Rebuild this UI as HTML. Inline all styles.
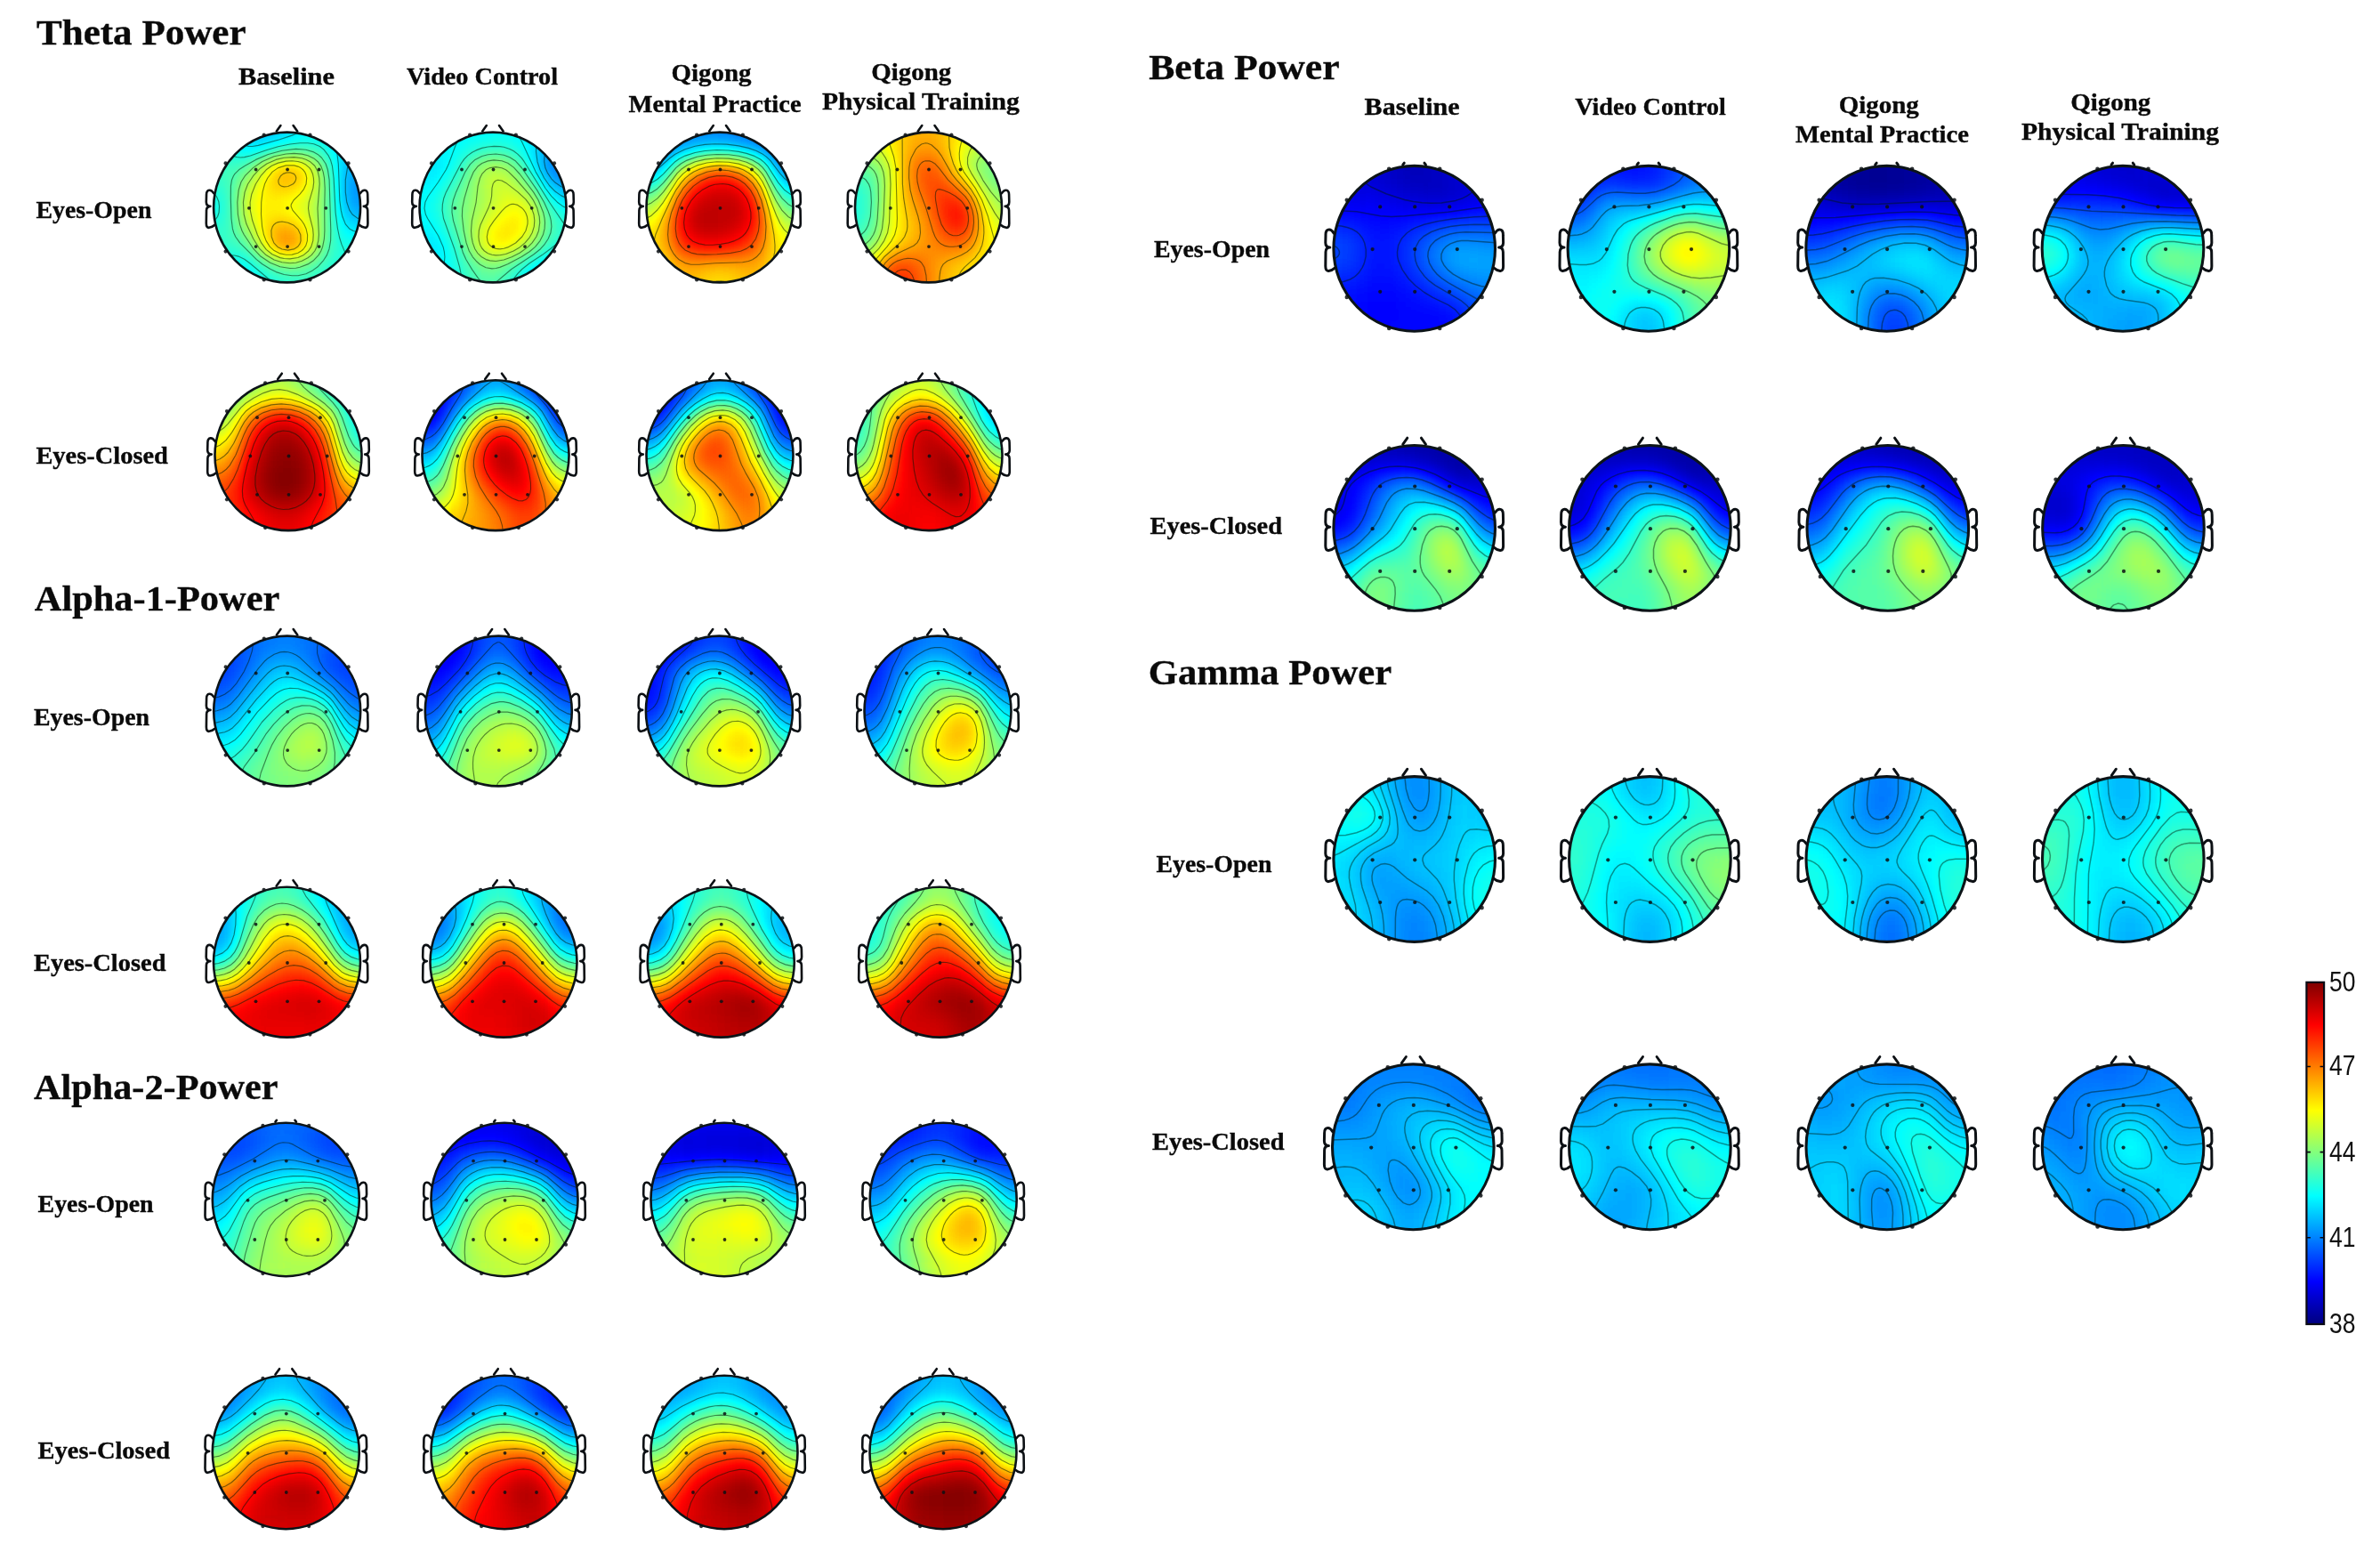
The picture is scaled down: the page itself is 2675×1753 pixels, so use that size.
<!DOCTYPE html>
<html lang="en"><head><meta charset="utf-8"><title>EEG power topographic maps</title>
<style>html,body{margin:0;padding:0;background:#fff}svg{display:block;filter:blur(.45px)}.s{font-family:"Liberation Serif",serif;font-weight:bold;fill:#0a0a0a;stroke:#0a0a0a;stroke-width:.35px}.a{font-family:"Liberation Sans",sans-serif;fill:#111;font-size:30.6px}.ct{fill:none;stroke:#001808;stroke-opacity:.52;stroke-width:1.15;stroke-linejoin:round}.r{stroke-width:1.5;stroke-opacity:.45}</style></head><body>
<svg width="2675" height="1753" viewBox="0 0 2675 1753">
<defs>
<clipPath id="cL"><ellipse rx="82.5" ry="84.4"/></clipPath>
<filter id="fL" x="-0.2" y="-0.2" width="1.4" height="1.4" color-interpolation-filters="sRGB"><feGaussianBlur stdDeviation="9.8"/><feComponentTransfer><feFuncR type="table" tableValues="0 0 0 0 .5 1 1 1 .5"/><feFuncG type="table" tableValues="0 0 .5 1 1 1 .5 0 0"/><feFuncB type="table" tableValues=".5 1 1 1 .5 0 0 0 0"/></feComponentTransfer></filter>
<g id="hL"><ellipse rx="82.5" ry="84.4" fill="none" stroke="#0c1418" stroke-width="2.6"/><path d="M-82.2 -15.6Q-84.8 -19.6 -87.4 -19.3Q-90.8 -18.9 -90.6 -13.5L-90.8 -6Q-90.8 -1.5 -86.2 -1.1Q-90.8 -0.8 -90.6 4L-90.8 18Q-90.8 23.2 -87.6 22.8Q-84 22.4 -81.2 19.8M82.2 -15.6Q84.8 -19.6 87.4 -19.3Q90.8 -18.9 90.6 -13.5L90.8 -6Q90.8 -1.5 86.2 -1.1Q90.8 -0.8 90.6 4L90.8 18Q90.8 23.2 87.6 22.8Q84 22.4 81.2 19.8" fill="none" stroke="#0c1014" stroke-width="2.6" stroke-linecap="round" stroke-linejoin="round"/><g fill="#0c1014" fill-opacity=".85"><circle cx="-35" cy="-42.5" r="1.9"/><circle cx="0.5" cy="-42.5" r="1.9"/><circle cx="36" cy="-42.5" r="1.9"/><circle cx="-42.7" cy="0.8" r="1.9"/><circle cx="0.5" cy="0.8" r="1.9"/><circle cx="43.7" cy="0.8" r="1.9"/><circle cx="-35" cy="44.1" r="1.9"/><circle cx="0.5" cy="44.1" r="1.9"/><circle cx="36" cy="44.1" r="1.9"/><circle cx="-25.9" cy="-81.4" r="2.1"/><circle cx="25.9" cy="-81.4" r="2.1"/><circle cx="-69" cy="-49.6" r="2.1"/><circle cx="69" cy="-49.6" r="2.1"/><circle cx="-69" cy="49.6" r="2.1"/><circle cx="69" cy="49.6" r="2.1"/><circle cx="-25.9" cy="81.4" r="2.1"/><circle cx="25.9" cy="81.4" r="2.1"/></g></g>
<path id="nL" d="M-11.8 -85.6L-7.2 -92M7 -92L11.6 -85.6" fill="none" stroke="#0c1014" stroke-width="2.6" stroke-linecap="round"/>
<path id="mL" d="M-11.8 -85.6L-10.4 -87.4M10.2 -87.4L11.6 -85.6" fill="none" stroke="#0c1014" stroke-width="2.6" stroke-linecap="round"/>
<clipPath id="cL2"><ellipse rx="82.5" ry="86.2"/></clipPath>
<filter id="fL2" x="-0.2" y="-0.2" width="1.4" height="1.4" color-interpolation-filters="sRGB"><feGaussianBlur stdDeviation="9.8"/><feComponentTransfer><feFuncR type="table" tableValues="0 0 0 0 .5 1 1 1 .5"/><feFuncG type="table" tableValues="0 0 .5 1 1 1 .5 0 0"/><feFuncB type="table" tableValues=".5 1 1 1 .5 0 0 0 0"/></feComponentTransfer></filter>
<g id="hL2"><ellipse rx="82.5" ry="86.2" fill="none" stroke="#0c1418" stroke-width="2.6"/><path d="M-82.2 -15.6Q-84.8 -19.6 -87.4 -19.3Q-90.8 -18.9 -90.6 -13.5L-90.8 -6Q-90.8 -1.5 -86.2 -1.1Q-90.8 -0.8 -90.6 4L-90.8 18Q-90.8 23.2 -87.6 22.8Q-84 22.4 -81.2 19.8M82.2 -15.6Q84.8 -19.6 87.4 -19.3Q90.8 -18.9 90.6 -13.5L90.8 -6Q90.8 -1.5 86.2 -1.1Q90.8 -0.8 90.6 4L90.8 18Q90.8 23.2 87.6 22.8Q84 22.4 81.2 19.8" fill="none" stroke="#0c1014" stroke-width="2.6" stroke-linecap="round" stroke-linejoin="round"/><g fill="#0c1014" fill-opacity=".85"><circle cx="-35" cy="-43.4" r="1.9"/><circle cx="0.5" cy="-43.4" r="1.9"/><circle cx="36" cy="-43.4" r="1.9"/><circle cx="-42.7" cy="0.8" r="1.9"/><circle cx="0.5" cy="0.8" r="1.9"/><circle cx="43.7" cy="0.8" r="1.9"/><circle cx="-35" cy="45" r="1.9"/><circle cx="0.5" cy="45" r="1.9"/><circle cx="36" cy="45" r="1.9"/><circle cx="-25.9" cy="-83.1" r="2.1"/><circle cx="25.9" cy="-83.1" r="2.1"/><circle cx="-69" cy="-50.7" r="2.1"/><circle cx="69" cy="-50.7" r="2.1"/><circle cx="-69" cy="50.7" r="2.1"/><circle cx="69" cy="50.7" r="2.1"/><circle cx="-25.9" cy="83.1" r="2.1"/><circle cx="25.9" cy="83.1" r="2.1"/></g></g>
<path id="nL2" d="M-11.8 -87.4L-7.2 -93.8M7 -93.8L11.6 -87.4" fill="none" stroke="#0c1014" stroke-width="2.6" stroke-linecap="round"/>
<path id="mL2" d="M-11.8 -87.4L-10.4 -89.2M10.2 -89.2L11.6 -87.4" fill="none" stroke="#0c1014" stroke-width="2.6" stroke-linecap="round"/>
<clipPath id="cR"><ellipse rx="90.8" ry="92.9"/></clipPath>
<filter id="fR" x="-0.2" y="-0.2" width="1.4" height="1.4" color-interpolation-filters="sRGB"><feGaussianBlur stdDeviation="10.8"/><feComponentTransfer><feFuncR type="table" tableValues="0 0 0 0 .5 1 1 1 .5"/><feFuncG type="table" tableValues="0 0 .5 1 1 1 .5 0 0"/><feFuncB type="table" tableValues=".5 1 1 1 .5 0 0 0 0"/></feComponentTransfer></filter>
<g id="hR"><ellipse rx="90.8" ry="92.9" fill="none" stroke="#0c1418" stroke-width="3.1"/><path d="M-90.5 -17.2Q-93.3 -21.6 -96.2 -21.2Q-99.9 -20.8 -99.7 -14.9L-99.9 -6.6Q-99.9 -1.7 -94.9 -1.2Q-99.9 -0.9 -99.7 4.4L-99.9 19.8Q-99.9 25.5 -96.4 25.1Q-92.5 24.7 -89.4 21.8M90.5 -17.2Q93.3 -21.6 96.2 -21.2Q99.9 -20.8 99.7 -14.9L99.9 -6.6Q99.9 -1.7 94.9 -1.2Q99.9 -0.9 99.7 4.4L99.9 19.8Q99.9 25.5 96.4 25.1Q92.5 24.7 89.4 21.8" fill="none" stroke="#0c1014" stroke-width="3" stroke-linecap="round" stroke-linejoin="round"/><g fill="#0c1014" fill-opacity=".85"><circle cx="-38.5" cy="-46.9" r="2.1"/><circle cx="0.5" cy="-46.9" r="2.1"/><circle cx="39.5" cy="-46.9" r="2.1"/><circle cx="-47.1" cy="0.8" r="2.1"/><circle cx="0.5" cy="0.8" r="2.1"/><circle cx="48.1" cy="0.8" r="2.1"/><circle cx="-38.5" cy="48.5" r="2.1"/><circle cx="0.5" cy="48.5" r="2.1"/><circle cx="39.5" cy="48.5" r="2.1"/><circle cx="-28.5" cy="-89.6" r="2.3"/><circle cx="28.5" cy="-89.6" r="2.3"/><circle cx="-75.9" cy="-54.6" r="2.3"/><circle cx="75.9" cy="-54.6" r="2.3"/><circle cx="-75.9" cy="54.6" r="2.3"/><circle cx="75.9" cy="54.6" r="2.3"/><circle cx="-28.5" cy="89.6" r="2.3"/><circle cx="28.5" cy="89.6" r="2.3"/></g></g>
<path id="nR" d="M-13 -94.1L-7.9 -101.3M7.7 -101.3L12.8 -94.1" fill="none" stroke="#0c1014" stroke-width="2.9" stroke-linecap="round"/>
<path id="mR" d="M-13 -94.1L-11.4 -96.2M11.2 -96.2L12.8 -94.1" fill="none" stroke="#0c1014" stroke-width="2.9" stroke-linecap="round"/>
<linearGradient id="jet" x1="0" y1="1" x2="0" y2="0"><stop offset="0" stop-color="#00007f"/><stop offset=".125" stop-color="#0000ff"/><stop offset=".375" stop-color="#00ffff"/><stop offset=".625" stop-color="#ffff00"/><stop offset=".875" stop-color="#ff0000"/><stop offset="1" stop-color="#7f0000"/></linearGradient>
</defs>
<rect width="2675" height="1753" fill="#fff"/>
<g transform="translate(322.6,233)">
<g clip-path="url(#cL)">
<g filter="url(#fL)">
<path d="M-123.4 -125.5H-71V-72.6H-123.4z" fill="#666666"/>
<path d="M-71.6 -125.5H-53.2V-72.6H-71.6z" fill="#626262"/>
<path d="M-53.8 -125.5H-35.3V-72.6H-53.8z" fill="#545454"/>
<path d="M-35.9 -125.5H-17.5V-72.6H-35.9z" fill="#505050"/>
<path d="M-18.1 -125.5H0.3V-72.6H-18.1z" fill="#525252"/>
<path d="M-0.3 -125.5H18.1V-72.6H-0.3z" fill="#585858"/>
<path d="M17.5 -125.5H35.9V-72.6H17.5z" fill="#5e5e5e"/>
<path d="M35.3 -125.5H53.8V-72.6H35.3z" fill="#606060"/>
<path d="M53.2 -125.5H71.6V-72.6H53.2z" fill="#585858"/>
<path d="M71 -125.5H123.4V-72.6H71z" fill="#555555"/>
<path d="M-123.4 -73.2H-71V-54.4H-123.4z" fill="#6a6a6a"/>
<path d="M-71.6 -73.2H-53.2V-54.4H-71.6z" fill="#656565"/>
<path d="M-53.8 -73.2H-35.3V-54.4H-53.8z" fill="#5a5a5a"/>
<path d="M-35.9 -73.2H-17.5V-54.4H-35.9z" fill="#5f5f5f"/>
<path d="M-18.1 -73.2H0.3V-54.4H-18.1z" fill="#6b6b6b"/>
<path d="M-0.3 -73.2H18.1V-54.4H-0.3z" fill="#727272"/>
<path d="M17.5 -73.2H35.9V-54.4H17.5z" fill="#6f6f6f"/>
<path d="M35.3 -73.2H53.8V-54.4H35.3z" fill="#656565"/>
<path d="M53.2 -73.2H71.6V-54.4H53.2z" fill="#575757"/>
<path d="M71 -73.2H123.4V-54.4H71z" fill="#545454"/>
<path d="M-123.4 -55H-71V-36.2H-123.4z" fill="#727272"/>
<path d="M-71.6 -55H-53.2V-36.2H-71.6z" fill="#6e6e6e"/>
<path d="M-53.8 -55H-35.3V-36.2H-53.8z" fill="#747474"/>
<path d="M-35.9 -55H-17.5V-36.2H-35.9z" fill="#919191"/>
<path d="M-18.1 -55H0.3V-36.2H-18.1z" fill="#adadad"/>
<path d="M-0.3 -55H18.1V-36.2H-0.3z" fill="#b2b2b2"/>
<path d="M17.5 -55H35.9V-36.2H17.5z" fill="#9b9b9b"/>
<path d="M35.3 -55H53.8V-36.2H35.3z" fill="#767676"/>
<path d="M53.2 -55H71.6V-36.2H53.2z" fill="#515151"/>
<path d="M71 -55H123.4V-36.2H71z" fill="#4b4b4b"/>
<path d="M-123.4 -36.8H-71V-17.9H-123.4z" fill="#6c6c6c"/>
<path d="M-71.6 -36.8H-53.2V-17.9H-71.6z" fill="#707070"/>
<path d="M-53.8 -36.8H-35.3V-17.9H-53.8z" fill="#8a8a8a"/>
<path d="M-35.9 -36.8H-17.5V-17.9H-35.9z" fill="#a2a2a2"/>
<path d="M-18.1 -36.8H0.3V-17.9H-18.1z" fill="#b2b2b2"/>
<path d="M-0.3 -36.8H18.1V-17.9H-0.3z" fill="#b2b2b2"/>
<path d="M17.5 -36.8H35.9V-17.9H17.5z" fill="#9f9f9f"/>
<path d="M35.3 -36.8H53.8V-17.9H35.3z" fill="#7d7d7d"/>
<path d="M53.2 -36.8H71.6V-17.9H53.2z" fill="#4f4f4f"/>
<path d="M71 -36.8H123.4V-17.9H71z" fill="#444444"/>
<path d="M-123.4 -18.5H-71V0.3H-123.4z" fill="#636363"/>
<path d="M-71.6 -18.5H-53.2V0.3H-71.6z" fill="#6f6f6f"/>
<path d="M-53.8 -18.5H-35.3V0.3H-53.8z" fill="#979797"/>
<path d="M-35.9 -18.5H-17.5V0.3H-35.9z" fill="#a3a3a3"/>
<path d="M-18.1 -18.5H0.3V0.3H-18.1z" fill="#a2a2a2"/>
<path d="M-0.3 -18.5H18.1V0.3H-0.3z" fill="#9c9c9c"/>
<path d="M17.5 -18.5H35.9V0.3H17.5z" fill="#949494"/>
<path d="M35.3 -18.5H53.8V0.3H35.3z" fill="#7e7e7e"/>
<path d="M53.2 -18.5H71.6V0.3H53.2z" fill="#505050"/>
<path d="M71 -18.5H123.4V0.3H71z" fill="#434343"/>
<path d="M-123.4 -0.3H-71V18.5H-123.4z" fill="#636363"/>
<path d="M-71.6 -0.3H-53.2V18.5H-71.6z" fill="#6f6f6f"/>
<path d="M-53.8 -0.3H-35.3V18.5H-53.8z" fill="#959595"/>
<path d="M-35.9 -0.3H-17.5V18.5H-35.9z" fill="#a4a4a4"/>
<path d="M-18.1 -0.3H0.3V18.5H-18.1z" fill="#a4a4a4"/>
<path d="M-0.3 -0.3H18.1V18.5H-0.3z" fill="#9e9e9e"/>
<path d="M17.5 -0.3H35.9V18.5H17.5z" fill="#939393"/>
<path d="M35.3 -0.3H53.8V18.5H35.3z" fill="#7d7d7d"/>
<path d="M53.2 -0.3H71.6V18.5H53.2z" fill="#565656"/>
<path d="M71 -0.3H123.4V18.5H71z" fill="#4c4c4c"/>
<path d="M-123.4 17.9H-71V36.8H-123.4z" fill="#6c6c6c"/>
<path d="M-71.6 17.9H-53.2V36.8H-71.6z" fill="#6e6e6e"/>
<path d="M-53.8 17.9H-35.3V36.8H-53.8z" fill="#858585"/>
<path d="M-35.9 17.9H-17.5V36.8H-35.9z" fill="#a4a4a4"/>
<path d="M-18.1 17.9H0.3V36.8H-18.1z" fill="#bababa"/>
<path d="M-0.3 17.9H18.1V36.8H-0.3z" fill="#b8b8b8"/>
<path d="M17.5 17.9H35.9V36.8H17.5z" fill="#9d9d9d"/>
<path d="M35.3 17.9H53.8V36.8H35.3z" fill="#797979"/>
<path d="M53.2 17.9H71.6V36.8H53.2z" fill="#5f5f5f"/>
<path d="M71 17.9H123.4V36.8H71z" fill="#5c5c5c"/>
<path d="M-123.4 36.2H-71V55H-123.4z" fill="#707070"/>
<path d="M-71.6 36.2H-53.2V55H-71.6z" fill="#6b6b6b"/>
<path d="M-53.8 36.2H-35.3V55H-53.8z" fill="#717171"/>
<path d="M-35.9 36.2H-17.5V55H-35.9z" fill="#979797"/>
<path d="M-18.1 36.2H0.3V55H-18.1z" fill="#bbbbbb"/>
<path d="M-0.3 36.2H18.1V55H-0.3z" fill="#bdbdbd"/>
<path d="M17.5 36.2H35.9V55H17.5z" fill="#9b9b9b"/>
<path d="M35.3 36.2H53.8V55H35.3z" fill="#747474"/>
<path d="M53.2 36.2H71.6V55H53.2z" fill="#666666"/>
<path d="M71 36.2H123.4V55H71z" fill="#696969"/>
<path d="M-123.4 54.4H-71V73.2H-123.4z" fill="#656565"/>
<path d="M-71.6 54.4H-53.2V73.2H-71.6z" fill="#616161"/>
<path d="M-53.8 54.4H-35.3V73.2H-53.8z" fill="#5f5f5f"/>
<path d="M-35.9 54.4H-17.5V73.2H-35.9z" fill="#6f6f6f"/>
<path d="M-18.1 54.4H0.3V73.2H-18.1z" fill="#7f7f7f"/>
<path d="M-0.3 54.4H18.1V73.2H-0.3z" fill="#838383"/>
<path d="M17.5 54.4H35.9V73.2H17.5z" fill="#787878"/>
<path d="M35.3 54.4H53.8V73.2H35.3z" fill="#6b6b6b"/>
<path d="M53.2 54.4H71.6V73.2H53.2z" fill="#676767"/>
<path d="M71 54.4H123.4V73.2H71z" fill="#696969"/>
<path d="M-123.4 72.6H-71V125.5H-123.4z" fill="#606060"/>
<path d="M-71.6 72.6H-53.2V125.5H-71.6z" fill="#5e5e5e"/>
<path d="M-53.8 72.6H-35.3V125.5H-53.8z" fill="#5d5d5d"/>
<path d="M-35.9 72.6H-17.5V125.5H-35.9z" fill="#626262"/>
<path d="M-18.1 72.6H0.3V125.5H-18.1z" fill="#686868"/>
<path d="M-0.3 72.6H18.1V125.5H-0.3z" fill="#6b6b6b"/>
<path d="M17.5 72.6H35.9V125.5H17.5z" fill="#6b6b6b"/>
<path d="M35.3 72.6H53.8V125.5H35.3z" fill="#696969"/>
<path d="M53.2 72.6H71.6V125.5H53.2z" fill="#666666"/>
<path d="M71 72.6H123.4V125.5H71z" fill="#666666"/>
</g>
<path class="ct" d="M71 -51.3l-3.1 6.9-2.2 13.6 0 13.7 1.5 11.4 3 8.8 3.3 4.9 5.6 4.1 6.7 1.8M-50.1 -72.3l3.7 2.8 3 0.9 4.4 0.1 6.7-1.1 24-6.7 14-4.6 5.5-2.3 5.5-3.5M55.5 -67.2l2.2 18.2 1.5 41 1.5 11.4 1.6 6.9 3.4 8.6 4.3 5 4.6 2.6 6.7 1.5M-63.5 -58.9l6.7 2.4 4.5 0.5 4.4-0.4 6.7-1.6 17.8-6.3 13.4-4 13.3-2.7 11.2-1.3 8.9 0 6.7 1 6.7 2.8 4.4 3.4 5.4 7 2.2 4.5 2 6.9 1.7 13.7 2 38.7 2.3 17.8 2.2 10.5 2.3 7.4 4.4 10.5 2.2 3.8M-83.5 16l2.2-1.4 3.3-4.3 1.5-4.6 0.4-6.8-0.7-5.5-2.3-5.4-2.4-2.8-4-2.3M-12.3 88.2l-5-5-23.9-20-6.7-4.9-6.7-3.2-4.4-1.1-4.5-0.2-4.4 0.8M12.3 76.7l-6.7 0.1-8.9-1.3-9-2.9-6.6-3.3-8.9-5.6-6.7-5.3-18.5-18.5-4.9-6.9-2-4.5-1.3-4.6-1.4-11.4-0.7-22.8 0.1-13.6 1.1-6.9 1.9-4.5 1.5-2.3 4.6-4.6 6.9-4.5 12.2-6.9 13.8-5.9 15.6-4.3 15.6-1.8 11.2 0.9 8.9 2.6 4.4 2.5 4.4 3.8 4.6 6.8 2.3 6.8 1.7 11.4 1.7 57-0.2 11.4-1.6 9.1-2.6 6.9-3.6 5.7-6.7 7.5-6.7 4.8-6.6 3.1-8.9 2M14.5 67.3l-4.5 0.9-6.7 0.3-11.1-1.7-11.1-4.6-11.2-7.5-7.5-8-10.7-15.9-2.3-4.6-2.4-6.8-2.2-11.4-0.6-13.7 1.4-13.7 2.8-9.1 4.3-6.8 9.1-9.1 10.4-7.1 13.3-5.7 13.4-2.8 8.9-0.6 8.9 0.7 6.7 1.6 6.7 3.2 4.6 3.8 3.3 4.6 2.6 6.8 1.3 6.9 0.7 11.4-0.5 25 0.2 22.8-0.5 9.1-1.8 9.1-1.8 4.6-2.7 4.6-5.4 5.8-6.7 4.5-8.9 3.4M3.3 62.7l-8.9-0.9-8.9-2.8-9.1-5.4-7.1-6.9-7.2-11.4-7.8-16.7-2.7-10.6-0.8-13.7 1.7-11.4 3.5-9.1 6-9.1 7.9-8.5 7.4-5.2 10.2-4.6 9.2-2.1 11.1-0.7 8.9 1.2 4.5 1.4 4.4 2.2 5.5 4.9 3.6 6.8 1.5 6.9 0.4 6.8-2.2 27.3 1.4 29.7-0.6 6.8-1.8 6.8-2.2 4.6-3.7 4.6-4.1 3.2-6.7 3.5-6.7 1.9-6.7 0.5M12.3 56.5l-9 1.4-6.6-0.4-4.5-0.9-8.9-3.8-6.7-5.4-5.5-7.5-4.4-9.1-5.6-16-2.4-11.4-0.2-9.1 1.7-9.1 4.6-11.4 5.7-9.1 6.1-6.9 6.2-4.5 7.2-3.2 8.9-2 6.7-0.3 6.7 0.7 4.4 1.3 4.5 2.3 4.1 3.5 1.6 2.2 2 4.6 0.9 4.6 0.3 4.8-0.8 6.6-4.7 15.9-0.7 6.8 1 6.9 4.1 15.9 0.6 6.9-0.4 6.8-2.1 6.8-3 4.6-5.2 4.4-6.6 3.1M12.3 51.3l-6.7 1.8-6.7 0.1-6.7-1.3-6.7-3.3-4.7-4.2-4.3-6.8-2.6-6.8-1.9-9.2-1.1-13.6 0.2-13.7 1.4-11.4 2.4-9.1 3.3-6.8 5.3-6.9 6.5-4.5 8.9-2.7 8.9 0 4.5 1.2 3 1.5 2.8 2.2 1.8 2.3 1.3 2.8 0.9 4.1-0.6 6.8-2.6 5.8-4.4 5.6-7.1 6.8-2.7 4.6-0.2 2.3 1.9 4.5 9.9 11.4 3.1 4.6 2 4.5 1.6 6.9-0.2 6.8-1.6 5.3-2.3 3.4-2.2 2.2-4.4 2.8M1.1 -23.5l-4.4 0.4-2.3-0.5-2.2-1.2-1.2-1.4-0.7-2.3 0.1-2.3 2.4-4.5 2.8-2.3 3.3-1.3 4.4-0.3 4.5 1.6 1.8 2.3 0.6 2.3-0.3 2.2-1.1 2.3-2 2.3-5.7 2.7M7.8 46.9l-6.7 1.2-6.7-1.1-5-2.6-4.2-4.5-2.6-6.9-0.3-6.8 1.4-4.6 1.8-2.4 2.2-1.7 2.3-0.9 4.4-0.6 6.7 1.2 6.7 3.1 4.5 4.3 2.9 6.2 0.3 6.8-1 3.2-2.2 3.2-4.5 2.9"/>
</g>
<use href="#hL"/>
<use href="#nL"/>
</g>
<g transform="translate(554,233)">
<g clip-path="url(#cL)">
<g filter="url(#fL)">
<path d="M-123.4 -125.5H-71V-72.6H-123.4z" fill="#606060"/>
<path d="M-71.6 -125.5H-53.2V-72.6H-71.6z" fill="#606060"/>
<path d="M-53.8 -125.5H-35.3V-72.6H-53.8z" fill="#606060"/>
<path d="M-35.9 -125.5H-17.5V-72.6H-35.9z" fill="#5f5f5f"/>
<path d="M-18.1 -125.5H0.3V-72.6H-18.1z" fill="#5f5f5f"/>
<path d="M-0.3 -125.5H18.1V-72.6H-0.3z" fill="#606060"/>
<path d="M17.5 -125.5H35.9V-72.6H17.5z" fill="#606060"/>
<path d="M35.3 -125.5H53.8V-72.6H35.3z" fill="#5c5c5c"/>
<path d="M53.2 -125.5H71.6V-72.6H53.2z" fill="#4f4f4f"/>
<path d="M71 -125.5H123.4V-72.6H71z" fill="#4a4a4a"/>
<path d="M-123.4 -73.2H-71V-54.4H-123.4z" fill="#5e5e5e"/>
<path d="M-71.6 -73.2H-53.2V-54.4H-71.6z" fill="#5d5d5d"/>
<path d="M-53.8 -73.2H-35.3V-54.4H-53.8z" fill="#5f5f5f"/>
<path d="M-35.9 -73.2H-17.5V-54.4H-35.9z" fill="#656565"/>
<path d="M-18.1 -73.2H0.3V-54.4H-18.1z" fill="#6b6b6b"/>
<path d="M-0.3 -73.2H18.1V-54.4H-0.3z" fill="#6c6c6c"/>
<path d="M17.5 -73.2H35.9V-54.4H17.5z" fill="#666666"/>
<path d="M35.3 -73.2H53.8V-54.4H35.3z" fill="#5a5a5a"/>
<path d="M53.2 -73.2H71.6V-54.4H53.2z" fill="#494949"/>
<path d="M71 -73.2H123.4V-54.4H71z" fill="#454545"/>
<path d="M-123.4 -55H-71V-36.2H-123.4z" fill="#5b5b5b"/>
<path d="M-71.6 -55H-53.2V-36.2H-71.6z" fill="#595959"/>
<path d="M-53.8 -55H-35.3V-36.2H-53.8z" fill="#616161"/>
<path d="M-35.9 -55H-17.5V-36.2H-35.9z" fill="#777777"/>
<path d="M-18.1 -55H0.3V-36.2H-18.1z" fill="#8b8b8b"/>
<path d="M-0.3 -55H18.1V-36.2H-0.3z" fill="#8e8e8e"/>
<path d="M17.5 -55H35.9V-36.2H17.5z" fill="#7c7c7c"/>
<path d="M35.3 -55H53.8V-36.2H35.3z" fill="#5f5f5f"/>
<path d="M53.2 -55H71.6V-36.2H53.2z" fill="#404040"/>
<path d="M71 -55H123.4V-36.2H71z" fill="#3b3b3b"/>
<path d="M-123.4 -36.8H-71V-17.9H-123.4z" fill="#5c5c5c"/>
<path d="M-71.6 -36.8H-53.2V-17.9H-71.6z" fill="#5e5e5e"/>
<path d="M-53.8 -36.8H-35.3V-17.9H-53.8z" fill="#6b6b6b"/>
<path d="M-35.9 -36.8H-17.5V-17.9H-35.9z" fill="#7f7f7f"/>
<path d="M-18.1 -36.8H0.3V-17.9H-18.1z" fill="#909090"/>
<path d="M-0.3 -36.8H18.1V-17.9H-0.3z" fill="#969696"/>
<path d="M17.5 -36.8H35.9V-17.9H17.5z" fill="#8d8d8d"/>
<path d="M35.3 -36.8H53.8V-17.9H35.3z" fill="#757575"/>
<path d="M53.2 -36.8H71.6V-17.9H53.2z" fill="#4f4f4f"/>
<path d="M71 -36.8H123.4V-17.9H71z" fill="#454545"/>
<path d="M-123.4 -18.5H-71V0.3H-123.4z" fill="#5f5f5f"/>
<path d="M-71.6 -18.5H-53.2V0.3H-71.6z" fill="#646464"/>
<path d="M-53.8 -18.5H-35.3V0.3H-53.8z" fill="#767676"/>
<path d="M-35.9 -18.5H-17.5V0.3H-35.9z" fill="#828282"/>
<path d="M-18.1 -18.5H0.3V0.3H-18.1z" fill="#8b8b8b"/>
<path d="M-0.3 -18.5H18.1V0.3H-0.3z" fill="#959595"/>
<path d="M17.5 -18.5H35.9V0.3H17.5z" fill="#9a9a9a"/>
<path d="M35.3 -18.5H53.8V0.3H35.3z" fill="#8e8e8e"/>
<path d="M53.2 -18.5H71.6V0.3H53.2z" fill="#656565"/>
<path d="M71 -18.5H123.4V0.3H71z" fill="#575757"/>
<path d="M-123.4 -0.3H-71V18.5H-123.4z" fill="#5f5f5f"/>
<path d="M-71.6 -0.3H-53.2V18.5H-71.6z" fill="#646464"/>
<path d="M-53.8 -0.3H-35.3V18.5H-53.8z" fill="#777777"/>
<path d="M-35.9 -0.3H-17.5V18.5H-35.9z" fill="#848484"/>
<path d="M-18.1 -0.3H0.3V18.5H-18.1z" fill="#8f8f8f"/>
<path d="M-0.3 -0.3H18.1V18.5H-0.3z" fill="#9c9c9c"/>
<path d="M17.5 -0.3H35.9V18.5H17.5z" fill="#a4a4a4"/>
<path d="M35.3 -0.3H53.8V18.5H35.3z" fill="#9b9b9b"/>
<path d="M53.2 -0.3H71.6V18.5H53.2z" fill="#737373"/>
<path d="M71 -0.3H123.4V18.5H71z" fill="#666666"/>
<path d="M-123.4 17.9H-71V36.8H-123.4z" fill="#5c5c5c"/>
<path d="M-71.6 17.9H-53.2V36.8H-71.6z" fill="#5e5e5e"/>
<path d="M-53.8 17.9H-35.3V36.8H-53.8z" fill="#6f6f6f"/>
<path d="M-35.9 17.9H-17.5V36.8H-35.9z" fill="#858585"/>
<path d="M-18.1 17.9H0.3V36.8H-18.1z" fill="#9b9b9b"/>
<path d="M-0.3 17.9H18.1V36.8H-0.3z" fill="#a8a8a8"/>
<path d="M17.5 17.9H35.9V36.8H17.5z" fill="#a7a7a7"/>
<path d="M35.3 17.9H53.8V36.8H35.3z" fill="#979797"/>
<path d="M53.2 17.9H71.6V36.8H53.2z" fill="#747474"/>
<path d="M71 17.9H123.4V36.8H71z" fill="#6b6b6b"/>
<path d="M-123.4 36.2H-71V55H-123.4z" fill="#5b5b5b"/>
<path d="M-71.6 36.2H-53.2V55H-71.6z" fill="#595959"/>
<path d="M-53.8 36.2H-35.3V55H-53.8z" fill="#656565"/>
<path d="M-35.9 36.2H-17.5V55H-35.9z" fill="#818181"/>
<path d="M-18.1 36.2H0.3V55H-18.1z" fill="#9c9c9c"/>
<path d="M-0.3 36.2H18.1V55H-0.3z" fill="#a5a5a5"/>
<path d="M17.5 36.2H35.9V55H17.5z" fill="#999999"/>
<path d="M35.3 36.2H53.8V55H35.3z" fill="#828282"/>
<path d="M53.2 36.2H71.6V55H53.2z" fill="#6a6a6a"/>
<path d="M71 36.2H123.4V55H71z" fill="#666666"/>
<path d="M-123.4 54.4H-71V73.2H-123.4z" fill="#5e5e5e"/>
<path d="M-71.6 54.4H-53.2V73.2H-71.6z" fill="#5d5d5d"/>
<path d="M-53.8 54.4H-35.3V73.2H-53.8z" fill="#636363"/>
<path d="M-35.9 54.4H-17.5V73.2H-35.9z" fill="#737373"/>
<path d="M-18.1 54.4H0.3V73.2H-18.1z" fill="#808080"/>
<path d="M-0.3 54.4H18.1V73.2H-0.3z" fill="#7f7f7f"/>
<path d="M17.5 54.4H35.9V73.2H17.5z" fill="#717171"/>
<path d="M35.3 54.4H53.8V73.2H35.3z" fill="#606060"/>
<path d="M53.2 54.4H71.6V73.2H53.2z" fill="#585858"/>
<path d="M71 54.4H123.4V73.2H71z" fill="#595959"/>
<path d="M-123.4 72.6H-71V125.5H-123.4z" fill="#606060"/>
<path d="M-71.6 72.6H-53.2V125.5H-71.6z" fill="#5f5f5f"/>
<path d="M-53.8 72.6H-35.3V125.5H-53.8z" fill="#646464"/>
<path d="M-35.9 72.6H-17.5V125.5H-35.9z" fill="#6e6e6e"/>
<path d="M-18.1 72.6H0.3V125.5H-18.1z" fill="#757575"/>
<path d="M-0.3 72.6H18.1V125.5H-0.3z" fill="#727272"/>
<path d="M17.5 72.6H35.9V125.5H17.5z" fill="#656565"/>
<path d="M35.3 72.6H53.8V125.5H35.3z" fill="#585858"/>
<path d="M53.2 72.6H71.6V125.5H53.2z" fill="#545454"/>
<path d="M71 72.6H123.4V125.5H71z" fill="#555555"/>
</g>
<path class="ct" d="M59.7 -64.9l-1.7 6.8-0.3 6.8 1.2 6.9 2.4 5.5 4.4 6.7 4.5 4.5 6.6 4.5 6.7 2.4M48.8 -71.8l-0.3 9.1 1.5 11.4 3 9.1 4.6 9.2 5.9 8.5 6.7 6.8 6.6 4.6 4.5 2 4.5 1.2M-55 67.2l0.9-11.4-0.5-5.6-1.3-5.8-5.4-12.4-12.1-19.5-2.2-4.5-1.4-6.9 0.9-6.8 3.3-6.8 11.5-16 8.6-13.7 3.1-6.8 7.6-20.5 3-5.8 2.2-2.8 4.5-3.2 4.5-1.8 24.5-5.6M25.3 -85.5l7 11.2 15.8 34.4 10.9 18.4 6.7 8.8 6.7 6.9 6.7 4.9 6.7 2.7M65.7 57.5l-10.3 5.2-9.7 6.6-4.8 4.8-4.6 6.8M-34.7 80.9l-2.7-13.7-6-21-12.1-33.7-1.4-9.1 0.3-6.8 1.4-6.9 2.6-6.8 16.7-31.9 3.6-5.1 3.9-4 5-3.6 4.5-2.4 6.6-2.5 6.7-1.4 6.7-0.6 6.7 0.2 4.5 0.7 6.6 2.2 4.5 2.3 4.4 3.3 4.5 4.6 2.9 4 28.3 45.6 17 25.1 3 6.2M81.3 32.3l-5.3 5.3-11.5 9.1-9.2 6.9-14.1 9.2-8.5 6.7-4.5 4.6-3.6 4.5-3.4 6.9M-9.8 87.7l-6.9-8.3-6.7-9.5-6.7-11.2-3.4-7.4-11-36.5-1.5-9.1 0.1-6.8 1.3-6.9 3.2-9.1 10.3-22.8 5.5-8.5 5.6-5.2 7.7-3.9 6.7-1.8 8.9-0.7 9 1.2 6.6 2.5 6.7 4.4 6.7 7.4 17.3 25.1 7.9 13.7 4.2 9.1 2.5 6.9 1.1 4.5 0.6 6.8-0.9 6.9-2.8 6.8-4.6 6.9-4.1 4.5-7.8 6.3-24.9 16.5-21.9 18.5M7.8 67.4l-4.5 1.1-4.4 0.4-6.7-1.1-6.7-3.6-4.4-4-3.8-4.4-4-6.8-3.2-9.1-2.9-13.7-1.8-15.9 0.3-9.2 2.3-11.4 5.4-18.2 4.9-11.4 5-6.4 4.4-3.2 6.7-2.6 6.7-1 8.9 0.8 6.7 2.6 6.7 4.8 6.7 7.4 15.5 20.4 5.5 9.1 5.5 13.7 1.5 6.8 0.4 4.6-0.4 6.8-1.7 6.9-3.4 6.8-5.4 6.8-6.4 5.4-8.9 5.8-15.6 8.2-8.9 3.6M3.3 60.5l-6.6-0.6-4.5-1.3-4.8-2.8-4.7-4.5-2.9-4.6-2.5-6.8-1.3-6.9-0.5-6.8 0.9-11.4 4.7-20.5 2-18.2 2.4-9.1 2.3-4.6 4.4-4.6 4.6-2.2 6.5-1 6.7 1.1 4.5 2.1 3.1 2.3 8 7.9 15.6 17.9 4.5 6.5 4.1 8.7 2.4 9.2 0.5 6.8-1.2 9.1-2.7 6.8-4.7 6.9-4.5 4.5-9.5 6.8-8.9 4.5-8.9 3.3-9 1.5M7.8 53.8l-4.5 0.1-4.4-0.7-4.5-1.5-4-2.7-2.7-3-2-3.8-1.3-4.6-0.5-4.6 0.4-6.8 1.8-6.8 8.7-18.3 2.5-6.8 1.3-6.8 0.4-9.1 1.1-4.6 1.4-2.3 1.8-1.5 2.3-0.7 4.4 0.7 4.5 2.4 13.3 10.2 9 8.3 4.3 5.7 2.5 4.5 2.4 6.9 0.8 6.8-0.5 6.8-2.1 6.9-3 5.3-5.1 6.1-6 5-6.9 4.1-8.7 3.5-6.7 1.3M7.8 46.9l-4.5-0.5-4.4-1.9-2.7-2.3-1.5-2.3-0.8-2.3-0.6-4.6 1.3-6.8 2.1-4.6 4.4-6.4 8.9-11 4.5-4.5 4.4-2.7 2.3-0.6 2.2-0.1 4.4 1.1 4.5 3 2.2 2.3 2.3 3.3 1.6 4.3 0.7 4.5-0.1 3.9-2 7.5-4.2 6.8-7.2 7-8.9 4.9-4.4 1.4-4.5 0.6"/>
</g>
<use href="#hL"/>
<use href="#nL"/>
</g>
<g transform="translate(809,233)">
<g clip-path="url(#cL)">
<g filter="url(#fL)">
<path d="M-123.4 -125.5H-71V-72.6H-123.4z" fill="#3c3c3c"/>
<path d="M-71.6 -125.5H-53.2V-72.6H-71.6z" fill="#3c3c3c"/>
<path d="M-53.8 -125.5H-35.3V-72.6H-53.8z" fill="#3f3f3f"/>
<path d="M-35.9 -125.5H-17.5V-72.6H-35.9z" fill="#404040"/>
<path d="M-18.1 -125.5H0.3V-72.6H-18.1z" fill="#404040"/>
<path d="M-0.3 -125.5H18.1V-72.6H-0.3z" fill="#3f3f3f"/>
<path d="M17.5 -125.5H35.9V-72.6H17.5z" fill="#3c3c3c"/>
<path d="M35.3 -125.5H53.8V-72.6H35.3z" fill="#3a3a3a"/>
<path d="M53.2 -125.5H71.6V-72.6H53.2z" fill="#3b3b3b"/>
<path d="M71 -125.5H123.4V-72.6H71z" fill="#3b3b3b"/>
<path d="M-123.4 -73.2H-71V-54.4H-123.4z" fill="#3b3b3b"/>
<path d="M-71.6 -73.2H-53.2V-54.4H-71.6z" fill="#3e3e3e"/>
<path d="M-53.8 -73.2H-35.3V-54.4H-53.8z" fill="#4b4b4b"/>
<path d="M-35.9 -73.2H-17.5V-54.4H-35.9z" fill="#555555"/>
<path d="M-18.1 -73.2H0.3V-54.4H-18.1z" fill="#5c5c5c"/>
<path d="M-0.3 -73.2H18.1V-54.4H-0.3z" fill="#5b5b5b"/>
<path d="M17.5 -73.2H35.9V-54.4H17.5z" fill="#535353"/>
<path d="M35.3 -73.2H53.8V-54.4H35.3z" fill="#484848"/>
<path d="M53.2 -73.2H71.6V-54.4H53.2z" fill="#3c3c3c"/>
<path d="M71 -73.2H123.4V-54.4H71z" fill="#393939"/>
<path d="M-123.4 -55H-71V-36.2H-123.4z" fill="#464646"/>
<path d="M-71.6 -55H-53.2V-36.2H-71.6z" fill="#515151"/>
<path d="M-53.8 -55H-35.3V-36.2H-53.8z" fill="#828282"/>
<path d="M-35.9 -55H-17.5V-36.2H-35.9z" fill="#a5a5a5"/>
<path d="M-18.1 -55H0.3V-36.2H-18.1z" fill="#b9b9b9"/>
<path d="M-0.3 -55H18.1V-36.2H-0.3z" fill="#bababa"/>
<path d="M17.5 -55H35.9V-36.2H17.5z" fill="#a9a9a9"/>
<path d="M35.3 -55H53.8V-36.2H35.3z" fill="#838383"/>
<path d="M53.2 -55H71.6V-36.2H53.2z" fill="#4a4a4a"/>
<path d="M71 -55H123.4V-36.2H71z" fill="#3c3c3c"/>
<path d="M-123.4 -36.8H-71V-17.9H-123.4z" fill="#5f5f5f"/>
<path d="M-71.6 -36.8H-53.2V-17.9H-71.6z" fill="#707070"/>
<path d="M-53.8 -36.8H-35.3V-17.9H-53.8z" fill="#afafaf"/>
<path d="M-35.9 -36.8H-17.5V-17.9H-35.9z" fill="#d3d3d3"/>
<path d="M-18.1 -36.8H0.3V-17.9H-18.1z" fill="#e2e2e2"/>
<path d="M-0.3 -36.8H18.1V-17.9H-0.3z" fill="#e4e4e4"/>
<path d="M17.5 -36.8H35.9V-17.9H17.5z" fill="#d7d7d7"/>
<path d="M35.3 -36.8H53.8V-17.9H35.3z" fill="#b0b0b0"/>
<path d="M53.2 -36.8H71.6V-17.9H53.2z" fill="#636363"/>
<path d="M71 -36.8H123.4V-17.9H71z" fill="#4e4e4e"/>
<path d="M-123.4 -18.5H-71V0.3H-123.4z" fill="#7d7d7d"/>
<path d="M-71.6 -18.5H-53.2V0.3H-71.6z" fill="#909090"/>
<path d="M-53.8 -18.5H-35.3V0.3H-53.8z" fill="#cfcfcf"/>
<path d="M-35.9 -18.5H-17.5V0.3H-35.9z" fill="#e9e9e9"/>
<path d="M-18.1 -18.5H0.3V0.3H-18.1z" fill="#ededed"/>
<path d="M-0.3 -18.5H18.1V0.3H-0.3z" fill="#eeeeee"/>
<path d="M17.5 -18.5H35.9V0.3H17.5z" fill="#eaeaea"/>
<path d="M35.3 -18.5H53.8V0.3H35.3z" fill="#cccccc"/>
<path d="M53.2 -18.5H71.6V0.3H53.2z" fill="#7f7f7f"/>
<path d="M71 -18.5H123.4V0.3H71z" fill="#686868"/>
<path d="M-123.4 -0.3H-71V18.5H-123.4z" fill="#959595"/>
<path d="M-71.6 -0.3H-53.2V18.5H-71.6z" fill="#a7a7a7"/>
<path d="M-53.8 -0.3H-35.3V18.5H-53.8z" fill="#dedede"/>
<path d="M-35.9 -0.3H-17.5V18.5H-35.9z" fill="#f0f0f0"/>
<path d="M-18.1 -0.3H0.3V18.5H-18.1z" fill="#f0f0f0"/>
<path d="M-0.3 -0.3H18.1V18.5H-0.3z" fill="#efefef"/>
<path d="M17.5 -0.3H35.9V18.5H17.5z" fill="#ededed"/>
<path d="M35.3 -0.3H53.8V18.5H35.3z" fill="#d6d6d6"/>
<path d="M53.2 -0.3H71.6V18.5H53.2z" fill="#959595"/>
<path d="M71 -0.3H123.4V18.5H71z" fill="#818181"/>
<path d="M-123.4 17.9H-71V36.8H-123.4z" fill="#a3a3a3"/>
<path d="M-71.6 17.9H-53.2V36.8H-71.6z" fill="#b1b1b1"/>
<path d="M-53.8 17.9H-35.3V36.8H-53.8z" fill="#dddddd"/>
<path d="M-35.9 17.9H-17.5V36.8H-35.9z" fill="#ededed"/>
<path d="M-18.1 17.9H0.3V36.8H-18.1z" fill="#efefef"/>
<path d="M-0.3 17.9H18.1V36.8H-0.3z" fill="#ececec"/>
<path d="M17.5 17.9H35.9V36.8H17.5z" fill="#e5e5e5"/>
<path d="M35.3 17.9H53.8V36.8H35.3z" fill="#d0d0d0"/>
<path d="M53.2 17.9H71.6V36.8H53.2z" fill="#a2a2a2"/>
<path d="M71 17.9H123.4V36.8H71z" fill="#949494"/>
<path d="M-123.4 36.2H-71V55H-123.4z" fill="#a7a7a7"/>
<path d="M-71.6 36.2H-53.2V55H-71.6z" fill="#b0b0b0"/>
<path d="M-53.8 36.2H-35.3V55H-53.8z" fill="#cecece"/>
<path d="M-35.9 36.2H-17.5V55H-35.9z" fill="#dcdcdc"/>
<path d="M-18.1 36.2H0.3V55H-18.1z" fill="#dedede"/>
<path d="M-0.3 36.2H18.1V55H-0.3z" fill="#dbdbdb"/>
<path d="M17.5 36.2H35.9V55H17.5z" fill="#d3d3d3"/>
<path d="M35.3 36.2H53.8V55H35.3z" fill="#c3c3c3"/>
<path d="M53.2 36.2H71.6V55H53.2z" fill="#a7a7a7"/>
<path d="M71 36.2H123.4V55H71z" fill="#9f9f9f"/>
<path d="M-123.4 54.4H-71V73.2H-123.4z" fill="#a2a2a2"/>
<path d="M-71.6 54.4H-53.2V73.2H-71.6z" fill="#a7a7a7"/>
<path d="M-53.8 54.4H-35.3V73.2H-53.8z" fill="#b7b7b7"/>
<path d="M-35.9 54.4H-17.5V73.2H-35.9z" fill="#b8b8b8"/>
<path d="M-18.1 54.4H0.3V73.2H-18.1z" fill="#b4b4b4"/>
<path d="M-0.3 54.4H18.1V73.2H-0.3z" fill="#b3b3b3"/>
<path d="M17.5 54.4H35.9V73.2H17.5z" fill="#b6b6b6"/>
<path d="M35.3 54.4H53.8V73.2H35.3z" fill="#b4b4b4"/>
<path d="M53.2 54.4H71.6V73.2H53.2z" fill="#a6a6a6"/>
<path d="M71 54.4H123.4V73.2H71z" fill="#a1a1a1"/>
<path d="M-123.4 72.6H-71V125.5H-123.4z" fill="#9f9f9f"/>
<path d="M-71.6 72.6H-53.2V125.5H-71.6z" fill="#a5a5a5"/>
<path d="M-53.8 72.6H-35.3V125.5H-53.8z" fill="#b1b1b1"/>
<path d="M-35.9 72.6H-17.5V125.5H-35.9z" fill="#aeaeae"/>
<path d="M-18.1 72.6H0.3V125.5H-18.1z" fill="#a7a7a7"/>
<path d="M-0.3 72.6H18.1V125.5H-0.3z" fill="#a7a7a7"/>
<path d="M17.5 72.6H35.9V125.5H17.5z" fill="#aeaeae"/>
<path d="M35.3 72.6H53.8V125.5H35.3z" fill="#b1b1b1"/>
<path d="M53.2 72.6H71.6V125.5H53.2z" fill="#a5a5a5"/>
<path d="M71 72.6H123.4V125.5H71z" fill="#9f9f9f"/>
</g>
<path class="ct" d="M-76.8 -39.3l8.9-5.4 11.1-10 6.7-5.1 11.1-5.5 11.2-3.4 11.1-1.9 11.1-0.7 13.4 0.4 13.4 1.8 11.1 2.5 8.9 3.1 6.7 3.4 4.4 3.2 4.5 4.3 11.1 14.8 4.5 5 4.4 3.7 6.7 3.3M-83.5 -25.3l6.7-2.2 6.6-4 6.7-5.9 8.5-9.3 4.8-4.6 4.5-3.2 6.7-3.4 11.2-3.6 11.1-2 13.4-1 13.3 0.5 11.2 1.4 8.9 2 8.9 3 6.7 3.6 4.4 3.6 3.4 3.7 12.2 18.8 6.7 8.1 6.7 4.9 6.7 2.6M-85.8 -13.8l9-2.8 6.6-4.2 6.7-6.5 14.2-17.1 5.9-4.8 6.6-3.7 11.2-3.8 11.1-2 11.2-0.8 13.3 0.3 11.2 1.5 8.9 2.2 6.7 2.5 6.8 4 4.3 3.9 4.1 5.2 11.5 20.4 6.7 9.6 6.6 6.3 4.5 2.5 4.5 1.4M-85.8 -1.8l4.5-1.2 4.5-2.1 6.6-4.8 6.7-7.2 15.6-21.2 4.5-4.4 6.6-4.6 9-3.9 11.1-2.7 13.4-1.4 13.3 0.4 11.2 1.6 8.9 2.5 6.7 3.2 6.6 5 4.4 5 3 4.6 12.7 26 6.7 10.7 6.6 6.7 4.5 2.6 4.5 1.5M-85.8 13.4l4.5-1.6 4.5-2.6 6.6-6.2 6.7-8.7 15.9-25.1 6.2-6.8 5.9-4.6 9.9-4.9 11.1-2.9 11.2-1.2 13.3 0.4 11.2 1.9 8.9 3.1 6.7 3.9 6.6 6.4 4.5 6.5 3.7 7.4 11.9 30.3 4.4 9.6 4.5 6.8 6.7 6.3M-70.2 53.1l-3-6.4-0.9-4.5 0.2-4.6 1.7-6.8 7.5-18.3 10.6-22.8 4.9-9.1 5.8-8.3 4.4-4.9 4.5-3.8 5.4-3.5 5.7-2.7 6.7-2.1 8.9-1.7 6.7-0.5 8.9 0.2 6.7 1 6.7 1.6 5.1 1.9 6 3.4 4.5 3.6 4.4 4.9 4.1 6.4 2.6 5.2 4.1 10.7 3.3 11.4 3.2 13.7 2.4 13.7 1.1 11.4-0.1 6.8-3.1 15.9M11.3 87.7l-3.5-3.1-3.4-1.4-3.3-0.5-4.4 0.4-2.3 0.7-3 1.7-2.3 2.2M-5.6 62.7l-17.8 1.6-8.9-0.1-6.7-1.6-6.7-3.8-3.1-3-3.6-4.5-2.5-4.6-1.7-4.5-1.1-4.6-0.7-6.8 0.8-11.4 3.2-13.7 6.4-16 6.8-11 6.7-7.5 8.9-6.5 11.1-4.5 11.2-1.9 6.6-0.2 6.7 0.6 11.2 2.9 8.9 4.9 6.7 6.4 5 7.7 4.9 11.4 3.9 16 1.4 13.6-0.8 13.7-2.3 9.1-3.2 6.4-4.5 5-4.4 3-4.5 1.7-6.7 1.2-31.2 1M12.3 51.4l-15.6 1.3-13.4 0.4-8.9-0.5-6.7-1.5-6.7-3.2-3.8-3.5-3.2-4.5-2.6-6.9-1.2-9.1 0.8-11.4 2.9-11.4 4-9.1 5.3-8.2 7.2-7.7 8.4-6 8.9-3.7 9-1.8 8.9-0.1 8.9 1.6 7.6 3.1 6.4 4.6 6 6.8 4.5 8.1 2.8 7.9 2 9.1 0.7 11.4-1.1 9.7-2.9 8.5-4.9 6.9-5.5 4.2-6.7 2.8-11.1 2.2M-7.8 42.2l-8.9-0.1-6.7-1.2-6.7-2.7-4.4-3.7-2.7-3.7-2.5-6.9-0.7-6.8 1.1-9.1 2.5-7.4 4.5-7.9 6.5-7.5 5.9-4.6 7.6-4.2 6.7-2.1 8.9-0.8 6.7 0.9 4.9 1.7 6.3 3.6 4.4 4.1 4.5 6.2 2.8 6.6 2 9.1 0.1 6.8-1.2 6.9-1.7 4.5-2.7 4.6-3.8 4-4.4 3-4.5 2.1-7.1 2.3-8.5 1.5-8.9 0.8"/>
</g>
<use href="#hL"/>
<use href="#nL"/>
</g>
<g transform="translate(1043.5,233)">
<g clip-path="url(#cL)">
<g filter="url(#fL)">
<path d="M-123.4 -125.5H-71V-72.6H-123.4z" fill="#959595"/>
<path d="M-71.6 -125.5H-53.2V-72.6H-71.6z" fill="#979797"/>
<path d="M-53.8 -125.5H-35.3V-72.6H-53.8z" fill="#a3a3a3"/>
<path d="M-35.9 -125.5H-17.5V-72.6H-35.9z" fill="#aeaeae"/>
<path d="M-18.1 -125.5H0.3V-72.6H-18.1z" fill="#b4b4b4"/>
<path d="M-0.3 -125.5H18.1V-72.6H-0.3z" fill="#b3b3b3"/>
<path d="M17.5 -125.5H35.9V-72.6H17.5z" fill="#aaaaaa"/>
<path d="M35.3 -125.5H53.8V-72.6H35.3z" fill="#9e9e9e"/>
<path d="M53.2 -125.5H71.6V-72.6H53.2z" fill="#929292"/>
<path d="M71 -125.5H123.4V-72.6H71z" fill="#919191"/>
<path d="M-123.4 -73.2H-71V-54.4H-123.4z" fill="#8f8f8f"/>
<path d="M-71.6 -73.2H-53.2V-54.4H-71.6z" fill="#919191"/>
<path d="M-53.8 -73.2H-35.3V-54.4H-53.8z" fill="#9e9e9e"/>
<path d="M-35.9 -73.2H-17.5V-54.4H-35.9z" fill="#afafaf"/>
<path d="M-18.1 -73.2H0.3V-54.4H-18.1z" fill="#bababa"/>
<path d="M-0.3 -73.2H18.1V-54.4H-0.3z" fill="#b8b8b8"/>
<path d="M17.5 -73.2H35.9V-54.4H17.5z" fill="#a8a8a8"/>
<path d="M35.3 -73.2H53.8V-54.4H35.3z" fill="#959595"/>
<path d="M53.2 -73.2H71.6V-54.4H53.2z" fill="#8b8b8b"/>
<path d="M71 -73.2H123.4V-54.4H71z" fill="#8b8b8b"/>
<path d="M-123.4 -55H-71V-36.2H-123.4z" fill="#7a7a7a"/>
<path d="M-71.6 -55H-53.2V-36.2H-71.6z" fill="#7b7b7b"/>
<path d="M-53.8 -55H-35.3V-36.2H-53.8z" fill="#919191"/>
<path d="M-35.9 -55H-17.5V-36.2H-35.9z" fill="#b2b2b2"/>
<path d="M-18.1 -55H0.3V-36.2H-18.1z" fill="#cacaca"/>
<path d="M-0.3 -55H18.1V-36.2H-0.3z" fill="#c9c9c9"/>
<path d="M17.5 -55H35.9V-36.2H17.5z" fill="#aeaeae"/>
<path d="M35.3 -55H53.8V-36.2H35.3z" fill="#8d8d8d"/>
<path d="M53.2 -55H71.6V-36.2H53.2z" fill="#7c7c7c"/>
<path d="M71 -55H123.4V-36.2H71z" fill="#7d7d7d"/>
<path d="M-123.4 -36.8H-71V-17.9H-123.4z" fill="#6d6d6d"/>
<path d="M-71.6 -36.8H-53.2V-17.9H-71.6z" fill="#727272"/>
<path d="M-53.8 -36.8H-35.3V-17.9H-53.8z" fill="#919191"/>
<path d="M-35.9 -36.8H-17.5V-17.9H-35.9z" fill="#b1b1b1"/>
<path d="M-18.1 -36.8H0.3V-17.9H-18.1z" fill="#c9c9c9"/>
<path d="M-0.3 -36.8H18.1V-17.9H-0.3z" fill="#d0d0d0"/>
<path d="M17.5 -36.8H35.9V-17.9H17.5z" fill="#c3c3c3"/>
<path d="M35.3 -36.8H53.8V-17.9H35.3z" fill="#a8a8a8"/>
<path d="M53.2 -36.8H71.6V-17.9H53.2z" fill="#848484"/>
<path d="M71 -36.8H123.4V-17.9H71z" fill="#7c7c7c"/>
<path d="M-123.4 -18.5H-71V0.3H-123.4z" fill="#676767"/>
<path d="M-71.6 -18.5H-53.2V0.3H-71.6z" fill="#707070"/>
<path d="M-53.8 -18.5H-35.3V0.3H-53.8z" fill="#959595"/>
<path d="M-35.9 -18.5H-17.5V0.3H-35.9z" fill="#aeaeae"/>
<path d="M-18.1 -18.5H0.3V0.3H-18.1z" fill="#c0c0c0"/>
<path d="M-0.3 -18.5H18.1V0.3H-0.3z" fill="#d0d0d0"/>
<path d="M17.5 -18.5H35.9V0.3H17.5z" fill="#d8d8d8"/>
<path d="M35.3 -18.5H53.8V0.3H35.3z" fill="#cacaca"/>
<path d="M53.2 -18.5H71.6V0.3H53.2z" fill="#969696"/>
<path d="M71 -18.5H123.4V0.3H71z" fill="#858585"/>
<path d="M-123.4 -0.3H-71V18.5H-123.4z" fill="#676767"/>
<path d="M-71.6 -0.3H-53.2V18.5H-71.6z" fill="#727272"/>
<path d="M-53.8 -0.3H-35.3V18.5H-53.8z" fill="#979797"/>
<path d="M-35.9 -0.3H-17.5V18.5H-35.9z" fill="#aaaaaa"/>
<path d="M-18.1 -0.3H0.3V18.5H-18.1z" fill="#b7b7b7"/>
<path d="M-0.3 -0.3H18.1V18.5H-0.3z" fill="#cbcbcb"/>
<path d="M17.5 -0.3H35.9V18.5H17.5z" fill="#dfdfdf"/>
<path d="M35.3 -0.3H53.8V18.5H35.3z" fill="#dadada"/>
<path d="M53.2 -0.3H71.6V18.5H53.2z" fill="#a3a3a3"/>
<path d="M71 -0.3H123.4V18.5H71z" fill="#8f8f8f"/>
<path d="M-123.4 17.9H-71V36.8H-123.4z" fill="#6d6d6d"/>
<path d="M-71.6 17.9H-53.2V36.8H-71.6z" fill="#767676"/>
<path d="M-53.8 17.9H-35.3V36.8H-53.8z" fill="#979797"/>
<path d="M-35.9 17.9H-17.5V36.8H-35.9z" fill="#a9a9a9"/>
<path d="M-18.1 17.9H0.3V36.8H-18.1z" fill="#b4b4b4"/>
<path d="M-0.3 17.9H18.1V36.8H-0.3z" fill="#c5c5c5"/>
<path d="M17.5 17.9H35.9V36.8H17.5z" fill="#d5d5d5"/>
<path d="M35.3 17.9H53.8V36.8H35.3z" fill="#d2d2d2"/>
<path d="M53.2 17.9H71.6V36.8H53.2z" fill="#a8a8a8"/>
<path d="M71 17.9H123.4V36.8H71z" fill="#999999"/>
<path d="M-123.4 36.2H-71V55H-123.4z" fill="#7b7b7b"/>
<path d="M-71.6 36.2H-53.2V55H-71.6z" fill="#848484"/>
<path d="M-53.8 36.2H-35.3V55H-53.8z" fill="#a3a3a3"/>
<path d="M-35.9 36.2H-17.5V55H-35.9z" fill="#b2b2b2"/>
<path d="M-18.1 36.2H0.3V55H-18.1z" fill="#b9b9b9"/>
<path d="M-0.3 36.2H18.1V55H-0.3z" fill="#bebebe"/>
<path d="M17.5 36.2H35.9V55H17.5z" fill="#c2c2c2"/>
<path d="M35.3 36.2H53.8V55H35.3z" fill="#bdbdbd"/>
<path d="M53.2 36.2H71.6V55H53.2z" fill="#a6a6a6"/>
<path d="M71 36.2H123.4V55H71z" fill="#9f9f9f"/>
<path d="M-123.4 54.4H-71V73.2H-123.4z" fill="#949494"/>
<path d="M-71.6 54.4H-53.2V73.2H-71.6z" fill="#a1a1a1"/>
<path d="M-53.8 54.4H-35.3V73.2H-53.8z" fill="#c7c7c7"/>
<path d="M-35.9 54.4H-17.5V73.2H-35.9z" fill="#cecece"/>
<path d="M-18.1 54.4H0.3V73.2H-18.1z" fill="#c5c5c5"/>
<path d="M-0.3 54.4H18.1V73.2H-0.3z" fill="#b8b8b8"/>
<path d="M17.5 54.4H35.9V73.2H17.5z" fill="#b0b0b0"/>
<path d="M35.3 54.4H53.8V73.2H35.3z" fill="#a9a9a9"/>
<path d="M53.2 54.4H71.6V73.2H53.2z" fill="#a2a2a2"/>
<path d="M71 54.4H123.4V73.2H71z" fill="#a0a0a0"/>
<path d="M-123.4 72.6H-71V125.5H-123.4z" fill="#9b9b9b"/>
<path d="M-71.6 72.6H-53.2V125.5H-71.6z" fill="#aaaaaa"/>
<path d="M-53.8 72.6H-35.3V125.5H-53.8z" fill="#d3d3d3"/>
<path d="M-35.9 72.6H-17.5V125.5H-35.9z" fill="#d7d7d7"/>
<path d="M-18.1 72.6H0.3V125.5H-18.1z" fill="#c8c8c8"/>
<path d="M-0.3 72.6H18.1V125.5H-0.3z" fill="#b8b8b8"/>
<path d="M17.5 72.6H35.9V125.5H17.5z" fill="#adadad"/>
<path d="M35.3 72.6H53.8V125.5H35.3z" fill="#a6a6a6"/>
<path d="M53.2 72.6H71.6V125.5H53.2z" fill="#a0a0a0"/>
<path d="M71 72.6H123.4V125.5H71z" fill="#9f9f9f"/>
</g>
<path class="ct" d="M-79.9 33l4.1-2.2 3.4-3 2.2-2.9 2.3-4.3 2.7-10.3 1.1-16-0.6-11.4-1-5.4-1.4-3.7-3.1-4.5-2.2-1.8-6.7-2.6M-74.6 43.4l4.4-2.7 4.5-4.1 3.8-5.8 1.9-4.6 1.8-6.8 0.9-6.9 1.2-20.5-0.3-18.2-1.2-6.8-1.4-4.3-2.3-3.9-3.2-3.2-3.4-2.1-4.5-1.3M76.8 -42.2l-1.5 2.3 0.1 2.3 0.8 2.3 2.9 4.1 2.9 2.7M63.5 -61.1l-4.5 3.3-3.2 4.2-1.5 4.6 0 2.3 0.9 4.5 6.1 11.8 8.9 13 8.9 10.5 6.7 4.6M-71.2 51.3l5.5-3.7 3.4-3.2 3.7-4.5 2.7-4.6 1.9-4.5 2-6.9 1.7-15.9 1.2-31.9-0.5-9.1-1.1-6.9-2.6-6.8-3.2-4.6-4.8-4.1-4.4-2.4M-65.7 56.3l9.7-9.6 6.2-9.1 3.9-9.1 1.9-11.4 1.5-43.3-0.9-16-1.7-6.8-2.8-6.1-4.4-6.6-4.6-5.5M51.2 -71.8l-5 9.1-2.1 6.9-0.1 6.8 1.1 4.6 3.6 6.8 14.2 22.8 11.7 21.2 4.5 6.5 4.4 4.2M-61.3 60.8l14.7-16.4 5.1-6.8 3.6-6.8 2.3-9.2 0.5-9.1-1.5-56.9-2.4-12.9-6.3-19M38.4 -78.6l-2.9 11.4-0.8 6.8 0.3 6.8 1.5 6.9 3.2 6.8 13 18.3 7.5 13.6 6.8 18.3 8.6 31.9M-57 64.9l7.2-9.1 15.4-13.6 4.3-4.6 3.3-4.6 2.6-6.8 0.6-4.6-0.2-6.8-4-25.1-1.3-15.9-0.3-57M22.9 -85.5l0.6 18.3 1.8 9.1 2.8 9.1 3.1 6.8 2.8 4.6 13.9 17.4 6 9.9 3.7 9.2 2.1 6.8 2.5 15.9 0.2 6.9-0.6 6.8-1.4 6.9-2.8 6.8-5.3 7.6-11.6 10.6-3.9 4.5-2.6 4.6-1.4 4.6M-52.9 69.5l4.2-6.8 5.3-5.3 8.9-5.6 17.8-8.6 4-3.3 2.6-4.6 1.1-6.8-0.6-9.1-2-9.1-5.9-18.3-2.9-11.4-1.5-13.6 0.2-11.4 1.1-6.9 1.4-4.5 4.7-9 2.2-2.7 4.5-3.5 4.5-1.2 2.2 0.2 4.4 1.7 6.7 6 4.5 6.1 11.7 20.6 5.4 6.8 11.8 12.8 4.1 5.5 3.6 6.8 2.5 6.8 1.7 6.9 0.8 6.8 0 9.1-0.9 6.9-2.1 6.8-2.3 4.6-2.9 3.9-4.5 3.9-6.6 3.7-15.6 6.5-4.5 3.7-2 3.3-1.4 4.6-0.9 6.8-0.4 9.1M36.8 42.3l-4.5 1.4-4.5 0.6-4.4-0.1-4.5-0.8-4.4-2.1-2.2-1.7-2.3-2.4-2.5-4.2-2.7-6.8-7.4-25.1-7.6-20.5-2.2-9.1-0.5-6.8 0.7-6.9 2.2-5.2 2.2-2.6 2.2-1.5 2.3-0.7 4.4 0.1 2.6 0.8 4.1 2.6 4.5 5 9.7 12.9 19.2 18.4 3.2 4.4 2.5 4.6 2.5 6.8 1.3 6.9 0.3 6.8-0.9 7.6-1.8 6.1-2.6 4.6-4.5 4.4-4.4 2.5M-48.1 74.1l2.3-4.6 2.4-3.2 4.4-3.8 4.5-2.4 6.7-2.1 4.4-0.6 4.5 0.1 4.4 0.8 4.5 2 2.2 1.9 3.1 5 2.1 9.1 0.8 11.4M34.5 31.3l-2.2 0.5-4.5-0.1-4.4-1.6-4.5-3.9-4.2-6.8-3.7-11.4-2.9-16-0.3-4.5 0.4-4.6 1.8-2.9 2.3-0.4 4.4 1.1 6.7 2.8 6.7 3.7 6.7 5.5 3.1 3.9 2.6 4.5 1.6 4.6 0.8 4.6 0.1 4.5-0.7 4.6-0.9 3-2.2 4.1-2.2 2.4-4.5 2.4M-40.9 78.6l3.2-4.5 3.2-2.6 4.4-1.5 4.5 0.1 4.4 2.4 3 3.8 1.8 4.6 1.2 6.8"/>
</g>
<use href="#hL"/>
<use href="#nL"/>
</g>
<g transform="translate(324,511.7)">
<g clip-path="url(#cL)">
<g filter="url(#fL)">
<path d="M-123.4 -125.5H-71V-72.6H-123.4z" fill="#757575"/>
<path d="M-71.6 -125.5H-53.2V-72.6H-71.6z" fill="#767676"/>
<path d="M-53.8 -125.5H-35.3V-72.6H-53.8z" fill="#808080"/>
<path d="M-35.9 -125.5H-17.5V-72.6H-35.9z" fill="#898989"/>
<path d="M-18.1 -125.5H0.3V-72.6H-18.1z" fill="#8c8c8c"/>
<path d="M-0.3 -125.5H18.1V-72.6H-0.3z" fill="#858585"/>
<path d="M17.5 -125.5H35.9V-72.6H17.5z" fill="#767676"/>
<path d="M35.3 -125.5H53.8V-72.6H35.3z" fill="#676767"/>
<path d="M53.2 -125.5H71.6V-72.6H53.2z" fill="#5f5f5f"/>
<path d="M71 -125.5H123.4V-72.6H71z" fill="#606060"/>
<path d="M-123.4 -73.2H-71V-54.4H-123.4z" fill="#767676"/>
<path d="M-71.6 -73.2H-53.2V-54.4H-71.6z" fill="#7a7a7a"/>
<path d="M-53.8 -73.2H-35.3V-54.4H-53.8z" fill="#8b8b8b"/>
<path d="M-35.9 -73.2H-17.5V-54.4H-35.9z" fill="#989898"/>
<path d="M-18.1 -73.2H0.3V-54.4H-18.1z" fill="#9e9e9e"/>
<path d="M-0.3 -73.2H18.1V-54.4H-0.3z" fill="#979797"/>
<path d="M17.5 -73.2H35.9V-54.4H17.5z" fill="#868686"/>
<path d="M35.3 -73.2H53.8V-54.4H35.3z" fill="#717171"/>
<path d="M53.2 -73.2H71.6V-54.4H53.2z" fill="#616161"/>
<path d="M71 -73.2H123.4V-54.4H71z" fill="#5f5f5f"/>
<path d="M-123.4 -55H-71V-36.2H-123.4z" fill="#818181"/>
<path d="M-71.6 -55H-53.2V-36.2H-71.6z" fill="#8b8b8b"/>
<path d="M-53.8 -55H-35.3V-36.2H-53.8z" fill="#b4b4b4"/>
<path d="M-35.9 -55H-17.5V-36.2H-35.9z" fill="#cfcfcf"/>
<path d="M-18.1 -55H0.3V-36.2H-18.1z" fill="#dbdbdb"/>
<path d="M-0.3 -55H18.1V-36.2H-0.3z" fill="#d5d5d5"/>
<path d="M17.5 -55H35.9V-36.2H17.5z" fill="#bebebe"/>
<path d="M35.3 -55H53.8V-36.2H35.3z" fill="#9a9a9a"/>
<path d="M53.2 -55H71.6V-36.2H53.2z" fill="#6a6a6a"/>
<path d="M71 -55H123.4V-36.2H71z" fill="#5f5f5f"/>
<path d="M-123.4 -36.8H-71V-17.9H-123.4z" fill="#909090"/>
<path d="M-71.6 -36.8H-53.2V-17.9H-71.6z" fill="#9d9d9d"/>
<path d="M-53.8 -36.8H-35.3V-17.9H-53.8z" fill="#cecece"/>
<path d="M-35.9 -36.8H-17.5V-17.9H-35.9z" fill="#eaeaea"/>
<path d="M-18.1 -36.8H0.3V-17.9H-18.1z" fill="#f4f4f4"/>
<path d="M-0.3 -36.8H18.1V-17.9H-0.3z" fill="#f1f1f1"/>
<path d="M17.5 -36.8H35.9V-17.9H17.5z" fill="#dedede"/>
<path d="M35.3 -36.8H53.8V-17.9H35.3z" fill="#b7b7b7"/>
<path d="M53.2 -36.8H71.6V-17.9H53.2z" fill="#737373"/>
<path d="M71 -36.8H123.4V-17.9H71z" fill="#616161"/>
<path d="M-123.4 -18.5H-71V0.3H-123.4z" fill="#a1a1a1"/>
<path d="M-71.6 -18.5H-53.2V0.3H-71.6z" fill="#aeaeae"/>
<path d="M-53.8 -18.5H-35.3V0.3H-53.8z" fill="#dcdcdc"/>
<path d="M-35.9 -18.5H-17.5V0.3H-35.9z" fill="#f3f3f3"/>
<path d="M-18.1 -18.5H0.3V0.3H-18.1z" fill="#fafafa"/>
<path d="M-0.3 -18.5H18.1V0.3H-0.3z" fill="#f9f9f9"/>
<path d="M17.5 -18.5H35.9V0.3H17.5z" fill="#eeeeee"/>
<path d="M35.3 -18.5H53.8V0.3H35.3z" fill="#cacaca"/>
<path d="M53.2 -18.5H71.6V0.3H53.2z" fill="#818181"/>
<path d="M71 -18.5H123.4V0.3H71z" fill="#6c6c6c"/>
<path d="M-123.4 -0.3H-71V18.5H-123.4z" fill="#b3b3b3"/>
<path d="M-71.6 -0.3H-53.2V18.5H-71.6z" fill="#bfbfbf"/>
<path d="M-53.8 -0.3H-35.3V18.5H-53.8z" fill="#e5e5e5"/>
<path d="M-35.9 -0.3H-17.5V18.5H-35.9z" fill="#f7f7f7"/>
<path d="M-18.1 -0.3H0.3V18.5H-18.1z" fill="#fcfcfc"/>
<path d="M-0.3 -0.3H18.1V18.5H-0.3z" fill="#fcfcfc"/>
<path d="M17.5 -0.3H35.9V18.5H17.5z" fill="#f4f4f4"/>
<path d="M35.3 -0.3H53.8V18.5H35.3z" fill="#d7d7d7"/>
<path d="M53.2 -0.3H71.6V18.5H53.2z" fill="#959595"/>
<path d="M71 -0.3H123.4V18.5H71z" fill="#818181"/>
<path d="M-123.4 17.9H-71V36.8H-123.4z" fill="#c5c5c5"/>
<path d="M-71.6 17.9H-53.2V36.8H-71.6z" fill="#cdcdcd"/>
<path d="M-53.8 17.9H-35.3V36.8H-53.8z" fill="#eaeaea"/>
<path d="M-35.9 17.9H-17.5V36.8H-35.9z" fill="#f9f9f9"/>
<path d="M-18.1 17.9H0.3V36.8H-18.1z" fill="#ffffff"/>
<path d="M-0.3 17.9H18.1V36.8H-0.3z" fill="#fefefe"/>
<path d="M17.5 17.9H35.9V36.8H17.5z" fill="#f5f5f5"/>
<path d="M35.3 17.9H53.8V36.8H35.3z" fill="#dddddd"/>
<path d="M53.2 17.9H71.6V36.8H53.2z" fill="#adadad"/>
<path d="M71 17.9H123.4V36.8H71z" fill="#9f9f9f"/>
<path d="M-123.4 36.2H-71V55H-123.4z" fill="#d1d1d1"/>
<path d="M-71.6 36.2H-53.2V55H-71.6z" fill="#d5d5d5"/>
<path d="M-53.8 36.2H-35.3V55H-53.8z" fill="#e8e8e8"/>
<path d="M-35.9 36.2H-17.5V55H-35.9z" fill="#f5f5f5"/>
<path d="M-18.1 36.2H0.3V55H-18.1z" fill="#fcfcfc"/>
<path d="M-0.3 36.2H18.1V55H-0.3z" fill="#fafafa"/>
<path d="M17.5 36.2H35.9V55H17.5z" fill="#f0f0f0"/>
<path d="M35.3 36.2H53.8V55H35.3z" fill="#dddddd"/>
<path d="M53.2 36.2H71.6V55H53.2z" fill="#c2c2c2"/>
<path d="M71 36.2H123.4V55H71z" fill="#bbbbbb"/>
<path d="M-123.4 54.4H-71V73.2H-123.4z" fill="#d2d2d2"/>
<path d="M-71.6 54.4H-53.2V73.2H-71.6z" fill="#d4d4d4"/>
<path d="M-53.8 54.4H-35.3V73.2H-53.8z" fill="#dddddd"/>
<path d="M-35.9 54.4H-17.5V73.2H-35.9z" fill="#e6e6e6"/>
<path d="M-18.1 54.4H0.3V73.2H-18.1z" fill="#ebebeb"/>
<path d="M-0.3 54.4H18.1V73.2H-0.3z" fill="#eaeaea"/>
<path d="M17.5 54.4H35.9V73.2H17.5z" fill="#e2e2e2"/>
<path d="M35.3 54.4H53.8V73.2H35.3z" fill="#d7d7d7"/>
<path d="M53.2 54.4H71.6V73.2H53.2z" fill="#cccccc"/>
<path d="M71 54.4H123.4V73.2H71z" fill="#cacaca"/>
<path d="M-123.4 72.6H-71V125.5H-123.4z" fill="#d0d0d0"/>
<path d="M-71.6 72.6H-53.2V125.5H-71.6z" fill="#d2d2d2"/>
<path d="M-53.8 72.6H-35.3V125.5H-53.8z" fill="#dadada"/>
<path d="M-35.9 72.6H-17.5V125.5H-35.9z" fill="#e1e1e1"/>
<path d="M-18.1 72.6H0.3V125.5H-18.1z" fill="#e5e5e5"/>
<path d="M-0.3 72.6H18.1V125.5H-0.3z" fill="#e4e4e4"/>
<path d="M17.5 72.6H35.9V125.5H17.5z" fill="#dedede"/>
<path d="M35.3 72.6H53.8V125.5H35.3z" fill="#d5d5d5"/>
<path d="M53.2 72.6H71.6V125.5H53.2z" fill="#cccccc"/>
<path d="M71 72.6H123.4V125.5H71z" fill="#cacaca"/>
</g>
<path class="ct" d="M30.1 -83.4l2.4 4.8 3.3 4.5 14.3 14.7 6.2 8.1 4.3 9.1 7.3 20.7 4.6 9 2.1 2.9 4.2 3.9 7 3.2M-72.4 -48.5l11.1-9.6 17.9-18.4M9.4 -87.7l2.4 4.5 5.7 6.9 8 6.8 15.7 11.6 6.9 6.6 3.3 4.6 3.4 6.8 8.7 26.5 4.4 9.9 4.5 5.9 3.9 3.3 5 2.6 4.5 1.2M-83.5 -24.7l6.7-3 4.4-3.2 4.5-4.5 14.6-18.2 5.4-4.8 8.9-6 11.2-5.7 8.9-3 8.9-1 8.9 1.4 11.1 4.1 15.6 7.8 8.9 5.3 8 6.5 5.2 6.8 3.4 6.9 10 31.9 4.6 9.8 4.5 5.8 4.4 3.5 4.5 2.2 5.8 1.5M-85.8 -8.3l4.5-1.1 4.5-2.1 6.6-5.3 6.7-8.8 11.4-18.8 4.2-5 6.7-5.3 11.1-5.5 11.2-3.1 11.1-0.9 11.1 1.5 11.2 3.2 11.1 4.9 6.7 4 7 6.2 5.1 6.8 3.5 7.2 3 8.8 7.2 25 3.2 8 2.2 4.1 2.7 3.9 4 3.9 4.4 2.8 6.8 2.4M-85.8 6.9l4.5-1.1 4.5-1.8 4.4-2.9 4.5-4.3 6.6-10.2 8.2-17.4 3.8-6.8 5.3-6.8 5-4.3 8.9-4.9 11.2-3.2 11.1-1 11.1 1.1 11.2 2.9 10.5 4.8 7.3 5.1 5.8 6.3 4.2 6.8 3.4 7.8 9.5 33.3 4.4 11.3 3.9 6.7 4.3 4.7 4.6 3.1 4.4 1.8M-83.5 22.6l4.4-1.3 4.5-2 4.4-3.2 4.5-4.9 6.7-11.6 8.9-22.2 3.9-8.2 4.6-6.8 4.8-4.9 4.5-3.2 4.5-2.4 8.9-2.8 11.1-1.3 11.1 0.9 9 2.3 9.7 4.6 8.1 6.2 6 7.4 3.7 6.9 3.6 9.4 8.9 33.3 4.5 13.2 2.7 5.6 4 5.9 2.2 2.3 4.5 3.4M-74.6 43.4l6.7-6.7 6.6-10.8 4.5-10.2 12.4-35.1 3.3-6.8 4.7-6.8 4.1-4.3 3.3-2.6 4-2.3 5.7-2.2 4.8-1.2 6.7-0.7 11.1 1 10.1 3.1 5.5 3.1 4.5 3.2 6.7 7.1 5.4 9.4 3.6 9.1 4.4 16 9.4 43.3 2.6 18.2M-35 80.9l-4-9.1-9.3-16-1.8-4.5-1.1-4.6-0.4-6.8 0.6-6.9 1.6-9.1 3.3-13.6 7.3-22.8 4.3-8.9 4.4-6.5 5.6-5.1 5.6-3.2 6.6-2.1 9-0.6 6.6 1 7.2 2.6 6.2 3.8 5.8 5.3 4.9 6.8 3.5 6.9 3.6 9.8 2.8 10.7 2.2 11.4 1.3 11.4 0.3 9.1-0.7 6.8-2.8 9.1-9.6 18.3-2.6 6.8-1.2 4.6M1.1 60.4l-6.7 0.4-6.7-1-6.6-2.5-6.7-3.9-5-4.4-3.2-4.6-2-4.5-1.3-6.9 0.1-9.1 2.5-13.4 4.2-13.9 4-9.1 4.6-6.9 5-4.5 4.4-2.4 6.7-1.4 6.7 0.7 6.7 2.8 4.5 3.3 5.4 6.1 4.2 6.8 3.7 8.9 2.6 9.4 1.6 11.3 0.1 6.9-0.9 6.8-2.2 6.9-2.6 4.5-4.1 4.6-5.6 4.1-6.7 3.3-6.7 1.7"/>
</g>
<use href="#hL"/>
<use href="#nL"/>
</g>
<g transform="translate(557,511.7)">
<g clip-path="url(#cL)">
<g filter="url(#fL)">
<path d="M-123.4 -125.5H-71V-72.6H-123.4z" fill="#202020"/>
<path d="M-71.6 -125.5H-53.2V-72.6H-71.6z" fill="#202020"/>
<path d="M-53.8 -125.5H-35.3V-72.6H-53.8z" fill="#2a2a2a"/>
<path d="M-35.9 -125.5H-17.5V-72.6H-35.9z" fill="#3b3b3b"/>
<path d="M-18.1 -125.5H0.3V-72.6H-18.1z" fill="#484848"/>
<path d="M-0.3 -125.5H18.1V-72.6H-0.3z" fill="#484848"/>
<path d="M17.5 -125.5H35.9V-72.6H17.5z" fill="#3b3b3b"/>
<path d="M35.3 -125.5H53.8V-72.6H35.3z" fill="#2a2a2a"/>
<path d="M53.2 -125.5H71.6V-72.6H53.2z" fill="#202020"/>
<path d="M71 -125.5H123.4V-72.6H71z" fill="#202020"/>
<path d="M-123.4 -73.2H-71V-54.4H-123.4z" fill="#1c1c1c"/>
<path d="M-71.6 -73.2H-53.2V-54.4H-71.6z" fill="#1d1d1d"/>
<path d="M-53.8 -73.2H-35.3V-54.4H-53.8z" fill="#2d2d2d"/>
<path d="M-35.9 -73.2H-17.5V-54.4H-35.9z" fill="#454545"/>
<path d="M-18.1 -73.2H0.3V-54.4H-18.1z" fill="#595959"/>
<path d="M-0.3 -73.2H18.1V-54.4H-0.3z" fill="#5c5c5c"/>
<path d="M17.5 -73.2H35.9V-54.4H17.5z" fill="#4d4d4d"/>
<path d="M35.3 -73.2H53.8V-54.4H35.3z" fill="#363636"/>
<path d="M53.2 -73.2H71.6V-54.4H53.2z" fill="#212121"/>
<path d="M71 -73.2H123.4V-54.4H71z" fill="#1e1e1e"/>
<path d="M-123.4 -55H-71V-36.2H-123.4z" fill="#181818"/>
<path d="M-71.6 -55H-53.2V-36.2H-71.6z" fill="#1d1d1d"/>
<path d="M-53.8 -55H-35.3V-36.2H-53.8z" fill="#454545"/>
<path d="M-35.9 -55H-17.5V-36.2H-35.9z" fill="#767676"/>
<path d="M-18.1 -55H0.3V-36.2H-18.1z" fill="#9e9e9e"/>
<path d="M-0.3 -55H18.1V-36.2H-0.3z" fill="#aaaaaa"/>
<path d="M17.5 -55H35.9V-36.2H17.5z" fill="#969696"/>
<path d="M35.3 -55H53.8V-36.2H35.3z" fill="#6a6a6a"/>
<path d="M53.2 -55H71.6V-36.2H53.2z" fill="#2e2e2e"/>
<path d="M71 -55H123.4V-36.2H71z" fill="#212121"/>
<path d="M-123.4 -36.8H-71V-17.9H-123.4z" fill="#262626"/>
<path d="M-71.6 -36.8H-53.2V-17.9H-71.6z" fill="#303030"/>
<path d="M-53.8 -36.8H-35.3V-17.9H-53.8z" fill="#676767"/>
<path d="M-35.9 -36.8H-17.5V-17.9H-35.9z" fill="#a0a0a0"/>
<path d="M-18.1 -36.8H0.3V-17.9H-18.1z" fill="#cccccc"/>
<path d="M-0.3 -36.8H18.1V-17.9H-0.3z" fill="#dadada"/>
<path d="M17.5 -36.8H35.9V-17.9H17.5z" fill="#c7c7c7"/>
<path d="M35.3 -36.8H53.8V-17.9H35.3z" fill="#949494"/>
<path d="M53.2 -36.8H71.6V-17.9H53.2z" fill="#454545"/>
<path d="M71 -36.8H123.4V-17.9H71z" fill="#323232"/>
<path d="M-123.4 -18.5H-71V0.3H-123.4z" fill="#3e3e3e"/>
<path d="M-71.6 -18.5H-53.2V0.3H-71.6z" fill="#4b4b4b"/>
<path d="M-53.8 -18.5H-35.3V0.3H-53.8z" fill="#888888"/>
<path d="M-35.9 -18.5H-17.5V0.3H-35.9z" fill="#bdbdbd"/>
<path d="M-18.1 -18.5H0.3V0.3H-18.1z" fill="#e3e3e3"/>
<path d="M-0.3 -18.5H18.1V0.3H-0.3z" fill="#f1f1f1"/>
<path d="M17.5 -18.5H35.9V0.3H17.5z" fill="#e3e3e3"/>
<path d="M35.3 -18.5H53.8V0.3H35.3z" fill="#b4b4b4"/>
<path d="M53.2 -18.5H71.6V0.3H53.2z" fill="#646464"/>
<path d="M71 -18.5H123.4V0.3H71z" fill="#4f4f4f"/>
<path d="M-123.4 -0.3H-71V18.5H-123.4z" fill="#565656"/>
<path d="M-71.6 -0.3H-53.2V18.5H-71.6z" fill="#636363"/>
<path d="M-53.8 -0.3H-35.3V18.5H-53.8z" fill="#9a9a9a"/>
<path d="M-35.9 -0.3H-17.5V18.5H-35.9z" fill="#c6c6c6"/>
<path d="M-18.1 -0.3H0.3V18.5H-18.1z" fill="#e5e5e5"/>
<path d="M-0.3 -0.3H18.1V18.5H-0.3z" fill="#f4f4f4"/>
<path d="M17.5 -0.3H35.9V18.5H17.5z" fill="#ededed"/>
<path d="M35.3 -0.3H53.8V18.5H35.3z" fill="#cbcbcb"/>
<path d="M53.2 -0.3H71.6V18.5H53.2z" fill="#858585"/>
<path d="M71 -0.3H123.4V18.5H71z" fill="#727272"/>
<path d="M-123.4 17.9H-71V36.8H-123.4z" fill="#6d6d6d"/>
<path d="M-71.6 17.9H-53.2V36.8H-71.6z" fill="#767676"/>
<path d="M-53.8 17.9H-35.3V36.8H-53.8z" fill="#9d9d9d"/>
<path d="M-35.9 17.9H-17.5V36.8H-35.9z" fill="#bebebe"/>
<path d="M-18.1 17.9H0.3V36.8H-18.1z" fill="#d8d8d8"/>
<path d="M-0.3 17.9H18.1V36.8H-0.3z" fill="#e8e8e8"/>
<path d="M17.5 17.9H35.9V36.8H17.5z" fill="#ebebeb"/>
<path d="M35.3 17.9H53.8V36.8H35.3z" fill="#d7d7d7"/>
<path d="M53.2 17.9H71.6V36.8H53.2z" fill="#a4a4a4"/>
<path d="M71 17.9H123.4V36.8H71z" fill="#959595"/>
<path d="M-123.4 36.2H-71V55H-123.4z" fill="#838383"/>
<path d="M-71.6 36.2H-53.2V55H-71.6z" fill="#888888"/>
<path d="M-53.8 36.2H-35.3V55H-53.8z" fill="#9f9f9f"/>
<path d="M-35.9 36.2H-17.5V55H-35.9z" fill="#b3b3b3"/>
<path d="M-18.1 36.2H0.3V55H-18.1z" fill="#c6c6c6"/>
<path d="M-0.3 36.2H18.1V55H-0.3z" fill="#d7d7d7"/>
<path d="M17.5 36.2H35.9V55H17.5z" fill="#e0e0e0"/>
<path d="M35.3 36.2H53.8V55H35.3z" fill="#d9d9d9"/>
<path d="M53.2 36.2H71.6V55H53.2z" fill="#b9b9b9"/>
<path d="M71 36.2H123.4V55H71z" fill="#afafaf"/>
<path d="M-123.4 54.4H-71V73.2H-123.4z" fill="#9a9a9a"/>
<path d="M-71.6 54.4H-53.2V73.2H-71.6z" fill="#9e9e9e"/>
<path d="M-53.8 54.4H-35.3V73.2H-53.8z" fill="#ababab"/>
<path d="M-35.9 54.4H-17.5V73.2H-35.9z" fill="#b4b4b4"/>
<path d="M-18.1 54.4H0.3V73.2H-18.1z" fill="#bcbcbc"/>
<path d="M-0.3 54.4H18.1V73.2H-0.3z" fill="#c7c7c7"/>
<path d="M17.5 54.4H35.9V73.2H17.5z" fill="#d1d1d1"/>
<path d="M35.3 54.4H53.8V73.2H35.3z" fill="#d2d2d2"/>
<path d="M53.2 54.4H71.6V73.2H53.2z" fill="#bebebe"/>
<path d="M71 54.4H123.4V73.2H71z" fill="#b6b6b6"/>
<path d="M-123.4 72.6H-71V125.5H-123.4z" fill="#9f9f9f"/>
<path d="M-71.6 72.6H-53.2V125.5H-71.6z" fill="#a3a3a3"/>
<path d="M-53.8 72.6H-35.3V125.5H-53.8z" fill="#b0b0b0"/>
<path d="M-35.9 72.6H-17.5V125.5H-35.9z" fill="#b6b6b6"/>
<path d="M-18.1 72.6H0.3V125.5H-18.1z" fill="#bbbbbb"/>
<path d="M-0.3 72.6H18.1V125.5H-0.3z" fill="#c4c4c4"/>
<path d="M17.5 72.6H35.9V125.5H17.5z" fill="#cecece"/>
<path d="M35.3 72.6H53.8V125.5H35.3z" fill="#cfcfcf"/>
<path d="M53.2 72.6H71.6V125.5H53.2z" fill="#bcbcbc"/>
<path d="M71 72.6H123.4V125.5H71z" fill="#b5b5b5"/>
</g>
<path class="ct" d="M-85.8 -16.4l6.7-1.5 6.7-3 4.5-3.4 4.4-5 4.5-6.4 10.2-17.9 8.6-13.6 3.4-6.9 2.3-6.8M36.5 -80.9l4.6 6.8 15.7 18 13.4 19.2 6.6 5.9 5.2 2.5M-85.8 -0.8l9-2.3 4.4-2.4 4.5-3.5 6.6-8.1 15.6-25.8 8.9-12 6.7-6.8 17.8-16 6.7-4.7 4.5-1.6 4.4 0.2 4.5 1.8 24.5 15.8 11.1 7.9 4.5 4 4.5 5.3 11.1 18.6 6.7 8.8 6.6 5 4.5 2 4.5 1.1M-85.8 15l6.7-1.5 4.5-1.8 4.4-3 4.5-4.4 4.4-6.4 13-24.1 5.5-9.1 6.5-9.1 6.2-7 6.7-5.4 8.9-5.2 6.7-2.6 6.7-1.4 8.9-0.1 8.9 2 13.4 5.3 8.9 5.3 5.2 4.5 5.6 6.8 11.5 21.3 6.6 9.5 4.5 4.1 4.4 2.7 4.5 1.8 4.5 0.9M-81.3 31l6.7-1.9 4.4-2.4 4.5-3.9 2.2-2.9 4.5-8.1 9.3-22.1 4.5-9.1 8.1-13.6 7-9.3 6.7-6.3 6.7-4.5 6.7-3 8.9-2.2 8.9-0.3 11.1 2 8.9 3.3 9 5.4 6 5.7 4.9 6.9 11.3 22.6 6.7 10.6 4.5 4.4 4.4 3.1 4.5 2 6.7 1.6M-73.9 46.7l3.7-1.2 4.5-2.3 4.4-3.9 2.8-4 3.9-9.1 5.8-20.5 4.8-13.7 6.7-13.6 7.2-11.3 6.7-7.6 6.7-5.5 6.7-3.6 8.9-2.5 8.9-0.5 9 1.3 8.8 3.1 4.5 2.5 4.4 3.2 6.7 7.1 4.5 6.8 11.8 25.2 6 10.2 4.4 5.1 4.5 3.5 4.4 2.2 6.7 2M-61.3 61.3l4.5-3.7 4.5-4.8 2.5-3.8 2.1-4.6 2-8 2.5-21.6 1.8-9.1 4.3-13.7 5.5-11.4 6-9.3 8.2-8.9 7.4-5.1 8.9-3.2 8.9-0.8 8.9 1.4 8.9 3.7 6.7 4.9 5.4 5.9 5.7 9 13.4 30.2 6.6 11 4.5 4.9 4.5 3.3 4.4 2.3 4.5 1.5M-39.6 78.6l6.5-15.9 2-9.1-0.1-9.2-2.4-15.9-0.9-11.4 0.6-9.1 2.6-11.4 4.7-11.4 7.7-11.8 4.4-4.8 4.5-3.5 4.4-2.5 4.5-1.6 8.9-1.2 4.5 0.5 4.4 1.1 4.5 1.9 4.4 2.6 6.2 5.6 5 6.6 5.1 9.4 12.7 31.3 4.4 9.3 6.7 10 4.5 4.5 4.4 3.5M8.5 87.7l-1.1-9.1-2.8-9.1-3.8-6.8-10.8-14.8-7.8-12.6-4.7-11.4-2.2-11.4 0.2-6.8 1.1-6.8 2.2-6.9 2.3-5 3.9-6.4 3.8-4.5 5.6-4.6 4.5-2.3 6.7-1.5 4.4 0 4.5 1 4.4 1.9 4.5 2.8 4.4 4.2 6.7 9.5 4.5 9.2 4.4 11.6 10.7 34.3 2.1 11.4 0 13.6M34.5 49.5l-4.4 1.7-4.5-0.3-6.7-2.6-6.6-4.1-6.7-5.1-6.7-6.5-5.1-6.4-3.8-6.5-2.3-5.9-1-5.8 0-4.6 1.2-6.8 1.7-4.6 2.6-4.6 4.5-4.8 4.4-2.9 6.7-1.6 4.5 0.6 4.4 1.9 6.7 5.5 4.4 5.9 2.3 4.3 3 7.1 2.9 9.1 2.1 9.1 1.3 9.2 0.1 6.8-0.6 4.6-1.8 4.5-2.6 2.8"/>
</g>
<use href="#hL"/>
<use href="#nL"/>
</g>
<g transform="translate(809,511.7)">
<g clip-path="url(#cL)">
<g filter="url(#fL)">
<path d="M-123.4 -125.5H-71V-72.6H-123.4z" fill="#202020"/>
<path d="M-71.6 -125.5H-53.2V-72.6H-71.6z" fill="#202020"/>
<path d="M-53.8 -125.5H-35.3V-72.6H-53.8z" fill="#2a2a2a"/>
<path d="M-35.9 -125.5H-17.5V-72.6H-35.9z" fill="#3b3b3b"/>
<path d="M-18.1 -125.5H0.3V-72.6H-18.1z" fill="#484848"/>
<path d="M-0.3 -125.5H18.1V-72.6H-0.3z" fill="#484848"/>
<path d="M17.5 -125.5H35.9V-72.6H17.5z" fill="#3b3b3b"/>
<path d="M35.3 -125.5H53.8V-72.6H35.3z" fill="#2a2a2a"/>
<path d="M53.2 -125.5H71.6V-72.6H53.2z" fill="#202020"/>
<path d="M71 -125.5H123.4V-72.6H71z" fill="#202020"/>
<path d="M-123.4 -73.2H-71V-54.4H-123.4z" fill="#1d1d1d"/>
<path d="M-71.6 -73.2H-53.2V-54.4H-71.6z" fill="#1e1e1e"/>
<path d="M-53.8 -73.2H-35.3V-54.4H-53.8z" fill="#2d2d2d"/>
<path d="M-35.9 -73.2H-17.5V-54.4H-35.9z" fill="#464646"/>
<path d="M-18.1 -73.2H0.3V-54.4H-18.1z" fill="#5a5a5a"/>
<path d="M-0.3 -73.2H18.1V-54.4H-0.3z" fill="#5d5d5d"/>
<path d="M17.5 -73.2H35.9V-54.4H17.5z" fill="#4c4c4c"/>
<path d="M35.3 -73.2H53.8V-54.4H35.3z" fill="#333333"/>
<path d="M53.2 -73.2H71.6V-54.4H53.2z" fill="#1f1f1f"/>
<path d="M71 -73.2H123.4V-54.4H71z" fill="#1d1d1d"/>
<path d="M-123.4 -55H-71V-36.2H-123.4z" fill="#1f1f1f"/>
<path d="M-71.6 -55H-53.2V-36.2H-71.6z" fill="#242424"/>
<path d="M-53.8 -55H-35.3V-36.2H-53.8z" fill="#4c4c4c"/>
<path d="M-35.9 -55H-17.5V-36.2H-35.9z" fill="#7b7b7b"/>
<path d="M-18.1 -55H0.3V-36.2H-18.1z" fill="#9f9f9f"/>
<path d="M-0.3 -55H18.1V-36.2H-0.3z" fill="#a3a3a3"/>
<path d="M17.5 -55H35.9V-36.2H17.5z" fill="#858585"/>
<path d="M35.3 -55H53.8V-36.2H35.3z" fill="#565656"/>
<path d="M53.2 -55H71.6V-36.2H53.2z" fill="#232323"/>
<path d="M71 -55H123.4V-36.2H71z" fill="#191919"/>
<path d="M-123.4 -36.8H-71V-17.9H-123.4z" fill="#333333"/>
<path d="M-71.6 -36.8H-53.2V-17.9H-71.6z" fill="#3f3f3f"/>
<path d="M-53.8 -36.8H-35.3V-17.9H-53.8z" fill="#797979"/>
<path d="M-35.9 -36.8H-17.5V-17.9H-35.9z" fill="#a9a9a9"/>
<path d="M-18.1 -36.8H0.3V-17.9H-18.1z" fill="#c5c5c5"/>
<path d="M-0.3 -36.8H18.1V-17.9H-0.3z" fill="#c3c3c3"/>
<path d="M17.5 -36.8H35.9V-17.9H17.5z" fill="#a3a3a3"/>
<path d="M35.3 -36.8H53.8V-17.9H35.3z" fill="#6f6f6f"/>
<path d="M53.2 -36.8H71.6V-17.9H53.2z" fill="#323232"/>
<path d="M71 -36.8H123.4V-17.9H71z" fill="#262626"/>
<path d="M-123.4 -18.5H-71V0.3H-123.4z" fill="#515151"/>
<path d="M-71.6 -18.5H-53.2V0.3H-71.6z" fill="#606060"/>
<path d="M-53.8 -18.5H-35.3V0.3H-53.8z" fill="#9e9e9e"/>
<path d="M-35.9 -18.5H-17.5V0.3H-35.9z" fill="#c4c4c4"/>
<path d="M-18.1 -18.5H0.3V0.3H-18.1z" fill="#d2d2d2"/>
<path d="M-0.3 -18.5H18.1V0.3H-0.3z" fill="#cbcbcb"/>
<path d="M17.5 -18.5H35.9V0.3H17.5z" fill="#b0b0b0"/>
<path d="M35.3 -18.5H53.8V0.3H35.3z" fill="#848484"/>
<path d="M53.2 -18.5H71.6V0.3H53.2z" fill="#4a4a4a"/>
<path d="M71 -18.5H123.4V0.3H71z" fill="#3d3d3d"/>
<path d="M-123.4 -0.3H-71V18.5H-123.4z" fill="#6e6e6e"/>
<path d="M-71.6 -0.3H-53.2V18.5H-71.6z" fill="#7a7a7a"/>
<path d="M-53.8 -0.3H-35.3V18.5H-53.8z" fill="#aaaaaa"/>
<path d="M-35.9 -0.3H-17.5V18.5H-35.9z" fill="#c4c4c4"/>
<path d="M-18.1 -0.3H0.3V18.5H-18.1z" fill="#cdcdcd"/>
<path d="M-0.3 -0.3H18.1V18.5H-0.3z" fill="#cacaca"/>
<path d="M17.5 -0.3H35.9V18.5H17.5z" fill="#bbbbbb"/>
<path d="M35.3 -0.3H53.8V18.5H35.3z" fill="#9b9b9b"/>
<path d="M53.2 -0.3H71.6V18.5H53.2z" fill="#676767"/>
<path d="M71 -0.3H123.4V18.5H71z" fill="#595959"/>
<path d="M-123.4 17.9H-71V36.8H-123.4z" fill="#848484"/>
<path d="M-71.6 17.9H-53.2V36.8H-71.6z" fill="#888888"/>
<path d="M-53.8 17.9H-35.3V36.8H-53.8z" fill="#9c9c9c"/>
<path d="M-35.9 17.9H-17.5V36.8H-35.9z" fill="#aeaeae"/>
<path d="M-18.1 17.9H0.3V36.8H-18.1z" fill="#bebebe"/>
<path d="M-0.3 17.9H18.1V36.8H-0.3z" fill="#c7c7c7"/>
<path d="M17.5 17.9H35.9V36.8H17.5z" fill="#c6c6c6"/>
<path d="M35.3 17.9H53.8V36.8H35.3z" fill="#b2b2b2"/>
<path d="M53.2 17.9H71.6V36.8H53.2z" fill="#838383"/>
<path d="M71 17.9H123.4V36.8H71z" fill="#767676"/>
<path d="M-123.4 36.2H-71V55H-123.4z" fill="#919191"/>
<path d="M-71.6 36.2H-53.2V55H-71.6z" fill="#8e8e8e"/>
<path d="M-53.8 36.2H-35.3V55H-53.8z" fill="#8c8c8c"/>
<path d="M-35.9 36.2H-17.5V55H-35.9z" fill="#999999"/>
<path d="M-18.1 36.2H0.3V55H-18.1z" fill="#adadad"/>
<path d="M-0.3 36.2H18.1V55H-0.3z" fill="#c0c0c0"/>
<path d="M17.5 36.2H35.9V55H17.5z" fill="#cacaca"/>
<path d="M35.3 36.2H53.8V55H35.3z" fill="#c1c1c1"/>
<path d="M53.2 36.2H71.6V55H53.2z" fill="#9b9b9b"/>
<path d="M71 36.2H123.4V55H71z" fill="#8f8f8f"/>
<path d="M-123.4 54.4H-71V73.2H-123.4z" fill="#929292"/>
<path d="M-71.6 54.4H-53.2V73.2H-71.6z" fill="#919191"/>
<path d="M-53.8 54.4H-35.3V73.2H-53.8z" fill="#929292"/>
<path d="M-35.9 54.4H-17.5V73.2H-35.9z" fill="#999999"/>
<path d="M-18.1 54.4H0.3V73.2H-18.1z" fill="#a4a4a4"/>
<path d="M-0.3 54.4H18.1V73.2H-0.3z" fill="#b4b4b4"/>
<path d="M17.5 54.4H35.9V73.2H17.5z" fill="#c1c1c1"/>
<path d="M35.3 54.4H53.8V73.2H35.3z" fill="#c1c1c1"/>
<path d="M53.2 54.4H71.6V73.2H53.2z" fill="#a7a7a7"/>
<path d="M71 54.4H123.4V73.2H71z" fill="#9e9e9e"/>
<path d="M-123.4 72.6H-71V125.5H-123.4z" fill="#919191"/>
<path d="M-71.6 72.6H-53.2V125.5H-71.6z" fill="#929292"/>
<path d="M-53.8 72.6H-35.3V125.5H-53.8z" fill="#989898"/>
<path d="M-35.9 72.6H-17.5V125.5H-35.9z" fill="#9d9d9d"/>
<path d="M-18.1 72.6H0.3V125.5H-18.1z" fill="#a5a5a5"/>
<path d="M-0.3 72.6H18.1V125.5H-0.3z" fill="#b1b1b1"/>
<path d="M17.5 72.6H35.9V125.5H17.5z" fill="#bdbdbd"/>
<path d="M35.3 72.6H53.8V125.5H35.3z" fill="#bebebe"/>
<path d="M53.2 72.6H71.6V125.5H53.2z" fill="#a8a8a8"/>
<path d="M71 72.6H123.4V125.5H71z" fill="#9f9f9f"/>
</g>
<path class="ct" d="M-81.3 -28.5l6.7-2.2 4.4-2.4 4.5-3.4 4.4-4.5 20.1-26.2 3.8-6.9 2.5-6.8M36.2 -80.9l3.6 6.8 12.5 18.4 10.8 22.7 4.4 6.8 2.7 2.9 4.4 3.4 4.5 2.1 6.7 1.7M-85.8 -16.4l6.7-1.4 4.5-1.7 4.4-2.5 4.5-3.5 6.7-7.2 15.6-19.4 24-24.2 5.4-6.9 2.7-4.5M11.7 -87.7l3.1 4.5 4.1 4.6 20.1 18.4 6.7 7.5 4.9 8.3 10.3 22.8 4.8 7.1 4.5 4.4 4.4 2.8 4.5 1.9 6.7 1.4M-86.6 -5.7l5.3-0.9 4.5-1.5 4.4-2.2 4.5-3.2 6.6-6.8 11.3-15 8.8-10.5 6.7-6.7 6.7-5.4 8.9-5.9 8.9-4.4 6.7-1.8 6.6-0.3 6.7 1.1 8.9 3.6 11.2 6.6 6.6 5.4 4.5 5.1 4.1 6.3 11.5 26.1 6.7 11 4.4 4.7 4.5 3.1 6.7 2.9 6.7 1.4M-85.8 5.1l9-2.2 4.4-2.2 4.5-3.3 6.6-7.7 11.2-16.4 6.6-8.6 9-9.9 6.7-5.8 6.6-4.4 8.9-4.2 9-2.2 8.9-0.2 6.7 1.3 8.9 3.3 6.6 3.8 5.6 4.6 3.9 4.6 4.3 6.8 12.9 29.6 6.8 11.5 4.4 5.1 4.5 3.6 6.6 3.4 6.7 1.8M-83.5 17.4l6.7-1.5 4.4-2.1 6.7-5.7 4.4-6.2 9.3-16.7 6.3-9.8 8.6-10.7 9.3-9.1 6.6-4.9 8.9-4.4 9-2.2 8.9-0.2 6.7 1.2 6.6 2.5 6 3.4 5.3 4.6 3.7 4.5 4 6.9 12.7 29.6 8.4 15.1 4.5 5.6 6.7 5.8 4.4 2.5 6.7 2.4M-79.1 34.6l8.9-1.7 4.5-2.7 2.2-2.6 3-6 7-20.5 4.9-11.4 7-11.3 9.3-11.6 8.9-8.2 8.9-5.7 8.9-3 8.9-0.7 6.7 0.9 6.7 2.5 6.7 4.4 4.4 4.6 6.2 9.9 12.5 29.6 10.3 19 4.5 6.3 4.4 5 4.5 3.8 6.6 3.8M-34.5 81.1l6-13.9 0.9-4.5 0-6.9-1.1-4.5-2-4.6-3.2-4.5-8-9.2-4.3-6.8-1.5-4.6-0.8-4.5-0.1-4.6 0.8-6.8 2.5-9.1 3-6.9 4-6.8 6-8 6.7-7.2 6.3-5.3 7-4.3 4.5-1.8 8.9-1.4 4.5 0.3 4.4 1 7.4 3.9 6 5.9 4.9 7.8 11.3 27.3 9.4 18.3 12.3 20.8 4.4 5.9 4.9 5.2M-0.5 87.7l-0.5-9.1-1.4-9.1-1.9-6.8-3.9-9.1-3.8-6.9-5-6.8-13.1-12.9-4.7-5.4-3.6-6.8-1.3-6.8 0.2-4.6 1.6-6.8 2.8-6.9 2.8-4.6 5.1-6.7 6-6.4 6.4-5 4.8-2.8 6.7-2 4.4-0.3 4.5 0.5 6.7 2.9 4.4 3.9 2.2 2.8 4.7 8.6 11.1 27.4 11.1 20.5 6.7 13.7 3.6 9.1 3.7 11.4M26.6 83.2l-2.3-6.9-5.6-11.4-16.9-25-8.2-9.1-17-14.7-2.9-3.6-2.1-4.5-0.8-4.6 0.3-4.5 1.2-4.6 2.1-4.6 4.4-6.3 4.5-4.7 4.4-3.5 4.5-2.5 6.7-1.4 4.4 0.7 2.3 0.8 4.4 3.3 4.5 6.8 9.8 27.4 4.6 9.1 10.1 17.5 4 9.8 1.3 6.9 0.5 6.8-0.3 6.8-1.4 9.1"/>
</g>
<use href="#hL"/>
<use href="#nL"/>
</g>
<g transform="translate(1044,511.7)">
<g clip-path="url(#cL)">
<g filter="url(#fL)">
<path d="M-123.4 -125.5H-71V-72.6H-123.4z" fill="#757575"/>
<path d="M-71.6 -125.5H-53.2V-72.6H-71.6z" fill="#777777"/>
<path d="M-53.8 -125.5H-35.3V-72.6H-53.8z" fill="#838383"/>
<path d="M-35.9 -125.5H-17.5V-72.6H-35.9z" fill="#8e8e8e"/>
<path d="M-18.1 -125.5H0.3V-72.6H-18.1z" fill="#929292"/>
<path d="M-0.3 -125.5H18.1V-72.6H-0.3z" fill="#8c8c8c"/>
<path d="M17.5 -125.5H35.9V-72.6H17.5z" fill="#7b7b7b"/>
<path d="M35.3 -125.5H53.8V-72.6H35.3z" fill="#6a6a6a"/>
<path d="M53.2 -125.5H71.6V-72.6H53.2z" fill="#606060"/>
<path d="M71 -125.5H123.4V-72.6H71z" fill="#606060"/>
<path d="M-123.4 -73.2H-71V-54.4H-123.4z" fill="#737373"/>
<path d="M-71.6 -73.2H-53.2V-54.4H-71.6z" fill="#767676"/>
<path d="M-53.8 -73.2H-35.3V-54.4H-53.8z" fill="#898989"/>
<path d="M-35.9 -73.2H-17.5V-54.4H-35.9z" fill="#9a9a9a"/>
<path d="M-18.1 -73.2H0.3V-54.4H-18.1z" fill="#a3a3a3"/>
<path d="M-0.3 -73.2H18.1V-54.4H-0.3z" fill="#9a9a9a"/>
<path d="M17.5 -73.2H35.9V-54.4H17.5z" fill="#838383"/>
<path d="M35.3 -73.2H53.8V-54.4H35.3z" fill="#6a6a6a"/>
<path d="M53.2 -73.2H71.6V-54.4H53.2z" fill="#5b5b5b"/>
<path d="M71 -73.2H123.4V-54.4H71z" fill="#5a5a5a"/>
<path d="M-123.4 -55H-71V-36.2H-123.4z" fill="#6d6d6d"/>
<path d="M-71.6 -55H-53.2V-36.2H-71.6z" fill="#757575"/>
<path d="M-53.8 -55H-35.3V-36.2H-53.8z" fill="#a1a1a1"/>
<path d="M-35.9 -55H-17.5V-36.2H-35.9z" fill="#c6c6c6"/>
<path d="M-18.1 -55H0.3V-36.2H-18.1z" fill="#d9d9d9"/>
<path d="M-0.3 -55H18.1V-36.2H-0.3z" fill="#cfcfcf"/>
<path d="M17.5 -55H35.9V-36.2H17.5z" fill="#ababab"/>
<path d="M35.3 -55H53.8V-36.2H35.3z" fill="#7d7d7d"/>
<path d="M53.2 -55H71.6V-36.2H53.2z" fill="#565656"/>
<path d="M71 -55H123.4V-36.2H71z" fill="#505050"/>
<path d="M-123.4 -36.8H-71V-17.9H-123.4z" fill="#6a6a6a"/>
<path d="M-71.6 -36.8H-53.2V-17.9H-71.6z" fill="#787878"/>
<path d="M-53.8 -36.8H-35.3V-17.9H-53.8z" fill="#b3b3b3"/>
<path d="M-35.9 -36.8H-17.5V-17.9H-35.9z" fill="#dbdbdb"/>
<path d="M-18.1 -36.8H0.3V-17.9H-18.1z" fill="#eeeeee"/>
<path d="M-0.3 -36.8H18.1V-17.9H-0.3z" fill="#eaeaea"/>
<path d="M17.5 -36.8H35.9V-17.9H17.5z" fill="#d0d0d0"/>
<path d="M35.3 -36.8H53.8V-17.9H35.3z" fill="#a4a4a4"/>
<path d="M53.2 -36.8H71.6V-17.9H53.2z" fill="#686868"/>
<path d="M71 -36.8H123.4V-17.9H71z" fill="#5a5a5a"/>
<path d="M-123.4 -18.5H-71V0.3H-123.4z" fill="#6f6f6f"/>
<path d="M-71.6 -18.5H-53.2V0.3H-71.6z" fill="#818181"/>
<path d="M-53.8 -18.5H-35.3V0.3H-53.8z" fill="#c0c0c0"/>
<path d="M-35.9 -18.5H-17.5V0.3H-35.9z" fill="#e2e2e2"/>
<path d="M-18.1 -18.5H0.3V0.3H-18.1z" fill="#efefef"/>
<path d="M-0.3 -18.5H18.1V0.3H-0.3z" fill="#f3f3f3"/>
<path d="M17.5 -18.5H35.9V0.3H17.5z" fill="#ececec"/>
<path d="M35.3 -18.5H53.8V0.3H35.3z" fill="#cccccc"/>
<path d="M53.2 -18.5H71.6V0.3H53.2z" fill="#868686"/>
<path d="M71 -18.5H123.4V0.3H71z" fill="#717171"/>
<path d="M-123.4 -0.3H-71V18.5H-123.4z" fill="#7e7e7e"/>
<path d="M-71.6 -0.3H-53.2V18.5H-71.6z" fill="#8f8f8f"/>
<path d="M-53.8 -0.3H-35.3V18.5H-53.8z" fill="#cacaca"/>
<path d="M-35.9 -0.3H-17.5V18.5H-35.9z" fill="#e2e2e2"/>
<path d="M-18.1 -0.3H0.3V18.5H-18.1z" fill="#ebebeb"/>
<path d="M-0.3 -0.3H18.1V18.5H-0.3z" fill="#f4f4f4"/>
<path d="M17.5 -0.3H35.9V18.5H17.5z" fill="#fafafa"/>
<path d="M35.3 -0.3H53.8V18.5H35.3z" fill="#e7e7e7"/>
<path d="M53.2 -0.3H71.6V18.5H53.2z" fill="#a4a4a4"/>
<path d="M71 -0.3H123.4V18.5H71z" fill="#8e8e8e"/>
<path d="M-123.4 17.9H-71V36.8H-123.4z" fill="#969696"/>
<path d="M-71.6 17.9H-53.2V36.8H-71.6z" fill="#a4a4a4"/>
<path d="M-53.8 17.9H-35.3V36.8H-53.8z" fill="#d1d1d1"/>
<path d="M-35.9 17.9H-17.5V36.8H-35.9z" fill="#e2e2e2"/>
<path d="M-18.1 17.9H0.3V36.8H-18.1z" fill="#e8e8e8"/>
<path d="M-0.3 17.9H18.1V36.8H-0.3z" fill="#f1f1f1"/>
<path d="M17.5 17.9H35.9V36.8H17.5z" fill="#fbfbfb"/>
<path d="M35.3 17.9H53.8V36.8H35.3z" fill="#f0f0f0"/>
<path d="M53.2 17.9H71.6V36.8H53.2z" fill="#bdbdbd"/>
<path d="M71 17.9H123.4V36.8H71z" fill="#ababab"/>
<path d="M-123.4 36.2H-71V55H-123.4z" fill="#b2b2b2"/>
<path d="M-71.6 36.2H-53.2V55H-71.6z" fill="#bcbcbc"/>
<path d="M-53.8 36.2H-35.3V55H-53.8z" fill="#d9d9d9"/>
<path d="M-35.9 36.2H-17.5V55H-35.9z" fill="#e3e3e3"/>
<path d="M-18.1 36.2H0.3V55H-18.1z" fill="#e5e5e5"/>
<path d="M-0.3 36.2H18.1V55H-0.3z" fill="#ebebeb"/>
<path d="M17.5 36.2H35.9V55H17.5z" fill="#f2f2f2"/>
<path d="M35.3 36.2H53.8V55H35.3z" fill="#eeeeee"/>
<path d="M53.2 36.2H71.6V55H53.2z" fill="#cfcfcf"/>
<path d="M71 36.2H123.4V55H71z" fill="#c4c4c4"/>
<path d="M-123.4 54.4H-71V73.2H-123.4z" fill="#cfcfcf"/>
<path d="M-71.6 54.4H-53.2V73.2H-71.6z" fill="#d4d4d4"/>
<path d="M-53.8 54.4H-35.3V73.2H-53.8z" fill="#e3e3e3"/>
<path d="M-35.9 54.4H-17.5V73.2H-35.9z" fill="#e4e4e4"/>
<path d="M-18.1 54.4H0.3V73.2H-18.1z" fill="#e1e1e1"/>
<path d="M-0.3 54.4H18.1V73.2H-0.3z" fill="#e2e2e2"/>
<path d="M17.5 54.4H35.9V73.2H17.5z" fill="#e7e7e7"/>
<path d="M35.3 54.4H53.8V73.2H35.3z" fill="#e6e6e6"/>
<path d="M53.2 54.4H71.6V73.2H53.2z" fill="#d8d8d8"/>
<path d="M71 54.4H123.4V73.2H71z" fill="#d3d3d3"/>
<path d="M-123.4 72.6H-71V125.5H-123.4z" fill="#d5d5d5"/>
<path d="M-71.6 72.6H-53.2V125.5H-71.6z" fill="#d9d9d9"/>
<path d="M-53.8 72.6H-35.3V125.5H-53.8z" fill="#e5e5e5"/>
<path d="M-35.9 72.6H-17.5V125.5H-35.9z" fill="#e4e4e4"/>
<path d="M-18.1 72.6H0.3V125.5H-18.1z" fill="#e0e0e0"/>
<path d="M-0.3 72.6H18.1V125.5H-0.3z" fill="#e0e0e0"/>
<path d="M17.5 72.6H35.9V125.5H17.5z" fill="#e4e4e4"/>
<path d="M35.3 72.6H53.8V125.5H35.3z" fill="#e5e5e5"/>
<path d="M53.2 72.6H71.6V125.5H53.2z" fill="#d9d9d9"/>
<path d="M71 72.6H123.4V125.5H71z" fill="#d4d4d4"/>
</g>
<path class="ct" d="M47.3 -74.1l1.7 9.2 4.9 13.6 5.1 11.3 4.5 7.2 4.4 5.7 6.7 5.8 4.5 2.5 6.7 2.1M-85.8 1.3l4.5-1.9 4.5-3.6 4.1-6.1 2.5-5.8 2.3-7.8 1.6-9.1 3.1-27.4M29.9 -83.2l2.5 9.1 3 6.9 21.4 35.9 6.7 10.2 4.4 5.3 6.7 5.7 4.5 2.6 6.7 2.1M-85.8 16.3l6.7-2.1 4.5-2.9 4.4-4.7 3.3-5.5 2.9-6.8 1.9-6.8 6.2-29.7 2.6-9.1 4.2-9.1 10.6-18.2M11.7 -87.7l2.6 6.8 4.1 6.8 20.6 25.2 8.9 13 13.4 21.5 4.4 6.1 4.5 4.8 4.4 3.6 4.5 2.5 6.7 2.1M-81.3 27.1l6.7-2.7 3.8-2.8 4.3-4.5 3-4.9 2.2-5 2.7-8.3 8.9-38.8 2.6-6.8 3.7-6.4 6.6-7.5 9-6.9 8.9-4.7 4.4-1.4 4.5-0.6 6.7 0.8 8.9 3.7 8.9 5.6 11.1 9 6.7 6.9 11.1 14.5 6.7 10.1 11.2 18.8 6.6 8.9 4.5 4.3 4.4 3.1 4.5 2 4.5 1.1M-79.1 37.2l6.7-2.5 4.5-3 4.4-4.7 4.4-7.6 4.6-13.7 8.2-36.5 3.3-9.1 3.7-6.8 4.8-5.6 6.7-5 8.9-3.9 8.9-1.7 8.9 0.7 8.9 2.8 8.9 4.9 7 5.5 8.6 9.2 11.1 14.4 6.9 10.6 11 19.9 6.6 9.5 6.7 5.9 4.5 2.4 4.4 1.4M-72.4 45.7l4.5-2.2 4.6-3.6 4.3-5.1 3.4-6.3 2.6-6.9 2.7-9.1 8.8-38.7 2.5-7.2 3.2-6.5 5.4-6.8 4.8-3.8 6.7-3.2 8.9-1.9 8.9 0.4 8.9 2.6 6.7 3.6 8.9 7.5 11.1 12.5 11.2 15.1 4.7 8.2 10.9 22.2 4.4 7 6.7 7 6.7 3.8M-67.9 55.5l6.6-4.3 4.5-4.5 3.1-4.5 3.4-6.9 5.1-15.9 8.4-38.9 3-9 3.4-6.8 4.8-6 4.4-3.6 6.7-3 6.7-1.2 8.9 1 4.5 1.4 4.5 2.3 8.8 6.8 11.2 11.8 8.9 11 6.7 10.1 5.1 10.4 8.2 20.4 4.5 8.7 4.4 5.9 6.7 5.4M-57.4 64.9l10.7-13.6 3.8-6.9 2.8-6.8 4.1-16 5.7-34.1 2.5-8.9 2.2-5.4 3.9-6.2 4.9-4.6 4.5-2.4 6.7-1.1 4.5 0.4 4.4 1.3 4.5 2.2 4.5 3.1 6.6 6.1 8.9 9.3 11.2 13.7 4.4 7.4 4.5 10 10.4 34.3 5.7 13.7M36.8 67.7l-2.3 1-4.4 0.2-4.5-1.6-6.7-3.9-15.2-9.8-5.9-4.6-4.3-4.6-4.3-6.8-3.3-9.1-2.4-11.4-1.5-13.7-0.1-9.1 1.3-9.1 2.3-6.3 2.2-3.3 4.5-3.3 4.5-0.9 4.4 0.8 4.5 2 4.4 3 13.4 11.8 6.7 6.9 5.7 7.5 3.9 6.9 3.4 9.1 2.1 9.1 1 9.1 0 9.1-1 6.9-1.8 5.4-2.2 4.1-4.4 4.6"/>
</g>
<use href="#hL"/>
<use href="#nL"/>
</g>
<g transform="translate(322.7,799)">
<g clip-path="url(#cL)">
<g filter="url(#fL)">
<path d="M-123.4 -125.5H-71V-72.6H-123.4z" fill="#313131"/>
<path d="M-71.6 -125.5H-53.2V-72.6H-71.6z" fill="#323232"/>
<path d="M-53.8 -125.5H-35.3V-72.6H-53.8z" fill="#383838"/>
<path d="M-35.9 -125.5H-17.5V-72.6H-35.9z" fill="#3d3d3d"/>
<path d="M-18.1 -125.5H0.3V-72.6H-18.1z" fill="#3f3f3f"/>
<path d="M-0.3 -125.5H18.1V-72.6H-0.3z" fill="#3f3f3f"/>
<path d="M17.5 -125.5H35.9V-72.6H17.5z" fill="#3d3d3d"/>
<path d="M35.3 -125.5H53.8V-72.6H35.3z" fill="#383838"/>
<path d="M53.2 -125.5H71.6V-72.6H53.2z" fill="#323232"/>
<path d="M71 -125.5H123.4V-72.6H71z" fill="#313131"/>
<path d="M-123.4 -73.2H-71V-54.4H-123.4z" fill="#303030"/>
<path d="M-71.6 -73.2H-53.2V-54.4H-71.6z" fill="#313131"/>
<path d="M-53.8 -73.2H-35.3V-54.4H-53.8z" fill="#373737"/>
<path d="M-35.9 -73.2H-17.5V-54.4H-35.9z" fill="#3f3f3f"/>
<path d="M-18.1 -73.2H0.3V-54.4H-18.1z" fill="#434343"/>
<path d="M-0.3 -73.2H18.1V-54.4H-0.3z" fill="#424242"/>
<path d="M17.5 -73.2H35.9V-54.4H17.5z" fill="#3c3c3c"/>
<path d="M35.3 -73.2H53.8V-54.4H35.3z" fill="#353535"/>
<path d="M53.2 -73.2H71.6V-54.4H53.2z" fill="#313131"/>
<path d="M71 -73.2H123.4V-54.4H71z" fill="#303030"/>
<path d="M-123.4 -55H-71V-36.2H-123.4z" fill="#2f2f2f"/>
<path d="M-71.6 -55H-53.2V-36.2H-71.6z" fill="#303030"/>
<path d="M-53.8 -55H-35.3V-36.2H-53.8z" fill="#3a3a3a"/>
<path d="M-35.9 -55H-17.5V-36.2H-35.9z" fill="#494949"/>
<path d="M-18.1 -55H0.3V-36.2H-18.1z" fill="#525252"/>
<path d="M-0.3 -55H18.1V-36.2H-0.3z" fill="#505050"/>
<path d="M17.5 -55H35.9V-36.2H17.5z" fill="#434343"/>
<path d="M35.3 -55H53.8V-36.2H35.3z" fill="#343434"/>
<path d="M53.2 -55H71.6V-36.2H53.2z" fill="#2f2f2f"/>
<path d="M71 -55H123.4V-36.2H71z" fill="#303030"/>
<path d="M-123.4 -36.8H-71V-17.9H-123.4z" fill="#333333"/>
<path d="M-71.6 -36.8H-53.2V-17.9H-71.6z" fill="#363636"/>
<path d="M-53.8 -36.8H-35.3V-17.9H-53.8z" fill="#454545"/>
<path d="M-35.9 -36.8H-17.5V-17.9H-35.9z" fill="#535353"/>
<path d="M-18.1 -36.8H0.3V-17.9H-18.1z" fill="#5d5d5d"/>
<path d="M-0.3 -36.8H18.1V-17.9H-0.3z" fill="#5f5f5f"/>
<path d="M17.5 -36.8H35.9V-17.9H17.5z" fill="#585858"/>
<path d="M35.3 -36.8H53.8V-17.9H35.3z" fill="#494949"/>
<path d="M53.2 -36.8H71.6V-17.9H53.2z" fill="#363636"/>
<path d="M71 -36.8H123.4V-17.9H71z" fill="#323232"/>
<path d="M-123.4 -18.5H-71V0.3H-123.4z" fill="#3c3c3c"/>
<path d="M-71.6 -18.5H-53.2V0.3H-71.6z" fill="#404040"/>
<path d="M-53.8 -18.5H-35.3V0.3H-53.8z" fill="#525252"/>
<path d="M-35.9 -18.5H-17.5V0.3H-35.9z" fill="#5e5e5e"/>
<path d="M-18.1 -18.5H0.3V0.3H-18.1z" fill="#676767"/>
<path d="M-0.3 -18.5H18.1V0.3H-0.3z" fill="#6e6e6e"/>
<path d="M17.5 -18.5H35.9V0.3H17.5z" fill="#717171"/>
<path d="M35.3 -18.5H53.8V0.3H35.3z" fill="#666666"/>
<path d="M53.2 -18.5H71.6V0.3H53.2z" fill="#444444"/>
<path d="M71 -18.5H123.4V0.3H71z" fill="#3a3a3a"/>
<path d="M-123.4 -0.3H-71V18.5H-123.4z" fill="#494949"/>
<path d="M-71.6 -0.3H-53.2V18.5H-71.6z" fill="#4d4d4d"/>
<path d="M-53.8 -0.3H-35.3V18.5H-53.8z" fill="#5d5d5d"/>
<path d="M-35.9 -0.3H-17.5V18.5H-35.9z" fill="#686868"/>
<path d="M-18.1 -0.3H0.3V18.5H-18.1z" fill="#727272"/>
<path d="M-0.3 -0.3H18.1V18.5H-0.3z" fill="#7d7d7d"/>
<path d="M17.5 -0.3H35.9V18.5H17.5z" fill="#858585"/>
<path d="M35.3 -0.3H53.8V18.5H35.3z" fill="#7d7d7d"/>
<path d="M53.2 -0.3H71.6V18.5H53.2z" fill="#555555"/>
<path d="M71 -0.3H123.4V18.5H71z" fill="#484848"/>
<path d="M-123.4 17.9H-71V36.8H-123.4z" fill="#575757"/>
<path d="M-71.6 17.9H-53.2V36.8H-71.6z" fill="#595959"/>
<path d="M-53.8 17.9H-35.3V36.8H-53.8z" fill="#646464"/>
<path d="M-35.9 17.9H-17.5V36.8H-35.9z" fill="#707070"/>
<path d="M-18.1 17.9H0.3V36.8H-18.1z" fill="#7d7d7d"/>
<path d="M-0.3 17.9H18.1V36.8H-0.3z" fill="#898989"/>
<path d="M17.5 17.9H35.9V36.8H17.5z" fill="#909090"/>
<path d="M35.3 17.9H53.8V36.8H35.3z" fill="#888888"/>
<path d="M53.2 17.9H71.6V36.8H53.2z" fill="#656565"/>
<path d="M71 17.9H123.4V36.8H71z" fill="#595959"/>
<path d="M-123.4 36.2H-71V55H-123.4z" fill="#636363"/>
<path d="M-71.6 36.2H-53.2V55H-71.6z" fill="#646464"/>
<path d="M-53.8 36.2H-35.3V55H-53.8z" fill="#6c6c6c"/>
<path d="M-35.9 36.2H-17.5V55H-35.9z" fill="#777777"/>
<path d="M-18.1 36.2H0.3V55H-18.1z" fill="#838383"/>
<path d="M-0.3 36.2H18.1V55H-0.3z" fill="#8d8d8d"/>
<path d="M17.5 36.2H35.9V55H17.5z" fill="#909090"/>
<path d="M35.3 36.2H53.8V55H35.3z" fill="#888888"/>
<path d="M53.2 36.2H71.6V55H53.2z" fill="#707070"/>
<path d="M71 36.2H123.4V55H71z" fill="#696969"/>
<path d="M-123.4 54.4H-71V73.2H-123.4z" fill="#6a6a6a"/>
<path d="M-71.6 54.4H-53.2V73.2H-71.6z" fill="#6c6c6c"/>
<path d="M-53.8 54.4H-35.3V73.2H-53.8z" fill="#757575"/>
<path d="M-35.9 54.4H-17.5V73.2H-35.9z" fill="#7c7c7c"/>
<path d="M-18.1 54.4H0.3V73.2H-18.1z" fill="#818181"/>
<path d="M-0.3 54.4H18.1V73.2H-0.3z" fill="#848484"/>
<path d="M17.5 54.4H35.9V73.2H17.5z" fill="#848484"/>
<path d="M35.3 54.4H53.8V73.2H35.3z" fill="#808080"/>
<path d="M53.2 54.4H71.6V73.2H53.2z" fill="#747474"/>
<path d="M71 54.4H123.4V73.2H71z" fill="#717171"/>
<path d="M-123.4 72.6H-71V125.5H-123.4z" fill="#6a6a6a"/>
<path d="M-71.6 72.6H-53.2V125.5H-71.6z" fill="#6d6d6d"/>
<path d="M-53.8 72.6H-35.3V125.5H-53.8z" fill="#777777"/>
<path d="M-35.9 72.6H-17.5V125.5H-35.9z" fill="#7d7d7d"/>
<path d="M-18.1 72.6H0.3V125.5H-18.1z" fill="#7f7f7f"/>
<path d="M-0.3 72.6H18.1V125.5H-0.3z" fill="#808080"/>
<path d="M17.5 72.6H35.9V125.5H17.5z" fill="#808080"/>
<path d="M35.3 72.6H53.8V125.5H35.3z" fill="#7d7d7d"/>
<path d="M53.2 72.6H71.6V125.5H53.2z" fill="#737373"/>
<path d="M71 72.6H123.4V125.5H71z" fill="#717171"/>
</g>
<path class="ct" d="M-85.8 -14.2l9-1.7 6.6-2.9 6.7-4.8 6.7-7.6 8.4-13.2 5.2-11.4 3.8-11.4 1.7-11.4M35.5 -80.9l-1.7 9.1 0.1 6.9 2.7 9.1 3.9 6.8 3.9 4.6 25.8 23.9 8.9 6.3 6.7 2.5M-85.8 0.8l6.7-1 6.7-2 4.5-2.3 4.4-3.2 8.9-9.7 22.3-30.5 6.7-7.8 4.4-3.9 6.7-4.2 6.7-2.3 4.5-0.5 4.4 0.4 4.5 1.2 4.4 2.1 4.5 3 18.7 17.7 19.1 15.6 15.6 17.5 4.5 4.2 6.7 4.5 6.7 2.4M-85.8 13.7l6.7-0.8 6.7-1.7 4.5-1.9 4.4-2.9 6.7-6.5 26.7-33.5 7.9-8.6 5.5-4.5 4.4-2.4 4.5-1.4 4.5-0.5 6.6 0.7 6.7 2.4 31.2 20.4 6.7 5.2 4.4 4.4 13.4 17.3 6.7 7 6.7 4.3 6.7 2.2M-81.3 25.9l11.1-2.2 4.5-1.9 4.4-2.9 6.7-6.7 20.1-25.4 15.6-16.6 4.4-3.7 4.5-2.7 4.4-1.5 4.5-0.6 6.7 0.7 8.9 3.1 15.6 7.6 11.1 6.6 6.7 5.5 4 4.5 11.6 17.1 6.7 8 6.6 5 6.7 2.5M-76.8 39.4l6.6-1.2 4.5-1.5 6.7-3.9 6.7-6.6 18.9-25.1 14.5-15.1 6.6-5.7 4.5-2.8 4.5-2 6.6-1.3 9 0.6 11.1 3.1 8.9 3.5 8.9 5.2 4.5 3.8 4.4 5.1 13.4 21.9 4.4 5.7 6.7 5.8 6.7 3.2M-67.2 55.8l8.2-5 8.9-8.1 5.9-7.4 15.9-22.8 12.9-13.6 7.6-6.4 6.7-4.3 4.4-1.9 6.7-1.4 8.9 0 8.9 1.9 6.7 2.7 7.3 4.8 3.9 3.8 4.4 6 11.2 21.3 4.4 7.2 4.5 5.1 6.1 4.5M-52.3 70.5l4-7.8 11.5-15.6 12.8-20.9 8.9-11.4 9.1-9.1 7.1-5.7 6.7-3.7 8.9-2.4 8.9 0.1 6.7 1.9 6.7 3.8 4.4 4.2 3.1 4.1 3.9 6.8 10.9 26.6 6.6 14.1M-32 80.9l2.5-11.4 8.6-22.8 4.1-9.1 5.3-9.1 8.2-10.4 8.9-8.3 6.7-4.3 4.4-1.8 4.5-1 4.4-0.1 4.5 0.9 6.7 3.3 5.6 5.7 5 9.1 3.8 11.4 2.5 13.7-0.2 11.4-2.7 13.7M18.9 67.3l-4.4-0.3-4.5-1-4.4-2.1-4.5-3.4-2.2-2.7-2.2-4.2-0.9-4.6 0.2-4.6 1.1-4.5 3.1-6.9 4.5-6.8 4.2-4.6 5.6-4.5 4.4-2.4 4.5-1.2 4.4 0 4.5 1.6 2.8 2 3.9 4.4 2.2 4.2 2.8 9.6 0.5 6.9-0.4 4.5-2.9 7.6-2.2 3.1-4.5 4.2-6.7 3.9-4.4 1.4-4.5 0.4"/>
</g>
<use href="#hL"/>
<use href="#nL"/>
</g>
<g transform="translate(560.3,799)">
<g clip-path="url(#cL)">
<g filter="url(#fL)">
<path d="M-123.4 -125.5H-71V-72.6H-123.4z" fill="#1c1c1c"/>
<path d="M-71.6 -125.5H-53.2V-72.6H-71.6z" fill="#1b1b1b"/>
<path d="M-53.8 -125.5H-35.3V-72.6H-53.8z" fill="#1f1f1f"/>
<path d="M-35.9 -125.5H-17.5V-72.6H-35.9z" fill="#2b2b2b"/>
<path d="M-18.1 -125.5H0.3V-72.6H-18.1z" fill="#353535"/>
<path d="M-0.3 -125.5H18.1V-72.6H-0.3z" fill="#353535"/>
<path d="M17.5 -125.5H35.9V-72.6H17.5z" fill="#2b2b2b"/>
<path d="M35.3 -125.5H53.8V-72.6H35.3z" fill="#1f1f1f"/>
<path d="M53.2 -125.5H71.6V-72.6H53.2z" fill="#1b1b1b"/>
<path d="M71 -125.5H123.4V-72.6H71z" fill="#1c1c1c"/>
<path d="M-123.4 -73.2H-71V-54.4H-123.4z" fill="#1c1c1c"/>
<path d="M-71.6 -73.2H-53.2V-54.4H-71.6z" fill="#1b1b1b"/>
<path d="M-53.8 -73.2H-35.3V-54.4H-53.8z" fill="#1e1e1e"/>
<path d="M-35.9 -73.2H-17.5V-54.4H-35.9z" fill="#2c2c2c"/>
<path d="M-18.1 -73.2H0.3V-54.4H-18.1z" fill="#393939"/>
<path d="M-0.3 -73.2H18.1V-54.4H-0.3z" fill="#393939"/>
<path d="M17.5 -73.2H35.9V-54.4H17.5z" fill="#2c2c2c"/>
<path d="M35.3 -73.2H53.8V-54.4H35.3z" fill="#1e1e1e"/>
<path d="M53.2 -73.2H71.6V-54.4H53.2z" fill="#1b1b1b"/>
<path d="M71 -73.2H123.4V-54.4H71z" fill="#1d1d1d"/>
<path d="M-123.4 -55H-71V-36.2H-123.4z" fill="#1f1f1f"/>
<path d="M-71.6 -55H-53.2V-36.2H-71.6z" fill="#1e1e1e"/>
<path d="M-53.8 -55H-35.3V-36.2H-53.8z" fill="#262626"/>
<path d="M-35.9 -55H-17.5V-36.2H-35.9z" fill="#3a3a3a"/>
<path d="M-18.1 -55H0.3V-36.2H-18.1z" fill="#4b4b4b"/>
<path d="M-0.3 -55H18.1V-36.2H-0.3z" fill="#4b4b4b"/>
<path d="M17.5 -55H35.9V-36.2H17.5z" fill="#393939"/>
<path d="M35.3 -55H53.8V-36.2H35.3z" fill="#252525"/>
<path d="M53.2 -55H71.6V-36.2H53.2z" fill="#202020"/>
<path d="M71 -55H123.4V-36.2H71z" fill="#222222"/>
<path d="M-123.4 -36.8H-71V-17.9H-123.4z" fill="#242424"/>
<path d="M-71.6 -36.8H-53.2V-17.9H-71.6z" fill="#262626"/>
<path d="M-53.8 -36.8H-35.3V-17.9H-53.8z" fill="#393939"/>
<path d="M-35.9 -36.8H-17.5V-17.9H-35.9z" fill="#4f4f4f"/>
<path d="M-18.1 -36.8H0.3V-17.9H-18.1z" fill="#606060"/>
<path d="M-0.3 -36.8H18.1V-17.9H-0.3z" fill="#606060"/>
<path d="M17.5 -36.8H35.9V-17.9H17.5z" fill="#515151"/>
<path d="M35.3 -36.8H53.8V-17.9H35.3z" fill="#3b3b3b"/>
<path d="M53.2 -36.8H71.6V-17.9H53.2z" fill="#2b2b2b"/>
<path d="M71 -36.8H123.4V-17.9H71z" fill="#292929"/>
<path d="M-123.4 -18.5H-71V0.3H-123.4z" fill="#2c2c2c"/>
<path d="M-71.6 -18.5H-53.2V0.3H-71.6z" fill="#323232"/>
<path d="M-53.8 -18.5H-35.3V0.3H-53.8z" fill="#505050"/>
<path d="M-35.9 -18.5H-17.5V0.3H-35.9z" fill="#666666"/>
<path d="M-18.1 -18.5H0.3V0.3H-18.1z" fill="#747474"/>
<path d="M-0.3 -18.5H18.1V0.3H-0.3z" fill="#767676"/>
<path d="M17.5 -18.5H35.9V0.3H17.5z" fill="#6c6c6c"/>
<path d="M35.3 -18.5H53.8V0.3H35.3z" fill="#585858"/>
<path d="M53.2 -18.5H71.6V0.3H53.2z" fill="#3b3b3b"/>
<path d="M71 -18.5H123.4V0.3H71z" fill="#343434"/>
<path d="M-123.4 -0.3H-71V18.5H-123.4z" fill="#373737"/>
<path d="M-71.6 -0.3H-53.2V18.5H-71.6z" fill="#404040"/>
<path d="M-53.8 -0.3H-35.3V18.5H-53.8z" fill="#656565"/>
<path d="M-35.9 -0.3H-17.5V18.5H-35.9z" fill="#7a7a7a"/>
<path d="M-18.1 -0.3H0.3V18.5H-18.1z" fill="#858585"/>
<path d="M-0.3 -0.3H18.1V18.5H-0.3z" fill="#898989"/>
<path d="M17.5 -0.3H35.9V18.5H17.5z" fill="#868686"/>
<path d="M35.3 -0.3H53.8V18.5H35.3z" fill="#757575"/>
<path d="M53.2 -0.3H71.6V18.5H53.2z" fill="#505050"/>
<path d="M71 -0.3H123.4V18.5H71z" fill="#454545"/>
<path d="M-123.4 17.9H-71V36.8H-123.4z" fill="#454545"/>
<path d="M-71.6 17.9H-53.2V36.8H-71.6z" fill="#4f4f4f"/>
<path d="M-53.8 17.9H-35.3V36.8H-53.8z" fill="#757575"/>
<path d="M-35.9 17.9H-17.5V36.8H-35.9z" fill="#878787"/>
<path d="M-18.1 17.9H0.3V36.8H-18.1z" fill="#909090"/>
<path d="M-0.3 17.9H18.1V36.8H-0.3z" fill="#969696"/>
<path d="M17.5 17.9H35.9V36.8H17.5z" fill="#989898"/>
<path d="M35.3 17.9H53.8V36.8H35.3z" fill="#8b8b8b"/>
<path d="M53.2 17.9H71.6V36.8H53.2z" fill="#656565"/>
<path d="M71 17.9H123.4V36.8H71z" fill="#595959"/>
<path d="M-123.4 36.2H-71V55H-123.4z" fill="#555555"/>
<path d="M-71.6 36.2H-53.2V55H-71.6z" fill="#5f5f5f"/>
<path d="M-53.8 36.2H-35.3V55H-53.8z" fill="#7f7f7f"/>
<path d="M-35.9 36.2H-17.5V55H-35.9z" fill="#8e8e8e"/>
<path d="M-18.1 36.2H0.3V55H-18.1z" fill="#949494"/>
<path d="M-0.3 36.2H18.1V55H-0.3z" fill="#989898"/>
<path d="M17.5 36.2H35.9V55H17.5z" fill="#9b9b9b"/>
<path d="M35.3 36.2H53.8V55H35.3z" fill="#929292"/>
<path d="M53.2 36.2H71.6V55H53.2z" fill="#737373"/>
<path d="M71 36.2H123.4V55H71z" fill="#696969"/>
<path d="M-123.4 54.4H-71V73.2H-123.4z" fill="#676767"/>
<path d="M-71.6 54.4H-53.2V73.2H-71.6z" fill="#6d6d6d"/>
<path d="M-53.8 54.4H-35.3V73.2H-53.8z" fill="#848484"/>
<path d="M-35.9 54.4H-17.5V73.2H-35.9z" fill="#8d8d8d"/>
<path d="M-18.1 54.4H0.3V73.2H-18.1z" fill="#8e8e8e"/>
<path d="M-0.3 54.4H18.1V73.2H-0.3z" fill="#8c8c8c"/>
<path d="M17.5 54.4H35.9V73.2H17.5z" fill="#898989"/>
<path d="M35.3 54.4H53.8V73.2H35.3z" fill="#818181"/>
<path d="M53.2 54.4H71.6V73.2H53.2z" fill="#707070"/>
<path d="M71 54.4H123.4V73.2H71z" fill="#6c6c6c"/>
<path d="M-123.4 72.6H-71V125.5H-123.4z" fill="#6a6a6a"/>
<path d="M-71.6 72.6H-53.2V125.5H-71.6z" fill="#707070"/>
<path d="M-53.8 72.6H-35.3V125.5H-53.8z" fill="#848484"/>
<path d="M-35.9 72.6H-17.5V125.5H-35.9z" fill="#8c8c8c"/>
<path d="M-18.1 72.6H0.3V125.5H-18.1z" fill="#8c8c8c"/>
<path d="M-0.3 72.6H18.1V125.5H-0.3z" fill="#888888"/>
<path d="M17.5 72.6H35.9V125.5H17.5z" fill="#828282"/>
<path d="M35.3 72.6H53.8V125.5H35.3z" fill="#7a7a7a"/>
<path d="M53.2 72.6H71.6V125.5H53.2z" fill="#6d6d6d"/>
<path d="M71 72.6H123.4V125.5H71z" fill="#6a6a6a"/>
</g>
<path class="ct" d="M-85.8 -15.1l9-2.6 8.9-5.1 8.9-8.1 15.1-15.8 6.7-9.1 5.1-9.1 2.8-9.2 1.1-9.1M28.1 -83.2l1.2 11.4 2.1 6.9 4.9 9.1 7.1 8.7 8.9 7.3 11.2 6.9 8.9 3.5 8.9 1.6M-85.8 6l4.5-1.2 4.5-1.9 4.4-3 4.5-3.9 18.3-22.2 39.6-44 4.4-4.6 4.5-2.5 2.2 0.1 4.5 2.8 29.1 32.2 26.6 22.5 6.6 4.8 4.5 2.5 6.7 2.6 6.7 1.3M-83.5 22l4.4-1.5 4.5-2.5 6.7-5.8 4.4-5.6 15.6-22.8 11.1-12.3 11.2-11.2 6.7-6.1 6.6-4.8 4.5-2.2 4.5-1.1 4.4-0.1 4.5 0.8 6.7 3.1 6.6 5 29 24.3 15.6 14.9 4.4 3.6 8.9 4.9 9 2.4M-79.9 35.3l7.5-4 6.7-6.7 4.4-6.5 13.4-22.8 6.1-7.8 7.3-7.8 8.9-8.5 8.9-7.3 6.7-3.9 6.7-2 4.4-0.2 4.5 0.8 4.4 1.6 6.7 3.7 15.6 11.4 13.4 10.7 17.8 18.8 4.4 4 4.5 3.1 4.4 2.3 9 2.5M-72.4 45.5l4.5-3.7 4.4-5.3 4.5-7.4 12.1-23.4 4.7-6.8 5.4-6.6 9-8.9 11.1-8.8 6.7-3.9 6.7-2 6.6-0.1 6.7 1.8 8.9 4.5 11.2 7.2 8.9 6.5 6.7 5.8 6.2 6.7 11.6 14.2 4.4 4.4 6.7 4.8 6.7 3M-66.6 55.8l3.1-3.6 4.5-7.1 14.4-30.3 4.3-6.8 5.4-6.9 9.3-9.2 8.9-6.8 8.9-4.6 6.7-1.5 6.7 0.3 8.9 2.6 11.1 5.7 11.2 7.4 6.6 5.7 4.8 5 19.7 26.5 4.5 4.5 4.4 3.3M-58.3 64.9l14.6-36.4 4.7-8.8 5-7.2 8.3-9.1 9-7 8.9-4.8 8.9-2 4.5 0 6.7 1.3 11.1 4.3 11.1 6.6 5 3.9 4.6 4.6 5.4 6.8 4.2 6.8 8.7 18.3 2 9.1 0 4.5-0.9 5.1M-47.9 74.1l2.1-13.7 4.7-16 6-13.6 7.3-10.9 8.9-8.8 8.9-5.9 8.9-3.4 4.4-0.7 6.7 0 6.7 1.3 6.7 2.2 6.7 3.4 6.3 4.5 4.8 4.6 4.5 5.8 3.1 5.6 2.8 6.8 1.9 9.1-0.1 4.6-1 4.6-3 6.8-8.8 13.7-3.6 6.8M-26.2 83.2l-2.5-18.3-0.1-6.8 0.5-6.8 2.7-9.6 2.2-4.5 4.3-6.4 4.1-4.6 5.3-4.6 6.4-3.8 6.6-2.7 4.5-0.9 6.7-0.2 6.7 1.2 4.4 1.6 4.5 2.3 4.4 3.5 3.3 3.6 3 4.6 1.9 4.5 1.1 4.6 0 4.5-1.2 4.6-3 4.6-5.1 4.4-6.7 4-15.2 7.5-6.9 4.6-6.4 6.8-3 6.8"/>
</g>
<use href="#hL"/>
<use href="#nL"/>
</g>
<g transform="translate(808.4,799)">
<g clip-path="url(#cL)">
<g filter="url(#fL)">
<path d="M-123.4 -125.5H-71V-72.6H-123.4z" fill="#1c1c1c"/>
<path d="M-71.6 -125.5H-53.2V-72.6H-71.6z" fill="#1c1c1c"/>
<path d="M-53.8 -125.5H-35.3V-72.6H-53.8z" fill="#202020"/>
<path d="M-35.9 -125.5H-17.5V-72.6H-35.9z" fill="#2a2a2a"/>
<path d="M-18.1 -125.5H0.3V-72.6H-18.1z" fill="#303030"/>
<path d="M-0.3 -125.5H18.1V-72.6H-0.3z" fill="#2f2f2f"/>
<path d="M17.5 -125.5H35.9V-72.6H17.5z" fill="#262626"/>
<path d="M35.3 -125.5H53.8V-72.6H35.3z" fill="#1c1c1c"/>
<path d="M53.2 -125.5H71.6V-72.6H53.2z" fill="#1a1a1a"/>
<path d="M71 -125.5H123.4V-72.6H71z" fill="#1c1c1c"/>
<path d="M-123.4 -73.2H-71V-54.4H-123.4z" fill="#1e1e1e"/>
<path d="M-71.6 -73.2H-53.2V-54.4H-71.6z" fill="#1f1f1f"/>
<path d="M-53.8 -73.2H-35.3V-54.4H-53.8z" fill="#272727"/>
<path d="M-35.9 -73.2H-17.5V-54.4H-35.9z" fill="#323232"/>
<path d="M-18.1 -73.2H0.3V-54.4H-18.1z" fill="#393939"/>
<path d="M-0.3 -73.2H18.1V-54.4H-0.3z" fill="#363636"/>
<path d="M17.5 -73.2H35.9V-54.4H17.5z" fill="#282828"/>
<path d="M35.3 -73.2H53.8V-54.4H35.3z" fill="#1c1c1c"/>
<path d="M53.2 -73.2H71.6V-54.4H53.2z" fill="#1a1a1a"/>
<path d="M71 -73.2H123.4V-54.4H71z" fill="#1c1c1c"/>
<path d="M-123.4 -55H-71V-36.2H-123.4z" fill="#232323"/>
<path d="M-71.6 -55H-53.2V-36.2H-71.6z" fill="#262626"/>
<path d="M-53.8 -55H-35.3V-36.2H-53.8z" fill="#3d3d3d"/>
<path d="M-35.9 -55H-17.5V-36.2H-35.9z" fill="#515151"/>
<path d="M-18.1 -55H0.3V-36.2H-18.1z" fill="#5b5b5b"/>
<path d="M-0.3 -55H18.1V-36.2H-0.3z" fill="#545454"/>
<path d="M17.5 -55H35.9V-36.2H17.5z" fill="#3f3f3f"/>
<path d="M35.3 -55H53.8V-36.2H35.3z" fill="#282828"/>
<path d="M53.2 -55H71.6V-36.2H53.2z" fill="#1e1e1e"/>
<path d="M71 -55H123.4V-36.2H71z" fill="#1e1e1e"/>
<path d="M-123.4 -36.8H-71V-17.9H-123.4z" fill="#212121"/>
<path d="M-71.6 -36.8H-53.2V-17.9H-71.6z" fill="#282828"/>
<path d="M-53.8 -36.8H-35.3V-17.9H-53.8z" fill="#484848"/>
<path d="M-35.9 -36.8H-17.5V-17.9H-35.9z" fill="#616161"/>
<path d="M-18.1 -36.8H0.3V-17.9H-18.1z" fill="#707070"/>
<path d="M-0.3 -36.8H18.1V-17.9H-0.3z" fill="#6f6f6f"/>
<path d="M17.5 -36.8H35.9V-17.9H17.5z" fill="#5f5f5f"/>
<path d="M35.3 -36.8H53.8V-17.9H35.3z" fill="#464646"/>
<path d="M53.2 -36.8H71.6V-17.9H53.2z" fill="#2a2a2a"/>
<path d="M71 -36.8H123.4V-17.9H71z" fill="#252525"/>
<path d="M-123.4 -18.5H-71V0.3H-123.4z" fill="#232323"/>
<path d="M-71.6 -18.5H-53.2V0.3H-71.6z" fill="#2b2b2b"/>
<path d="M-53.8 -18.5H-35.3V0.3H-53.8z" fill="#515151"/>
<path d="M-35.9 -18.5H-17.5V0.3H-35.9z" fill="#6c6c6c"/>
<path d="M-18.1 -18.5H0.3V0.3H-18.1z" fill="#7e7e7e"/>
<path d="M-0.3 -18.5H18.1V0.3H-0.3z" fill="#858585"/>
<path d="M17.5 -18.5H35.9V0.3H17.5z" fill="#808080"/>
<path d="M35.3 -18.5H53.8V0.3H35.3z" fill="#6a6a6a"/>
<path d="M53.2 -18.5H71.6V0.3H53.2z" fill="#3e3e3e"/>
<path d="M71 -18.5H123.4V0.3H71z" fill="#323232"/>
<path d="M-123.4 -0.3H-71V18.5H-123.4z" fill="#2d2d2d"/>
<path d="M-71.6 -0.3H-53.2V18.5H-71.6z" fill="#383838"/>
<path d="M-53.8 -0.3H-35.3V18.5H-53.8z" fill="#606060"/>
<path d="M-35.9 -0.3H-17.5V18.5H-35.9z" fill="#7a7a7a"/>
<path d="M-18.1 -0.3H0.3V18.5H-18.1z" fill="#8b8b8b"/>
<path d="M-0.3 -0.3H18.1V18.5H-0.3z" fill="#979797"/>
<path d="M17.5 -0.3H35.9V18.5H17.5z" fill="#9a9a9a"/>
<path d="M35.3 -0.3H53.8V18.5H35.3z" fill="#898989"/>
<path d="M53.2 -0.3H71.6V18.5H53.2z" fill="#575757"/>
<path d="M71 -0.3H123.4V18.5H71z" fill="#474747"/>
<path d="M-123.4 17.9H-71V36.8H-123.4z" fill="#424242"/>
<path d="M-71.6 17.9H-53.2V36.8H-71.6z" fill="#4d4d4d"/>
<path d="M-53.8 17.9H-35.3V36.8H-53.8z" fill="#757575"/>
<path d="M-35.9 17.9H-17.5V36.8H-35.9z" fill="#8b8b8b"/>
<path d="M-18.1 17.9H0.3V36.8H-18.1z" fill="#989898"/>
<path d="M-0.3 17.9H18.1V36.8H-0.3z" fill="#a3a3a3"/>
<path d="M17.5 17.9H35.9V36.8H17.5z" fill="#a9a9a9"/>
<path d="M35.3 17.9H53.8V36.8H35.3z" fill="#9d9d9d"/>
<path d="M53.2 17.9H71.6V36.8H53.2z" fill="#707070"/>
<path d="M71 17.9H123.4V36.8H71z" fill="#626262"/>
<path d="M-123.4 36.2H-71V55H-123.4z" fill="#5b5b5b"/>
<path d="M-71.6 36.2H-53.2V55H-71.6z" fill="#646464"/>
<path d="M-53.8 36.2H-35.3V55H-53.8z" fill="#858585"/>
<path d="M-35.9 36.2H-17.5V55H-35.9z" fill="#959595"/>
<path d="M-18.1 36.2H0.3V55H-18.1z" fill="#9d9d9d"/>
<path d="M-0.3 36.2H18.1V55H-0.3z" fill="#a4a4a4"/>
<path d="M17.5 36.2H35.9V55H17.5z" fill="#aaaaaa"/>
<path d="M35.3 36.2H53.8V55H35.3z" fill="#a2a2a2"/>
<path d="M53.2 36.2H71.6V55H53.2z" fill="#828282"/>
<path d="M71 36.2H123.4V55H71z" fill="#777777"/>
<path d="M-123.4 54.4H-71V73.2H-123.4z" fill="#717171"/>
<path d="M-71.6 54.4H-53.2V73.2H-71.6z" fill="#767676"/>
<path d="M-53.8 54.4H-35.3V73.2H-53.8z" fill="#888888"/>
<path d="M-35.9 54.4H-17.5V73.2H-35.9z" fill="#909090"/>
<path d="M-18.1 54.4H0.3V73.2H-18.1z" fill="#939393"/>
<path d="M-0.3 54.4H18.1V73.2H-0.3z" fill="#979797"/>
<path d="M17.5 54.4H35.9V73.2H17.5z" fill="#9a9a9a"/>
<path d="M35.3 54.4H53.8V73.2H35.3z" fill="#969696"/>
<path d="M53.2 54.4H71.6V73.2H53.2z" fill="#838383"/>
<path d="M71 54.4H123.4V73.2H71z" fill="#7d7d7d"/>
<path d="M-123.4 72.6H-71V125.5H-123.4z" fill="#757575"/>
<path d="M-71.6 72.6H-53.2V125.5H-71.6z" fill="#797979"/>
<path d="M-53.8 72.6H-35.3V125.5H-53.8z" fill="#868686"/>
<path d="M-35.9 72.6H-17.5V125.5H-35.9z" fill="#8c8c8c"/>
<path d="M-18.1 72.6H0.3V125.5H-18.1z" fill="#8f8f8f"/>
<path d="M-0.3 72.6H18.1V125.5H-0.3z" fill="#929292"/>
<path d="M17.5 72.6H35.9V125.5H17.5z" fill="#959595"/>
<path d="M35.3 72.6H53.8V125.5H35.3z" fill="#919191"/>
<path d="M53.2 72.6H71.6V125.5H53.2z" fill="#818181"/>
<path d="M71 72.6H123.4V125.5H71z" fill="#7b7b7b"/>
</g>
<path class="ct" d="M-85.8 2.4l6.7-2.5 4.5-3.3 2.2-2.5 2.2-3.4 2.3-5.1 5.3-23.2 2.4-6.8 2.4-4.6 3.4-4.6 4.3-4.5 17.4-16 5.3-6.8 2.3-4.6M17.4 -85.5l3 9.2 3.8 6.8 5.4 6.8 8.9 9.1 29.4 25.2 7.6 4.5 8 2.7M-83.5 17.5l6.7-2 4.4-2.5 4.5-3.9 4.4-5.9 5-11.2 7.9-29.6 3.5-6.8 3.5-4.6 6.8-6 6.7-4.3 11.2-5.3 8.9-2.5 6.7-0.2 6.6 1.3 6.7 2.9 6.7 4.1 8.9 6.6 22.3 18.6 15.6 15.8 6.7 5.9 6.6 4.2 9 2.8M-81.3 28.7l6.7-2.2 4.4-2.6 5.3-4.5 5.2-6.9 3.7-6.8 3.8-9.1 8.8-27.5 3.2-6.7 3.2-4.6 4.7-4.7 6.7-4.3 6.7-2.8 6.6-1.7 6.7-0.5 8.9 1.4 6.7 2.4 6.7 3.6 15.6 11.4 13.4 10.8 7.2 7.2 10.6 12.7 6.7 6.3 6.6 4.2 9 2.7M-76.8 38.2l6.6-3.1 4.5-3.3 4.4-4.7 4.5-6.3 4.7-8.3 4.3-9.1 11.9-29.6 5.5-9.1 4.4-4.6 4.8-3.3 4.5-2.1 6.7-1.7 6.7-0.1 8.9 1.9 8.9 4.2 11.1 7.1 13.4 9.8 7.9 7 5.4 6.2 11.2 14.5 4.4 4.6 6.7 4.9 4.5 2 4.4 1.3M-72.4 47.5l4.5-2.6 4.4-3.7 6.7-8.2 11.9-20.5 14.8-29.7 5.5-9 3.4-4 4.5-3.5 4.4-2.3 4.5-1.1 4.5-0.2 4.4 0.5 8.9 2.7 11.2 5.8 13.3 8.5 6.7 5.3 6.5 6.5 13.6 18.9 6.6 7.5 6.7 4.9 7.3 2.9M-65.7 56.9l4.4-4.4 4.5-6.1 13.4-22.8 20-32.5 4.5-6.4 6.6-6.7 4.5-2.4 4.5-1.2 4.4-0.2 4.5 0.5 8.9 2.7 13.3 6.4 9 5.9 6.6 6 4.5 5.2 13.4 20.5 4.4 5.7 6.7 6.2 6.7 3.7M-55.1 67.2l4.9-13.6 5-11.4 6.2-11.2 6.7-10 13.4-17.9 7.6-8.8 3.5-3 4.5-2.8 6.6-1.9 9 0.2 8.9 2.5 8.9 4.1 8.9 6.5 4.4 4.5 4.5 6 13.4 24 9.4 14.6M-31.4 83.2l-4-13.7-1.5-9.1 0.5-9.1 2.9-9.1 3.8-6.9 4.7-6.8 15-17.6 8.9-7.9 4.4-2.5 5.1-1.6 6.1-0.6 4.4 0.5 8.9 2.7 4.5 2.5 4.5 3.4 6.6 7.5 4.2 6.7 3.3 6.9 3.5 9.1 1.9 6.8 0.9 6.9-0.1 4.5-1.7 11.4M27.8 69.6l-4.4 0.3-4.5-0.9-6.6-2.5-9-4.4-6.7-4-5.8-4.5-3.1-4.1-0.9-2.8 0-4.5 1.5-4.6 2.4-4.6 4.7-6.8 5.7-6.4 4.5-3.7 4.4-2.7 4.5-1.6 6.7-0.5 4.4 0.9 4.5 2 4 2.9 4.3 4.5 2.8 4.2 2.4 5 2.2 6.8 0.9 6.8-0.3 4.6-1.2 4.6-1.8 3.6-2.2 3.3-4.4 4.6-4.5 2.9-4.5 1.6"/>
</g>
<use href="#hL"/>
<use href="#nL"/>
</g>
<g transform="translate(1054,799)">
<g clip-path="url(#cL)">
<g filter="url(#fL)">
<path d="M-123.4 -125.5H-71V-72.6H-123.4z" fill="#262626"/>
<path d="M-71.6 -125.5H-53.2V-72.6H-71.6z" fill="#282828"/>
<path d="M-53.8 -125.5H-35.3V-72.6H-53.8z" fill="#323232"/>
<path d="M-35.9 -125.5H-17.5V-72.6H-35.9z" fill="#3a3a3a"/>
<path d="M-18.1 -125.5H0.3V-72.6H-18.1z" fill="#3f3f3f"/>
<path d="M-0.3 -125.5H18.1V-72.6H-0.3z" fill="#404040"/>
<path d="M17.5 -125.5H35.9V-72.6H17.5z" fill="#3d3d3d"/>
<path d="M35.3 -125.5H53.8V-72.6H35.3z" fill="#383838"/>
<path d="M53.2 -125.5H71.6V-72.6H53.2z" fill="#323232"/>
<path d="M71 -125.5H123.4V-72.6H71z" fill="#313131"/>
<path d="M-123.4 -73.2H-71V-54.4H-123.4z" fill="#262626"/>
<path d="M-71.6 -73.2H-53.2V-54.4H-71.6z" fill="#282828"/>
<path d="M-53.8 -73.2H-35.3V-54.4H-53.8z" fill="#343434"/>
<path d="M-35.9 -73.2H-17.5V-54.4H-35.9z" fill="#3f3f3f"/>
<path d="M-18.1 -73.2H0.3V-54.4H-18.1z" fill="#464646"/>
<path d="M-0.3 -73.2H18.1V-54.4H-0.3z" fill="#454545"/>
<path d="M17.5 -73.2H35.9V-54.4H17.5z" fill="#3d3d3d"/>
<path d="M35.3 -73.2H53.8V-54.4H35.3z" fill="#343434"/>
<path d="M53.2 -73.2H71.6V-54.4H53.2z" fill="#303030"/>
<path d="M71 -73.2H123.4V-54.4H71z" fill="#303030"/>
<path d="M-123.4 -55H-71V-36.2H-123.4z" fill="#252525"/>
<path d="M-71.6 -55H-53.2V-36.2H-71.6z" fill="#292929"/>
<path d="M-53.8 -55H-35.3V-36.2H-53.8z" fill="#3e3e3e"/>
<path d="M-35.9 -55H-17.5V-36.2H-35.9z" fill="#535353"/>
<path d="M-18.1 -55H0.3V-36.2H-18.1z" fill="#616161"/>
<path d="M-0.3 -55H18.1V-36.2H-0.3z" fill="#5f5f5f"/>
<path d="M17.5 -55H35.9V-36.2H17.5z" fill="#505050"/>
<path d="M35.3 -55H53.8V-36.2H35.3z" fill="#3d3d3d"/>
<path d="M53.2 -55H71.6V-36.2H53.2z" fill="#323232"/>
<path d="M71 -55H123.4V-36.2H71z" fill="#313131"/>
<path d="M-123.4 -36.8H-71V-17.9H-123.4z" fill="#272727"/>
<path d="M-71.6 -36.8H-53.2V-17.9H-71.6z" fill="#2d2d2d"/>
<path d="M-53.8 -36.8H-35.3V-17.9H-53.8z" fill="#494949"/>
<path d="M-35.9 -36.8H-17.5V-17.9H-35.9z" fill="#616161"/>
<path d="M-18.1 -36.8H0.3V-17.9H-18.1z" fill="#737373"/>
<path d="M-0.3 -36.8H18.1V-17.9H-0.3z" fill="#797979"/>
<path d="M17.5 -36.8H35.9V-17.9H17.5z" fill="#737373"/>
<path d="M35.3 -36.8H53.8V-17.9H35.3z" fill="#616161"/>
<path d="M53.2 -36.8H71.6V-17.9H53.2z" fill="#434343"/>
<path d="M71 -36.8H123.4V-17.9H71z" fill="#3c3c3c"/>
<path d="M-123.4 -18.5H-71V0.3H-123.4z" fill="#2d2d2d"/>
<path d="M-71.6 -18.5H-53.2V0.3H-71.6z" fill="#343434"/>
<path d="M-53.8 -18.5H-35.3V0.3H-53.8z" fill="#545454"/>
<path d="M-35.9 -18.5H-17.5V0.3H-35.9z" fill="#6d6d6d"/>
<path d="M-18.1 -18.5H0.3V0.3H-18.1z" fill="#808080"/>
<path d="M-0.3 -18.5H18.1V0.3H-0.3z" fill="#909090"/>
<path d="M17.5 -18.5H35.9V0.3H17.5z" fill="#989898"/>
<path d="M35.3 -18.5H53.8V0.3H35.3z" fill="#8b8b8b"/>
<path d="M53.2 -18.5H71.6V0.3H53.2z" fill="#5b5b5b"/>
<path d="M71 -18.5H123.4V0.3H71z" fill="#4c4c4c"/>
<path d="M-123.4 -0.3H-71V18.5H-123.4z" fill="#363636"/>
<path d="M-71.6 -0.3H-53.2V18.5H-71.6z" fill="#3e3e3e"/>
<path d="M-53.8 -0.3H-35.3V18.5H-53.8z" fill="#5f5f5f"/>
<path d="M-35.9 -0.3H-17.5V18.5H-35.9z" fill="#797979"/>
<path d="M-18.1 -0.3H0.3V18.5H-18.1z" fill="#8e8e8e"/>
<path d="M-0.3 -0.3H18.1V18.5H-0.3z" fill="#a2a2a2"/>
<path d="M17.5 -0.3H35.9V18.5H17.5z" fill="#afafaf"/>
<path d="M35.3 -0.3H53.8V18.5H35.3z" fill="#a4a4a4"/>
<path d="M53.2 -0.3H71.6V18.5H53.2z" fill="#707070"/>
<path d="M71 -0.3H123.4V18.5H71z" fill="#5e5e5e"/>
<path d="M-123.4 17.9H-71V36.8H-123.4z" fill="#454545"/>
<path d="M-71.6 17.9H-53.2V36.8H-71.6z" fill="#4c4c4c"/>
<path d="M-53.8 17.9H-35.3V36.8H-53.8z" fill="#6b6b6b"/>
<path d="M-35.9 17.9H-17.5V36.8H-35.9z" fill="#858585"/>
<path d="M-18.1 17.9H0.3V36.8H-18.1z" fill="#9a9a9a"/>
<path d="M-0.3 17.9H18.1V36.8H-0.3z" fill="#acacac"/>
<path d="M17.5 17.9H35.9V36.8H17.5z" fill="#b4b4b4"/>
<path d="M35.3 17.9H53.8V36.8H35.3z" fill="#a8a8a8"/>
<path d="M53.2 17.9H71.6V36.8H53.2z" fill="#7d7d7d"/>
<path d="M71 17.9H123.4V36.8H71z" fill="#707070"/>
<path d="M-123.4 36.2H-71V55H-123.4z" fill="#555555"/>
<path d="M-71.6 36.2H-53.2V55H-71.6z" fill="#5b5b5b"/>
<path d="M-53.8 36.2H-35.3V55H-53.8z" fill="#757575"/>
<path d="M-35.9 36.2H-17.5V55H-35.9z" fill="#8c8c8c"/>
<path d="M-18.1 36.2H0.3V55H-18.1z" fill="#9f9f9f"/>
<path d="M-0.3 36.2H18.1V55H-0.3z" fill="#aaaaaa"/>
<path d="M17.5 36.2H35.9V55H17.5z" fill="#ababab"/>
<path d="M35.3 36.2H53.8V55H35.3z" fill="#9f9f9f"/>
<path d="M53.2 36.2H71.6V55H53.2z" fill="#848484"/>
<path d="M71 36.2H123.4V55H71z" fill="#7c7c7c"/>
<path d="M-123.4 54.4H-71V73.2H-123.4z" fill="#676767"/>
<path d="M-71.6 54.4H-53.2V73.2H-71.6z" fill="#6b6b6b"/>
<path d="M-53.8 54.4H-35.3V73.2H-53.8z" fill="#7e7e7e"/>
<path d="M-35.9 54.4H-17.5V73.2H-35.9z" fill="#8b8b8b"/>
<path d="M-18.1 54.4H0.3V73.2H-18.1z" fill="#939393"/>
<path d="M-0.3 54.4H18.1V73.2H-0.3z" fill="#989898"/>
<path d="M17.5 54.4H35.9V73.2H17.5z" fill="#999999"/>
<path d="M35.3 54.4H53.8V73.2H35.3z" fill="#939393"/>
<path d="M53.2 54.4H71.6V73.2H53.2z" fill="#858585"/>
<path d="M71 54.4H123.4V73.2H71z" fill="#808080"/>
<path d="M-123.4 72.6H-71V125.5H-123.4z" fill="#6a6a6a"/>
<path d="M-71.6 72.6H-53.2V125.5H-71.6z" fill="#6f6f6f"/>
<path d="M-53.8 72.6H-35.3V125.5H-53.8z" fill="#7f7f7f"/>
<path d="M-35.9 72.6H-17.5V125.5H-35.9z" fill="#898989"/>
<path d="M-18.1 72.6H0.3V125.5H-18.1z" fill="#8e8e8e"/>
<path d="M-0.3 72.6H18.1V125.5H-0.3z" fill="#939393"/>
<path d="M17.5 72.6H35.9V125.5H17.5z" fill="#959595"/>
<path d="M35.3 72.6H53.8V125.5H35.3z" fill="#929292"/>
<path d="M53.2 72.6H71.6V125.5H53.2z" fill="#848484"/>
<path d="M71 72.6H123.4V125.5H71z" fill="#808080"/>
</g>
<path class="ct" d="M-85.8 6.3l6.7-2 4.5-2.6 4.4-4.1 4.5-6.4 4.8-10.6 10.3-29.6 10-20.5 4.1-11.4M47 -74.1l-0.4 4.6 0.8 4.6 2.1 4.5 5.1 6.8 4.9 4.6 6.2 4.3 5.3 2.5 5.8 1.9M-83.5 24.3l6.7-1.9 4.4-2.3 4.5-3.7 4.4-5.6 6.7-13.7 12.9-34.7 3.5-6.8 4.5-6.9 5.8-6.3 6.7-5.2 8.9-5.2 6.7-2.6 4.5-0.8 6.6-0.1 4.5 1 6.7 3 8.9 5.9 18.7 14.9 25.8 19.1 8.9 5 6.7 2.2M-76.8 38.2l4.4-1.8 5.2-3.4 3.7-3.7 4.5-6.7 4.8-10.1 15.2-38.6 3.4-6.9 4.1-6.9 3.7-4.7 4.8-4.4 6.3-3.8 6.7-2.4 6.7-0.9 8.9 0.6 6.7 1.7 6.6 3 29 17.3 6.7 5.3 13.3 12.5 6.7 5.2 4.5 2.6 6.7 2.3M-71.4 51.3l3.5-1.9 4.4-3.5 6.7-8.9 5.3-10.8 17-40.8 4.4-9 4.3-7.2 4.6-5.7 3.8-3.4 5.1-3.2 4.5-1.7 8.9-1 8.9 1.4 13.4 5 15.6 7.7 6.7 4.2 6.6 5.5 15.6 17.9 6.7 6.4 6.7 4.1 5.2 1.6M-61.9 62.7l5.1-7.1 5.1-8.9 17.2-40.3 11.1-22 4.5-6.9 5.2-6 5.9-4.2 4.5-1.8 8.9-1 8.9 1.3 13.3 4.2 13.4 6.5 6.7 4.9 5.7 6.1 14.3 21.1 4.5 5.4 6.7 5.5 5.2 2.1M-49.5 71.8l2.5-9.1 12.3-34.2 4.6-11 6.7-13.3 7.2-12.2 6.2-8.1 6.7-5.7 6.6-2.9 9-1 11.1 1.5 11.1 3.8 9.4 5.6 4.8 4.5 4.9 6.9 3.8 6.8 8.3 17.6 4.5 7.7 4.4 5.5 4.5 3.5M-31.2 83.2l-0.7-18.3 1-13.6 2.3-11.4 4.7-13.7 8.1-15.9 9-13.7 4-4.6 3.9-3.4 4.5-2.8 4.4-1.6 4.5-0.9 6.7-0.1 6.6 1 4.5 1.4 4.5 2 4.4 2.9 4.1 3.8 2.6 3.2 5.6 10.5 5.1 15.9 4.1 20.5 0.7 6.9 0 9.1M12.8 87.7l-4.8-6.8-13.6-12.7-6.7-7.7-2.6-4.7-1.6-4.5-0.7-4.6 0.1-4.5 1.9-9.2 2.9-7.9 5.4-10.3 5.8-8.8 4.4-5.3 4.8-4.1 4.2-2.5 6.6-2.1 6.7-0.2 4.5 0.8 4.4 1.8 4.5 2.8 4 3.9 3.1 4.6 3 6.8 1.8 6.9 1.4 9.1 0.2 6.8-0.4 6.9-1.2 6.8-3 8.4-11.5 23.5M27.8 54.1l-4.4 1-4.5 0.2-6.6-0.9-4.5-1.6-4.5-2.8-2.2-2.2-2-3.4-1.1-4.5 0.3-6.9 1.9-6.8 3.2-6.8 4.4-6.9 4.5-4.9 4.4-3.3 4.5-1.9 4.4-0.6 6.7 1.5 3.7 2.4 3 3.1 2.2 3.7 1.7 4.6 1.4 9.1-0.9 9.2-1.3 4.5-2.3 4.5-5.3 6-6.7 3.7"/>
</g>
<use href="#hL"/>
<use href="#nL"/>
</g>
<g transform="translate(322.5,1081.2)">
<g clip-path="url(#cL)">
<g filter="url(#fL)">
<path d="M-123.4 -125.5H-71V-72.6H-123.4z" fill="#555555"/>
<path d="M-71.6 -125.5H-53.2V-72.6H-71.6z" fill="#585858"/>
<path d="M-53.8 -125.5H-35.3V-72.6H-53.8z" fill="#646464"/>
<path d="M-35.9 -125.5H-17.5V-72.6H-35.9z" fill="#6d6d6d"/>
<path d="M-18.1 -125.5H0.3V-72.6H-18.1z" fill="#717171"/>
<path d="M-0.3 -125.5H18.1V-72.6H-0.3z" fill="#6e6e6e"/>
<path d="M17.5 -125.5H35.9V-72.6H17.5z" fill="#646464"/>
<path d="M35.3 -125.5H53.8V-72.6H35.3z" fill="#575757"/>
<path d="M53.2 -125.5H71.6V-72.6H53.2z" fill="#4c4c4c"/>
<path d="M71 -125.5H123.4V-72.6H71z" fill="#4a4a4a"/>
<path d="M-123.4 -73.2H-71V-54.4H-123.4z" fill="#535353"/>
<path d="M-71.6 -73.2H-53.2V-54.4H-71.6z" fill="#565656"/>
<path d="M-53.8 -73.2H-35.3V-54.4H-53.8z" fill="#656565"/>
<path d="M-35.9 -73.2H-17.5V-54.4H-35.9z" fill="#737373"/>
<path d="M-18.1 -73.2H0.3V-54.4H-18.1z" fill="#7a7a7a"/>
<path d="M-0.3 -73.2H18.1V-54.4H-0.3z" fill="#777777"/>
<path d="M17.5 -73.2H35.9V-54.4H17.5z" fill="#696969"/>
<path d="M35.3 -73.2H53.8V-54.4H35.3z" fill="#595959"/>
<path d="M53.2 -73.2H71.6V-54.4H53.2z" fill="#4b4b4b"/>
<path d="M71 -73.2H123.4V-54.4H71z" fill="#494949"/>
<path d="M-123.4 -55H-71V-36.2H-123.4z" fill="#4a4a4a"/>
<path d="M-71.6 -55H-53.2V-36.2H-71.6z" fill="#4f4f4f"/>
<path d="M-53.8 -55H-35.3V-36.2H-53.8z" fill="#6d6d6d"/>
<path d="M-35.9 -55H-17.5V-36.2H-35.9z" fill="#898989"/>
<path d="M-18.1 -55H0.3V-36.2H-18.1z" fill="#9a9a9a"/>
<path d="M-0.3 -55H18.1V-36.2H-0.3z" fill="#989898"/>
<path d="M17.5 -55H35.9V-36.2H17.5z" fill="#848484"/>
<path d="M35.3 -55H53.8V-36.2H35.3z" fill="#676767"/>
<path d="M53.2 -55H71.6V-36.2H53.2z" fill="#4a4a4a"/>
<path d="M71 -55H123.4V-36.2H71z" fill="#464646"/>
<path d="M-123.4 -36.8H-71V-17.9H-123.4z" fill="#464646"/>
<path d="M-71.6 -36.8H-53.2V-17.9H-71.6z" fill="#4f4f4f"/>
<path d="M-53.8 -36.8H-35.3V-17.9H-53.8z" fill="#797979"/>
<path d="M-35.9 -36.8H-17.5V-17.9H-35.9z" fill="#9a9a9a"/>
<path d="M-18.1 -36.8H0.3V-17.9H-18.1z" fill="#adadad"/>
<path d="M-0.3 -36.8H18.1V-17.9H-0.3z" fill="#aeaeae"/>
<path d="M17.5 -36.8H35.9V-17.9H17.5z" fill="#9d9d9d"/>
<path d="M35.3 -36.8H53.8V-17.9H35.3z" fill="#7d7d7d"/>
<path d="M53.2 -36.8H71.6V-17.9H53.2z" fill="#525252"/>
<path d="M71 -36.8H123.4V-17.9H71z" fill="#484848"/>
<path d="M-123.4 -18.5H-71V0.3H-123.4z" fill="#515151"/>
<path d="M-71.6 -18.5H-53.2V0.3H-71.6z" fill="#5d5d5d"/>
<path d="M-53.8 -18.5H-35.3V0.3H-53.8z" fill="#8c8c8c"/>
<path d="M-35.9 -18.5H-17.5V0.3H-35.9z" fill="#ababab"/>
<path d="M-18.1 -18.5H0.3V0.3H-18.1z" fill="#bbbbbb"/>
<path d="M-0.3 -18.5H18.1V0.3H-0.3z" fill="#bfbfbf"/>
<path d="M17.5 -18.5H35.9V0.3H17.5z" fill="#b5b5b5"/>
<path d="M35.3 -18.5H53.8V0.3H35.3z" fill="#9a9a9a"/>
<path d="M53.2 -18.5H71.6V0.3H53.2z" fill="#676767"/>
<path d="M71 -18.5H123.4V0.3H71z" fill="#5a5a5a"/>
<path d="M-123.4 -0.3H-71V18.5H-123.4z" fill="#757575"/>
<path d="M-71.6 -0.3H-53.2V18.5H-71.6z" fill="#808080"/>
<path d="M-53.8 -0.3H-35.3V18.5H-53.8z" fill="#a7a7a7"/>
<path d="M-35.9 -0.3H-17.5V18.5H-35.9z" fill="#bfbfbf"/>
<path d="M-18.1 -0.3H0.3V18.5H-18.1z" fill="#cbcbcb"/>
<path d="M-0.3 -0.3H18.1V18.5H-0.3z" fill="#d0d0d0"/>
<path d="M17.5 -0.3H35.9V18.5H17.5z" fill="#cccccc"/>
<path d="M35.3 -0.3H53.8V18.5H35.3z" fill="#b9b9b9"/>
<path d="M53.2 -0.3H71.6V18.5H53.2z" fill="#8d8d8d"/>
<path d="M71 -0.3H123.4V18.5H71z" fill="#818181"/>
<path d="M-123.4 17.9H-71V36.8H-123.4z" fill="#a9a9a9"/>
<path d="M-71.6 17.9H-53.2V36.8H-71.6z" fill="#b0b0b0"/>
<path d="M-53.8 17.9H-35.3V36.8H-53.8z" fill="#c7c7c7"/>
<path d="M-35.9 17.9H-17.5V36.8H-35.9z" fill="#d5d5d5"/>
<path d="M-18.1 17.9H0.3V36.8H-18.1z" fill="#dcdcdc"/>
<path d="M-0.3 17.9H18.1V36.8H-0.3z" fill="#e0e0e0"/>
<path d="M17.5 17.9H35.9V36.8H17.5z" fill="#e0e0e0"/>
<path d="M35.3 17.9H53.8V36.8H35.3z" fill="#d6d6d6"/>
<path d="M53.2 17.9H71.6V36.8H53.2z" fill="#bcbcbc"/>
<path d="M71 17.9H123.4V36.8H71z" fill="#b5b5b5"/>
<path d="M-123.4 36.2H-71V55H-123.4z" fill="#d5d5d5"/>
<path d="M-71.6 36.2H-53.2V55H-71.6z" fill="#d7d7d7"/>
<path d="M-53.8 36.2H-35.3V55H-53.8z" fill="#e0e0e0"/>
<path d="M-35.9 36.2H-17.5V55H-35.9z" fill="#e5e5e5"/>
<path d="M-18.1 36.2H0.3V55H-18.1z" fill="#e8e8e8"/>
<path d="M-0.3 36.2H18.1V55H-0.3z" fill="#eaeaea"/>
<path d="M17.5 36.2H35.9V55H17.5z" fill="#eaeaea"/>
<path d="M35.3 36.2H53.8V55H35.3z" fill="#e7e7e7"/>
<path d="M53.2 36.2H71.6V55H53.2z" fill="#e0e0e0"/>
<path d="M71 36.2H123.4V55H71z" fill="#dddddd"/>
<path d="M-123.4 54.4H-71V73.2H-123.4z" fill="#dfdfdf"/>
<path d="M-71.6 54.4H-53.2V73.2H-71.6z" fill="#e1e1e1"/>
<path d="M-53.8 54.4H-35.3V73.2H-53.8z" fill="#e4e4e4"/>
<path d="M-35.9 54.4H-17.5V73.2H-35.9z" fill="#e6e6e6"/>
<path d="M-18.1 54.4H0.3V73.2H-18.1z" fill="#e6e6e6"/>
<path d="M-0.3 54.4H18.1V73.2H-0.3z" fill="#e6e6e6"/>
<path d="M17.5 54.4H35.9V73.2H17.5z" fill="#e7e7e7"/>
<path d="M35.3 54.4H53.8V73.2H35.3z" fill="#e6e6e6"/>
<path d="M53.2 54.4H71.6V73.2H53.2z" fill="#e2e2e2"/>
<path d="M71 54.4H123.4V73.2H71z" fill="#e1e1e1"/>
<path d="M-123.4 72.6H-71V125.5H-123.4z" fill="#dbdbdb"/>
<path d="M-71.6 72.6H-53.2V125.5H-71.6z" fill="#dddddd"/>
<path d="M-53.8 72.6H-35.3V125.5H-53.8z" fill="#e2e2e2"/>
<path d="M-35.9 72.6H-17.5V125.5H-35.9z" fill="#e4e4e4"/>
<path d="M-18.1 72.6H0.3V125.5H-18.1z" fill="#e3e3e3"/>
<path d="M-0.3 72.6H18.1V125.5H-0.3z" fill="#e3e3e3"/>
<path d="M17.5 72.6H35.9V125.5H17.5z" fill="#e4e4e4"/>
<path d="M35.3 72.6H53.8V125.5H35.3z" fill="#e2e2e2"/>
<path d="M53.2 72.6H71.6V125.5H53.2z" fill="#dddddd"/>
<path d="M71 72.6H123.4V125.5H71z" fill="#dbdbdb"/>
</g>
<path class="ct" d="M-85.8 -6.2l6.7-1.2 6.8-2.9 5.4-4.5 4.3-6.8 3.2-9.2 1.7-11.4 0.4-11.4-0.8-11.3M41.2 -78.6l1.5 6.8 2.4 6.9 13.9 31.5 4.5 7.9 4.4 5.4 4.5 3.6 6.7 3.1 6.7 1.5M-85.8 2.6l9-1.3 6.8-2.4 6.5-4.5 4.5-5.4 3.3-6.1 2.8-6.8 8.1-27.4 8.7-20.5 3.1-9.1M15.5 -87.7l2.1 6.8 3.7 6.8 19.9 25.6 15.4 26.9 4.7 6.8 4.4 4.7 6.7 4.3 6.7 2.3 6.7 1M-85.8 9.7l9-1.1 6.6-1.8 6.7-3.4 4.5-3.8 4.4-5.3 4-6.8 12.9-29.7 5.4-9.1 6.7-6.8 6.7-4.4 6.6-2.7 6.7-1 6.7 0.7 6.7 2 8.9 4.5 6.7 4.7 6.7 6 6.7 7.9 6.6 9.6 11.6 18.3 6.3 7.7 4.5 3.7 6.6 3.3 6.7 1.8 6.7 0.9M-85.8 15.9l9-0.8 6.6-1.5 6.7-2.7 4.5-2.9 6.7-6.7 5.1-7 5.3-9.1 9.6-18.5 6.7-9.8 4.4-4.3 6.4-3.9 4.8-1.6 6.7-0.8 6.6 0.6 6.7 1.8 6.7 3.5 6.7 5 5.4 5.2 5.7 6.7 20.1 27.5 4.4 4.7 4.5 3.6 4.4 2.6 4.5 1.7 6.7 1.5 6.7 0.7M-83.5 21.7l8.9-1 6.7-1.4 6.6-2.7 6.2-4.1 5-4.7 7.6-8.9 6.5-9.2 10.4-16.4 6.7-8.3 4.4-3.7 4.5-2.5 4.4-1.3 4.5-0.3 5.7 0.6 5.4 1.8 4.5 2.4 6.7 5 11.1 11.1 20.9 25.3 8.1 7.3 4.4 2.5 4.5 1.7 6.6 1.6 6.7 0.8M-81.3 27.5l8.9-1 6.7-1.5 6.7-2.7 4.8-2.9 6.3-5 8.9-8.7 24.5-28.4 6.7-4.9 4.5-1.5 4.4-0.5 4.5 0.6 4.4 1.5 4.5 2.4 6.7 4.7 11.1 9.9 20 21.2 6.7 5.5 4.5 2.6 6.7 2.4 13.3 2.1M-79.1 33.8l13.4-2 6.7-2.3 4.4-2.2 14.5-10.2 23.4-20.4 6.7-5.1 6.7-3.5 6.6-1.3 4.5 0.3 4.5 1.2 11.1 5.8 11.1 8.5 17.8 16.2 6.7 4.7 8.9 3.7 13.4 2.3M-76.8 41.2l13.3-2.1 8.9-3.3 9.2-5 24.2-15.7 11.2-6.6 8.9-3.7 8.9-1.4 8.9 1.3 8.9 3.6 8.9 5.6 17.8 13.6 6.7 4.1 8.9 3.2 11.2 1.7M-70.2 52.5l8.9-2.3 6.7-2.7 32.3-16.7 12.3-5.7 11.1-3.6 8.9-1.4 8.9 0.6 8.9 2.8 9 4.7 20 12.6 6.7 2.8 11.1 2.5"/>
</g>
<use href="#hL"/>
<use href="#nL"/>
</g>
<g transform="translate(566,1081.2)">
<g clip-path="url(#cL)">
<g filter="url(#fL)">
<path d="M-123.4 -125.5H-71V-72.6H-123.4z" fill="#4a4a4a"/>
<path d="M-71.6 -125.5H-53.2V-72.6H-71.6z" fill="#4c4c4c"/>
<path d="M-53.8 -125.5H-35.3V-72.6H-53.8z" fill="#585858"/>
<path d="M-35.9 -125.5H-17.5V-72.6H-35.9z" fill="#646464"/>
<path d="M-18.1 -125.5H0.3V-72.6H-18.1z" fill="#6a6a6a"/>
<path d="M-0.3 -125.5H18.1V-72.6H-0.3z" fill="#676767"/>
<path d="M17.5 -125.5H35.9V-72.6H17.5z" fill="#5a5a5a"/>
<path d="M35.3 -125.5H53.8V-72.6H35.3z" fill="#4b4b4b"/>
<path d="M53.2 -125.5H71.6V-72.6H53.2z" fill="#414141"/>
<path d="M71 -125.5H123.4V-72.6H71z" fill="#404040"/>
<path d="M-123.4 -73.2H-71V-54.4H-123.4z" fill="#474747"/>
<path d="M-71.6 -73.2H-53.2V-54.4H-71.6z" fill="#484848"/>
<path d="M-53.8 -73.2H-35.3V-54.4H-53.8z" fill="#555555"/>
<path d="M-35.9 -73.2H-17.5V-54.4H-35.9z" fill="#676767"/>
<path d="M-18.1 -73.2H0.3V-54.4H-18.1z" fill="#727272"/>
<path d="M-0.3 -73.2H18.1V-54.4H-0.3z" fill="#6f6f6f"/>
<path d="M17.5 -73.2H35.9V-54.4H17.5z" fill="#5f5f5f"/>
<path d="M35.3 -73.2H53.8V-54.4H35.3z" fill="#4b4b4b"/>
<path d="M53.2 -73.2H71.6V-54.4H53.2z" fill="#3e3e3e"/>
<path d="M71 -73.2H123.4V-54.4H71z" fill="#3d3d3d"/>
<path d="M-123.4 -55H-71V-36.2H-123.4z" fill="#3c3c3c"/>
<path d="M-71.6 -55H-53.2V-36.2H-71.6z" fill="#3e3e3e"/>
<path d="M-53.8 -55H-35.3V-36.2H-53.8z" fill="#585858"/>
<path d="M-35.9 -55H-17.5V-36.2H-35.9z" fill="#7c7c7c"/>
<path d="M-18.1 -55H0.3V-36.2H-18.1z" fill="#979797"/>
<path d="M-0.3 -55H18.1V-36.2H-0.3z" fill="#969696"/>
<path d="M17.5 -55H35.9V-36.2H17.5z" fill="#7a7a7a"/>
<path d="M35.3 -55H53.8V-36.2H35.3z" fill="#545454"/>
<path d="M53.2 -55H71.6V-36.2H53.2z" fill="#3a3a3a"/>
<path d="M71 -55H123.4V-36.2H71z" fill="#373737"/>
<path d="M-123.4 -36.8H-71V-17.9H-123.4z" fill="#3e3e3e"/>
<path d="M-71.6 -36.8H-53.2V-17.9H-71.6z" fill="#444444"/>
<path d="M-53.8 -36.8H-35.3V-17.9H-53.8z" fill="#6d6d6d"/>
<path d="M-35.9 -36.8H-17.5V-17.9H-35.9z" fill="#989898"/>
<path d="M-18.1 -36.8H0.3V-17.9H-18.1z" fill="#b6b6b6"/>
<path d="M-0.3 -36.8H18.1V-17.9H-0.3z" fill="#b6b6b6"/>
<path d="M17.5 -36.8H35.9V-17.9H17.5z" fill="#999999"/>
<path d="M35.3 -36.8H53.8V-17.9H35.3z" fill="#6e6e6e"/>
<path d="M53.2 -36.8H71.6V-17.9H53.2z" fill="#474747"/>
<path d="M71 -36.8H123.4V-17.9H71z" fill="#414141"/>
<path d="M-123.4 -18.5H-71V0.3H-123.4z" fill="#505050"/>
<path d="M-71.6 -18.5H-53.2V0.3H-71.6z" fill="#5a5a5a"/>
<path d="M-53.8 -18.5H-35.3V0.3H-53.8z" fill="#8c8c8c"/>
<path d="M-35.9 -18.5H-17.5V0.3H-35.9z" fill="#b5b5b5"/>
<path d="M-18.1 -18.5H0.3V0.3H-18.1z" fill="#cfcfcf"/>
<path d="M-0.3 -18.5H18.1V0.3H-0.3z" fill="#cfcfcf"/>
<path d="M17.5 -18.5H35.9V0.3H17.5z" fill="#b8b8b8"/>
<path d="M35.3 -18.5H53.8V0.3H35.3z" fill="#919191"/>
<path d="M53.2 -18.5H71.6V0.3H53.2z" fill="#626262"/>
<path d="M71 -18.5H123.4V0.3H71z" fill="#595959"/>
<path d="M-123.4 -0.3H-71V18.5H-123.4z" fill="#747474"/>
<path d="M-71.6 -0.3H-53.2V18.5H-71.6z" fill="#7f7f7f"/>
<path d="M-53.8 -0.3H-35.3V18.5H-53.8z" fill="#aeaeae"/>
<path d="M-35.9 -0.3H-17.5V18.5H-35.9z" fill="#cecece"/>
<path d="M-18.1 -0.3H0.3V18.5H-18.1z" fill="#dedede"/>
<path d="M-0.3 -0.3H18.1V18.5H-0.3z" fill="#e0e0e0"/>
<path d="M17.5 -0.3H35.9V18.5H17.5z" fill="#d1d1d1"/>
<path d="M35.3 -0.3H53.8V18.5H35.3z" fill="#b4b4b4"/>
<path d="M53.2 -0.3H71.6V18.5H53.2z" fill="#898989"/>
<path d="M71 -0.3H123.4V18.5H71z" fill="#7f7f7f"/>
<path d="M-123.4 17.9H-71V36.8H-123.4z" fill="#a1a1a1"/>
<path d="M-71.6 17.9H-53.2V36.8H-71.6z" fill="#aaaaaa"/>
<path d="M-53.8 17.9H-35.3V36.8H-53.8z" fill="#cccccc"/>
<path d="M-35.9 17.9H-17.5V36.8H-35.9z" fill="#dfdfdf"/>
<path d="M-18.1 17.9H0.3V36.8H-18.1z" fill="#e6e6e6"/>
<path d="M-0.3 17.9H18.1V36.8H-0.3z" fill="#e7e7e7"/>
<path d="M17.5 17.9H35.9V36.8H17.5z" fill="#e2e2e2"/>
<path d="M35.3 17.9H53.8V36.8H35.3z" fill="#d3d3d3"/>
<path d="M53.2 17.9H71.6V36.8H53.2z" fill="#b5b5b5"/>
<path d="M71 17.9H123.4V36.8H71z" fill="#acacac"/>
<path d="M-123.4 36.2H-71V55H-123.4z" fill="#c8c8c8"/>
<path d="M-71.6 36.2H-53.2V55H-71.6z" fill="#cecece"/>
<path d="M-53.8 36.2H-35.3V55H-53.8z" fill="#e1e1e1"/>
<path d="M-35.9 36.2H-17.5V55H-35.9z" fill="#e7e7e7"/>
<path d="M-18.1 36.2H0.3V55H-18.1z" fill="#e7e7e7"/>
<path d="M-0.3 36.2H18.1V55H-0.3z" fill="#e8e8e8"/>
<path d="M17.5 36.2H35.9V55H17.5z" fill="#eaeaea"/>
<path d="M35.3 36.2H53.8V55H35.3z" fill="#e7e7e7"/>
<path d="M53.2 36.2H71.6V55H53.2z" fill="#d7d7d7"/>
<path d="M71 36.2H123.4V55H71z" fill="#d2d2d2"/>
<path d="M-123.4 54.4H-71V73.2H-123.4z" fill="#d6d6d6"/>
<path d="M-71.6 54.4H-53.2V73.2H-71.6z" fill="#dadada"/>
<path d="M-53.8 54.4H-35.3V73.2H-53.8z" fill="#e4e4e4"/>
<path d="M-35.9 54.4H-17.5V73.2H-35.9z" fill="#e5e5e5"/>
<path d="M-18.1 54.4H0.3V73.2H-18.1z" fill="#e4e4e4"/>
<path d="M-0.3 54.4H18.1V73.2H-0.3z" fill="#e6e6e6"/>
<path d="M17.5 54.4H35.9V73.2H17.5z" fill="#eaeaea"/>
<path d="M35.3 54.4H53.8V73.2H35.3z" fill="#ebebeb"/>
<path d="M53.2 54.4H71.6V73.2H53.2z" fill="#e3e3e3"/>
<path d="M71 54.4H123.4V73.2H71z" fill="#e0e0e0"/>
<path d="M-123.4 72.6H-71V125.5H-123.4z" fill="#d5d5d5"/>
<path d="M-71.6 72.6H-53.2V125.5H-71.6z" fill="#d8d8d8"/>
<path d="M-53.8 72.6H-35.3V125.5H-53.8z" fill="#e2e2e2"/>
<path d="M-35.9 72.6H-17.5V125.5H-35.9z" fill="#e4e4e4"/>
<path d="M-18.1 72.6H0.3V125.5H-18.1z" fill="#e3e3e3"/>
<path d="M-0.3 72.6H18.1V125.5H-0.3z" fill="#e5e5e5"/>
<path d="M17.5 72.6H35.9V125.5H17.5z" fill="#e9e9e9"/>
<path d="M35.3 72.6H53.8V125.5H35.3z" fill="#eaeaea"/>
<path d="M53.2 72.6H71.6V125.5H53.2z" fill="#e2e2e2"/>
<path d="M71 72.6H123.4V125.5H71z" fill="#dfdfdf"/>
</g>
<path class="ct" d="M-85.8 -13.2l9-1.8 6.6-3.3 4.5-3.7 4.9-6.5 5.2-11.4 2.1-9.1 0-9.1-1.8-9.1M41.7 -76.3l2 11.4 4 11.3 5.2 11.4 6.1 10 5.3 6 5.9 4.2 6.6 2.6 6.7 1.2M-85.8 -2l9-1.5 4.4-1.5 4.5-2.3 6.2-5.2 4.9-6.4 8.1-14.1 7.2-16 6.6-18.2 1.6-6.9 1-8.3M19.6 -85.5l2.5 9.2 3.2 6.8 23.4 36.5 8.1 11.4 6.7 6.8 6.7 4.2 6.6 2.3 9 1.3M-85.8 6.7l6.7-0.8 6.7-1.8 6.7-3.3 4.4-3.4 4.5-4.9 4.5-6.1 20-33.1 6.7-9.1 6.7-6.2 4.4-3 6.7-2.7 4.5-0.5 6.6 1.1 6.7 2.8 6.7 4.4 6.7 5.5 8.9 10.2 21.4 29.4 5.3 5.9 3.7 3.2 5.2 3.3 4.5 1.8 6.7 1.6 6.7 0.7M-85.8 14.4l6.7-0.7 6.7-1.6 6.7-2.9 4.4-3 4.5-4.3 6.2-7.6 20.5-30.5 6.7-8.3 4.5-4.3 4.4-3 4.5-2.1 6.7-1.3 6.6 0.4 6.7 2 4.5 2.3 6.7 5.2 8.9 9.6 22.2 28.7 9 8.8 4.4 2.9 6.7 2.7 6.7 1.5 6.7 0.7M-83.5 21.6l6.7-0.9 6.6-1.7 6.7-3.1 4.5-3.3 4.4-4.3 6-7.2 20.8-28.6 6.6-7.9 4.5-4.1 4.4-3.1 4.5-2 6.7-1.1 6.7 0.8 4.4 1.6 4.5 2.6 4.4 3.5 8.9 9.3 23.8 29 5.2 5.3 4.5 3.6 4.4 2.6 4.5 1.8 6.6 1.6 6.7 0.9M-81.3 28.9l6.7-1.1 6.7-2 6.6-3.4 4.1-3 9.3-9.7 20.1-25.9 8.9-10.4 4.4-4 4.5-3 4.4-1.8 4.5-0.6 4.4 0.2 4.5 1.3 4.5 2.3 4.4 3.3 8.9 8.8 24.2 28.1 9.2 8.5 4.5 2.7 6.7 2.7 6.6 1.6 6.7 0.7M-79.1 36.9l6.7-1.3 6.7-2.2 4.4-2.3 4.5-3.2 6.7-6.2 6.4-6.9 20.3-24.8 6.7-7.1 4.4-3.8 4.5-2.7 6.7-1.8 4.4 0.2 4.5 1.3 4.5 2.5 4.4 3.4 8.9 8.8 21.8 24 7.2 6.7 4.4 3.4 8.9 4.3 6.7 1.8 6.7 0.9M-72.4 46l8.9-3.5 8.9-6 15.1-14.9 18.3-20.8 6.7-6.8 6.7-4.9 6.7-2 6.7 0.6 4.4 2 4.5 3 8.9 8.2 20.3 20.7 13.1 11.3 8.9 4.7 11.1 2.8M-62 62.7l15-18.3 32.5-32.8 6.7-5.3 6.7-2.4 6.7 0.5 6.7 3.3 42.3 35.9 6.7 4.5 8.9 4.1"/>
</g>
<use href="#hL"/>
<use href="#nL"/>
</g>
<g transform="translate(810.3,1081.2)">
<g clip-path="url(#cL)">
<g filter="url(#fL)">
<path d="M-123.4 -125.5H-71V-72.6H-123.4z" fill="#555555"/>
<path d="M-71.6 -125.5H-53.2V-72.6H-71.6z" fill="#565656"/>
<path d="M-53.8 -125.5H-35.3V-72.6H-53.8z" fill="#606060"/>
<path d="M-35.9 -125.5H-17.5V-72.6H-35.9z" fill="#696969"/>
<path d="M-18.1 -125.5H0.3V-72.6H-18.1z" fill="#707070"/>
<path d="M-0.3 -125.5H18.1V-72.6H-0.3z" fill="#707070"/>
<path d="M17.5 -125.5H35.9V-72.6H17.5z" fill="#696969"/>
<path d="M35.3 -125.5H53.8V-72.6H35.3z" fill="#606060"/>
<path d="M53.2 -125.5H71.6V-72.6H53.2z" fill="#565656"/>
<path d="M71 -125.5H123.4V-72.6H71z" fill="#555555"/>
<path d="M-123.4 -73.2H-71V-54.4H-123.4z" fill="#515151"/>
<path d="M-71.6 -73.2H-53.2V-54.4H-71.6z" fill="#535353"/>
<path d="M-53.8 -73.2H-35.3V-54.4H-53.8z" fill="#5e5e5e"/>
<path d="M-35.9 -73.2H-17.5V-54.4H-35.9z" fill="#6c6c6c"/>
<path d="M-18.1 -73.2H0.3V-54.4H-18.1z" fill="#767676"/>
<path d="M-0.3 -73.2H18.1V-54.4H-0.3z" fill="#757575"/>
<path d="M17.5 -73.2H35.9V-54.4H17.5z" fill="#6b6b6b"/>
<path d="M35.3 -73.2H53.8V-54.4H35.3z" fill="#5e5e5e"/>
<path d="M53.2 -73.2H71.6V-54.4H53.2z" fill="#545454"/>
<path d="M71 -73.2H123.4V-54.4H71z" fill="#535353"/>
<path d="M-123.4 -55H-71V-36.2H-123.4z" fill="#434343"/>
<path d="M-71.6 -55H-53.2V-36.2H-71.6z" fill="#474747"/>
<path d="M-53.8 -55H-35.3V-36.2H-53.8z" fill="#606060"/>
<path d="M-35.9 -55H-17.5V-36.2H-35.9z" fill="#7d7d7d"/>
<path d="M-18.1 -55H0.3V-36.2H-18.1z" fill="#929292"/>
<path d="M-0.3 -55H18.1V-36.2H-0.3z" fill="#919191"/>
<path d="M17.5 -55H35.9V-36.2H17.5z" fill="#7c7c7c"/>
<path d="M35.3 -55H53.8V-36.2H35.3z" fill="#606060"/>
<path d="M53.2 -55H71.6V-36.2H53.2z" fill="#4d4d4d"/>
<path d="M71 -55H123.4V-36.2H71z" fill="#4c4c4c"/>
<path d="M-123.4 -36.8H-71V-17.9H-123.4z" fill="#414141"/>
<path d="M-71.6 -36.8H-53.2V-17.9H-71.6z" fill="#484848"/>
<path d="M-53.8 -36.8H-35.3V-17.9H-53.8z" fill="#6f6f6f"/>
<path d="M-35.9 -36.8H-17.5V-17.9H-35.9z" fill="#939393"/>
<path d="M-18.1 -36.8H0.3V-17.9H-18.1z" fill="#ababab"/>
<path d="M-0.3 -36.8H18.1V-17.9H-0.3z" fill="#ababab"/>
<path d="M17.5 -36.8H35.9V-17.9H17.5z" fill="#949494"/>
<path d="M35.3 -36.8H53.8V-17.9H35.3z" fill="#727272"/>
<path d="M53.2 -36.8H71.6V-17.9H53.2z" fill="#515151"/>
<path d="M71 -36.8H123.4V-17.9H71z" fill="#4c4c4c"/>
<path d="M-123.4 -18.5H-71V0.3H-123.4z" fill="#505050"/>
<path d="M-71.6 -18.5H-53.2V0.3H-71.6z" fill="#5a5a5a"/>
<path d="M-53.8 -18.5H-35.3V0.3H-53.8z" fill="#898989"/>
<path d="M-35.9 -18.5H-17.5V0.3H-35.9z" fill="#adadad"/>
<path d="M-18.1 -18.5H0.3V0.3H-18.1z" fill="#c2c2c2"/>
<path d="M-0.3 -18.5H18.1V0.3H-0.3z" fill="#c4c4c4"/>
<path d="M17.5 -18.5H35.9V0.3H17.5z" fill="#b1b1b1"/>
<path d="M35.3 -18.5H53.8V0.3H35.3z" fill="#8f8f8f"/>
<path d="M53.2 -18.5H71.6V0.3H53.2z" fill="#646464"/>
<path d="M71 -18.5H123.4V0.3H71z" fill="#5b5b5b"/>
<path d="M-123.4 -0.3H-71V18.5H-123.4z" fill="#757575"/>
<path d="M-71.6 -0.3H-53.2V18.5H-71.6z" fill="#808080"/>
<path d="M-53.8 -0.3H-35.3V18.5H-53.8z" fill="#ababab"/>
<path d="M-35.9 -0.3H-17.5V18.5H-35.9z" fill="#c8c8c8"/>
<path d="M-18.1 -0.3H0.3V18.5H-18.1z" fill="#d7d7d7"/>
<path d="M-0.3 -0.3H18.1V18.5H-0.3z" fill="#dadada"/>
<path d="M17.5 -0.3H35.9V18.5H17.5z" fill="#cfcfcf"/>
<path d="M35.3 -0.3H53.8V18.5H35.3z" fill="#b5b5b5"/>
<path d="M53.2 -0.3H71.6V18.5H53.2z" fill="#8b8b8b"/>
<path d="M71 -0.3H123.4V18.5H71z" fill="#808080"/>
<path d="M-123.4 17.9H-71V36.8H-123.4z" fill="#a9a9a9"/>
<path d="M-71.6 17.9H-53.2V36.8H-71.6z" fill="#b2b2b2"/>
<path d="M-53.8 17.9H-35.3V36.8H-53.8z" fill="#cfcfcf"/>
<path d="M-35.9 17.9H-17.5V36.8H-35.9z" fill="#e0e0e0"/>
<path d="M-18.1 17.9H0.3V36.8H-18.1z" fill="#e8e8e8"/>
<path d="M-0.3 17.9H18.1V36.8H-0.3z" fill="#ebebeb"/>
<path d="M17.5 17.9H35.9V36.8H17.5z" fill="#e9e9e9"/>
<path d="M35.3 17.9H53.8V36.8H35.3z" fill="#dcdcdc"/>
<path d="M53.2 17.9H71.6V36.8H53.2z" fill="#bdbdbd"/>
<path d="M71 17.9H123.4V36.8H71z" fill="#b4b4b4"/>
<path d="M-123.4 36.2H-71V55H-123.4z" fill="#d5d5d5"/>
<path d="M-71.6 36.2H-53.2V55H-71.6z" fill="#dadada"/>
<path d="M-53.8 36.2H-35.3V55H-53.8z" fill="#e9e9e9"/>
<path d="M-35.9 36.2H-17.5V55H-35.9z" fill="#efefef"/>
<path d="M-18.1 36.2H0.3V55H-18.1z" fill="#f1f1f1"/>
<path d="M-0.3 36.2H18.1V55H-0.3z" fill="#f4f4f4"/>
<path d="M17.5 36.2H35.9V55H17.5z" fill="#f8f8f8"/>
<path d="M35.3 36.2H53.8V55H35.3z" fill="#f5f5f5"/>
<path d="M53.2 36.2H71.6V55H53.2z" fill="#e5e5e5"/>
<path d="M71 36.2H123.4V55H71z" fill="#dfdfdf"/>
<path d="M-123.4 54.4H-71V73.2H-123.4z" fill="#e2e2e2"/>
<path d="M-71.6 54.4H-53.2V73.2H-71.6z" fill="#e4e4e4"/>
<path d="M-53.8 54.4H-35.3V73.2H-53.8z" fill="#ebebeb"/>
<path d="M-35.9 54.4H-17.5V73.2H-35.9z" fill="#eeeeee"/>
<path d="M-18.1 54.4H0.3V73.2H-18.1z" fill="#efefef"/>
<path d="M-0.3 54.4H18.1V73.2H-0.3z" fill="#f1f1f1"/>
<path d="M17.5 54.4H35.9V73.2H17.5z" fill="#f4f4f4"/>
<path d="M35.3 54.4H53.8V73.2H35.3z" fill="#f3f3f3"/>
<path d="M53.2 54.4H71.6V73.2H53.2z" fill="#ececec"/>
<path d="M71 54.4H123.4V73.2H71z" fill="#eaeaea"/>
<path d="M-123.4 72.6H-71V125.5H-123.4z" fill="#dfdfdf"/>
<path d="M-71.6 72.6H-53.2V125.5H-71.6z" fill="#e1e1e1"/>
<path d="M-53.8 72.6H-35.3V125.5H-53.8z" fill="#e7e7e7"/>
<path d="M-35.9 72.6H-17.5V125.5H-35.9z" fill="#ebebeb"/>
<path d="M-18.1 72.6H0.3V125.5H-18.1z" fill="#ededed"/>
<path d="M-0.3 72.6H18.1V125.5H-0.3z" fill="#efefef"/>
<path d="M17.5 72.6H35.9V125.5H17.5z" fill="#f0f0f0"/>
<path d="M35.3 72.6H53.8V125.5H35.3z" fill="#efefef"/>
<path d="M53.2 72.6H71.6V125.5H53.2z" fill="#e8e8e8"/>
<path d="M71 72.6H123.4V125.5H71z" fill="#e5e5e5"/>
</g>
<path class="ct" d="M-85.8 -7.7l9-1.7 7-3.1 6.3-5.8 4.9-7.9 4-11.4 1.5-11.4-1.1-9.1-3.2-9.1M59.1 -64.9l-2.3 8.6-0.4 7.3 1.2 6.8 3.7 9.6 4.1 6.4 4.8 4.6 6.6 3.4 9 1.9M-85.8 1.8l9-1.3 8.9-3.2 6.6-4.9 4.5-5.3 6.5-11 7.2-16 11.7-29.6 1.9-6.8 1.3-6.9M28.1 -83.2l2.2 11.4 4.4 11.4 10.8 22.8 11.1 18.2 6 6.9 6.3 4.5 7.9 3 9 1.3M-85.8 9.5l9-1.1 6.6-1.7 4.5-2 5.3-3.6 4.7-4.5 5.3-6.9 18.1-29.9 4.5-6.6 3.7-4.5 5.2-4.6 6.6-4.1 4.5-1.7 6.7-1 6.7 0.7 6.7 2.4 6.6 4.3 4.5 4 6.7 7.9 22.2 30.9 4.5 5.2 4.5 4.2 4.4 2.9 6.7 2.9 6.7 1.5 6.7 0.7M-85.8 16.3l9-0.9 6.6-1.5 6.7-2.7 4.5-2.9 5.3-4.9 6-6.8 19.9-27.6 6.6-7.8 4.5-4 4.4-2.9 4.5-1.9 6.7-1 6.7 0.7 4.4 1.5 4.5 2.5 4.4 3.4 8.9 9 23.7 28.1 5.3 5.2 4.5 3.5 4.4 2.5 6.7 2.5 13.4 1.9M-83.5 22.8l8.9-1.1 6.7-1.6 6.6-2.9 4.5-2.9 4.8-4 6.7-6.9 19.7-23.6 7.9-8.3 7.7-5.4 4.4-1.7 4.5-0.7 4.4 0.3 4.5 1.2 4.5 2.2 4.4 3.1 8.9 8 24.1 24.9 9.3 8 4.5 2.6 6.7 2.6 6.6 1.4 6.7 0.8M-81.3 29.4l13.4-2.3 6.6-2.6 4.5-2.6 11.5-9.4 28.6-28.7 4.4-3.3 4.5-2.4 6.7-1.6 4.4 0.2 4.5 1.1 8.9 5 8.9 7.1 25.1 22.6 8.3 6.1 4.5 2.4 6.7 2.3 13.3 2.1M-79.1 36.6l6.7-0.9 6.7-1.7 8.9-4 14.3-10.6 19.1-16.9 8.9-7 4.5-2.8 4.4-1.9 6.7-1 4.5 0.4 4.4 1.4 8.9 4.8 8.9 6.2 24.5 19 6.7 4.4 8.9 3.8 13.4 2.4M-74.6 45.4l8.9-2.1 8.9-3.9 8.9-5.8 33.4-24 8.9-4.2 6.7-1.2 6.7 0.5 8.9 3 13.4 7.4 28.9 19.2 8.9 3.6 9.7 2M-61.3 62.9l6-7.1 6.8-6.8 5.4-4.6 9.8-6.8 11.1-6.8 9.9-5.3 9-3.4 6.6-1.2 4.5-0.1 6.7 0.9 6.7 1.9 6.6 2.6 13.4 7.2 20.1 13.3 10.1 4.6"/>
</g>
<use href="#hL"/>
<use href="#nL"/>
</g>
<g transform="translate(1056,1081.2)">
<g clip-path="url(#cL)">
<g filter="url(#fL)">
<path d="M-123.4 -125.5H-71V-72.6H-123.4z" fill="#6a6a6a"/>
<path d="M-71.6 -125.5H-53.2V-72.6H-71.6z" fill="#696969"/>
<path d="M-53.8 -125.5H-35.3V-72.6H-53.8z" fill="#6d6d6d"/>
<path d="M-35.9 -125.5H-17.5V-72.6H-35.9z" fill="#797979"/>
<path d="M-18.1 -125.5H0.3V-72.6H-18.1z" fill="#848484"/>
<path d="M-0.3 -125.5H18.1V-72.6H-0.3z" fill="#848484"/>
<path d="M17.5 -125.5H35.9V-72.6H17.5z" fill="#7a7a7a"/>
<path d="M35.3 -125.5H53.8V-72.6H35.3z" fill="#6d6d6d"/>
<path d="M53.2 -125.5H71.6V-72.6H53.2z" fill="#666666"/>
<path d="M71 -125.5H123.4V-72.6H71z" fill="#666666"/>
<path d="M-123.4 -73.2H-71V-54.4H-123.4z" fill="#6b6b6b"/>
<path d="M-71.6 -73.2H-53.2V-54.4H-71.6z" fill="#6a6a6a"/>
<path d="M-53.8 -73.2H-35.3V-54.4H-53.8z" fill="#717171"/>
<path d="M-35.9 -73.2H-17.5V-54.4H-35.9z" fill="#808080"/>
<path d="M-18.1 -73.2H0.3V-54.4H-18.1z" fill="#8d8d8d"/>
<path d="M-0.3 -73.2H18.1V-54.4H-0.3z" fill="#8c8c8c"/>
<path d="M17.5 -73.2H35.9V-54.4H17.5z" fill="#7d7d7d"/>
<path d="M35.3 -73.2H53.8V-54.4H35.3z" fill="#6b6b6b"/>
<path d="M53.2 -73.2H71.6V-54.4H53.2z" fill="#646464"/>
<path d="M71 -73.2H123.4V-54.4H71z" fill="#656565"/>
<path d="M-123.4 -55H-71V-36.2H-123.4z" fill="#696969"/>
<path d="M-71.6 -55H-53.2V-36.2H-71.6z" fill="#6b6b6b"/>
<path d="M-53.8 -55H-35.3V-36.2H-53.8z" fill="#808080"/>
<path d="M-35.9 -55H-17.5V-36.2H-35.9z" fill="#9c9c9c"/>
<path d="M-18.1 -55H0.3V-36.2H-18.1z" fill="#afafaf"/>
<path d="M-0.3 -55H18.1V-36.2H-0.3z" fill="#ababab"/>
<path d="M17.5 -55H35.9V-36.2H17.5z" fill="#909090"/>
<path d="M35.3 -55H53.8V-36.2H35.3z" fill="#717171"/>
<path d="M53.2 -55H71.6V-36.2H53.2z" fill="#606060"/>
<path d="M71 -55H123.4V-36.2H71z" fill="#606060"/>
<path d="M-123.4 -36.8H-71V-17.9H-123.4z" fill="#656565"/>
<path d="M-71.6 -36.8H-53.2V-17.9H-71.6z" fill="#6c6c6c"/>
<path d="M-53.8 -36.8H-35.3V-17.9H-53.8z" fill="#909090"/>
<path d="M-35.9 -36.8H-17.5V-17.9H-35.9z" fill="#b0b0b0"/>
<path d="M-18.1 -36.8H0.3V-17.9H-18.1z" fill="#c4c4c4"/>
<path d="M-0.3 -36.8H18.1V-17.9H-0.3z" fill="#c1c1c1"/>
<path d="M17.5 -36.8H35.9V-17.9H17.5z" fill="#aaaaaa"/>
<path d="M35.3 -36.8H53.8V-17.9H35.3z" fill="#888888"/>
<path d="M53.2 -36.8H71.6V-17.9H53.2z" fill="#676767"/>
<path d="M71 -36.8H123.4V-17.9H71z" fill="#626262"/>
<path d="M-123.4 -18.5H-71V0.3H-123.4z" fill="#6a6a6a"/>
<path d="M-71.6 -18.5H-53.2V0.3H-71.6z" fill="#757575"/>
<path d="M-53.8 -18.5H-35.3V0.3H-53.8z" fill="#a2a2a2"/>
<path d="M-35.9 -18.5H-17.5V0.3H-35.9z" fill="#c1c1c1"/>
<path d="M-18.1 -18.5H0.3V0.3H-18.1z" fill="#d2d2d2"/>
<path d="M-0.3 -18.5H18.1V0.3H-0.3z" fill="#d3d3d3"/>
<path d="M17.5 -18.5H35.9V0.3H17.5z" fill="#c6c6c6"/>
<path d="M35.3 -18.5H53.8V0.3H35.3z" fill="#a9a9a9"/>
<path d="M53.2 -18.5H71.6V0.3H53.2z" fill="#7c7c7c"/>
<path d="M71 -18.5H123.4V0.3H71z" fill="#717171"/>
<path d="M-123.4 -0.3H-71V18.5H-123.4z" fill="#868686"/>
<path d="M-71.6 -0.3H-53.2V18.5H-71.6z" fill="#919191"/>
<path d="M-53.8 -0.3H-35.3V18.5H-53.8z" fill="#bababa"/>
<path d="M-35.9 -0.3H-17.5V18.5H-35.9z" fill="#d2d2d2"/>
<path d="M-18.1 -0.3H0.3V18.5H-18.1z" fill="#dfdfdf"/>
<path d="M-0.3 -0.3H18.1V18.5H-0.3z" fill="#e3e3e3"/>
<path d="M17.5 -0.3H35.9V18.5H17.5z" fill="#dfdfdf"/>
<path d="M35.3 -0.3H53.8V18.5H35.3z" fill="#cacaca"/>
<path d="M53.2 -0.3H71.6V18.5H53.2z" fill="#9f9f9f"/>
<path d="M71 -0.3H123.4V18.5H71z" fill="#939393"/>
<path d="M-123.4 17.9H-71V36.8H-123.4z" fill="#b2b2b2"/>
<path d="M-71.6 17.9H-53.2V36.8H-71.6z" fill="#b9b9b9"/>
<path d="M-53.8 17.9H-35.3V36.8H-53.8z" fill="#d3d3d3"/>
<path d="M-35.9 17.9H-17.5V36.8H-35.9z" fill="#e3e3e3"/>
<path d="M-18.1 17.9H0.3V36.8H-18.1z" fill="#ececec"/>
<path d="M-0.3 17.9H18.1V36.8H-0.3z" fill="#f1f1f1"/>
<path d="M17.5 17.9H35.9V36.8H17.5z" fill="#f1f1f1"/>
<path d="M35.3 17.9H53.8V36.8H35.3z" fill="#e6e6e6"/>
<path d="M53.2 17.9H71.6V36.8H53.2z" fill="#cacaca"/>
<path d="M71 17.9H123.4V36.8H71z" fill="#c1c1c1"/>
<path d="M-123.4 36.2H-71V55H-123.4z" fill="#d8d8d8"/>
<path d="M-71.6 36.2H-53.2V55H-71.6z" fill="#dbdbdb"/>
<path d="M-53.8 36.2H-35.3V55H-53.8z" fill="#e5e5e5"/>
<path d="M-35.9 36.2H-17.5V55H-35.9z" fill="#ededed"/>
<path d="M-18.1 36.2H0.3V55H-18.1z" fill="#f3f3f3"/>
<path d="M-0.3 36.2H18.1V55H-0.3z" fill="#f7f7f7"/>
<path d="M17.5 36.2H35.9V55H17.5z" fill="#fafafa"/>
<path d="M35.3 36.2H53.8V55H35.3z" fill="#f7f7f7"/>
<path d="M53.2 36.2H71.6V55H53.2z" fill="#eaeaea"/>
<path d="M71 36.2H123.4V55H71z" fill="#e6e6e6"/>
<path d="M-123.4 54.4H-71V73.2H-123.4z" fill="#dfdfdf"/>
<path d="M-71.6 54.4H-53.2V73.2H-71.6z" fill="#e2e2e2"/>
<path d="M-53.8 54.4H-35.3V73.2H-53.8z" fill="#eaeaea"/>
<path d="M-35.9 54.4H-17.5V73.2H-35.9z" fill="#ececec"/>
<path d="M-18.1 54.4H0.3V73.2H-18.1z" fill="#ececec"/>
<path d="M-0.3 54.4H18.1V73.2H-0.3z" fill="#f0f0f0"/>
<path d="M17.5 54.4H35.9V73.2H17.5z" fill="#f6f6f6"/>
<path d="M35.3 54.4H53.8V73.2H35.3z" fill="#f7f7f7"/>
<path d="M53.2 54.4H71.6V73.2H53.2z" fill="#eeeeee"/>
<path d="M71 54.4H123.4V73.2H71z" fill="#eaeaea"/>
<path d="M-123.4 72.6H-71V125.5H-123.4z" fill="#dbdbdb"/>
<path d="M-71.6 72.6H-53.2V125.5H-71.6z" fill="#dfdfdf"/>
<path d="M-53.8 72.6H-35.3V125.5H-53.8z" fill="#e8e8e8"/>
<path d="M-35.9 72.6H-17.5V125.5H-35.9z" fill="#eaeaea"/>
<path d="M-18.1 72.6H0.3V125.5H-18.1z" fill="#e9e9e9"/>
<path d="M-0.3 72.6H18.1V125.5H-0.3z" fill="#ececec"/>
<path d="M17.5 72.6H35.9V125.5H17.5z" fill="#f3f3f3"/>
<path d="M35.3 72.6H53.8V125.5H35.3z" fill="#f5f5f5"/>
<path d="M53.2 72.6H71.6V125.5H53.2z" fill="#eaeaea"/>
<path d="M71 72.6H123.4V125.5H71z" fill="#e5e5e5"/>
</g>
<path class="ct" d="M-85.8 -7l4.7-1 5.4-2.3 3.3-2.2 4.5-5.3 2.2-4.2 2.2-6.1 3.5-14.1 3.1-9.1 3.5-6.8 7.3-11.4 3.2-6.8M38.8 -78.6l1.3 11.4 3.7 11.4 5.4 11.4 9.8 15.7 6 7.1 5.2 4.2 6.6 3.3 9 2M-85.8 3.8l6.7-1.1 6.7-2.2 4.5-2.6 4.4-4.2 5.3-8.5 8.8-22.8 4.6-9.1 5.8-8 11.6-12.5 5.5-6.9 4.2-6.8 2.4-6.8M15.3 -87.7l2.5 9.1 5.7 11.4 17.8 27.3 17.7 24.2 5.4 5.4 5.8 4 6.6 2.6 9 1.6M-85.8 11.7l6.7-0.7 6.7-1.7 4.5-1.9 5.5-4 3.4-3.5 3.8-5.6 14-29.4 4.2-7.1 4.7-6 6.7-6.2 8.9-5.9 6.7-3.1 6.7-1.3 6.6 0.5 4.5 1.5 6.7 3.9 4.4 3.6 8.9 9.8 29 37 6.7 6.4 4.4 2.9 5.9 2.5 5.3 1.4 7.1 0.9M-83.5 18.5l6.7-0.9 6.6-1.6 6.7-3.1 4.5-3.5 4.4-4.9 3.9-5.6 16-29.7 6.9-9.6 4.4-4.5 6.7-4.8 6.7-2.8 6.7-1 6.6 0.7 4.5 1.4 4.5 2.4 4.4 3.5 8.9 9.2 29 34 4.4 4.5 4.3 3.5 4.6 2.7 4.5 1.7 6.7 1.7 6.7 0.7M-83.5 25.1l8.9-1.1 6.7-1.7 6.4-2.9 4.7-3.5 5.5-5.6 5.1-6.9 16.1-26.4 7.5-10 5.9-5.5 4.4-2.8 4.5-1.6 4.5-0.6 4.4 0.4 4.5 1.3 4.4 2.3 4.5 3.3 20 20 20.1 21.9 6.7 5.9 4.4 2.7 4.5 1.8 6.6 1.8 6.7 0.9M-81.3 31.9l8.9-1.2 6.7-1.8 6.7-3.2 4.4-3.2 5.8-5.4 5.9-6.8 17.3-24.3 6.7-8.4 6.8-6.1 4.3-2.2 4.5-0.8 4.4 0.2 4.5 1.4 4.4 2.3 4.5 3.2 17.8 15.6 22.3 22.3 6.7 5.2 8.9 4.1 6.6 1.6 6.7 0.8M-76.8 39.4l6.6-1.1 6.7-1.9 4.5-2 5.8-3.6 12.4-11.4 19.6-22.5 6.7-6.9 6.7-4.8 6.7-1.8 4.4 0.3 4.5 1.2 6.7 3.4 6.7 4.4 11.1 8.3 20 18.5 9 6.7 8.9 3.7 11.1 2M-70.2 50.3l11.2-4.6 11.1-7.4 8.9-7.5 20.1-19 8.9-7.1 6.7-3.3 6.6-1.3 4.5 0.2 4.5 1 11.1 4.7 11.1 7.4 17.8 15 6.7 4.9 8.9 4.2 8.9 2.1M-42.4 76.3l-1.3-6.8 0.6-6.8 3.1-6.9 4.8-6.8 10.6-11.4 12.3-11 9-5.6 8.9-3.1 4.4-0.5 6.7 0.6 5.3 1.4 5.8 2.4 11.2 7.1 20 16.1 11.2 7"/>
</g>
<use href="#hL"/>
<use href="#nL"/>
</g>
<g transform="translate(321.3,1348)">
<g clip-path="url(#cL2)">
<g filter="url(#fL2)">
<path d="M-123.4 -127.4H-71V-74.2H-123.4z" fill="#313131"/>
<path d="M-71.6 -127.4H-53.2V-74.2H-71.6z" fill="#313131"/>
<path d="M-53.8 -127.4H-35.3V-74.2H-53.8z" fill="#353535"/>
<path d="M-35.9 -127.4H-17.5V-74.2H-35.9z" fill="#393939"/>
<path d="M-18.1 -127.4H0.3V-74.2H-18.1z" fill="#3b3b3b"/>
<path d="M-0.3 -127.4H18.1V-74.2H-0.3z" fill="#3b3b3b"/>
<path d="M17.5 -127.4H35.9V-74.2H17.5z" fill="#393939"/>
<path d="M35.3 -127.4H53.8V-74.2H35.3z" fill="#353535"/>
<path d="M53.2 -127.4H71.6V-74.2H53.2z" fill="#313131"/>
<path d="M71 -127.4H123.4V-74.2H71z" fill="#313131"/>
<path d="M-123.4 -74.8H-71V-55.6H-123.4z" fill="#313131"/>
<path d="M-71.6 -74.8H-53.2V-55.6H-71.6z" fill="#303030"/>
<path d="M-53.8 -74.8H-35.3V-55.6H-53.8z" fill="#323232"/>
<path d="M-35.9 -74.8H-17.5V-55.6H-35.9z" fill="#373737"/>
<path d="M-18.1 -74.8H0.3V-55.6H-18.1z" fill="#3b3b3b"/>
<path d="M-0.3 -74.8H18.1V-55.6H-0.3z" fill="#3a3a3a"/>
<path d="M17.5 -74.8H35.9V-55.6H17.5z" fill="#363636"/>
<path d="M35.3 -74.8H53.8V-55.6H35.3z" fill="#313131"/>
<path d="M53.2 -74.8H71.6V-55.6H53.2z" fill="#303030"/>
<path d="M71 -74.8H123.4V-55.6H71z" fill="#303030"/>
<path d="M-123.4 -56.2H-71V-36.9H-123.4z" fill="#333333"/>
<path d="M-71.6 -56.2H-53.2V-36.9H-71.6z" fill="#323232"/>
<path d="M-53.8 -56.2H-35.3V-36.9H-53.8z" fill="#353535"/>
<path d="M-35.9 -56.2H-17.5V-36.9H-35.9z" fill="#3d3d3d"/>
<path d="M-18.1 -56.2H0.3V-36.9H-18.1z" fill="#434343"/>
<path d="M-0.3 -56.2H18.1V-36.9H-0.3z" fill="#434343"/>
<path d="M17.5 -56.2H35.9V-36.9H17.5z" fill="#3c3c3c"/>
<path d="M35.3 -56.2H53.8V-36.9H35.3z" fill="#353535"/>
<path d="M53.2 -56.2H71.6V-36.9H53.2z" fill="#333333"/>
<path d="M71 -56.2H123.4V-36.9H71z" fill="#343434"/>
<path d="M-123.4 -37.5H-71V-18.3H-123.4z" fill="#3a3a3a"/>
<path d="M-71.6 -37.5H-53.2V-18.3H-71.6z" fill="#3d3d3d"/>
<path d="M-53.8 -37.5H-35.3V-18.3H-53.8z" fill="#484848"/>
<path d="M-35.9 -37.5H-17.5V-18.3H-35.9z" fill="#515151"/>
<path d="M-18.1 -37.5H0.3V-18.3H-18.1z" fill="#575757"/>
<path d="M-0.3 -37.5H18.1V-18.3H-0.3z" fill="#5a5a5a"/>
<path d="M17.5 -37.5H35.9V-18.3H17.5z" fill="#585858"/>
<path d="M35.3 -37.5H53.8V-18.3H35.3z" fill="#515151"/>
<path d="M53.2 -37.5H71.6V-18.3H53.2z" fill="#444444"/>
<path d="M71 -37.5H123.4V-18.3H71z" fill="#414141"/>
<path d="M-123.4 -18.9H-71V0.3H-123.4z" fill="#454545"/>
<path d="M-71.6 -18.9H-53.2V0.3H-71.6z" fill="#4b4b4b"/>
<path d="M-53.8 -18.9H-35.3V0.3H-53.8z" fill="#606060"/>
<path d="M-35.9 -18.9H-17.5V0.3H-35.9z" fill="#696969"/>
<path d="M-18.1 -18.9H0.3V0.3H-18.1z" fill="#6e6e6e"/>
<path d="M-0.3 -18.9H18.1V0.3H-0.3z" fill="#747474"/>
<path d="M17.5 -18.9H35.9V0.3H17.5z" fill="#7b7b7b"/>
<path d="M35.3 -18.9H53.8V0.3H35.3z" fill="#767676"/>
<path d="M53.2 -18.9H71.6V0.3H53.2z" fill="#5b5b5b"/>
<path d="M71 -18.9H123.4V0.3H71z" fill="#525252"/>
<path d="M-123.4 -0.3H-71V18.9H-123.4z" fill="#505050"/>
<path d="M-71.6 -0.3H-53.2V18.9H-71.6z" fill="#585858"/>
<path d="M-53.8 -0.3H-35.3V18.9H-53.8z" fill="#707070"/>
<path d="M-35.9 -0.3H-17.5V18.9H-35.9z" fill="#7a7a7a"/>
<path d="M-18.1 -0.3H0.3V18.9H-18.1z" fill="#808080"/>
<path d="M-0.3 -0.3H18.1V18.9H-0.3z" fill="#8a8a8a"/>
<path d="M17.5 -0.3H35.9V18.9H17.5z" fill="#949494"/>
<path d="M35.3 -0.3H53.8V18.9H35.3z" fill="#919191"/>
<path d="M53.2 -0.3H71.6V18.9H53.2z" fill="#717171"/>
<path d="M71 -0.3H123.4V18.9H71z" fill="#656565"/>
<path d="M-123.4 18.3H-71V37.5H-123.4z" fill="#5c5c5c"/>
<path d="M-71.6 18.3H-53.2V37.5H-71.6z" fill="#626262"/>
<path d="M-53.8 18.3H-35.3V37.5H-53.8z" fill="#767676"/>
<path d="M-35.9 18.3H-17.5V37.5H-35.9z" fill="#828282"/>
<path d="M-18.1 18.3H0.3V37.5H-18.1z" fill="#8a8a8a"/>
<path d="M-0.3 18.3H18.1V37.5H-0.3z" fill="#949494"/>
<path d="M17.5 18.3H35.9V37.5H17.5z" fill="#9e9e9e"/>
<path d="M35.3 18.3H53.8V37.5H35.3z" fill="#9b9b9b"/>
<path d="M53.2 18.3H71.6V37.5H53.2z" fill="#808080"/>
<path d="M71 18.3H123.4V37.5H71z" fill="#767676"/>
<path d="M-123.4 36.9H-71V56.2H-123.4z" fill="#656565"/>
<path d="M-71.6 36.9H-53.2V56.2H-71.6z" fill="#696969"/>
<path d="M-53.8 36.9H-35.3V56.2H-53.8z" fill="#797979"/>
<path d="M-35.9 36.9H-17.5V56.2H-35.9z" fill="#848484"/>
<path d="M-18.1 36.9H0.3V56.2H-18.1z" fill="#8d8d8d"/>
<path d="M-0.3 36.9H18.1V56.2H-0.3z" fill="#959595"/>
<path d="M17.5 36.9H35.9V56.2H17.5z" fill="#9b9b9b"/>
<path d="M35.3 36.9H53.8V56.2H35.3z" fill="#999999"/>
<path d="M53.2 36.9H71.6V56.2H53.2z" fill="#878787"/>
<path d="M71 36.9H123.4V56.2H71z" fill="#818181"/>
<path d="M-123.4 55.6H-71V74.8H-123.4z" fill="#6a6a6a"/>
<path d="M-71.6 55.6H-53.2V74.8H-71.6z" fill="#6e6e6e"/>
<path d="M-53.8 55.6H-35.3V74.8H-53.8z" fill="#7e7e7e"/>
<path d="M-35.9 55.6H-17.5V74.8H-35.9z" fill="#878787"/>
<path d="M-18.1 55.6H0.3V74.8H-18.1z" fill="#8b8b8b"/>
<path d="M-0.3 55.6H18.1V74.8H-0.3z" fill="#8d8d8d"/>
<path d="M17.5 55.6H35.9V74.8H17.5z" fill="#8e8e8e"/>
<path d="M35.3 55.6H53.8V74.8H35.3z" fill="#8c8c8c"/>
<path d="M53.2 55.6H71.6V74.8H53.2z" fill="#848484"/>
<path d="M71 55.6H123.4V74.8H71z" fill="#818181"/>
<path d="M-123.4 74.2H-71V127.4H-123.4z" fill="#6a6a6a"/>
<path d="M-71.6 74.2H-53.2V127.4H-71.6z" fill="#6f6f6f"/>
<path d="M-53.8 74.2H-35.3V127.4H-53.8z" fill="#808080"/>
<path d="M-35.9 74.2H-17.5V127.4H-35.9z" fill="#888888"/>
<path d="M-18.1 74.2H0.3V127.4H-18.1z" fill="#8a8a8a"/>
<path d="M-0.3 74.2H18.1V127.4H-0.3z" fill="#8a8a8a"/>
<path d="M17.5 74.2H35.9V127.4H17.5z" fill="#8b8b8b"/>
<path d="M35.3 74.2H53.8V127.4H35.3z" fill="#888888"/>
<path d="M53.2 74.2H71.6V127.4H53.2z" fill="#828282"/>
<path d="M71 74.2H123.4V127.4H71z" fill="#808080"/>
</g>
<path class="ct" d="M-83.5 -25.8l8.9-1.8 11.1-4.3 26.4-13.5 24.8-15.9 4.5-2 4.5-0.9 6.6 0.5 4.5 1.6 21.4 12.1 11.1 4.6 23.2 6.9 15.6 2.6M-85.8 -7l6.7-1.5 6.7-2.9 6.7-4 15.6-11.3 11.1-5.9 22.3-9 6.7-1.9 6.7-1 6.6-0.2 6.7 0.7 17.8 4.1 20.1 5.7 22.3 8.8 13.3 3M-85.8 9.7l9-2.6 6.6-4.1 4.5-3.7 14.4-14.4 10.1-6.8 8.9-4.1 11.1-3.9 8.9-2.6 9-1.6 8.9-0.5 8.9 0.4 11.1 1.4 11.2 2.3 13.3 4.5 22.3 11.4 6.7 2.3 6.7 1.3M-83.4 26.8l4.3-1.3 4.5-2.1 6.7-5.2 4.4-5.1 12.1-16.6 4.4-4.6 5.8-4.5 6.7-3.5 8.9-3.5 11.1-3.2 11.2-2.4 11.1-1.2 11.1-0.1 11.2 1.1 8.9 1.8 11.1 4.4 22.3 14.4 6.7 2.8 6.7 1.4M-74.6 45.9l6.7-5.7 4.4-5.7 13.8-26.4 4-5.6 4.5-4.4 6.7-4.7 6.7-3.1 9-3.1 15.5-4 11.1-2 11.1-1 11.2 0.5 8.9 1.7 6.6 2.5 4.5 2.5 15.6 12.9 6.7 4.7 6.7 3.2 6.7 1.7M-60.7 64l13.5-39.6 3.8-8.3 3.6-5.6 5.3-5.3 6.7-4.3 8.9-3.8 16-5.2 12.9-3.5 11.2-1.6 8.9 0.1 8.9 1.7 6.7 2.9 4.4 3 15.6 15.8 6.7 5.5 4.4 2.7 6.7 2.3M-48.3 75.6l2.6-13.9 8.2-28 3-7.9 3.5-6 5.4-5.8 6.7-4.6 17.2-8.2 12.1-4.7 8.9-2.3 8.5-0.8 9 1.1 6.6 2.7 4.5 3.2 4.4 4.4 15.6 20.2 6.7 5.9 5.1 2.8M-30.2 85l2.1-16.3 5-23.3 2.7-9.3 3.3-7 5.5-7 10.9-9.3 11.6-7 10.3-3.9 8.9-1 4.4 0.6 4.5 1.3 6.7 4.3 4.4 5.1 8.1 14.6 4.9 11.6 2.4 7 0.6 7-0.9 4.6-1.8 4.7M34.5 62.1l-4.4 1-6.7 0.3-4.5-0.7-6.6-2.2-4.5-2.5-3.7-3.3-2.9-4.7-1.3-4.6 0-4.7 1.5-7 2.1-4.6 3.1-4.7 4.1-4.6 6-4.9 4.5-2.5 6.6-1.9 4.5 0 4.5 1.2 4.4 2.7 2.2 2.2 2.4 3.2 2.4 4.6 1.9 5.5 1.2 6.2 0.3 4.6-0.5 4.7-1 3.5-1.8 3.5-4.9 5.2-4.4 2.7-4.5 1.8"/>
</g>
<use href="#hL2"/>
<use href="#mL2"/>
</g>
<g transform="translate(567,1348)">
<g clip-path="url(#cL2)">
<g filter="url(#fL2)">
<path d="M-123.4 -127.4H-71V-74.2H-123.4z" fill="#1c1c1c"/>
<path d="M-71.6 -127.4H-53.2V-74.2H-71.6z" fill="#1b1b1b"/>
<path d="M-53.8 -127.4H-35.3V-74.2H-53.8z" fill="#1b1b1b"/>
<path d="M-35.9 -127.4H-17.5V-74.2H-35.9z" fill="#1c1c1c"/>
<path d="M-18.1 -127.4H0.3V-74.2H-18.1z" fill="#1c1c1c"/>
<path d="M-0.3 -127.4H18.1V-74.2H-0.3z" fill="#1b1b1b"/>
<path d="M17.5 -127.4H35.9V-74.2H17.5z" fill="#181818"/>
<path d="M35.3 -127.4H53.8V-74.2H35.3z" fill="#161616"/>
<path d="M53.2 -127.4H71.6V-74.2H53.2z" fill="#171717"/>
<path d="M71 -127.4H123.4V-74.2H71z" fill="#171717"/>
<path d="M-123.4 -74.8H-71V-55.6H-123.4z" fill="#1c1c1c"/>
<path d="M-71.6 -74.8H-53.2V-55.6H-71.6z" fill="#1d1d1d"/>
<path d="M-53.8 -74.8H-35.3V-55.6H-53.8z" fill="#1e1e1e"/>
<path d="M-35.9 -74.8H-17.5V-55.6H-35.9z" fill="#202020"/>
<path d="M-18.1 -74.8H0.3V-55.6H-18.1z" fill="#202020"/>
<path d="M-0.3 -74.8H18.1V-55.6H-0.3z" fill="#1d1d1d"/>
<path d="M17.5 -74.8H35.9V-55.6H17.5z" fill="#171717"/>
<path d="M35.3 -74.8H53.8V-55.6H35.3z" fill="#131313"/>
<path d="M53.2 -74.8H71.6V-55.6H53.2z" fill="#151515"/>
<path d="M71 -74.8H123.4V-55.6H71z" fill="#161616"/>
<path d="M-123.4 -56.2H-71V-36.9H-123.4z" fill="#222222"/>
<path d="M-71.6 -56.2H-53.2V-36.9H-71.6z" fill="#252525"/>
<path d="M-53.8 -56.2H-35.3V-36.9H-53.8z" fill="#323232"/>
<path d="M-35.9 -56.2H-17.5V-36.9H-35.9z" fill="#3a3a3a"/>
<path d="M-18.1 -56.2H0.3V-36.9H-18.1z" fill="#3c3c3c"/>
<path d="M-0.3 -56.2H18.1V-36.9H-0.3z" fill="#353535"/>
<path d="M17.5 -56.2H35.9V-36.9H17.5z" fill="#282828"/>
<path d="M35.3 -56.2H53.8V-36.9H35.3z" fill="#1b1b1b"/>
<path d="M53.2 -56.2H71.6V-36.9H53.2z" fill="#161616"/>
<path d="M71 -56.2H123.4V-36.9H71z" fill="#161616"/>
<path d="M-123.4 -37.5H-71V-18.3H-123.4z" fill="#292929"/>
<path d="M-71.6 -37.5H-53.2V-18.3H-71.6z" fill="#303030"/>
<path d="M-53.8 -37.5H-35.3V-18.3H-53.8z" fill="#4a4a4a"/>
<path d="M-35.9 -37.5H-17.5V-18.3H-35.9z" fill="#595959"/>
<path d="M-18.1 -37.5H0.3V-18.3H-18.1z" fill="#5e5e5e"/>
<path d="M-0.3 -37.5H18.1V-18.3H-0.3z" fill="#5b5b5b"/>
<path d="M17.5 -37.5H35.9V-18.3H17.5z" fill="#515151"/>
<path d="M35.3 -37.5H53.8V-18.3H35.3z" fill="#3f3f3f"/>
<path d="M53.2 -37.5H71.6V-18.3H53.2z" fill="#262626"/>
<path d="M71 -37.5H123.4V-18.3H71z" fill="#202020"/>
<path d="M-123.4 -18.9H-71V0.3H-123.4z" fill="#343434"/>
<path d="M-71.6 -18.9H-53.2V0.3H-71.6z" fill="#3e3e3e"/>
<path d="M-53.8 -18.9H-35.3V0.3H-53.8z" fill="#626262"/>
<path d="M-35.9 -18.9H-17.5V0.3H-35.9z" fill="#757575"/>
<path d="M-18.1 -18.9H0.3V0.3H-18.1z" fill="#7d7d7d"/>
<path d="M-0.3 -18.9H18.1V0.3H-0.3z" fill="#818181"/>
<path d="M17.5 -18.9H35.9V0.3H17.5z" fill="#7e7e7e"/>
<path d="M35.3 -18.9H53.8V0.3H35.3z" fill="#6b6b6b"/>
<path d="M53.2 -18.9H71.6V0.3H53.2z" fill="#404040"/>
<path d="M71 -18.9H123.4V0.3H71z" fill="#333333"/>
<path d="M-123.4 -0.3H-71V18.9H-123.4z" fill="#444444"/>
<path d="M-71.6 -0.3H-53.2V18.9H-71.6z" fill="#4f4f4f"/>
<path d="M-53.8 -0.3H-35.3V18.9H-53.8z" fill="#767676"/>
<path d="M-35.9 -0.3H-17.5V18.9H-35.9z" fill="#898989"/>
<path d="M-18.1 -0.3H0.3V18.9H-18.1z" fill="#929292"/>
<path d="M-0.3 -0.3H18.1V18.9H-0.3z" fill="#999999"/>
<path d="M17.5 -0.3H35.9V18.9H17.5z" fill="#9c9c9c"/>
<path d="M35.3 -0.3H53.8V18.9H35.3z" fill="#8d8d8d"/>
<path d="M53.2 -0.3H71.6V18.9H53.2z" fill="#5d5d5d"/>
<path d="M71 -0.3H123.4V18.9H71z" fill="#4e4e4e"/>
<path d="M-123.4 18.3H-71V37.5H-123.4z" fill="#555555"/>
<path d="M-71.6 18.3H-53.2V37.5H-71.6z" fill="#606060"/>
<path d="M-53.8 18.3H-35.3V37.5H-53.8z" fill="#838383"/>
<path d="M-35.9 18.3H-17.5V37.5H-35.9z" fill="#939393"/>
<path d="M-18.1 18.3H0.3V37.5H-18.1z" fill="#989898"/>
<path d="M-0.3 18.3H18.1V37.5H-0.3z" fill="#a0a0a0"/>
<path d="M17.5 18.3H35.9V37.5H17.5z" fill="#a6a6a6"/>
<path d="M35.3 18.3H53.8V37.5H35.3z" fill="#9e9e9e"/>
<path d="M53.2 18.3H71.6V37.5H53.2z" fill="#787878"/>
<path d="M71 18.3H123.4V37.5H71z" fill="#6c6c6c"/>
<path d="M-123.4 36.9H-71V56.2H-123.4z" fill="#666666"/>
<path d="M-71.6 36.9H-53.2V56.2H-71.6z" fill="#6e6e6e"/>
<path d="M-53.8 36.9H-35.3V56.2H-53.8z" fill="#898989"/>
<path d="M-35.9 36.9H-17.5V56.2H-35.9z" fill="#939393"/>
<path d="M-18.1 36.9H0.3V56.2H-18.1z" fill="#979797"/>
<path d="M-0.3 36.9H18.1V56.2H-0.3z" fill="#9b9b9b"/>
<path d="M17.5 36.9H35.9V56.2H17.5z" fill="#a1a1a1"/>
<path d="M35.3 36.9H53.8V56.2H35.3z" fill="#9e9e9e"/>
<path d="M53.2 36.9H71.6V56.2H53.2z" fill="#898989"/>
<path d="M71 36.9H123.4V56.2H71z" fill="#818181"/>
<path d="M-123.4 55.6H-71V74.8H-123.4z" fill="#737373"/>
<path d="M-71.6 55.6H-53.2V74.8H-71.6z" fill="#777777"/>
<path d="M-53.8 55.6H-35.3V74.8H-53.8z" fill="#878787"/>
<path d="M-35.9 55.6H-17.5V74.8H-35.9z" fill="#8e8e8e"/>
<path d="M-18.1 55.6H0.3V74.8H-18.1z" fill="#919191"/>
<path d="M-0.3 55.6H18.1V74.8H-0.3z" fill="#939393"/>
<path d="M17.5 55.6H35.9V74.8H17.5z" fill="#949494"/>
<path d="M35.3 55.6H53.8V74.8H35.3z" fill="#919191"/>
<path d="M53.2 55.6H71.6V74.8H53.2z" fill="#868686"/>
<path d="M71 55.6H123.4V74.8H71z" fill="#838383"/>
<path d="M-123.4 74.2H-71V127.4H-123.4z" fill="#757575"/>
<path d="M-71.6 74.2H-53.2V127.4H-71.6z" fill="#787878"/>
<path d="M-53.8 74.2H-35.3V127.4H-53.8z" fill="#858585"/>
<path d="M-35.9 74.2H-17.5V127.4H-35.9z" fill="#8c8c8c"/>
<path d="M-18.1 74.2H0.3V127.4H-18.1z" fill="#8f8f8f"/>
<path d="M-0.3 74.2H18.1V127.4H-0.3z" fill="#919191"/>
<path d="M17.5 74.2H35.9V127.4H17.5z" fill="#919191"/>
<path d="M35.3 74.2H53.8V127.4H35.3z" fill="#8d8d8d"/>
<path d="M53.2 74.2H71.6V127.4H53.2z" fill="#838383"/>
<path d="M71 74.2H123.4V127.4H71z" fill="#808080"/>
</g>
<path class="ct" d="M-74.6 -46.6l22.3-12.1 11.1-4 15.6-3 8.9-0.4 8.9 0.5 13.4 2.9 11.1 4.2 33.4 16.5 17.8 10 6.7 2.9 6.7 1.8M-85.8 -16l6.7-2.1 6.7-4 6.7-5.8 12.5-12.8 5.3-4.2 4.5-2.5 6.6-2.8 6.7-1.8 8.9-1.4 8.9-0.3 9 0.8 8.9 1.9 8.9 2.8 15.6 6.1 17.8 8.5 17.8 12.8 6.7 3.9 6.7 2.7 6.7 1.5M-85.8 2.9l4.5-1.2 4.5-1.9 6.6-4.9 6.7-7.4 11.2-14.9 4.4-4.7 4.5-3.6 6.6-3.8 6.7-2.5 6.7-1.6 8.9-0.9 11.2 0.5 11.1 2.1 13.4 4 13.3 5.1 6.7 3.1 6.7 4 17.8 15 4.5 3.1 6.6 3.4 9 2.3M-83.5 18.3l4.4-1.4 4.5-2.3 6.7-5.6 6.6-8.8 11.2-17.4 4.4-5.2 4.5-4 4.4-3.1 6.7-3.3 6.7-2 8.9-1.4 11.2 0.1 11.1 1.6 13.4 3.4 13.3 4.9 6.7 3.3 6.7 4.3 4.4 3.8 11.2 11.4 6.7 5.3 6.6 3.5 9 2.3M-81.3 33l4.5-1.7 4.4-2.7 6.7-6.4 4.4-6.3 13.4-23.4 4.5-5.8 4.2-4.2 4.7-3.4 6.7-3.5 6.6-2.3 8.9-1.5 11.2-0.2 11.1 1.4 13.4 3.1 11.1 4 6.7 3.5 6.7 4.9 15.6 17.1 6.7 5.6 6.6 3.5 9 2.2M-74.6 47.3l6.7-5.2 4.4-5.4 4.5-7.5 11.4-23.4 4.2-6.7 4.4-5.4 6.7-5.9 6.7-3.8 6.7-2.4 8.9-1.8 11.1-0.5 11.2 1 11.3 2.2 10.9 4 6.7 3.8 6.7 5.7 13.4 16.6 6.6 6.6 6.7 4.1 8.9 2.8M-62.4 61.7l3.4-7.8 11.1-29.9 4.5-9.5 4.4-7.3 6.7-7.6 6.7-5 8.9-4.1 8.9-2.2 11.1-1.1 13.4 0.8 11.1 2.6 8.2 3.6 5.2 3.5 6 5.8 11.8 16.8 6.7 8 6.7 5.2 6.7 3.1M-43.4 78l-1.4-18.7 0.5-11.6 3.1-13.5 4.4-11.1 6.7-10.3 7.6-7 10.2-5.4 11.2-3.2 11.1-1.3 11.2 0.7 8.9 2.5 4.4 2.2 4.5 3.1 6 6.1 4.7 7 17.1 30.2 2.6 7M27.8 71.5l-4.4 1.1-6.7-0.4-6.7-2.3-4.4-2.2-11.2-6.9-8.3-6.1-4.5-4.7-2.6-4.6-0.9-4.7 0.2-4.6 1.2-4.7 2.2-4.6 3.3-4.7 4.6-4.6 6.4-4.7 5.1-2.7 6.7-2.4 6.7-1.2 6.7 0 6.6 1.5 5 2.5 5.6 4.6 3.7 4.7 4 7 2.6 6.9 1.7 7 0.3 7-1 4.7-4 6.9-4.5 4.6-6.7 4.6-6.7 3"/>
</g>
<use href="#hL2"/>
<use href="#mL2"/>
</g>
<g transform="translate(814,1348)">
<g clip-path="url(#cL2)">
<g filter="url(#fL2)">
<path d="M-123.4 -127.4H-71V-74.2H-123.4z" fill="#1c1c1c"/>
<path d="M-71.6 -127.4H-53.2V-74.2H-71.6z" fill="#1c1c1c"/>
<path d="M-53.8 -127.4H-35.3V-74.2H-53.8z" fill="#1c1c1c"/>
<path d="M-35.9 -127.4H-17.5V-74.2H-35.9z" fill="#1c1c1c"/>
<path d="M-18.1 -127.4H0.3V-74.2H-18.1z" fill="#1c1c1c"/>
<path d="M-0.3 -127.4H18.1V-74.2H-0.3z" fill="#1c1c1c"/>
<path d="M17.5 -127.4H35.9V-74.2H17.5z" fill="#1c1c1c"/>
<path d="M35.3 -127.4H53.8V-74.2H35.3z" fill="#1c1c1c"/>
<path d="M53.2 -127.4H71.6V-74.2H53.2z" fill="#1c1c1c"/>
<path d="M71 -127.4H123.4V-74.2H71z" fill="#1c1c1c"/>
<path d="M-123.4 -74.8H-71V-55.6H-123.4z" fill="#1b1b1b"/>
<path d="M-71.6 -74.8H-53.2V-55.6H-71.6z" fill="#1a1a1a"/>
<path d="M-53.8 -74.8H-35.3V-55.6H-53.8z" fill="#171717"/>
<path d="M-35.9 -74.8H-17.5V-55.6H-35.9z" fill="#171717"/>
<path d="M-18.1 -74.8H0.3V-55.6H-18.1z" fill="#161616"/>
<path d="M-0.3 -74.8H18.1V-55.6H-0.3z" fill="#161616"/>
<path d="M17.5 -74.8H35.9V-55.6H17.5z" fill="#151515"/>
<path d="M35.3 -74.8H53.8V-55.6H35.3z" fill="#151515"/>
<path d="M53.2 -74.8H71.6V-55.6H53.2z" fill="#191919"/>
<path d="M71 -74.8H123.4V-55.6H71z" fill="#1a1a1a"/>
<path d="M-123.4 -56.2H-71V-36.9H-123.4z" fill="#1e1e1e"/>
<path d="M-71.6 -56.2H-53.2V-36.9H-71.6z" fill="#1d1d1d"/>
<path d="M-53.8 -56.2H-35.3V-36.9H-53.8z" fill="#1b1b1b"/>
<path d="M-35.9 -56.2H-17.5V-36.9H-35.9z" fill="#1c1c1c"/>
<path d="M-18.1 -56.2H0.3V-36.9H-18.1z" fill="#1d1d1d"/>
<path d="M-0.3 -56.2H18.1V-36.9H-0.3z" fill="#1c1c1c"/>
<path d="M17.5 -56.2H35.9V-36.9H17.5z" fill="#191919"/>
<path d="M35.3 -56.2H53.8V-36.9H35.3z" fill="#181818"/>
<path d="M53.2 -56.2H71.6V-36.9H53.2z" fill="#1b1b1b"/>
<path d="M71 -56.2H123.4V-36.9H71z" fill="#1c1c1c"/>
<path d="M-123.4 -37.5H-71V-18.3H-123.4z" fill="#2c2c2c"/>
<path d="M-71.6 -37.5H-53.2V-18.3H-71.6z" fill="#2f2f2f"/>
<path d="M-53.8 -37.5H-35.3V-18.3H-53.8z" fill="#3b3b3b"/>
<path d="M-35.9 -37.5H-17.5V-18.3H-35.9z" fill="#424242"/>
<path d="M-18.1 -37.5H0.3V-18.3H-18.1z" fill="#454545"/>
<path d="M-0.3 -37.5H18.1V-18.3H-0.3z" fill="#464646"/>
<path d="M17.5 -37.5H35.9V-18.3H17.5z" fill="#444444"/>
<path d="M35.3 -37.5H53.8V-18.3H35.3z" fill="#3e3e3e"/>
<path d="M53.2 -37.5H71.6V-18.3H53.2z" fill="#313131"/>
<path d="M71 -37.5H123.4V-18.3H71z" fill="#2e2e2e"/>
<path d="M-123.4 -18.9H-71V0.3H-123.4z" fill="#3f3f3f"/>
<path d="M-71.6 -18.9H-53.2V0.3H-71.6z" fill="#474747"/>
<path d="M-53.8 -18.9H-35.3V0.3H-53.8z" fill="#636363"/>
<path d="M-35.9 -18.9H-17.5V0.3H-35.9z" fill="#707070"/>
<path d="M-18.1 -18.9H0.3V0.3H-18.1z" fill="#757575"/>
<path d="M-0.3 -18.9H18.1V0.3H-0.3z" fill="#797979"/>
<path d="M17.5 -18.9H35.9V0.3H17.5z" fill="#797979"/>
<path d="M35.3 -18.9H53.8V0.3H35.3z" fill="#6e6e6e"/>
<path d="M53.2 -18.9H71.6V0.3H53.2z" fill="#505050"/>
<path d="M71 -18.9H123.4V0.3H71z" fill="#474747"/>
<path d="M-123.4 -0.3H-71V18.9H-123.4z" fill="#555555"/>
<path d="M-71.6 -0.3H-53.2V18.9H-71.6z" fill="#606060"/>
<path d="M-53.8 -0.3H-35.3V18.9H-53.8z" fill="#828282"/>
<path d="M-35.9 -0.3H-17.5V18.9H-35.9z" fill="#909090"/>
<path d="M-18.1 -0.3H0.3V18.9H-18.1z" fill="#949494"/>
<path d="M-0.3 -0.3H18.1V18.9H-0.3z" fill="#999999"/>
<path d="M17.5 -0.3H35.9V18.9H17.5z" fill="#9c9c9c"/>
<path d="M35.3 -0.3H53.8V18.9H35.3z" fill="#919191"/>
<path d="M53.2 -0.3H71.6V18.9H53.2z" fill="#6e6e6e"/>
<path d="M71 -0.3H123.4V18.9H71z" fill="#626262"/>
<path d="M-123.4 18.3H-71V37.5H-123.4z" fill="#6a6a6a"/>
<path d="M-71.6 18.3H-53.2V37.5H-71.6z" fill="#737373"/>
<path d="M-53.8 18.3H-35.3V37.5H-53.8z" fill="#909090"/>
<path d="M-35.9 18.3H-17.5V37.5H-35.9z" fill="#9a9a9a"/>
<path d="M-18.1 18.3H0.3V37.5H-18.1z" fill="#9c9c9c"/>
<path d="M-0.3 18.3H18.1V37.5H-0.3z" fill="#9f9f9f"/>
<path d="M17.5 18.3H35.9V37.5H17.5z" fill="#a3a3a3"/>
<path d="M35.3 18.3H53.8V37.5H35.3z" fill="#9e9e9e"/>
<path d="M53.2 18.3H71.6V37.5H53.2z" fill="#838383"/>
<path d="M71 18.3H123.4V37.5H71z" fill="#797979"/>
<path d="M-123.4 36.9H-71V56.2H-123.4z" fill="#7b7b7b"/>
<path d="M-71.6 36.9H-53.2V56.2H-71.6z" fill="#818181"/>
<path d="M-53.8 36.9H-35.3V56.2H-53.8z" fill="#949494"/>
<path d="M-35.9 36.9H-17.5V56.2H-35.9z" fill="#999999"/>
<path d="M-18.1 36.9H0.3V56.2H-18.1z" fill="#979797"/>
<path d="M-0.3 36.9H18.1V56.2H-0.3z" fill="#989898"/>
<path d="M17.5 36.9H35.9V56.2H17.5z" fill="#9b9b9b"/>
<path d="M35.3 36.9H53.8V56.2H35.3z" fill="#999999"/>
<path d="M53.2 36.9H71.6V56.2H53.2z" fill="#8c8c8c"/>
<path d="M71 36.9H123.4V56.2H71z" fill="#878787"/>
<path d="M-123.4 55.6H-71V74.8H-123.4z" fill="#858585"/>
<path d="M-71.6 55.6H-53.2V74.8H-71.6z" fill="#888888"/>
<path d="M-53.8 55.6H-35.3V74.8H-53.8z" fill="#929292"/>
<path d="M-35.9 55.6H-17.5V74.8H-35.9z" fill="#969696"/>
<path d="M-18.1 55.6H0.3V74.8H-18.1z" fill="#959595"/>
<path d="M-0.3 55.6H18.1V74.8H-0.3z" fill="#939393"/>
<path d="M17.5 55.6H35.9V74.8H17.5z" fill="#909090"/>
<path d="M35.3 55.6H53.8V74.8H35.3z" fill="#8c8c8c"/>
<path d="M53.2 55.6H71.6V74.8H53.2z" fill="#898989"/>
<path d="M71 55.6H123.4V74.8H71z" fill="#888888"/>
<path d="M-123.4 74.2H-71V127.4H-123.4z" fill="#868686"/>
<path d="M-71.6 74.2H-53.2V127.4H-71.6z" fill="#888888"/>
<path d="M-53.8 74.2H-35.3V127.4H-53.8z" fill="#929292"/>
<path d="M-35.9 74.2H-17.5V127.4H-35.9z" fill="#969696"/>
<path d="M-18.1 74.2H0.3V127.4H-18.1z" fill="#969696"/>
<path d="M-0.3 74.2H18.1V127.4H-0.3z" fill="#939393"/>
<path d="M17.5 74.2H35.9V127.4H17.5z" fill="#8e8e8e"/>
<path d="M35.3 74.2H53.8V127.4H35.3z" fill="#898989"/>
<path d="M53.2 74.2H71.6V127.4H53.2z" fill="#868686"/>
<path d="M71 74.2H123.4V127.4H71z" fill="#868686"/>
</g>
<path class="ct" d="M-76.8 -39.2l44.5-4.7 26.7-1.3 22.3 0.9 60.1 5.5M-83.5 -22.9l13.3-2.4 20.1-6.6 8.9-2.1 17.8-2.3 17.8-1 20.1 0.3 22.3 1.9 13.3 2.3 20.1 5.2 13.3 1.8M-85.8 -10l6.7-1 6.7-1.9 6.7-2.8 15.6-7.9 8.9-3 15.6-2.9 20-1.4 24.5 0.2 20.1 2.1 11.1 2.8 22.3 8.2 13.4 2.3M-85.8 1.8l9-1.8 6.6-2.8 6.7-3.9 12.1-8.4 10.2-4.7 6.7-1.9 8.9-1.7 20-1.7 24.5-0.1 11.2 0.9 8.9 1.5 11.1 3.5 15.6 7.9 6.7 2.8 6.7 1.9 6.7 1M-85.8 13.7l9-2.1 6.6-3.2 6.7-4.8 13.4-11.6 8.9-5.1 6.7-2.4 8.8-2 20.1-2.1 13.4-0.5 13.4 0.3 8.9 0.8 8.9 1.7 6.6 2.2 4.5 2.1 13.4 8.7 6.7 3.7 6.6 2.6 9 1.8M-83.5 25.9l8.9-2.8 6.7-4 4.4-3.9 13.4-14.5 5.1-4.2 6-3.5 6.7-2.6 6.7-1.8 8.9-1.4 13.4-1.3 13.3-0.6 11.2 0.2 8.9 0.8 8.9 2.1 6.7 2.7 4.4 2.7 13.4 10.7 6.7 4.4 6.6 3 9 2M-76.8 38.8l6.6-3.5 4.5-3.7 4.4-4.9 13.4-18.3 4.5-4.3 4.4-3.2 6.7-3.3 8.9-2.7 8.9-1.6 13.4-1.4 13.4-0.8 11.1 0.2 8.9 1.3 6.7 2 4.4 2.1 6.5 4.5 13.6 13.6 4.4 3.7 6.7 3.9 8.9 2.8M-67.9 55.7l4.4-5.1 4.5-6.9 12.6-23.9 3.5-4.7 4.6-4.6 7.3-4.7 7.6-2.9 8.9-1.9 15.6-2.2 13.4-1 11.1 0.3 8.9 2 6.7 2.9 4.5 3.2 4.2 4.3 15.8 21.1 4.5 4.1 6.6 4.2M-44.2 78l-0.5-21 1.3-12.4 2.2-8.5 2.2-5.5 2.2-4 4.5-5.5 4.4-3.6 4.5-2.6 5.4-2.1 8.6-2.3 11.1-2.4 12.8-1.7 6.7-0.3 6.6 0.7 4.7 1.3 4.8 2.4 3.9 3 4.5 5.3 3.2 5.6 2.7 7 1.6 7 0.2 7-1.1 3.7-1.7 3.3-4.9 4.6-4.5 2.7-14.2 6.6-6 4.7-1.6 2.3-1.8 4.7-1.3 11.6"/>
</g>
<use href="#hL2"/>
<use href="#mL2"/>
</g>
<g transform="translate(1060.2,1348)">
<g clip-path="url(#cL2)">
<g filter="url(#fL2)">
<path d="M-123.4 -127.4H-71V-74.2H-123.4z" fill="#262626"/>
<path d="M-71.6 -127.4H-53.2V-74.2H-71.6z" fill="#252525"/>
<path d="M-53.8 -127.4H-35.3V-74.2H-53.8z" fill="#242424"/>
<path d="M-35.9 -127.4H-17.5V-74.2H-35.9z" fill="#282828"/>
<path d="M-18.1 -127.4H0.3V-74.2H-18.1z" fill="#2c2c2c"/>
<path d="M-0.3 -127.4H18.1V-74.2H-0.3z" fill="#2c2c2c"/>
<path d="M17.5 -127.4H35.9V-74.2H17.5z" fill="#282828"/>
<path d="M35.3 -127.4H53.8V-74.2H35.3z" fill="#242424"/>
<path d="M53.2 -127.4H71.6V-74.2H53.2z" fill="#252525"/>
<path d="M71 -127.4H123.4V-74.2H71z" fill="#262626"/>
<path d="M-123.4 -74.8H-71V-55.6H-123.4z" fill="#272727"/>
<path d="M-71.6 -74.8H-53.2V-55.6H-71.6z" fill="#262626"/>
<path d="M-53.8 -74.8H-35.3V-55.6H-53.8z" fill="#282828"/>
<path d="M-35.9 -74.8H-17.5V-55.6H-35.9z" fill="#2c2c2c"/>
<path d="M-18.1 -74.8H0.3V-55.6H-18.1z" fill="#303030"/>
<path d="M-0.3 -74.8H18.1V-55.6H-0.3z" fill="#2d2d2d"/>
<path d="M17.5 -74.8H35.9V-55.6H17.5z" fill="#252525"/>
<path d="M35.3 -74.8H53.8V-55.6H35.3z" fill="#1f1f1f"/>
<path d="M53.2 -74.8H71.6V-55.6H53.2z" fill="#232323"/>
<path d="M71 -74.8H123.4V-55.6H71z" fill="#262626"/>
<path d="M-123.4 -56.2H-71V-36.9H-123.4z" fill="#2c2c2c"/>
<path d="M-71.6 -56.2H-53.2V-36.9H-71.6z" fill="#2e2e2e"/>
<path d="M-53.8 -56.2H-35.3V-36.9H-53.8z" fill="#383838"/>
<path d="M-35.9 -56.2H-17.5V-36.9H-35.9z" fill="#414141"/>
<path d="M-18.1 -56.2H0.3V-36.9H-18.1z" fill="#454545"/>
<path d="M-0.3 -56.2H18.1V-36.9H-0.3z" fill="#3f3f3f"/>
<path d="M17.5 -56.2H35.9V-36.9H17.5z" fill="#313131"/>
<path d="M35.3 -56.2H53.8V-36.9H35.3z" fill="#262626"/>
<path d="M53.2 -56.2H71.6V-36.9H53.2z" fill="#272727"/>
<path d="M71 -56.2H123.4V-36.9H71z" fill="#2a2a2a"/>
<path d="M-123.4 -37.5H-71V-18.3H-123.4z" fill="#343434"/>
<path d="M-71.6 -37.5H-53.2V-18.3H-71.6z" fill="#383838"/>
<path d="M-53.8 -37.5H-35.3V-18.3H-53.8z" fill="#484848"/>
<path d="M-35.9 -37.5H-17.5V-18.3H-35.9z" fill="#555555"/>
<path d="M-18.1 -37.5H0.3V-18.3H-18.1z" fill="#5d5d5d"/>
<path d="M-0.3 -37.5H18.1V-18.3H-0.3z" fill="#606060"/>
<path d="M17.5 -37.5H35.9V-18.3H17.5z" fill="#5b5b5b"/>
<path d="M35.3 -37.5H53.8V-18.3H35.3z" fill="#4f4f4f"/>
<path d="M53.2 -37.5H71.6V-18.3H53.2z" fill="#3b3b3b"/>
<path d="M71 -37.5H123.4V-18.3H71z" fill="#363636"/>
<path d="M-123.4 -18.9H-71V0.3H-123.4z" fill="#404040"/>
<path d="M-71.6 -18.9H-53.2V0.3H-71.6z" fill="#444444"/>
<path d="M-53.8 -18.9H-35.3V0.3H-53.8z" fill="#575757"/>
<path d="M-35.9 -18.9H-17.5V0.3H-35.9z" fill="#676767"/>
<path d="M-18.1 -18.9H0.3V0.3H-18.1z" fill="#767676"/>
<path d="M-0.3 -18.9H18.1V0.3H-0.3z" fill="#848484"/>
<path d="M17.5 -18.9H35.9V0.3H17.5z" fill="#8c8c8c"/>
<path d="M35.3 -18.9H53.8V0.3H35.3z" fill="#818181"/>
<path d="M53.2 -18.9H71.6V0.3H53.2z" fill="#575757"/>
<path d="M71 -18.9H123.4V0.3H71z" fill="#494949"/>
<path d="M-123.4 -0.3H-71V18.9H-123.4z" fill="#4d4d4d"/>
<path d="M-71.6 -0.3H-53.2V18.9H-71.6z" fill="#525252"/>
<path d="M-53.8 -0.3H-35.3V18.9H-53.8z" fill="#676767"/>
<path d="M-35.9 -0.3H-17.5V18.9H-35.9z" fill="#797979"/>
<path d="M-18.1 -0.3H0.3V18.9H-18.1z" fill="#8b8b8b"/>
<path d="M-0.3 -0.3H18.1V18.9H-0.3z" fill="#9f9f9f"/>
<path d="M17.5 -0.3H35.9V18.9H17.5z" fill="#adadad"/>
<path d="M35.3 -0.3H53.8V18.9H35.3z" fill="#a3a3a3"/>
<path d="M53.2 -0.3H71.6V18.9H53.2z" fill="#727272"/>
<path d="M71 -0.3H123.4V18.9H71z" fill="#616161"/>
<path d="M-123.4 18.3H-71V37.5H-123.4z" fill="#5b5b5b"/>
<path d="M-71.6 18.3H-53.2V37.5H-71.6z" fill="#606060"/>
<path d="M-53.8 18.3H-35.3V37.5H-53.8z" fill="#757575"/>
<path d="M-35.9 18.3H-17.5V37.5H-35.9z" fill="#898989"/>
<path d="M-18.1 18.3H0.3V37.5H-18.1z" fill="#9b9b9b"/>
<path d="M-0.3 18.3H18.1V37.5H-0.3z" fill="#acacac"/>
<path d="M17.5 18.3H35.9V37.5H17.5z" fill="#b6b6b6"/>
<path d="M35.3 18.3H53.8V37.5H35.3z" fill="#aeaeae"/>
<path d="M53.2 18.3H71.6V37.5H53.2z" fill="#868686"/>
<path d="M71 18.3H123.4V37.5H71z" fill="#797979"/>
<path d="M-123.4 36.9H-71V56.2H-123.4z" fill="#666666"/>
<path d="M-71.6 36.9H-53.2V56.2H-71.6z" fill="#6a6a6a"/>
<path d="M-53.8 36.9H-35.3V56.2H-53.8z" fill="#7d7d7d"/>
<path d="M-35.9 36.9H-17.5V56.2H-35.9z" fill="#909090"/>
<path d="M-18.1 36.9H0.3V56.2H-18.1z" fill="#9f9f9f"/>
<path d="M-0.3 36.9H18.1V56.2H-0.3z" fill="#ababab"/>
<path d="M17.5 36.9H35.9V56.2H17.5z" fill="#afafaf"/>
<path d="M35.3 36.9H53.8V56.2H35.3z" fill="#a8a8a8"/>
<path d="M53.2 36.9H71.6V56.2H53.2z" fill="#909090"/>
<path d="M71 36.9H123.4V56.2H71z" fill="#888888"/>
<path d="M-123.4 55.6H-71V74.8H-123.4z" fill="#6a6a6a"/>
<path d="M-71.6 55.6H-53.2V74.8H-71.6z" fill="#6d6d6d"/>
<path d="M-53.8 55.6H-35.3V74.8H-53.8z" fill="#7a7a7a"/>
<path d="M-35.9 55.6H-17.5V74.8H-35.9z" fill="#888888"/>
<path d="M-18.1 55.6H0.3V74.8H-18.1z" fill="#949494"/>
<path d="M-0.3 55.6H18.1V74.8H-0.3z" fill="#9d9d9d"/>
<path d="M17.5 55.6H35.9V74.8H17.5z" fill="#9f9f9f"/>
<path d="M35.3 55.6H53.8V74.8H35.3z" fill="#9a9a9a"/>
<path d="M53.2 55.6H71.6V74.8H53.2z" fill="#8c8c8c"/>
<path d="M71 55.6H123.4V74.8H71z" fill="#888888"/>
<path d="M-123.4 74.2H-71V127.4H-123.4z" fill="#6a6a6a"/>
<path d="M-71.6 74.2H-53.2V127.4H-71.6z" fill="#6c6c6c"/>
<path d="M-53.8 74.2H-35.3V127.4H-53.8z" fill="#777777"/>
<path d="M-35.9 74.2H-17.5V127.4H-35.9z" fill="#848484"/>
<path d="M-18.1 74.2H0.3V127.4H-18.1z" fill="#909090"/>
<path d="M-0.3 74.2H18.1V127.4H-0.3z" fill="#989898"/>
<path d="M17.5 74.2H35.9V127.4H17.5z" fill="#9c9c9c"/>
<path d="M35.3 74.2H53.8V127.4H35.3z" fill="#979797"/>
<path d="M53.2 74.2H71.6V127.4H53.2z" fill="#8a8a8a"/>
<path d="M71 74.2H123.4V127.4H71z" fill="#868686"/>
</g>
<path class="ct" d="M-79.1 -37.5l6.7-1.9 4.5-1.9 17.8-11.4 15.6-7.3 15.6-5.2 6.6-1.4 4.5-0.3 6.7 0.9 6.7 2.4 23.8 13.6 11.2 4.6 22.9 5.9 15.6 2.2M-85.8 -11.5l9-1.6 8.9-3.8 6.6-5 15.6-15.3 11.2-7.4 11.1-4.4 11.1-1.9 9 0.4 11.1 2.6 40.1 13.2 24.5 10.8 11.1 3M-85.8 8.4l11.2-2.3 4.4-1.9 4.5-2.7 6.7-5.9 15.7-17.7 5-4.7 6.2-4.6 4.3-2.6 6.6-2.9 11.2-2.5 8.9 0 11.1 1.4 17.8 4 13.4 3.9 11.1 4.8 15.6 10.2 6.7 3.7 4.5 1.9 6.7 1.6M-81.3 27.4l8.9-2.8 4.5-2.5 4.4-3.5 4.5-4.6 18.1-22.1 6.4-6.5 6.3-5.2 4.8-3.2 6.7-3.3 11.1-3.2 11.2-0.7 11.1 0.8 13.4 2.2 11.1 3.2 6.7 3 4.4 2.8 20.1 16.4 6.7 3.5 6.7 1.8M-70.2 50.7l6.7-8.5 17.8-27.6 6.7-8.7 6.3-7.1 7.5-6.9 8.5-6.3 6.7-3.5 8.9-3 11.1-1.6 11.2 0.1 11.1 1.6 8.9 2.8 5.7 2.9 5.4 4.1 13.4 14.2 6.7 5.9 6.7 3.8 6.7 1.9M-46.8 75.6l-2.2-16.3 0-9.3 2-9.3 5-11.6 4.1-7 5-7 10.3-11.6 11.1-9.3 5.9-3.7 6.7-3.1 8.9-2.5 11.2-1 11.1 1.2 8.9 3 6.1 3.8 4.8 4.6 13.6 18 4.5 4.7 4.4 3.5 6.7 3.3M-25.1 87.3l-2.2-11.7-5-16.3-1.6-6.9-0.2-7 1.4-7 2.6-6.8 2.6-4.8 4.7-7 5.6-7 6.8-7 4.8-4.1 6.7-4.6 4.5-2.4 8.9-3 6.7-1.1 4.4-0.1 8.9 1.5 4.5 1.6 4.4 2.6 4.5 4 4.4 5.6 11.2 19.9 4.4 6.7 4.5 5.1 4.4 3.6M-1.5 89.6l-1.4-7-2.5-7-10.2-18.6-2.1-4.6-1.3-7 0.8-7 1.4-4.7 3.3-6.9 4.6-7 5.8-7 8.7-7.8 6.6-3.8 4.5-1.8 6.7-1.4 4.4 0 4.5 0.6 4.5 1.6 4.4 2.5 3.4 3.1 3.3 4.3 2.7 5 5.3 14 2.3 9.3 0.9 7-0.8 9.3-6 17.5M27.8 61.9l-4.4 0.3-4.5-0.6-6.6-2.4-4.5-2.6-4.5-3.9-2.2-2.8-2.2-4.5-0.8-4.7 0.4-4.6 2-7 2.8-5.5 4.5-6.1 4.5-4.3 4.4-3.1 4.5-2 6.6-1 4.5 0.8 4.5 2.1 5.1 5.1 2.5 4.7 1.8 4.6 1.4 7 0.2 4.7-1.3 9.3-3.6 7-6.1 5.7-4.5 2.4-4.5 1.4"/>
</g>
<use href="#hL2"/>
<use href="#mL2"/>
</g>
<g transform="translate(321.3,1632)">
<g clip-path="url(#cL2)">
<g filter="url(#fL2)">
<path d="M-123.4 -127.4H-71V-74.2H-123.4z" fill="#404040"/>
<path d="M-71.6 -127.4H-53.2V-74.2H-71.6z" fill="#404040"/>
<path d="M-53.8 -127.4H-35.3V-74.2H-53.8z" fill="#464646"/>
<path d="M-35.9 -127.4H-17.5V-74.2H-35.9z" fill="#4d4d4d"/>
<path d="M-18.1 -127.4H0.3V-74.2H-18.1z" fill="#515151"/>
<path d="M-0.3 -127.4H18.1V-74.2H-0.3z" fill="#4f4f4f"/>
<path d="M17.5 -127.4H35.9V-74.2H17.5z" fill="#494949"/>
<path d="M35.3 -127.4H53.8V-74.2H35.3z" fill="#424242"/>
<path d="M53.2 -127.4H71.6V-74.2H53.2z" fill="#3f3f3f"/>
<path d="M71 -127.4H123.4V-74.2H71z" fill="#404040"/>
<path d="M-123.4 -74.8H-71V-55.6H-123.4z" fill="#3e3e3e"/>
<path d="M-71.6 -74.8H-53.2V-55.6H-71.6z" fill="#3f3f3f"/>
<path d="M-53.8 -74.8H-35.3V-55.6H-53.8z" fill="#464646"/>
<path d="M-35.9 -74.8H-17.5V-55.6H-35.9z" fill="#505050"/>
<path d="M-18.1 -74.8H0.3V-55.6H-18.1z" fill="#575757"/>
<path d="M-0.3 -74.8H18.1V-55.6H-0.3z" fill="#555555"/>
<path d="M17.5 -74.8H35.9V-55.6H17.5z" fill="#4a4a4a"/>
<path d="M35.3 -74.8H53.8V-55.6H35.3z" fill="#3e3e3e"/>
<path d="M53.2 -74.8H71.6V-55.6H53.2z" fill="#3c3c3c"/>
<path d="M71 -74.8H123.4V-55.6H71z" fill="#3d3d3d"/>
<path d="M-123.4 -56.2H-71V-36.9H-123.4z" fill="#414141"/>
<path d="M-71.6 -56.2H-53.2V-36.9H-71.6z" fill="#434343"/>
<path d="M-53.8 -56.2H-35.3V-36.9H-53.8z" fill="#535353"/>
<path d="M-35.9 -56.2H-17.5V-36.9H-35.9z" fill="#696969"/>
<path d="M-18.1 -56.2H0.3V-36.9H-18.1z" fill="#777777"/>
<path d="M-0.3 -56.2H18.1V-36.9H-0.3z" fill="#727272"/>
<path d="M17.5 -56.2H35.9V-36.9H17.5z" fill="#5d5d5d"/>
<path d="M35.3 -56.2H53.8V-36.9H35.3z" fill="#454545"/>
<path d="M53.2 -56.2H71.6V-36.9H53.2z" fill="#393939"/>
<path d="M71 -56.2H123.4V-36.9H71z" fill="#393939"/>
<path d="M-123.4 -37.5H-71V-18.3H-123.4z" fill="#515151"/>
<path d="M-71.6 -37.5H-53.2V-18.3H-71.6z" fill="#575757"/>
<path d="M-53.8 -37.5H-35.3V-18.3H-53.8z" fill="#727272"/>
<path d="M-35.9 -37.5H-17.5V-18.3H-35.9z" fill="#878787"/>
<path d="M-18.1 -37.5H0.3V-18.3H-18.1z" fill="#939393"/>
<path d="M-0.3 -37.5H18.1V-18.3H-0.3z" fill="#919191"/>
<path d="M17.5 -37.5H35.9V-18.3H17.5z" fill="#818181"/>
<path d="M35.3 -37.5H53.8V-18.3H35.3z" fill="#686868"/>
<path d="M53.2 -37.5H71.6V-18.3H53.2z" fill="#4b4b4b"/>
<path d="M71 -37.5H123.4V-18.3H71z" fill="#464646"/>
<path d="M-123.4 -18.9H-71V0.3H-123.4z" fill="#6b6b6b"/>
<path d="M-71.6 -18.9H-53.2V0.3H-71.6z" fill="#747474"/>
<path d="M-53.8 -18.9H-35.3V0.3H-53.8z" fill="#969696"/>
<path d="M-35.9 -18.9H-17.5V0.3H-35.9z" fill="#a8a8a8"/>
<path d="M-18.1 -18.9H0.3V0.3H-18.1z" fill="#aeaeae"/>
<path d="M-0.3 -18.9H18.1V0.3H-0.3z" fill="#afafaf"/>
<path d="M17.5 -18.9H35.9V0.3H17.5z" fill="#a9a9a9"/>
<path d="M35.3 -18.9H53.8V0.3H35.3z" fill="#959595"/>
<path d="M53.2 -18.9H71.6V0.3H53.2z" fill="#6b6b6b"/>
<path d="M71 -18.9H123.4V0.3H71z" fill="#5f5f5f"/>
<path d="M-123.4 -0.3H-71V18.9H-123.4z" fill="#888888"/>
<path d="M-71.6 -0.3H-53.2V18.9H-71.6z" fill="#939393"/>
<path d="M-53.8 -0.3H-35.3V18.9H-53.8z" fill="#b5b5b5"/>
<path d="M-35.9 -0.3H-17.5V18.9H-35.9z" fill="#c4c4c4"/>
<path d="M-18.1 -0.3H0.3V18.9H-18.1z" fill="#c9c9c9"/>
<path d="M-0.3 -0.3H18.1V18.9H-0.3z" fill="#cdcdcd"/>
<path d="M17.5 -0.3H35.9V18.9H17.5z" fill="#cecece"/>
<path d="M35.3 -0.3H53.8V18.9H35.3z" fill="#bdbdbd"/>
<path d="M53.2 -0.3H71.6V18.9H53.2z" fill="#8f8f8f"/>
<path d="M71 -0.3H123.4V18.9H71z" fill="#808080"/>
<path d="M-123.4 18.3H-71V37.5H-123.4z" fill="#a7a7a7"/>
<path d="M-71.6 18.3H-53.2V37.5H-71.6z" fill="#aeaeae"/>
<path d="M-53.8 18.3H-35.3V37.5H-53.8z" fill="#cbcbcb"/>
<path d="M-35.9 18.3H-17.5V37.5H-35.9z" fill="#d9d9d9"/>
<path d="M-18.1 18.3H0.3V37.5H-18.1z" fill="#e1e1e1"/>
<path d="M-0.3 18.3H18.1V37.5H-0.3z" fill="#e6e6e6"/>
<path d="M17.5 18.3H35.9V37.5H17.5z" fill="#e7e7e7"/>
<path d="M35.3 18.3H53.8V37.5H35.3z" fill="#d9d9d9"/>
<path d="M53.2 18.3H71.6V37.5H53.2z" fill="#b1b1b1"/>
<path d="M71 18.3H123.4V37.5H71z" fill="#a4a4a4"/>
<path d="M-123.4 36.9H-71V56.2H-123.4z" fill="#c1c1c1"/>
<path d="M-71.6 36.9H-53.2V56.2H-71.6z" fill="#c6c6c6"/>
<path d="M-53.8 36.9H-35.3V56.2H-53.8z" fill="#dadada"/>
<path d="M-35.9 36.9H-17.5V56.2H-35.9z" fill="#e7e7e7"/>
<path d="M-18.1 36.9H0.3V56.2H-18.1z" fill="#efefef"/>
<path d="M-0.3 36.9H18.1V56.2H-0.3z" fill="#f3f3f3"/>
<path d="M17.5 36.9H35.9V56.2H17.5z" fill="#f2f2f2"/>
<path d="M35.3 36.9H53.8V56.2H35.3z" fill="#e7e7e7"/>
<path d="M53.2 36.9H71.6V56.2H53.2z" fill="#cbcbcb"/>
<path d="M71 36.9H123.4V56.2H71z" fill="#c3c3c3"/>
<path d="M-123.4 55.6H-71V74.8H-123.4z" fill="#d2d2d2"/>
<path d="M-71.6 55.6H-53.2V74.8H-71.6z" fill="#d6d6d6"/>
<path d="M-53.8 55.6H-35.3V74.8H-53.8z" fill="#e4e4e4"/>
<path d="M-35.9 55.6H-17.5V74.8H-35.9z" fill="#ebebeb"/>
<path d="M-18.1 55.6H0.3V74.8H-18.1z" fill="#ededed"/>
<path d="M-0.3 55.6H18.1V74.8H-0.3z" fill="#eeeeee"/>
<path d="M17.5 55.6H35.9V74.8H17.5z" fill="#eeeeee"/>
<path d="M35.3 55.6H53.8V74.8H35.3z" fill="#e8e8e8"/>
<path d="M53.2 55.6H71.6V74.8H53.2z" fill="#d8d8d8"/>
<path d="M71 55.6H123.4V74.8H71z" fill="#d4d4d4"/>
<path d="M-123.4 74.2H-71V127.4H-123.4z" fill="#d5d5d5"/>
<path d="M-71.6 74.2H-53.2V127.4H-71.6z" fill="#d9d9d9"/>
<path d="M-53.8 74.2H-35.3V127.4H-53.8z" fill="#e6e6e6"/>
<path d="M-35.9 74.2H-17.5V127.4H-35.9z" fill="#eaeaea"/>
<path d="M-18.1 74.2H0.3V127.4H-18.1z" fill="#eaeaea"/>
<path d="M-0.3 74.2H18.1V127.4H-0.3z" fill="#eaeaea"/>
<path d="M17.5 74.2H35.9V127.4H17.5z" fill="#eaeaea"/>
<path d="M35.3 74.2H53.8V127.4H35.3z" fill="#e6e6e6"/>
<path d="M53.2 74.2H71.6V127.4H53.2z" fill="#d9d9d9"/>
<path d="M71 74.2H123.4V127.4H71z" fill="#d4d4d4"/>
</g>
<path class="ct" d="M-81.3 -33.1l6.7-1.3 6.7-2.3 6.6-3.8 6.2-4.9 16.5-16.3 8.6-9.3 6.8-9.3 3.5-7M9.5 -89.6l4.1 9.3 6.3 9.3 16.4 18.6 7.1 7 14.5 11.7 7.8 5.2 8.9 3.8 8.9 1.9M-83.5 -17.8l11.1-2.4 8.9-4.2 31.2-24.4 8.9-5.7 6.7-3 4.4-1.3 9-0.9 8.9 1.4 8.9 3.8 8.9 5.9 42.3 32.1 8.9 4.3 11.2 2.5M-85.8 -5.1l11.2-2.1 8.9-4 6.7-4.6 20-16 15.6-10.1 11.1-4.5 9-1.1 8.9 1.4 8.9 3.7 13.3 7.9 15.6 10.4 17.9 14.7 6.6 4.6 8.9 3.9 9 1.8M-85.8 6.2l11.2-2.1 8.9-4 6.7-4.8 15.6-13.5 8.9-6.1 8.9-5.2 11.1-4.9 6.7-1.5 4.5-0.3 6.6 0.7 6.7 1.9 15.6 7.2 11.2 6.2 7.6 5.1 16.9 15.1 6.6 4.9 8.9 4 9 1.8M-83.5 17.2l8.9-1.8 8.9-3.9 6.7-5.1 15.6-14.3 6.6-4.7 9-5.1 8.9-3.8 6.6-2.1 4.5-0.8 6.7-0.4 6.7 0.8 6.7 1.6 11.1 3.9 8.9 4.1 6.7 3.8 6.7 4.8 15.6 15.3 4.4 3.6 8.9 4.7 8.9 2.1M-81.3 28.6l8.9-2.1 8.9-4.5 6.7-5.6 13.4-13.4 6.6-4.9 6.7-3.8 6.7-3 8.9-2.8 6.7-1.3 8.9-0.6 8.9 0.8 8.9 1.8 8.9 2.9 6.7 3.1 6.7 4.2 4.5 3.6 13.3 14.3 6.7 5.8 6.7 3.7 8.9 2.7M-76.8 40.9l8.9-2.9 6.6-4 4.5-4 15.6-16.3 4.4-3.6 6.7-4.1 6.7-2.9 8.9-2.6 9-1.7 11.1-0.8 8.9 0.5 8.9 1.5 6.7 2.2 6.7 3.4 4.4 3.1 4.5 4.1 13.3 15.6 4.5 4.3 6.7 4.4 6.6 2.6M-67.9 54.7l4.4-2.5 4.5-3.4 20-21.8 5.8-4.9 5.4-3.4 8-3.6 9.8-2.7 11.1-2 11.2-0.8 6.6 0.2 6.7 1.3 4.9 1.7 6.3 3.5 4.4 3.6 4.5 4.7 15.6 20.4 4.4 4.1 4.8 3.3M-52.8 71l4.9-9.3 6.7-9.3 7.7-9.3 7.9-7.4 6.8-4.3 11-4.5 11.1-2.8 11.2-1.3 6.7 0.4 6.6 1.8 6.7 3.9 4.5 4.3 4.4 5.8 4.8 8.7 4.6 11.6 2.6 9.4"/>
</g>
<use href="#hL2"/>
<use href="#nL2"/>
</g>
<g transform="translate(567,1632)">
<g clip-path="url(#cL2)">
<g filter="url(#fL2)">
<path d="M-123.4 -127.4H-71V-74.2H-123.4z" fill="#2b2b2b"/>
<path d="M-71.6 -127.4H-53.2V-74.2H-71.6z" fill="#2b2b2b"/>
<path d="M-53.8 -127.4H-35.3V-74.2H-53.8z" fill="#313131"/>
<path d="M-35.9 -127.4H-17.5V-74.2H-35.9z" fill="#373737"/>
<path d="M-18.1 -127.4H0.3V-74.2H-18.1z" fill="#3b3b3b"/>
<path d="M-0.3 -127.4H18.1V-74.2H-0.3z" fill="#3a3a3a"/>
<path d="M17.5 -127.4H35.9V-74.2H17.5z" fill="#333333"/>
<path d="M35.3 -127.4H53.8V-74.2H35.3z" fill="#2d2d2d"/>
<path d="M53.2 -127.4H71.6V-74.2H53.2z" fill="#2a2a2a"/>
<path d="M71 -127.4H123.4V-74.2H71z" fill="#2a2a2a"/>
<path d="M-123.4 -74.8H-71V-55.6H-123.4z" fill="#262626"/>
<path d="M-71.6 -74.8H-53.2V-55.6H-71.6z" fill="#272727"/>
<path d="M-53.8 -74.8H-35.3V-55.6H-53.8z" fill="#2e2e2e"/>
<path d="M-35.9 -74.8H-17.5V-55.6H-35.9z" fill="#383838"/>
<path d="M-18.1 -74.8H0.3V-55.6H-18.1z" fill="#3f3f3f"/>
<path d="M-0.3 -74.8H18.1V-55.6H-0.3z" fill="#3d3d3d"/>
<path d="M17.5 -74.8H35.9V-55.6H17.5z" fill="#333333"/>
<path d="M35.3 -74.8H53.8V-55.6H35.3z" fill="#292929"/>
<path d="M53.2 -74.8H71.6V-55.6H53.2z" fill="#262626"/>
<path d="M71 -74.8H123.4V-55.6H71z" fill="#272727"/>
<path d="M-123.4 -56.2H-71V-36.9H-123.4z" fill="#252525"/>
<path d="M-71.6 -56.2H-53.2V-36.9H-71.6z" fill="#272727"/>
<path d="M-53.8 -56.2H-35.3V-36.9H-53.8z" fill="#3a3a3a"/>
<path d="M-35.9 -56.2H-17.5V-36.9H-35.9z" fill="#4e4e4e"/>
<path d="M-18.1 -56.2H0.3V-36.9H-18.1z" fill="#5b5b5b"/>
<path d="M-0.3 -56.2H18.1V-36.9H-0.3z" fill="#585858"/>
<path d="M17.5 -56.2H35.9V-36.9H17.5z" fill="#474747"/>
<path d="M35.3 -56.2H53.8V-36.9H35.3z" fill="#333333"/>
<path d="M53.2 -56.2H71.6V-36.9H53.2z" fill="#272727"/>
<path d="M71 -56.2H123.4V-36.9H71z" fill="#262626"/>
<path d="M-123.4 -37.5H-71V-18.3H-123.4z" fill="#3b3b3b"/>
<path d="M-71.6 -37.5H-53.2V-18.3H-71.6z" fill="#414141"/>
<path d="M-53.8 -37.5H-35.3V-18.3H-53.8z" fill="#606060"/>
<path d="M-35.9 -37.5H-17.5V-18.3H-35.9z" fill="#767676"/>
<path d="M-18.1 -37.5H0.3V-18.3H-18.1z" fill="#828282"/>
<path d="M-0.3 -37.5H18.1V-18.3H-0.3z" fill="#818181"/>
<path d="M17.5 -37.5H35.9V-18.3H17.5z" fill="#747474"/>
<path d="M35.3 -37.5H53.8V-18.3H35.3z" fill="#5e5e5e"/>
<path d="M53.2 -37.5H71.6V-18.3H53.2z" fill="#404040"/>
<path d="M71 -37.5H123.4V-18.3H71z" fill="#3a3a3a"/>
<path d="M-123.4 -18.9H-71V0.3H-123.4z" fill="#5c5c5c"/>
<path d="M-71.6 -18.9H-53.2V0.3H-71.6z" fill="#676767"/>
<path d="M-53.8 -18.9H-35.3V0.3H-53.8z" fill="#8d8d8d"/>
<path d="M-35.9 -18.9H-17.5V0.3H-35.9z" fill="#a1a1a1"/>
<path d="M-18.1 -18.9H0.3V0.3H-18.1z" fill="#a9a9a9"/>
<path d="M-0.3 -18.9H18.1V0.3H-0.3z" fill="#adadad"/>
<path d="M17.5 -18.9H35.9V0.3H17.5z" fill="#a9a9a9"/>
<path d="M35.3 -18.9H53.8V0.3H35.3z" fill="#959595"/>
<path d="M53.2 -18.9H71.6V0.3H53.2z" fill="#686868"/>
<path d="M71 -18.9H123.4V0.3H71z" fill="#5b5b5b"/>
<path d="M-123.4 -0.3H-71V18.9H-123.4z" fill="#808080"/>
<path d="M-71.6 -0.3H-53.2V18.9H-71.6z" fill="#8a8a8a"/>
<path d="M-53.8 -0.3H-35.3V18.9H-53.8z" fill="#afafaf"/>
<path d="M-35.9 -0.3H-17.5V18.9H-35.9z" fill="#c1c1c1"/>
<path d="M-18.1 -0.3H0.3V18.9H-18.1z" fill="#c9c9c9"/>
<path d="M-0.3 -0.3H18.1V18.9H-0.3z" fill="#d0d0d0"/>
<path d="M17.5 -0.3H35.9V18.9H17.5z" fill="#d4d4d4"/>
<path d="M35.3 -0.3H53.8V18.9H35.3z" fill="#c4c4c4"/>
<path d="M53.2 -0.3H71.6V18.9H53.2z" fill="#939393"/>
<path d="M71 -0.3H123.4V18.9H71z" fill="#838383"/>
<path d="M-123.4 18.3H-71V37.5H-123.4z" fill="#9d9d9d"/>
<path d="M-71.6 18.3H-53.2V37.5H-71.6z" fill="#a5a5a5"/>
<path d="M-53.8 18.3H-35.3V37.5H-53.8z" fill="#c1c1c1"/>
<path d="M-35.9 18.3H-17.5V37.5H-35.9z" fill="#d2d2d2"/>
<path d="M-18.1 18.3H0.3V37.5H-18.1z" fill="#dcdcdc"/>
<path d="M-0.3 18.3H18.1V37.5H-0.3z" fill="#e6e6e6"/>
<path d="M17.5 18.3H35.9V37.5H17.5z" fill="#ececec"/>
<path d="M35.3 18.3H53.8V37.5H35.3z" fill="#e1e1e1"/>
<path d="M53.2 18.3H71.6V37.5H53.2z" fill="#b8b8b8"/>
<path d="M71 18.3H123.4V37.5H71z" fill="#ababab"/>
<path d="M-123.4 36.9H-71V56.2H-123.4z" fill="#b3b3b3"/>
<path d="M-71.6 36.9H-53.2V56.2H-71.6z" fill="#b8b8b8"/>
<path d="M-53.8 36.9H-35.3V56.2H-53.8z" fill="#cbcbcb"/>
<path d="M-35.9 36.9H-17.5V56.2H-35.9z" fill="#dadada"/>
<path d="M-18.1 36.9H0.3V56.2H-18.1z" fill="#e5e5e5"/>
<path d="M-0.3 36.9H18.1V56.2H-0.3z" fill="#efefef"/>
<path d="M17.5 36.9H35.9V56.2H17.5z" fill="#f5f5f5"/>
<path d="M35.3 36.9H53.8V56.2H35.3z" fill="#eeeeee"/>
<path d="M53.2 36.9H71.6V56.2H53.2z" fill="#d2d2d2"/>
<path d="M71 36.9H123.4V56.2H71z" fill="#c9c9c9"/>
<path d="M-123.4 55.6H-71V74.8H-123.4z" fill="#bebebe"/>
<path d="M-71.6 55.6H-53.2V74.8H-71.6z" fill="#c4c4c4"/>
<path d="M-53.8 55.6H-35.3V74.8H-53.8z" fill="#d6d6d6"/>
<path d="M-35.9 55.6H-17.5V74.8H-35.9z" fill="#dfdfdf"/>
<path d="M-18.1 55.6H0.3V74.8H-18.1z" fill="#e5e5e5"/>
<path d="M-0.3 55.6H18.1V74.8H-0.3z" fill="#ebebeb"/>
<path d="M17.5 55.6H35.9V74.8H17.5z" fill="#f0f0f0"/>
<path d="M35.3 55.6H53.8V74.8H35.3z" fill="#ededed"/>
<path d="M53.2 55.6H71.6V74.8H53.2z" fill="#dbdbdb"/>
<path d="M71 55.6H123.4V74.8H71z" fill="#d5d5d5"/>
<path d="M-123.4 74.2H-71V127.4H-123.4z" fill="#bfbfbf"/>
<path d="M-71.6 74.2H-53.2V127.4H-71.6z" fill="#c5c5c5"/>
<path d="M-53.8 74.2H-35.3V127.4H-53.8z" fill="#d9d9d9"/>
<path d="M-35.9 74.2H-17.5V127.4H-35.9z" fill="#e1e1e1"/>
<path d="M-18.1 74.2H0.3V127.4H-18.1z" fill="#e4e4e4"/>
<path d="M-0.3 74.2H18.1V127.4H-0.3z" fill="#e8e8e8"/>
<path d="M17.5 74.2H35.9V127.4H17.5z" fill="#ededed"/>
<path d="M35.3 74.2H53.8V127.4H35.3z" fill="#ececec"/>
<path d="M53.2 74.2H71.6V127.4H53.2z" fill="#dbdbdb"/>
<path d="M71 74.2H123.4V127.4H71z" fill="#d4d4d4"/>
</g>
<path class="ct" d="M-81.3 -28.7l11.1-2.5 8.9-4.2 10.6-7.7 20.6-17.4 13.4-9.8 6.7-3.8 2.2-0.7 4.5-0.4 4.4 1 8.9 4.7 29.7 21.8 19.3 11.9 11.2 5 11.1 2.5M-85.8 -16.3l9-1.2 8.9-2.7 6.6-3.5 20.1-13.8 15.6-9.2 11.1-4.6 6.7-1.4 4.5-0.3 8.9 0.9 8.9 2.8 28.9 14.6 22.3 13.5 8.9 3.4 11.2 2M-85.8 -5.4l11.2-1.9 8.9-3.5 24.5-16.9 15.6-8.2 11.1-4 11.2-1.6 6.6 0.3 6.7 1.2 15.6 5.3 17.8 8.5 24.5 15.8 8.9 3.3 9 1.6M-85.8 5.5l11.2-2 8.9-3.8 6.7-4.6 15.6-12.3 6.6-4 9-4.4 13.3-4.6 6.7-1.2 6.7-0.4 6.7 0.3 8.9 1.7 17.8 5.8 13.4 6.7 15.6 11.8 6.6 4.3 8.9 3.5 9 1.7M-83.5 17.2l8.9-1.9 8.9-4.1 6.7-5.1 13.3-12.2 6.7-4.8 6.7-3.7 6.7-2.8 8.9-2.9 8.9-1.8 6.7-0.5 8.9 0.3 8.9 1.3 8.9 2.2 8.9 3.1 11.2 6 15.6 13 6.6 4.6 8.9 3.8 9 1.7M-81.3 30.8l8.9-2.4 4.5-2 4.4-3 4.5-3.9 14.9-16 5.1-4.1 6.7-4.1 6.7-3.1 8.9-2.9 8.9-1.9 8.9-0.9 8.9 0.1 8.9 0.9 8.9 2 6.7 2.4 6.7 3.4 4.5 3 15.6 14.4 4.4 3.4 8.9 4.6 8.9 2.1M-73.5 47.7l5.6-2.7 6.6-5 4.5-4.9 13.4-17.9 4.4-4.7 6.7-5.3 6.7-3.8 8.9-3.3 8.9-2.2 11.1-1.6 9-0.4 8.9 0.6 8.9 2 6.7 2.7 8.9 5.9 13.3 13.9 6.7 5.8 6.7 3.9 6.7 2.3M-57.2 66.3l4.7-9.3 13.5-22.4 4.5-6.4 5.5-6.1 6.1-4.6 9.2-4.7 10.4-3.5 11.1-2.4 8.9-0.8 6.7 0.3 6.7 1.5 6.7 2.9 4.4 2.9 4.5 4 13.3 16.1 4.5 4.6 4.4 3.6 6.7 3.8M-34.7 82.6l2-9.3 2.6-7.3 9-18.3 5.8-9.3 6.4-7 6.3-4.6 8.2-4.3 8.9-2.8 6.7-0.8 7.2 0.9 6.1 2.5 6.7 5.1 5.3 6.3 5.7 9.4 5.6 11.6 3.5 9.8"/>
</g>
<use href="#hL2"/>
<use href="#nL2"/>
</g>
<g transform="translate(814,1632)">
<g clip-path="url(#cL2)">
<g filter="url(#fL2)">
<path d="M-123.4 -127.4H-71V-74.2H-123.4z" fill="#4a4a4a"/>
<path d="M-71.6 -127.4H-53.2V-74.2H-71.6z" fill="#494949"/>
<path d="M-53.8 -127.4H-35.3V-74.2H-53.8z" fill="#484848"/>
<path d="M-35.9 -127.4H-17.5V-74.2H-35.9z" fill="#4c4c4c"/>
<path d="M-18.1 -127.4H0.3V-74.2H-18.1z" fill="#505050"/>
<path d="M-0.3 -127.4H18.1V-74.2H-0.3z" fill="#505050"/>
<path d="M17.5 -127.4H35.9V-74.2H17.5z" fill="#4c4c4c"/>
<path d="M35.3 -127.4H53.8V-74.2H35.3z" fill="#474747"/>
<path d="M53.2 -127.4H71.6V-74.2H53.2z" fill="#464646"/>
<path d="M71 -127.4H123.4V-74.2H71z" fill="#464646"/>
<path d="M-123.4 -74.8H-71V-55.6H-123.4z" fill="#4a4a4a"/>
<path d="M-71.6 -74.8H-53.2V-55.6H-71.6z" fill="#494949"/>
<path d="M-53.8 -74.8H-35.3V-55.6H-53.8z" fill="#4a4a4a"/>
<path d="M-35.9 -74.8H-17.5V-55.6H-35.9z" fill="#505050"/>
<path d="M-18.1 -74.8H0.3V-55.6H-18.1z" fill="#555555"/>
<path d="M-0.3 -74.8H18.1V-55.6H-0.3z" fill="#545454"/>
<path d="M17.5 -74.8H35.9V-55.6H17.5z" fill="#4d4d4d"/>
<path d="M35.3 -74.8H53.8V-55.6H35.3z" fill="#454545"/>
<path d="M53.2 -74.8H71.6V-55.6H53.2z" fill="#434343"/>
<path d="M71 -74.8H123.4V-55.6H71z" fill="#444444"/>
<path d="M-123.4 -56.2H-71V-36.9H-123.4z" fill="#4e4e4e"/>
<path d="M-71.6 -56.2H-53.2V-36.9H-71.6z" fill="#505050"/>
<path d="M-53.8 -56.2H-35.3V-36.9H-53.8z" fill="#5d5d5d"/>
<path d="M-35.9 -56.2H-17.5V-36.9H-35.9z" fill="#6b6b6b"/>
<path d="M-18.1 -56.2H0.3V-36.9H-18.1z" fill="#747474"/>
<path d="M-0.3 -56.2H18.1V-36.9H-0.3z" fill="#717171"/>
<path d="M17.5 -56.2H35.9V-36.9H17.5z" fill="#636363"/>
<path d="M35.3 -56.2H53.8V-36.9H35.3z" fill="#515151"/>
<path d="M53.2 -56.2H71.6V-36.9H53.2z" fill="#444444"/>
<path d="M71 -56.2H123.4V-36.9H71z" fill="#434343"/>
<path d="M-123.4 -37.5H-71V-18.3H-123.4z" fill="#5a5a5a"/>
<path d="M-71.6 -37.5H-53.2V-18.3H-71.6z" fill="#606060"/>
<path d="M-53.8 -37.5H-35.3V-18.3H-53.8z" fill="#7b7b7b"/>
<path d="M-35.9 -37.5H-17.5V-18.3H-35.9z" fill="#8d8d8d"/>
<path d="M-18.1 -37.5H0.3V-18.3H-18.1z" fill="#959595"/>
<path d="M-0.3 -37.5H18.1V-18.3H-0.3z" fill="#959595"/>
<path d="M17.5 -37.5H35.9V-18.3H17.5z" fill="#8a8a8a"/>
<path d="M35.3 -37.5H53.8V-18.3H35.3z" fill="#767676"/>
<path d="M53.2 -37.5H71.6V-18.3H53.2z" fill="#585858"/>
<path d="M71 -37.5H123.4V-18.3H71z" fill="#515151"/>
<path d="M-123.4 -18.9H-71V0.3H-123.4z" fill="#6d6d6d"/>
<path d="M-71.6 -18.9H-53.2V0.3H-71.6z" fill="#777777"/>
<path d="M-53.8 -18.9H-35.3V0.3H-53.8z" fill="#9b9b9b"/>
<path d="M-35.9 -18.9H-17.5V0.3H-35.9z" fill="#aeaeae"/>
<path d="M-18.1 -18.9H0.3V0.3H-18.1z" fill="#b6b6b6"/>
<path d="M-0.3 -18.9H18.1V0.3H-0.3z" fill="#bababa"/>
<path d="M17.5 -18.9H35.9V0.3H17.5z" fill="#b7b7b7"/>
<path d="M35.3 -18.9H53.8V0.3H35.3z" fill="#a4a4a4"/>
<path d="M53.2 -18.9H71.6V0.3H53.2z" fill="#777777"/>
<path d="M71 -18.9H123.4V0.3H71z" fill="#6a6a6a"/>
<path d="M-123.4 -0.3H-71V18.9H-123.4z" fill="#878787"/>
<path d="M-71.6 -0.3H-53.2V18.9H-71.6z" fill="#939393"/>
<path d="M-53.8 -0.3H-35.3V18.9H-53.8z" fill="#b9b9b9"/>
<path d="M-35.9 -0.3H-17.5V18.9H-35.9z" fill="#cbcbcb"/>
<path d="M-18.1 -0.3H0.3V18.9H-18.1z" fill="#d3d3d3"/>
<path d="M-0.3 -0.3H18.1V18.9H-0.3z" fill="#d9d9d9"/>
<path d="M17.5 -0.3H35.9V18.9H17.5z" fill="#dcdcdc"/>
<path d="M35.3 -0.3H53.8V18.9H35.3z" fill="#cccccc"/>
<path d="M53.2 -0.3H71.6V18.9H53.2z" fill="#9a9a9a"/>
<path d="M71 -0.3H123.4V18.9H71z" fill="#8a8a8a"/>
<path d="M-123.4 18.3H-71V37.5H-123.4z" fill="#a6a6a6"/>
<path d="M-71.6 18.3H-53.2V37.5H-71.6z" fill="#afafaf"/>
<path d="M-53.8 18.3H-35.3V37.5H-53.8z" fill="#d0d0d0"/>
<path d="M-35.9 18.3H-17.5V37.5H-35.9z" fill="#e0e0e0"/>
<path d="M-18.1 18.3H0.3V37.5H-18.1z" fill="#e8e8e8"/>
<path d="M-0.3 18.3H18.1V37.5H-0.3z" fill="#efefef"/>
<path d="M17.5 18.3H35.9V37.5H17.5z" fill="#f3f3f3"/>
<path d="M35.3 18.3H53.8V37.5H35.3z" fill="#e7e7e7"/>
<path d="M53.2 18.3H71.6V37.5H53.2z" fill="#bababa"/>
<path d="M71 18.3H123.4V37.5H71z" fill="#acacac"/>
<path d="M-123.4 36.9H-71V56.2H-123.4z" fill="#c2c2c2"/>
<path d="M-71.6 36.9H-53.2V56.2H-71.6z" fill="#c8c8c8"/>
<path d="M-53.8 36.9H-35.3V56.2H-53.8z" fill="#dfdfdf"/>
<path d="M-35.9 36.9H-17.5V56.2H-35.9z" fill="#ececec"/>
<path d="M-18.1 36.9H0.3V56.2H-18.1z" fill="#f2f2f2"/>
<path d="M-0.3 36.9H18.1V56.2H-0.3z" fill="#f8f8f8"/>
<path d="M17.5 36.9H35.9V56.2H17.5z" fill="#fcfcfc"/>
<path d="M35.3 36.9H53.8V56.2H35.3z" fill="#f2f2f2"/>
<path d="M53.2 36.9H71.6V56.2H53.2z" fill="#d3d3d3"/>
<path d="M71 36.9H123.4V56.2H71z" fill="#c9c9c9"/>
<path d="M-123.4 55.6H-71V74.8H-123.4z" fill="#d3d3d3"/>
<path d="M-71.6 55.6H-53.2V74.8H-71.6z" fill="#d7d7d7"/>
<path d="M-53.8 55.6H-35.3V74.8H-53.8z" fill="#e5e5e5"/>
<path d="M-35.9 55.6H-17.5V74.8H-35.9z" fill="#ececec"/>
<path d="M-18.1 55.6H0.3V74.8H-18.1z" fill="#f0f0f0"/>
<path d="M-0.3 55.6H18.1V74.8H-0.3z" fill="#f2f2f2"/>
<path d="M17.5 55.6H35.9V74.8H17.5z" fill="#f4f4f4"/>
<path d="M35.3 55.6H53.8V74.8H35.3z" fill="#efefef"/>
<path d="M53.2 55.6H71.6V74.8H53.2z" fill="#dfdfdf"/>
<path d="M71 55.6H123.4V74.8H71z" fill="#d9d9d9"/>
<path d="M-123.4 74.2H-71V127.4H-123.4z" fill="#d5d5d5"/>
<path d="M-71.6 74.2H-53.2V127.4H-71.6z" fill="#d8d8d8"/>
<path d="M-53.8 74.2H-35.3V127.4H-53.8z" fill="#e5e5e5"/>
<path d="M-35.9 74.2H-17.5V127.4H-35.9z" fill="#ebebeb"/>
<path d="M-18.1 74.2H0.3V127.4H-18.1z" fill="#ededed"/>
<path d="M-0.3 74.2H18.1V127.4H-0.3z" fill="#efefef"/>
<path d="M17.5 74.2H35.9V127.4H17.5z" fill="#f1f1f1"/>
<path d="M35.3 74.2H53.8V127.4H35.3z" fill="#ededed"/>
<path d="M53.2 74.2H71.6V127.4H53.2z" fill="#dfdfdf"/>
<path d="M71 74.2H123.4V127.4H71z" fill="#dbdbdb"/>
</g>
<path class="ct" d="M-79.1 -34.5l5.3-1.6 5.9-2.5 20-13 17.8-8.6 15.6-5.3 6.7-1.3 6.7-0.2 11.1 2 11.2 4.8 15.6 9.3 28.9 20.1 8.9 4.2 8.9 2.2M-85.8 -14.1l9-1.9 8.9-4.2 6.6-5 13.4-11.4 6.7-4.4 8.9-4.7 6.7-2.7 8.9-2.7 6.7-1.1 6.7-0.4 6.6 0.5 6.7 1.4 6.7 2.1 8.9 3.9 11.2 5.6 8.9 5.3 22.2 16.7 8.9 4.1 9 1.9M-85.8 -0.1l9-1.9 8.9-4.2 6.6-5.3 15.6-14.8 6.7-4.7 6.7-3.7 6.7-2.9 8.9-2.7 6.7-1.2 6.7-0.4 6.6 0.4 9 1.7 8.9 2.8 11.1 4.6 8.9 4.8 6.7 4.4 15.6 13.5 6.7 4.6 6.6 3 9 2M-85.8 11.8l6.7-1.1 4.5-1.3 8.9-4.8 6.7-5.9 13.3-13.9 6.7-5.2 6.7-3.9 6.7-3.1 8.9-2.9 6.7-1.3 6.7-0.5 8.9 0.4 8.9 1.6 11.1 3.3 8.9 3.7 6.7 3.5 6.7 4.8 13.4 12.9 6.6 5.4 8.9 4.6 9 2.1M-83.5 22.8l8.9-2 8.9-4.4 6.7-5.7 15.6-16.9 5.3-4.3 5.8-3.7 6.7-3.2 8.9-2.9 6.7-1.4 8.9-0.9 8.9 0.3 11.1 1.7 8.9 2.5 9 3.8 6.2 3.8 4.9 4 13.4 14.2 6.6 5.8 6.7 3.8 8.9 2.6M-79.1 33.7l8.9-2.8 6.7-4 6.7-6.3 13.4-15.4 6.6-5.7 6.7-4.2 6.7-3.1 8.9-2.9 8.9-1.7 8.9-0.8 9 0.2 8.9 1.2 8.9 2.5 6.7 3 6.6 4.5 4.5 4 13.4 15.7 4.4 4.3 6.7 4.5 8.9 3.2M-74.6 46.1l6.7-2.8 6.6-4.6 4.5-4.3 15.6-18.6 6-5.3 5.1-3.6 8.9-4.3 8.9-2.8 11.2-2.3 11.1-1.1 8.9 0.3 6.7 1.1 6.7 2.3 6.7 3.6 4.4 3.5 4.5 4.7 15.6 20 6.7 5.4 7.4 3.4M-63.5 60.4l6.7-7.5 11.1-15.4 6.7-8.3 4.8-4.8 6-4.6 9.3-5 11.1-3.9 11.1-2.8 11.2-1.4 6.7 0.1 6.6 1.3 5.9 2.4 5.3 3.4 4.4 4.2 4.5 5.6 13.4 20.7 4.4 5.2 4.5 3.9M-42.1 78l0.9-9.3 3.6-11.7 5.3-10.4 6.7-8.1 8.9-6.8 9.3-4.9 13-5 11.1-2.4 6.7 0.1 6.7 1.8 6.7 4.3 4.4 4.8 4.9 8 4 9.3 3.2 11.6 1.5 9.4"/>
</g>
<use href="#hL2"/>
<use href="#nL2"/>
</g>
<g transform="translate(1060,1632)">
<g clip-path="url(#cL2)">
<g filter="url(#fL2)">
<path d="M-123.4 -127.4H-71V-74.2H-123.4z" fill="#3c3c3c"/>
<path d="M-71.6 -127.4H-53.2V-74.2H-71.6z" fill="#3c3c3c"/>
<path d="M-53.8 -127.4H-35.3V-74.2H-53.8z" fill="#414141"/>
<path d="M-35.9 -127.4H-17.5V-74.2H-35.9z" fill="#494949"/>
<path d="M-18.1 -127.4H0.3V-74.2H-18.1z" fill="#4f4f4f"/>
<path d="M-0.3 -127.4H18.1V-74.2H-0.3z" fill="#515151"/>
<path d="M17.5 -127.4H35.9V-74.2H17.5z" fill="#4d4d4d"/>
<path d="M35.3 -127.4H53.8V-74.2H35.3z" fill="#464646"/>
<path d="M53.2 -127.4H71.6V-74.2H53.2z" fill="#414141"/>
<path d="M71 -127.4H123.4V-74.2H71z" fill="#404040"/>
<path d="M-123.4 -74.8H-71V-55.6H-123.4z" fill="#383838"/>
<path d="M-71.6 -74.8H-53.2V-55.6H-71.6z" fill="#393939"/>
<path d="M-53.8 -74.8H-35.3V-55.6H-53.8z" fill="#424242"/>
<path d="M-35.9 -74.8H-17.5V-55.6H-35.9z" fill="#4d4d4d"/>
<path d="M-18.1 -74.8H0.3V-55.6H-18.1z" fill="#555555"/>
<path d="M-0.3 -74.8H18.1V-55.6H-0.3z" fill="#555555"/>
<path d="M17.5 -74.8H35.9V-55.6H17.5z" fill="#4e4e4e"/>
<path d="M35.3 -74.8H53.8V-55.6H35.3z" fill="#454545"/>
<path d="M53.2 -74.8H71.6V-55.6H53.2z" fill="#3f3f3f"/>
<path d="M71 -74.8H123.4V-55.6H71z" fill="#3f3f3f"/>
<path d="M-123.4 -56.2H-71V-36.9H-123.4z" fill="#343434"/>
<path d="M-71.6 -56.2H-53.2V-36.9H-71.6z" fill="#393939"/>
<path d="M-53.8 -56.2H-35.3V-36.9H-53.8z" fill="#4f4f4f"/>
<path d="M-35.9 -56.2H-17.5V-36.9H-35.9z" fill="#656565"/>
<path d="M-18.1 -56.2H0.3V-36.9H-18.1z" fill="#737373"/>
<path d="M-0.3 -56.2H18.1V-36.9H-0.3z" fill="#727272"/>
<path d="M17.5 -56.2H35.9V-36.9H17.5z" fill="#646464"/>
<path d="M35.3 -56.2H53.8V-36.9H35.3z" fill="#515151"/>
<path d="M53.2 -56.2H71.6V-36.9H53.2z" fill="#444444"/>
<path d="M71 -56.2H123.4V-36.9H71z" fill="#434343"/>
<path d="M-123.4 -37.5H-71V-18.3H-123.4z" fill="#424242"/>
<path d="M-71.6 -37.5H-53.2V-18.3H-71.6z" fill="#494949"/>
<path d="M-53.8 -37.5H-35.3V-18.3H-53.8z" fill="#6a6a6a"/>
<path d="M-35.9 -37.5H-17.5V-18.3H-35.9z" fill="#848484"/>
<path d="M-18.1 -37.5H0.3V-18.3H-18.1z" fill="#939393"/>
<path d="M-0.3 -37.5H18.1V-18.3H-0.3z" fill="#959595"/>
<path d="M17.5 -37.5H35.9V-18.3H17.5z" fill="#8b8b8b"/>
<path d="M35.3 -37.5H53.8V-18.3H35.3z" fill="#757575"/>
<path d="M53.2 -37.5H71.6V-18.3H53.2z" fill="#575757"/>
<path d="M71 -37.5H123.4V-18.3H71z" fill="#505050"/>
<path d="M-123.4 -18.9H-71V0.3H-123.4z" fill="#5d5d5d"/>
<path d="M-71.6 -18.9H-53.2V0.3H-71.6z" fill="#676767"/>
<path d="M-53.8 -18.9H-35.3V0.3H-53.8z" fill="#8f8f8f"/>
<path d="M-35.9 -18.9H-17.5V0.3H-35.9z" fill="#a7a7a7"/>
<path d="M-18.1 -18.9H0.3V0.3H-18.1z" fill="#b4b4b4"/>
<path d="M-0.3 -18.9H18.1V0.3H-0.3z" fill="#bababa"/>
<path d="M17.5 -18.9H35.9V0.3H17.5z" fill="#b7b7b7"/>
<path d="M35.3 -18.9H53.8V0.3H35.3z" fill="#a3a3a3"/>
<path d="M53.2 -18.9H71.6V0.3H53.2z" fill="#757575"/>
<path d="M71 -18.9H123.4V0.3H71z" fill="#686868"/>
<path d="M-123.4 -0.3H-71V18.9H-123.4z" fill="#828282"/>
<path d="M-71.6 -0.3H-53.2V18.9H-71.6z" fill="#8e8e8e"/>
<path d="M-53.8 -0.3H-35.3V18.9H-53.8z" fill="#b7b7b7"/>
<path d="M-35.9 -0.3H-17.5V18.9H-35.9z" fill="#cbcbcb"/>
<path d="M-18.1 -0.3H0.3V18.9H-18.1z" fill="#d4d4d4"/>
<path d="M-0.3 -0.3H18.1V18.9H-0.3z" fill="#dbdbdb"/>
<path d="M17.5 -0.3H35.9V18.9H17.5z" fill="#dddddd"/>
<path d="M35.3 -0.3H53.8V18.9H35.3z" fill="#cdcdcd"/>
<path d="M53.2 -0.3H71.6V18.9H53.2z" fill="#9c9c9c"/>
<path d="M71 -0.3H123.4V18.9H71z" fill="#8d8d8d"/>
<path d="M-123.4 18.3H-71V37.5H-123.4z" fill="#aaaaaa"/>
<path d="M-71.6 18.3H-53.2V37.5H-71.6z" fill="#b5b5b5"/>
<path d="M-53.8 18.3H-35.3V37.5H-53.8z" fill="#dbdbdb"/>
<path d="M-35.9 18.3H-17.5V37.5H-35.9z" fill="#eaeaea"/>
<path d="M-18.1 18.3H0.3V37.5H-18.1z" fill="#eeeeee"/>
<path d="M-0.3 18.3H18.1V37.5H-0.3z" fill="#f3f3f3"/>
<path d="M17.5 18.3H35.9V37.5H17.5z" fill="#f6f6f6"/>
<path d="M35.3 18.3H53.8V37.5H35.3z" fill="#ececec"/>
<path d="M53.2 18.3H71.6V37.5H53.2z" fill="#c4c4c4"/>
<path d="M71 18.3H123.4V37.5H71z" fill="#b8b8b8"/>
<path d="M-123.4 36.9H-71V56.2H-123.4z" fill="#cccccc"/>
<path d="M-71.6 36.9H-53.2V56.2H-71.6z" fill="#d5d5d5"/>
<path d="M-53.8 36.9H-35.3V56.2H-53.8z" fill="#f3f3f3"/>
<path d="M-35.9 36.9H-17.5V56.2H-35.9z" fill="#fdfdfd"/>
<path d="M-18.1 36.9H0.3V56.2H-18.1z" fill="#fefefe"/>
<path d="M-0.3 36.9H18.1V56.2H-0.3z" fill="#ffffff"/>
<path d="M17.5 36.9H35.9V56.2H17.5z" fill="#ffffff"/>
<path d="M35.3 36.9H53.8V56.2H35.3z" fill="#fbfbfb"/>
<path d="M53.2 36.9H71.6V56.2H53.2z" fill="#e3e3e3"/>
<path d="M71 36.9H123.4V56.2H71z" fill="#dbdbdb"/>
<path d="M-123.4 55.6H-71V74.8H-123.4z" fill="#dedede"/>
<path d="M-71.6 55.6H-53.2V74.8H-71.6z" fill="#e3e3e3"/>
<path d="M-53.8 55.6H-35.3V74.8H-53.8z" fill="#f3f3f3"/>
<path d="M-35.9 55.6H-17.5V74.8H-35.9z" fill="#fafafa"/>
<path d="M-18.1 55.6H0.3V74.8H-18.1z" fill="#fbfbfb"/>
<path d="M-0.3 55.6H18.1V74.8H-0.3z" fill="#fcfcfc"/>
<path d="M17.5 55.6H35.9V74.8H17.5z" fill="#fcfcfc"/>
<path d="M35.3 55.6H53.8V74.8H35.3z" fill="#f9f9f9"/>
<path d="M53.2 55.6H71.6V74.8H53.2z" fill="#eeeeee"/>
<path d="M71 55.6H123.4V74.8H71z" fill="#eaeaea"/>
<path d="M-123.4 74.2H-71V127.4H-123.4z" fill="#dfdfdf"/>
<path d="M-71.6 74.2H-53.2V127.4H-71.6z" fill="#e3e3e3"/>
<path d="M-53.8 74.2H-35.3V127.4H-53.8z" fill="#f0f0f0"/>
<path d="M-35.9 74.2H-17.5V127.4H-35.9z" fill="#f6f6f6"/>
<path d="M-18.1 74.2H0.3V127.4H-18.1z" fill="#f8f8f8"/>
<path d="M-0.3 74.2H18.1V127.4H-0.3z" fill="#f9f9f9"/>
<path d="M17.5 74.2H35.9V127.4H17.5z" fill="#f9f9f9"/>
<path d="M35.3 74.2H53.8V127.4H35.3z" fill="#f6f6f6"/>
<path d="M53.2 74.2H71.6V127.4H53.2z" fill="#ededed"/>
<path d="M71 74.2H123.4V127.4H71z" fill="#eaeaea"/>
</g>
<path class="ct" d="M-83.5 -20.4l6.7-1.3 6.6-2.4 4.5-2.6 4.4-3.6 22.3-25.3 21.4-20 5.5-7 3.6-7M16.7 -89.3l3.2 9 4.3 7 6 7 7.5 7 14.1 11.6 11.7 8.3 8.9 4.3 8.9 2.4M-85.8 -7.9l6.7-0.9 6.2-1.7 5-2.1 4.4-2.7 6.7-5.7 20-19.8 6.7-5.5 6.7-4.4 11.1-4.8 4.5-1.1 6.7-0.6 11.1 1.1 11.2 4.2 11.1 6 13.4 8.4 15.6 11.9 6.6 4.5 8.9 3.8 9 1.8M-85.8 2.5l11.2-2 6.7-2.6 4.4-2.5 6.7-5.3 20-18.5 6.7-5.2 6.7-4.3 11.1-5 4.5-1.1 6.7-0.8 6.7 0.3 6.7 1.4 15.5 5.9 9 4.5 8.9 5.6 15.6 13 6.6 4.8 8.9 3.9 10.2 1.9M-85.8 12.1l11.2-2 6.7-2.5 4.4-2.6 6.7-5 17.8-15.9 8.9-6.4 8.9-5.3 11.2-4.6 4.4-1 6.7-0.7 6.7 0.4 6.7 1.2 8.9 2.8 8.9 3.7 6.7 3.5 6.7 4.4 15.6 13.9 6.6 4.8 8.9 3.8 9 1.7M-83.5 21.2l11.1-2.5 8.9-4.2 4.5-3.3 20-17.1 8.9-6 6.7-3.8 13.4-5.6 6.7-1.5 6.6-0.7 6.7 0.3 8.9 1.5 8.9 2.6 6.7 2.9 6.7 3.8 4.5 3.2 13.3 12.7 6.7 5.3 8.9 4.4 11.2 2.2M-81.3 30.7l8.9-2.3 8.9-4.4 6.7-5.1 15.6-13.6 6.7-4.5 8.9-5 15.6-6.3 8.9-2.1 6.7-0.8 6.7 0 8.9 1.2 6.6 1.8 6.7 2.8 6.7 3.9 4.5 3.4 13.3 13.2 6.7 5.2 8.9 4.1 8.9 1.9M-76.8 40.7l6.6-2.3 6.7-3.8 20.1-17.7 6.6-4.7 6.7-3.9 8.9-4 11.2-3.8 11.1-2.6 8.9-1.1 6.7 0.1 6.7 0.8 4.6 1.1 6.5 2.6 4.5 2.5 5.6 4.2 12.2 12.5 6.7 5.8 6.7 3.8 8.9 2.8M-70.2 53.3l8.9-6.9 17.9-18.5 4.4-3.5 6.7-4.1 8.9-4 11.1-3.5 13.4-3.3 11.2-1.7 6.6-0.1 6.7 0.8 6.3 2 4.9 2.4 8.9 7 11.1 12.1 4.5 4.2 6.6 4.4 6.7 2.7M-54.1 71l1.6-9.3 4.4-11.7 4.7-7 7.5-6.9 7.9-4.7 6.8-2.6 22.3-5.3 13.4-2.3 6.7-0.3 6.6 1.1 4.5 1.6 5.3 3.2 8.1 7.5 13.3 17.5 6.7 7.6"/>
</g>
<use href="#hL2"/>
<use href="#nL2"/>
</g>
<g transform="translate(1589.7,279.3)">
<g clip-path="url(#cR)">
<g filter="url(#fR)">
<path d="M-132.4 -134.6H-78.2V-80H-132.4z" fill="#1a1a1a"/>
<path d="M-78.8 -134.6H-58.5V-80H-78.8z" fill="#191919"/>
<path d="M-59.1 -134.6H-38.9V-80H-59.1z" fill="#161616"/>
<path d="M-39.5 -134.6H-19.3V-80H-39.5z" fill="#121212"/>
<path d="M-19.9 -134.6H0.3V-80H-19.9z" fill="#0f0f0f"/>
<path d="M-0.3 -134.6H19.9V-80H-0.3z" fill="#0f0f0f"/>
<path d="M19.3 -134.6H39.5V-80H19.3z" fill="#121212"/>
<path d="M38.9 -134.6H59.1V-80H38.9z" fill="#161616"/>
<path d="M58.5 -134.6H78.8V-80H58.5z" fill="#191919"/>
<path d="M78.2 -134.6H132.4V-80H78.2z" fill="#1a1a1a"/>
<path d="M-132.4 -80.6H-78.2V-59.9H-132.4z" fill="#181818"/>
<path d="M-78.8 -80.6H-58.5V-59.9H-78.8z" fill="#181818"/>
<path d="M-59.1 -80.6H-38.9V-59.9H-59.1z" fill="#171717"/>
<path d="M-39.5 -80.6H-19.3V-59.9H-39.5z" fill="#141414"/>
<path d="M-19.9 -80.6H0.3V-59.9H-19.9z" fill="#111111"/>
<path d="M-0.3 -80.6H19.9V-59.9H-0.3z" fill="#0f0f0f"/>
<path d="M19.3 -80.6H39.5V-59.9H19.3z" fill="#101010"/>
<path d="M38.9 -80.6H59.1V-59.9H38.9z" fill="#131313"/>
<path d="M58.5 -80.6H78.8V-59.9H58.5z" fill="#171717"/>
<path d="M78.2 -80.6H132.4V-59.9H78.2z" fill="#181818"/>
<path d="M-132.4 -60.5H-78.2V-39.8H-132.4z" fill="#1b1b1b"/>
<path d="M-78.8 -60.5H-58.5V-39.8H-78.8z" fill="#1c1c1c"/>
<path d="M-59.1 -60.5H-38.9V-39.8H-59.1z" fill="#1d1d1d"/>
<path d="M-39.5 -60.5H-19.3V-39.8H-39.5z" fill="#1c1c1c"/>
<path d="M-19.9 -60.5H0.3V-39.8H-19.9z" fill="#191919"/>
<path d="M-0.3 -60.5H19.9V-39.8H-0.3z" fill="#171717"/>
<path d="M19.3 -60.5H39.5V-39.8H19.3z" fill="#151515"/>
<path d="M38.9 -60.5H59.1V-39.8H38.9z" fill="#161616"/>
<path d="M58.5 -60.5H78.8V-39.8H58.5z" fill="#1b1b1b"/>
<path d="M78.2 -60.5H132.4V-39.8H78.2z" fill="#1c1c1c"/>
<path d="M-132.4 -40.4H-78.2V-19.8H-132.4z" fill="#262626"/>
<path d="M-78.8 -40.4H-58.5V-19.8H-78.8z" fill="#252525"/>
<path d="M-59.1 -40.4H-38.9V-19.8H-59.1z" fill="#222222"/>
<path d="M-39.5 -40.4H-19.3V-19.8H-39.5z" fill="#212121"/>
<path d="M-19.9 -40.4H0.3V-19.8H-19.9z" fill="#232323"/>
<path d="M-0.3 -40.4H19.9V-19.8H-0.3z" fill="#262626"/>
<path d="M19.3 -40.4H39.5V-19.8H19.3z" fill="#292929"/>
<path d="M38.9 -40.4H59.1V-19.8H38.9z" fill="#2c2c2c"/>
<path d="M58.5 -40.4H78.8V-19.8H58.5z" fill="#2d2d2d"/>
<path d="M78.2 -40.4H132.4V-19.8H78.2z" fill="#2d2d2d"/>
<path d="M-132.4 -20.4H-78.2V0.3H-132.4z" fill="#313131"/>
<path d="M-78.8 -20.4H-58.5V0.3H-78.8z" fill="#2e2e2e"/>
<path d="M-59.1 -20.4H-38.9V0.3H-59.1z" fill="#252525"/>
<path d="M-39.5 -20.4H-19.3V0.3H-39.5z" fill="#242424"/>
<path d="M-19.9 -20.4H0.3V0.3H-19.9z" fill="#2a2a2a"/>
<path d="M-0.3 -20.4H19.9V0.3H-0.3z" fill="#333333"/>
<path d="M19.3 -20.4H39.5V0.3H19.3z" fill="#3d3d3d"/>
<path d="M38.9 -20.4H59.1V0.3H38.9z" fill="#434343"/>
<path d="M58.5 -20.4H78.8V0.3H58.5z" fill="#414141"/>
<path d="M78.2 -20.4H132.4V0.3H78.2z" fill="#404040"/>
<path d="M-132.4 -0.3H-78.2V20.4H-132.4z" fill="#323232"/>
<path d="M-78.8 -0.3H-58.5V20.4H-78.8z" fill="#2f2f2f"/>
<path d="M-59.1 -0.3H-38.9V20.4H-59.1z" fill="#252525"/>
<path d="M-39.5 -0.3H-19.3V20.4H-39.5z" fill="#252525"/>
<path d="M-19.9 -0.3H0.3V20.4H-19.9z" fill="#2b2b2b"/>
<path d="M-0.3 -0.3H19.9V20.4H-0.3z" fill="#373737"/>
<path d="M19.3 -0.3H39.5V20.4H19.3z" fill="#444444"/>
<path d="M38.9 -0.3H59.1V20.4H38.9z" fill="#4c4c4c"/>
<path d="M58.5 -0.3H78.8V20.4H58.5z" fill="#4b4b4b"/>
<path d="M78.2 -0.3H132.4V20.4H78.2z" fill="#494949"/>
<path d="M-132.4 19.8H-78.2V40.4H-132.4z" fill="#2b2b2b"/>
<path d="M-78.8 19.8H-58.5V40.4H-78.8z" fill="#2a2a2a"/>
<path d="M-59.1 19.8H-38.9V40.4H-59.1z" fill="#242424"/>
<path d="M-39.5 19.8H-19.3V40.4H-39.5z" fill="#232323"/>
<path d="M-19.9 19.8H0.3V40.4H-19.9z" fill="#272727"/>
<path d="M-0.3 19.8H19.9V40.4H-0.3z" fill="#303030"/>
<path d="M19.3 19.8H39.5V40.4H19.3z" fill="#3b3b3b"/>
<path d="M38.9 19.8H59.1V40.4H38.9z" fill="#444444"/>
<path d="M58.5 19.8H78.8V40.4H58.5z" fill="#474747"/>
<path d="M78.2 19.8H132.4V40.4H78.2z" fill="#474747"/>
<path d="M-132.4 39.8H-78.2V60.5H-132.4z" fill="#242424"/>
<path d="M-78.8 39.8H-58.5V60.5H-78.8z" fill="#232323"/>
<path d="M-59.1 39.8H-38.9V60.5H-59.1z" fill="#212121"/>
<path d="M-39.5 39.8H-19.3V60.5H-39.5z" fill="#212121"/>
<path d="M-19.9 39.8H0.3V60.5H-19.9z" fill="#222222"/>
<path d="M-0.3 39.8H19.9V60.5H-0.3z" fill="#262626"/>
<path d="M19.3 39.8H39.5V60.5H19.3z" fill="#2c2c2c"/>
<path d="M38.9 39.8H59.1V60.5H38.9z" fill="#343434"/>
<path d="M58.5 39.8H78.8V60.5H58.5z" fill="#3c3c3c"/>
<path d="M78.2 39.8H132.4V60.5H78.2z" fill="#3e3e3e"/>
<path d="M-132.4 59.9H-78.2V80.6H-132.4z" fill="#232323"/>
<path d="M-78.8 59.9H-58.5V80.6H-78.8z" fill="#222222"/>
<path d="M-59.1 59.9H-38.9V80.6H-59.1z" fill="#202020"/>
<path d="M-39.5 59.9H-19.3V80.6H-39.5z" fill="#202020"/>
<path d="M-19.9 59.9H0.3V80.6H-19.9z" fill="#212121"/>
<path d="M-0.3 59.9H19.9V80.6H-0.3z" fill="#212121"/>
<path d="M19.3 59.9H39.5V80.6H19.3z" fill="#212121"/>
<path d="M38.9 59.9H59.1V80.6H38.9z" fill="#252525"/>
<path d="M58.5 59.9H78.8V80.6H58.5z" fill="#323232"/>
<path d="M78.2 59.9H132.4V80.6H78.2z" fill="#363636"/>
<path d="M-132.4 80H-78.2V134.6H-132.4z" fill="#242424"/>
<path d="M-78.8 80H-58.5V134.6H-78.8z" fill="#232323"/>
<path d="M-59.1 80H-38.9V134.6H-59.1z" fill="#202020"/>
<path d="M-39.5 80H-19.3V134.6H-39.5z" fill="#202020"/>
<path d="M-19.9 80H0.3V134.6H-19.9z" fill="#222222"/>
<path d="M-0.3 80H19.9V134.6H-0.3z" fill="#212121"/>
<path d="M19.3 80H39.5V134.6H19.3z" fill="#202020"/>
<path d="M38.9 80H59.1V134.6H38.9z" fill="#232323"/>
<path d="M58.5 80H78.8V134.6H58.5z" fill="#303030"/>
<path d="M78.2 80H132.4V134.6H78.2z" fill="#353535"/>
</g>
<path class="ct r" d="M-57.9 -76.5l2.7 2.9 6.9 4.6 16.5 7.5 20.8 6.7 9.8 2 9.8 1.2 9.8 0.5 11.9-0.3 16.2-2.5 7.4-2.5 4.9-2.5 3.9-2.6 5.9-5M-84.6 -42.5l19.6 1 27 5 12.3 0.8 14.7-0.9 49-4.5 31.9-4.5 12.2-1.3M53.6 81.5l-3.2-7.5-5-5.7-7.4-4.9-17.2-8.4-9.8-5.8-9.8-7.5-7.7-7.8-7-10.1-4.4-10-1.1-5-0.2-5 1.2-7.6 3.7-7.5 5.7-6 4.9-3.5 4.9-2.6 9.8-3.7 14.7-3.5 17.2-2.6 24.5-2.4 19.6-0.7M-91.9 -26.1l9.8 0.9 6.5 1.4 5.7 2 4.9 2.9 3 2.6 3.8 5 2.2 5 1.6 7.6-0.1 7.5-1.8 7.5-2.2 5-4 6-4.9 4.6-4.9 2.8-7.4 2.5-7.3 1.3M65.1 71.5l-6.1-7.5-6-5.1-29.7-17.5-6.6-5-5.1-5-5.7-7.6-2.8-5-1.8-5-1-7.5 1.1-7.6 3.9-7.5 5.2-5 8.6-5 9.1-3.3 12.3-2.7 12.2-1.5 14.7-0.7 24.5 0.1M-94.4 -4.4l2.5 0.6 4.7 2.5 2.1 2.6 0.8 2.5-0.2 2.5-1.5 2.5-3.3 2.5-5.1 1.6M74.8 59.2l-36.8-20.9-6.6-4.4-5.7-4.8-4.9-5.8-4-7-1.7-7.5 0.4-5 1.7-5.1 1.5-2.5 4.7-5 7.2-4.3 9.4-3.2 7.8-1.5 9.8-0.7 36.8 0.9M85.2 43.9l-10.4-1.7-9.8-3-12.6-5.3-8.8-5.1-6.1-5-4.4-5.4-2.3-4.6-0.6-2.5 0.1-5 2.2-5 3-3.4 5-3.3 7.3-2.6 4.9-0.7 7.4-0.2 34.3 2.5"/>
</g>
<use href="#hR"/>
<use href="#mR"/>
</g>
<g transform="translate(1852.9,279.3)">
<g clip-path="url(#cR)">
<g filter="url(#fR)">
<path d="M-132.4 -134.6H-78.2V-80H-132.4z" fill="#242424"/>
<path d="M-78.8 -134.6H-58.5V-80H-78.8z" fill="#252525"/>
<path d="M-59.1 -134.6H-38.9V-80H-59.1z" fill="#252525"/>
<path d="M-39.5 -134.6H-19.3V-80H-39.5z" fill="#232323"/>
<path d="M-19.9 -134.6H0.3V-80H-19.9z" fill="#232323"/>
<path d="M-0.3 -134.6H19.9V-80H-0.3z" fill="#272727"/>
<path d="M19.3 -134.6H39.5V-80H19.3z" fill="#303030"/>
<path d="M38.9 -134.6H59.1V-80H38.9z" fill="#393939"/>
<path d="M58.5 -134.6H78.8V-80H58.5z" fill="#3e3e3e"/>
<path d="M78.2 -134.6H132.4V-80H78.2z" fill="#3e3e3e"/>
<path d="M-132.4 -80.6H-78.2V-59.9H-132.4z" fill="#232323"/>
<path d="M-78.8 -80.6H-58.5V-59.9H-78.8z" fill="#262626"/>
<path d="M-59.1 -80.6H-38.9V-59.9H-59.1z" fill="#2d2d2d"/>
<path d="M-39.5 -80.6H-19.3V-59.9H-39.5z" fill="#2b2b2b"/>
<path d="M-19.9 -80.6H0.3V-59.9H-19.9z" fill="#282828"/>
<path d="M-0.3 -80.6H19.9V-59.9H-0.3z" fill="#2a2a2a"/>
<path d="M19.3 -80.6H39.5V-59.9H19.3z" fill="#333333"/>
<path d="M38.9 -80.6H59.1V-59.9H38.9z" fill="#3b3b3b"/>
<path d="M58.5 -80.6H78.8V-59.9H58.5z" fill="#404040"/>
<path d="M78.2 -80.6H132.4V-59.9H78.2z" fill="#3f3f3f"/>
<path d="M-132.4 -60.5H-78.2V-39.8H-132.4z" fill="#292929"/>
<path d="M-78.8 -60.5H-58.5V-39.8H-78.8z" fill="#313131"/>
<path d="M-59.1 -60.5H-38.9V-39.8H-59.1z" fill="#464646"/>
<path d="M-39.5 -60.5H-19.3V-39.8H-39.5z" fill="#484848"/>
<path d="M-19.9 -60.5H0.3V-39.8H-19.9z" fill="#454545"/>
<path d="M-0.3 -60.5H19.9V-39.8H-0.3z" fill="#474747"/>
<path d="M19.3 -60.5H39.5V-39.8H19.3z" fill="#505050"/>
<path d="M38.9 -60.5H59.1V-39.8H38.9z" fill="#585858"/>
<path d="M58.5 -60.5H78.8V-39.8H58.5z" fill="#565656"/>
<path d="M78.2 -60.5H132.4V-39.8H78.2z" fill="#535353"/>
<path d="M-132.4 -40.4H-78.2V-19.8H-132.4z" fill="#393939"/>
<path d="M-78.8 -40.4H-58.5V-19.8H-78.8z" fill="#3f3f3f"/>
<path d="M-59.1 -40.4H-38.9V-19.8H-59.1z" fill="#505050"/>
<path d="M-39.5 -40.4H-19.3V-19.8H-39.5z" fill="#595959"/>
<path d="M-19.9 -40.4H0.3V-19.8H-19.9z" fill="#606060"/>
<path d="M-0.3 -40.4H19.9V-19.8H-0.3z" fill="#6b6b6b"/>
<path d="M19.3 -40.4H39.5V-19.8H19.3z" fill="#797979"/>
<path d="M38.9 -40.4H59.1V-19.8H38.9z" fill="#808080"/>
<path d="M58.5 -40.4H78.8V-19.8H58.5z" fill="#767676"/>
<path d="M78.2 -40.4H132.4V-19.8H78.2z" fill="#717171"/>
<path d="M-132.4 -20.4H-78.2V0.3H-132.4z" fill="#4b4b4b"/>
<path d="M-78.8 -20.4H-58.5V0.3H-78.8z" fill="#4c4c4c"/>
<path d="M-59.1 -20.4H-38.9V0.3H-59.1z" fill="#545454"/>
<path d="M-39.5 -20.4H-19.3V0.3H-39.5z" fill="#616161"/>
<path d="M-19.9 -20.4H0.3V0.3H-19.9z" fill="#737373"/>
<path d="M-0.3 -20.4H19.9V0.3H-0.3z" fill="#888888"/>
<path d="M19.3 -20.4H39.5V0.3H19.3z" fill="#9a9a9a"/>
<path d="M38.9 -20.4H59.1V0.3H38.9z" fill="#a1a1a1"/>
<path d="M58.5 -20.4H78.8V0.3H58.5z" fill="#929292"/>
<path d="M78.2 -20.4H132.4V0.3H78.2z" fill="#8b8b8b"/>
<path d="M-132.4 -0.3H-78.2V20.4H-132.4z" fill="#585858"/>
<path d="M-78.8 -0.3H-58.5V20.4H-78.8z" fill="#565656"/>
<path d="M-59.1 -0.3H-38.9V20.4H-59.1z" fill="#585858"/>
<path d="M-39.5 -0.3H-19.3V20.4H-39.5z" fill="#656565"/>
<path d="M-19.9 -0.3H0.3V20.4H-19.9z" fill="#7a7a7a"/>
<path d="M-0.3 -0.3H19.9V20.4H-0.3z" fill="#8f8f8f"/>
<path d="M19.3 -0.3H39.5V20.4H19.3z" fill="#a1a1a1"/>
<path d="M38.9 -0.3H59.1V20.4H38.9z" fill="#a7a7a7"/>
<path d="M58.5 -0.3H78.8V20.4H58.5z" fill="#9a9a9a"/>
<path d="M78.2 -0.3H132.4V20.4H78.2z" fill="#959595"/>
<path d="M-132.4 19.8H-78.2V40.4H-132.4z" fill="#5d5d5d"/>
<path d="M-78.8 19.8H-58.5V40.4H-78.8z" fill="#5c5c5c"/>
<path d="M-59.1 19.8H-38.9V40.4H-59.1z" fill="#5e5e5e"/>
<path d="M-39.5 19.8H-19.3V40.4H-39.5z" fill="#666666"/>
<path d="M-19.9 19.8H0.3V40.4H-19.9z" fill="#737373"/>
<path d="M-0.3 19.8H19.9V40.4H-0.3z" fill="#808080"/>
<path d="M19.3 19.8H39.5V40.4H19.3z" fill="#8d8d8d"/>
<path d="M38.9 19.8H59.1V40.4H38.9z" fill="#939393"/>
<path d="M58.5 19.8H78.8V40.4H58.5z" fill="#909090"/>
<path d="M78.2 19.8H132.4V40.4H78.2z" fill="#8e8e8e"/>
<path d="M-132.4 39.8H-78.2V60.5H-132.4z" fill="#5e5e5e"/>
<path d="M-78.8 39.8H-58.5V60.5H-78.8z" fill="#5f5f5f"/>
<path d="M-59.1 39.8H-38.9V60.5H-59.1z" fill="#646464"/>
<path d="M-39.5 39.8H-19.3V60.5H-39.5z" fill="#646464"/>
<path d="M-19.9 39.8H0.3V60.5H-19.9z" fill="#646464"/>
<path d="M-0.3 39.8H19.9V60.5H-0.3z" fill="#686868"/>
<path d="M19.3 39.8H39.5V60.5H19.3z" fill="#717171"/>
<path d="M38.9 39.8H59.1V60.5H38.9z" fill="#7b7b7b"/>
<path d="M58.5 39.8H78.8V60.5H58.5z" fill="#828282"/>
<path d="M78.2 39.8H132.4V60.5H78.2z" fill="#828282"/>
<path d="M-132.4 59.9H-78.2V80.6H-132.4z" fill="#5d5d5d"/>
<path d="M-78.8 59.9H-58.5V80.6H-78.8z" fill="#616161"/>
<path d="M-59.1 59.9H-38.9V80.6H-59.1z" fill="#646464"/>
<path d="M-39.5 59.9H-19.3V80.6H-39.5z" fill="#5c5c5c"/>
<path d="M-19.9 59.9H0.3V80.6H-19.9z" fill="#535353"/>
<path d="M-0.3 59.9H19.9V80.6H-0.3z" fill="#545454"/>
<path d="M19.3 59.9H39.5V80.6H19.3z" fill="#616161"/>
<path d="M38.9 59.9H59.1V80.6H38.9z" fill="#727272"/>
<path d="M58.5 59.9H78.8V80.6H58.5z" fill="#7c7c7c"/>
<path d="M78.2 59.9H132.4V80.6H78.2z" fill="#7d7d7d"/>
<path d="M-132.4 80H-78.2V134.6H-132.4z" fill="#5e5e5e"/>
<path d="M-78.8 80H-58.5V134.6H-78.8z" fill="#616161"/>
<path d="M-59.1 80H-38.9V134.6H-59.1z" fill="#636363"/>
<path d="M-39.5 80H-19.3V134.6H-39.5z" fill="#595959"/>
<path d="M-19.9 80H0.3V134.6H-19.9z" fill="#505050"/>
<path d="M-0.3 80H19.9V134.6H-0.3z" fill="#525252"/>
<path d="M19.3 80H39.5V134.6H19.3z" fill="#616161"/>
<path d="M38.9 80H59.1V134.6H38.9z" fill="#747474"/>
<path d="M58.5 80H78.8V134.6H58.5z" fill="#7d7d7d"/>
<path d="M78.2 80H132.4V134.6H78.2z" fill="#7d7d7d"/>
</g>
<path class="ct r" d="M-89.5 -35.8l7.4-2 7.2-3.6 5-3.9 12.3-11.5 4.9-3.1 4.9-1.9 4.9-1 7.4-0.5 22 1.3 9.8-0.1 12.3-1.8 8.6-2.6 10.7-5 6.9-5 4.2-5 2.4-5M-94.4 -13.9l14.7-1.3 4.9-1.2 4.9-2.1 4.2-2.8 3.2-3 9.8-12.6 4.4-4.5 3.5-2.5 6-2.5 8.2-1.4 19.6-0.6 12.2-1.3 12.3-2.5 27-7.7 9.8-2.3 9.8-1.3 12.2-0.4M-94.4 17l17.2 1.3 7.3 0 7.4-1.3 6.6-3.2 3.2-2.6 4.9-6.6 8.4-18.4 4.6-7.5 6.6-6.3 4.9-2.8 4.9-1.9 44.1-12.8 17.2-3.9 7.4-0.8 7.3-0.1 24.5 2.2M17.9 96.6l-0.4-7.6-1.1-7.5-1.9-5-1.6-2.5-2.4-2.5-4.4-2.9-4.9-1.7-4.9-0.8-4.9 0-4.9 1.1-3.6 1.8-3.2 2.5-2.1 2.5-2.7 5-1.6 5-1.5 8.4M39.8 89l-0.2-10-1.5-7.5-2.5-5-4.3-5-5.6-4.3-7.3-4.2-22.2-9.1-7.2-3.5-4.9-3.3-3.1-3.2-1.8-3.1-1.7-4.5-1.1-7.5 0.7-12.5 2.7-10.1 2.3-5 3.3-5 3.6-3.6 4.9-3.9 7.3-4.4 6.7-3.1 20.3-7.4 12.3-2.7 12.2-0.7 36.8 5.1M68.8 66.5l-7.4-7.6-6.7-5-9.2-5-28.5-12.5-6-3.3-5.9-4.3-4.7-5-4-7.5-1.2-7.5 1-7.5 1.9-5.1 3-5 4.6-5 3.1-2.5 7.1-4.5 6.1-3 6.2-2.5 7.3-2.1 9.9-1.4 7.3 0.3 27 6.5 12.2 1.8M89.5 29.7l-19.6 2.9-12.3 0.8-9.8-0.9-9.8-2.5-7.4-2.9-4.9-2.6-7.1-5.7-2.7-3.4-1.9-4.1-0.6-2.5 0-5 2.9-7.6 4.1-5 2.9-2.5 3.9-2.5 5.6-2.5 10.1-2.3 4.9-0.1 7.4 1.3 26.9 11.8 12.3 3.1"/>
</g>
<use href="#hR"/>
<use href="#mR"/>
</g>
<g transform="translate(2120.6,279.3)">
<g clip-path="url(#cR)">
<g filter="url(#fR)">
<path d="M-132.4 -134.6H-78.2V-80H-132.4z" fill="#0b0b0b"/>
<path d="M-78.8 -134.6H-58.5V-80H-78.8z" fill="#0a0a0a"/>
<path d="M-59.1 -134.6H-38.9V-80H-59.1z" fill="#070707"/>
<path d="M-39.5 -134.6H-19.3V-80H-39.5z" fill="#060606"/>
<path d="M-19.9 -134.6H0.3V-80H-19.9z" fill="#060606"/>
<path d="M-0.3 -134.6H19.9V-80H-0.3z" fill="#070707"/>
<path d="M19.3 -134.6H39.5V-80H19.3z" fill="#080808"/>
<path d="M38.9 -134.6H59.1V-80H38.9z" fill="#090909"/>
<path d="M58.5 -134.6H78.8V-80H58.5z" fill="#0a0a0a"/>
<path d="M78.2 -134.6H132.4V-80H78.2z" fill="#0b0b0b"/>
<path d="M-132.4 -80.6H-78.2V-59.9H-132.4z" fill="#0c0c0c"/>
<path d="M-78.8 -80.6H-58.5V-59.9H-78.8z" fill="#0b0b0b"/>
<path d="M-59.1 -80.6H-38.9V-59.9H-59.1z" fill="#070707"/>
<path d="M-39.5 -80.6H-19.3V-59.9H-39.5z" fill="#050505"/>
<path d="M-19.9 -80.6H0.3V-59.9H-19.9z" fill="#040404"/>
<path d="M-0.3 -80.6H19.9V-59.9H-0.3z" fill="#050505"/>
<path d="M19.3 -80.6H39.5V-59.9H19.3z" fill="#060606"/>
<path d="M38.9 -80.6H59.1V-59.9H38.9z" fill="#080808"/>
<path d="M58.5 -80.6H78.8V-59.9H58.5z" fill="#0a0a0a"/>
<path d="M78.2 -80.6H132.4V-59.9H78.2z" fill="#0a0a0a"/>
<path d="M-132.4 -60.5H-78.2V-39.8H-132.4z" fill="#151515"/>
<path d="M-78.8 -60.5H-58.5V-39.8H-78.8z" fill="#141414"/>
<path d="M-59.1 -60.5H-38.9V-39.8H-59.1z" fill="#101010"/>
<path d="M-39.5 -60.5H-19.3V-39.8H-39.5z" fill="#0e0e0e"/>
<path d="M-19.9 -60.5H0.3V-39.8H-19.9z" fill="#0e0e0e"/>
<path d="M-0.3 -60.5H19.9V-39.8H-0.3z" fill="#0e0e0e"/>
<path d="M19.3 -60.5H39.5V-39.8H19.3z" fill="#101010"/>
<path d="M38.9 -60.5H59.1V-39.8H38.9z" fill="#111111"/>
<path d="M58.5 -60.5H78.8V-39.8H58.5z" fill="#111111"/>
<path d="M78.2 -60.5H132.4V-39.8H78.2z" fill="#111111"/>
<path d="M-132.4 -40.4H-78.2V-19.8H-132.4z" fill="#1f1f1f"/>
<path d="M-78.8 -40.4H-58.5V-19.8H-78.8z" fill="#202020"/>
<path d="M-59.1 -40.4H-38.9V-19.8H-59.1z" fill="#212121"/>
<path d="M-39.5 -40.4H-19.3V-19.8H-39.5z" fill="#252525"/>
<path d="M-19.9 -40.4H0.3V-19.8H-19.9z" fill="#292929"/>
<path d="M-0.3 -40.4H19.9V-19.8H-0.3z" fill="#2d2d2d"/>
<path d="M19.3 -40.4H39.5V-19.8H19.3z" fill="#2e2e2e"/>
<path d="M38.9 -40.4H59.1V-19.8H38.9z" fill="#2c2c2c"/>
<path d="M58.5 -40.4H78.8V-19.8H58.5z" fill="#242424"/>
<path d="M78.2 -40.4H132.4V-19.8H78.2z" fill="#222222"/>
<path d="M-132.4 -20.4H-78.2V0.3H-132.4z" fill="#2c2c2c"/>
<path d="M-78.8 -20.4H-58.5V0.3H-78.8z" fill="#2d2d2d"/>
<path d="M-59.1 -20.4H-38.9V0.3H-59.1z" fill="#353535"/>
<path d="M-39.5 -20.4H-19.3V0.3H-39.5z" fill="#3e3e3e"/>
<path d="M-19.9 -20.4H0.3V0.3H-19.9z" fill="#464646"/>
<path d="M-0.3 -20.4H19.9V0.3H-0.3z" fill="#4c4c4c"/>
<path d="M19.3 -20.4H39.5V0.3H19.3z" fill="#4d4d4d"/>
<path d="M38.9 -20.4H59.1V0.3H38.9z" fill="#494949"/>
<path d="M58.5 -20.4H78.8V0.3H58.5z" fill="#3b3b3b"/>
<path d="M78.2 -20.4H132.4V0.3H78.2z" fill="#363636"/>
<path d="M-132.4 -0.3H-78.2V20.4H-132.4z" fill="#3b3b3b"/>
<path d="M-78.8 -0.3H-58.5V20.4H-78.8z" fill="#3d3d3d"/>
<path d="M-59.1 -0.3H-38.9V20.4H-59.1z" fill="#454545"/>
<path d="M-39.5 -0.3H-19.3V20.4H-39.5z" fill="#4d4d4d"/>
<path d="M-19.9 -0.3H0.3V20.4H-19.9z" fill="#545454"/>
<path d="M-0.3 -0.3H19.9V20.4H-0.3z" fill="#595959"/>
<path d="M19.3 -0.3H39.5V20.4H19.3z" fill="#5c5c5c"/>
<path d="M38.9 -0.3H59.1V20.4H38.9z" fill="#595959"/>
<path d="M58.5 -0.3H78.8V20.4H58.5z" fill="#4c4c4c"/>
<path d="M78.2 -0.3H132.4V20.4H78.2z" fill="#484848"/>
<path d="M-132.4 19.8H-78.2V40.4H-132.4z" fill="#4a4a4a"/>
<path d="M-78.8 19.8H-58.5V40.4H-78.8z" fill="#4c4c4c"/>
<path d="M-59.1 19.8H-38.9V40.4H-59.1z" fill="#505050"/>
<path d="M-39.5 19.8H-19.3V40.4H-39.5z" fill="#505050"/>
<path d="M-19.9 19.8H0.3V40.4H-19.9z" fill="#4f4f4f"/>
<path d="M-0.3 19.8H19.9V40.4H-0.3z" fill="#515151"/>
<path d="M19.3 19.8H39.5V40.4H19.3z" fill="#565656"/>
<path d="M38.9 19.8H59.1V40.4H38.9z" fill="#595959"/>
<path d="M58.5 19.8H78.8V40.4H58.5z" fill="#555555"/>
<path d="M78.2 19.8H132.4V40.4H78.2z" fill="#535353"/>
<path d="M-132.4 39.8H-78.2V60.5H-132.4z" fill="#555555"/>
<path d="M-78.8 39.8H-58.5V60.5H-78.8z" fill="#575757"/>
<path d="M-59.1 39.8H-38.9V60.5H-59.1z" fill="#575757"/>
<path d="M-39.5 39.8H-19.3V60.5H-39.5z" fill="#4d4d4d"/>
<path d="M-19.9 39.8H0.3V60.5H-19.9z" fill="#424242"/>
<path d="M-0.3 39.8H19.9V60.5H-0.3z" fill="#3f3f3f"/>
<path d="M19.3 39.8H39.5V60.5H19.3z" fill="#464646"/>
<path d="M38.9 39.8H59.1V60.5H38.9z" fill="#505050"/>
<path d="M58.5 39.8H78.8V60.5H58.5z" fill="#575757"/>
<path d="M78.2 39.8H132.4V60.5H78.2z" fill="#575757"/>
<path d="M-132.4 59.9H-78.2V80.6H-132.4z" fill="#565656"/>
<path d="M-78.8 59.9H-58.5V80.6H-78.8z" fill="#5a5a5a"/>
<path d="M-59.1 59.9H-38.9V80.6H-59.1z" fill="#5a5a5a"/>
<path d="M-39.5 59.9H-19.3V80.6H-39.5z" fill="#494949"/>
<path d="M-19.9 59.9H0.3V80.6H-19.9z" fill="#363636"/>
<path d="M-0.3 59.9H19.9V80.6H-0.3z" fill="#2f2f2f"/>
<path d="M19.3 59.9H39.5V80.6H19.3z" fill="#383838"/>
<path d="M38.9 59.9H59.1V80.6H38.9z" fill="#474747"/>
<path d="M58.5 59.9H78.8V80.6H58.5z" fill="#545454"/>
<path d="M78.2 59.9H132.4V80.6H78.2z" fill="#565656"/>
<path d="M-132.4 80H-78.2V134.6H-132.4z" fill="#555555"/>
<path d="M-78.8 80H-58.5V134.6H-78.8z" fill="#595959"/>
<path d="M-59.1 80H-38.9V134.6H-59.1z" fill="#5b5b5b"/>
<path d="M-39.5 80H-19.3V134.6H-39.5z" fill="#494949"/>
<path d="M-19.9 80H0.3V134.6H-19.9z" fill="#353535"/>
<path d="M-0.3 80H19.9V134.6H-0.3z" fill="#2d2d2d"/>
<path d="M19.3 80H39.5V134.6H19.3z" fill="#363636"/>
<path d="M38.9 80H59.1V134.6H38.9z" fill="#464646"/>
<path d="M58.5 80H78.8V134.6H58.5z" fill="#535353"/>
<path d="M78.2 80H132.4V134.6H78.2z" fill="#555555"/>
</g>
<path class="ct r" d="M-77.2 -57.2l26.9 5.9 19.7 1.6 22-0.3 56.4-2.9 31.9-0.3M-89.5 -34.4l31.9-0.5 58.8-5.2 27-1.3 22.1 0.6 24.5 3.1 12.2 1M-94.4 -14.7l12.3-0.5 9.8-1.3 34.3-8.5 19.6-3.9 17.2-2.3 17.1-1.4 14.7-0.3 14.8 0.9 9.8 1.7 19.6 4.7 17.1 2.1M-94.4 2.3l14.7-1.2 9.8-2 31.9-12.8 17.2-5.2 17.1-3.5 17.2-2 14.7-0.5 14.7 1.2 10.6 2.4 23.7 7.9 7.4 1.4 9.8 0.9M24.8 94.1l-1.2-10.1-2.8-7.5-2.4-3.1-2.5-2.1-4.9-2.1-2.4-0.3-4.9 1.1-2.5 1.4-2.4 2.5-1.6 2.6-2.3 7.5-1.1 12.6M-94.4 18.3l14.7-1.2 12.3-2.8 9.8-4.2 26.9-13.9 12.1-5 17.4-5 17.1-2.5 14.7-0.2 7.4 0.8 7.4 1.4 8.5 3 13.5 6.9 7.4 3.1 9.8 2.6 9.8 1.2M42.3 86.5l-1-7.5-2.1-7.5-3.7-6.4-4.9-5.2-7.3-4.9-7.4-3.1-7.3-1.4-7.4 0.2-4.9 1.1-4.9 2.4-4.9 4.3-3.4 5.5-1.9 5-1.5 7.5-0.9 17.6M-89.5 35.8l9.8-1.1 12.3-2.4 24.5-7.9 9.8-4.8 17.1-13.3 8.8-5 13.2-5.1 14.3-2.5 12.8 0.3 10.1 2.2 10.3 5.1 11.5 8.5 7.3 4.7 9.8 3.7 9.8 1.8M58.2 76.5l-2.8-10-4.1-7.6-6.4-7.5-9.4-7-9.8-4.6-14.7-4.7-14.7-2.2-9.8 0.3-4.9 1.4-4.9 2.9-3.3 3.9-3.5 7.5-1.8 7.5-1.3 10.1-0.7 25.1"/>
</g>
<use href="#hR"/>
<use href="#mR"/>
</g>
<g transform="translate(2386,279.3)">
<g clip-path="url(#cR)">
<g filter="url(#fR)">
<path d="M-132.4 -134.6H-78.2V-80H-132.4z" fill="#1c1c1c"/>
<path d="M-78.8 -134.6H-58.5V-80H-78.8z" fill="#1c1c1c"/>
<path d="M-59.1 -134.6H-38.9V-80H-59.1z" fill="#1a1a1a"/>
<path d="M-39.5 -134.6H-19.3V-80H-39.5z" fill="#161616"/>
<path d="M-19.9 -134.6H0.3V-80H-19.9z" fill="#141414"/>
<path d="M-0.3 -134.6H19.9V-80H-0.3z" fill="#141414"/>
<path d="M19.3 -134.6H39.5V-80H19.3z" fill="#161616"/>
<path d="M38.9 -134.6H59.1V-80H38.9z" fill="#1a1a1a"/>
<path d="M58.5 -134.6H78.8V-80H58.5z" fill="#1c1c1c"/>
<path d="M78.2 -134.6H132.4V-80H78.2z" fill="#1c1c1c"/>
<path d="M-132.4 -80.6H-78.2V-59.9H-132.4z" fill="#1b1b1b"/>
<path d="M-78.8 -80.6H-58.5V-59.9H-78.8z" fill="#1b1b1b"/>
<path d="M-59.1 -80.6H-38.9V-59.9H-59.1z" fill="#1b1b1b"/>
<path d="M-39.5 -80.6H-19.3V-59.9H-39.5z" fill="#1a1a1a"/>
<path d="M-19.9 -80.6H0.3V-59.9H-19.9z" fill="#171717"/>
<path d="M-0.3 -80.6H19.9V-59.9H-0.3z" fill="#151515"/>
<path d="M19.3 -80.6H39.5V-59.9H19.3z" fill="#121212"/>
<path d="M38.9 -80.6H59.1V-59.9H38.9z" fill="#121212"/>
<path d="M58.5 -80.6H78.8V-59.9H58.5z" fill="#141414"/>
<path d="M78.2 -80.6H132.4V-59.9H78.2z" fill="#151515"/>
<path d="M-132.4 -60.5H-78.2V-39.8H-132.4z" fill="#292929"/>
<path d="M-78.8 -60.5H-58.5V-39.8H-78.8z" fill="#292929"/>
<path d="M-59.1 -60.5H-38.9V-39.8H-59.1z" fill="#2a2a2a"/>
<path d="M-39.5 -60.5H-19.3V-39.8H-39.5z" fill="#2b2b2b"/>
<path d="M-19.9 -60.5H0.3V-39.8H-19.9z" fill="#2a2a2a"/>
<path d="M-0.3 -60.5H19.9V-39.8H-0.3z" fill="#252525"/>
<path d="M19.3 -60.5H39.5V-39.8H19.3z" fill="#1c1c1c"/>
<path d="M38.9 -60.5H59.1V-39.8H38.9z" fill="#151515"/>
<path d="M58.5 -60.5H78.8V-39.8H58.5z" fill="#161616"/>
<path d="M78.2 -60.5H132.4V-39.8H78.2z" fill="#171717"/>
<path d="M-132.4 -40.4H-78.2V-19.8H-132.4z" fill="#4a4a4a"/>
<path d="M-78.8 -40.4H-58.5V-19.8H-78.8z" fill="#474747"/>
<path d="M-59.1 -40.4H-38.9V-19.8H-59.1z" fill="#3d3d3d"/>
<path d="M-39.5 -40.4H-19.3V-19.8H-39.5z" fill="#3a3a3a"/>
<path d="M-19.9 -40.4H0.3V-19.8H-19.9z" fill="#3b3b3b"/>
<path d="M-0.3 -40.4H19.9V-19.8H-0.3z" fill="#3e3e3e"/>
<path d="M19.3 -40.4H39.5V-19.8H19.3z" fill="#404040"/>
<path d="M38.9 -40.4H59.1V-19.8H38.9z" fill="#414141"/>
<path d="M58.5 -40.4H78.8V-19.8H58.5z" fill="#3d3d3d"/>
<path d="M78.2 -40.4H132.4V-19.8H78.2z" fill="#3c3c3c"/>
<path d="M-132.4 -20.4H-78.2V0.3H-132.4z" fill="#676767"/>
<path d="M-78.8 -20.4H-58.5V0.3H-78.8z" fill="#616161"/>
<path d="M-59.1 -20.4H-38.9V0.3H-59.1z" fill="#4d4d4d"/>
<path d="M-39.5 -20.4H-19.3V0.3H-39.5z" fill="#454545"/>
<path d="M-19.9 -20.4H0.3V0.3H-19.9z" fill="#484848"/>
<path d="M-0.3 -20.4H19.9V0.3H-0.3z" fill="#555555"/>
<path d="M19.3 -20.4H39.5V0.3H19.3z" fill="#666666"/>
<path d="M38.9 -20.4H59.1V0.3H38.9z" fill="#707070"/>
<path d="M58.5 -20.4H78.8V0.3H58.5z" fill="#6a6a6a"/>
<path d="M78.2 -20.4H132.4V0.3H78.2z" fill="#666666"/>
<path d="M-132.4 -0.3H-78.2V20.4H-132.4z" fill="#6e6e6e"/>
<path d="M-78.8 -0.3H-58.5V20.4H-78.8z" fill="#686868"/>
<path d="M-59.1 -0.3H-38.9V20.4H-59.1z" fill="#525252"/>
<path d="M-39.5 -0.3H-19.3V20.4H-39.5z" fill="#4b4b4b"/>
<path d="M-19.9 -0.3H0.3V20.4H-19.9z" fill="#505050"/>
<path d="M-0.3 -0.3H19.9V20.4H-0.3z" fill="#5f5f5f"/>
<path d="M19.3 -0.3H39.5V20.4H19.3z" fill="#737373"/>
<path d="M38.9 -0.3H59.1V20.4H38.9z" fill="#828282"/>
<path d="M58.5 -0.3H78.8V20.4H58.5z" fill="#7f7f7f"/>
<path d="M78.2 -0.3H132.4V20.4H78.2z" fill="#7b7b7b"/>
<path d="M-132.4 19.8H-78.2V40.4H-132.4z" fill="#606060"/>
<path d="M-78.8 19.8H-58.5V40.4H-78.8z" fill="#5b5b5b"/>
<path d="M-59.1 19.8H-38.9V40.4H-59.1z" fill="#4d4d4d"/>
<path d="M-39.5 19.8H-19.3V40.4H-39.5z" fill="#4c4c4c"/>
<path d="M-19.9 19.8H0.3V40.4H-19.9z" fill="#525252"/>
<path d="M-0.3 19.8H19.9V40.4H-0.3z" fill="#5c5c5c"/>
<path d="M19.3 19.8H39.5V40.4H19.3z" fill="#676767"/>
<path d="M38.9 19.8H59.1V40.4H38.9z" fill="#707070"/>
<path d="M58.5 19.8H78.8V40.4H58.5z" fill="#757575"/>
<path d="M78.2 19.8H132.4V40.4H78.2z" fill="#767676"/>
<path d="M-132.4 39.8H-78.2V60.5H-132.4z" fill="#4f4f4f"/>
<path d="M-78.8 39.8H-58.5V60.5H-78.8z" fill="#4d4d4d"/>
<path d="M-59.1 39.8H-38.9V60.5H-59.1z" fill="#494949"/>
<path d="M-39.5 39.8H-19.3V60.5H-39.5z" fill="#4b4b4b"/>
<path d="M-19.9 39.8H0.3V60.5H-19.9z" fill="#4f4f4f"/>
<path d="M-0.3 39.8H19.9V60.5H-0.3z" fill="#525252"/>
<path d="M19.3 39.8H39.5V60.5H19.3z" fill="#525252"/>
<path d="M38.9 39.8H59.1V60.5H38.9z" fill="#565656"/>
<path d="M58.5 39.8H78.8V60.5H58.5z" fill="#636363"/>
<path d="M78.2 39.8H132.4V60.5H78.2z" fill="#676767"/>
<path d="M-132.4 59.9H-78.2V80.6H-132.4z" fill="#515151"/>
<path d="M-78.8 59.9H-58.5V80.6H-78.8z" fill="#505050"/>
<path d="M-59.1 59.9H-38.9V80.6H-59.1z" fill="#4e4e4e"/>
<path d="M-39.5 59.9H-19.3V80.6H-39.5z" fill="#4c4c4c"/>
<path d="M-19.9 59.9H0.3V80.6H-19.9z" fill="#4b4b4b"/>
<path d="M-0.3 59.9H19.9V80.6H-0.3z" fill="#494949"/>
<path d="M19.3 59.9H39.5V80.6H19.3z" fill="#494949"/>
<path d="M38.9 59.9H59.1V80.6H38.9z" fill="#4f4f4f"/>
<path d="M58.5 59.9H78.8V80.6H58.5z" fill="#5f5f5f"/>
<path d="M78.2 59.9H132.4V80.6H78.2z" fill="#646464"/>
<path d="M-132.4 80H-78.2V134.6H-132.4z" fill="#555555"/>
<path d="M-78.8 80H-58.5V134.6H-78.8z" fill="#555555"/>
<path d="M-59.1 80H-38.9V134.6H-59.1z" fill="#515151"/>
<path d="M-39.5 80H-19.3V134.6H-39.5z" fill="#4d4d4d"/>
<path d="M-19.9 80H0.3V134.6H-19.9z" fill="#494949"/>
<path d="M-0.3 80H19.9V134.6H-0.3z" fill="#484848"/>
<path d="M19.3 80H39.5V134.6H19.3z" fill="#4a4a4a"/>
<path d="M38.9 80H59.1V134.6H38.9z" fill="#525252"/>
<path d="M58.5 80H78.8V134.6H58.5z" fill="#626262"/>
<path d="M78.2 80H132.4V134.6H78.2z" fill="#666666"/>
</g>
<path class="ct r" d="M-74.8 -61l34.3 0.5 19.7 1.2 17.1 2.4 31.9 7.8 12.3 2 17.1 1.4 27 0.1M-84.6 -46.3l17.2 0.9 31.9 3.3 31.8 1.2 63.8 3.7 26.9 0.7M-87 -36.1l12.2 1 9.8 1.7 7.4 2.2 22.1 8.2 9.8 1.7 9.8-0.8 26.9-6.2 17.2-1.9 19.6-0.4 41.7 1.8M-91.9 -26.4l9.8 0.7 9.8 1.8 7.3 2.6 4.7 2.5 6.4 5 4.7 5 5.1 7.5 2.5 5.1 1.7 5 0.9 5-0.3 5-1.7 5-2.9 5-3.8 5.1-15.3 17.5-1.4 2.5-0.6 2.5 0.4 2.5 1.5 2.6 2.4 2.5 14.7 10 5.2 5 3.1 5 2.2 7M38.6 89l1.2-10-0.3-5-1.9-5-2-2.5-2.5-1.9-4.9-2.5-4.9-1.4-19.6-2.7-7.4-1.6-5.7-2.5-3.2-2.5-2.2-2.5-3.6-7.5-2.2-10-0.1-5.1 0.7-5 2.9-7.5 2.9-5 5.5-7.5 9.4-10.1 5.4-4.1 4.9-2.9 9.8-4 12.3-2.7 12.3-1.1 9.8 0.1 36.7 2.1M65.7 71.5l-0.8-5-1.8-5-3.1-5.1-5-5-8.7-5-23-9-4.9-2.9-3.6-3.1-3.6-5.1-2.4-7.5 0.1-7.5 1.3-5 4.2-7.6 4.6-5 7.4-5 9.1-3.3 9.5-1.7 7.7-0.3 41.7 3.1M-94.4 -15.7l7.4 0.7 7.3 1.4 4.9 1.7 4.9 2.8 5 5.3 2.4 5.1 1 5-0.2 5-1.4 5-1.9 3.5-3.2 4-4.1 3.4-4.9 2.6-4.9 1.7-7.4 1.5M84.6 44.5l-7.4-1.8-9.8-3.1-21.7-8.2-7.7-3.9-5.1-3.7-4.2-5-1.9-5 0-5 1.9-5 4.2-5.1 5.1-3.3 7.4-2.6 4.9-0.7 7.3 0.1 24.5 3.2 12.3 0.9"/>
</g>
<use href="#hR"/>
<use href="#mR"/>
</g>
<g transform="translate(1589.7,593.4)">
<g clip-path="url(#cR)">
<g filter="url(#fR)">
<path d="M-132.4 -134.6H-78.2V-80H-132.4z" fill="#111111"/>
<path d="M-78.8 -134.6H-58.5V-80H-78.8z" fill="#111111"/>
<path d="M-59.1 -134.6H-38.9V-80H-59.1z" fill="#101010"/>
<path d="M-39.5 -134.6H-19.3V-80H-39.5z" fill="#0e0e0e"/>
<path d="M-19.9 -134.6H0.3V-80H-19.9z" fill="#0b0b0b"/>
<path d="M-0.3 -134.6H19.9V-80H-0.3z" fill="#0a0a0a"/>
<path d="M19.3 -134.6H39.5V-80H19.3z" fill="#0a0a0a"/>
<path d="M38.9 -134.6H59.1V-80H38.9z" fill="#0b0b0b"/>
<path d="M58.5 -134.6H78.8V-80H58.5z" fill="#0d0d0d"/>
<path d="M78.2 -134.6H132.4V-80H78.2z" fill="#0d0d0d"/>
<path d="M-132.4 -80.6H-78.2V-59.9H-132.4z" fill="#151515"/>
<path d="M-78.8 -80.6H-58.5V-59.9H-78.8z" fill="#151515"/>
<path d="M-59.1 -80.6H-38.9V-59.9H-59.1z" fill="#161616"/>
<path d="M-39.5 -80.6H-19.3V-59.9H-39.5z" fill="#181818"/>
<path d="M-19.9 -80.6H0.3V-59.9H-19.9z" fill="#171717"/>
<path d="M-0.3 -80.6H19.9V-59.9H-0.3z" fill="#131313"/>
<path d="M19.3 -80.6H39.5V-59.9H19.3z" fill="#0c0c0c"/>
<path d="M38.9 -80.6H59.1V-59.9H38.9z" fill="#080808"/>
<path d="M58.5 -80.6H78.8V-59.9H58.5z" fill="#0c0c0c"/>
<path d="M78.2 -80.6H132.4V-59.9H78.2z" fill="#0e0e0e"/>
<path d="M-132.4 -60.5H-78.2V-39.8H-132.4z" fill="#1c1c1c"/>
<path d="M-78.8 -60.5H-58.5V-39.8H-78.8z" fill="#1d1d1d"/>
<path d="M-59.1 -60.5H-38.9V-39.8H-59.1z" fill="#292929"/>
<path d="M-39.5 -60.5H-19.3V-39.8H-39.5z" fill="#383838"/>
<path d="M-19.9 -60.5H0.3V-39.8H-19.9z" fill="#414141"/>
<path d="M-0.3 -60.5H19.9V-39.8H-0.3z" fill="#393939"/>
<path d="M19.3 -60.5H39.5V-39.8H19.3z" fill="#242424"/>
<path d="M38.9 -60.5H59.1V-39.8H38.9z" fill="#121212"/>
<path d="M58.5 -60.5H78.8V-39.8H58.5z" fill="#111111"/>
<path d="M78.2 -60.5H132.4V-39.8H78.2z" fill="#151515"/>
<path d="M-132.4 -40.4H-78.2V-19.8H-132.4z" fill="#1b1b1b"/>
<path d="M-78.8 -40.4H-58.5V-19.8H-78.8z" fill="#1e1e1e"/>
<path d="M-59.1 -40.4H-38.9V-19.8H-59.1z" fill="#313131"/>
<path d="M-39.5 -40.4H-19.3V-19.8H-39.5z" fill="#454545"/>
<path d="M-19.9 -40.4H0.3V-19.8H-19.9z" fill="#545454"/>
<path d="M-0.3 -40.4H19.9V-19.8H-0.3z" fill="#585858"/>
<path d="M19.3 -40.4H39.5V-19.8H19.3z" fill="#4e4e4e"/>
<path d="M38.9 -40.4H59.1V-19.8H38.9z" fill="#3a3a3a"/>
<path d="M58.5 -40.4H78.8V-19.8H58.5z" fill="#222222"/>
<path d="M78.2 -40.4H132.4V-19.8H78.2z" fill="#1d1d1d"/>
<path d="M-132.4 -20.4H-78.2V0.3H-132.4z" fill="#1b1b1b"/>
<path d="M-78.8 -20.4H-58.5V0.3H-78.8z" fill="#212121"/>
<path d="M-59.1 -20.4H-38.9V0.3H-59.1z" fill="#383838"/>
<path d="M-39.5 -20.4H-19.3V0.3H-39.5z" fill="#4c4c4c"/>
<path d="M-19.9 -20.4H0.3V0.3H-19.9z" fill="#5d5d5d"/>
<path d="M-0.3 -20.4H19.9V0.3H-0.3z" fill="#6e6e6e"/>
<path d="M19.3 -20.4H39.5V0.3H19.3z" fill="#767676"/>
<path d="M38.9 -20.4H59.1V0.3H38.9z" fill="#6a6a6a"/>
<path d="M58.5 -20.4H78.8V0.3H58.5z" fill="#3a3a3a"/>
<path d="M78.2 -20.4H132.4V0.3H78.2z" fill="#2a2a2a"/>
<path d="M-132.4 -0.3H-78.2V20.4H-132.4z" fill="#282828"/>
<path d="M-78.8 -0.3H-58.5V20.4H-78.8z" fill="#2f2f2f"/>
<path d="M-59.1 -0.3H-38.9V20.4H-59.1z" fill="#494949"/>
<path d="M-39.5 -0.3H-19.3V20.4H-39.5z" fill="#585858"/>
<path d="M-19.9 -0.3H0.3V20.4H-19.9z" fill="#656565"/>
<path d="M-0.3 -0.3H19.9V20.4H-0.3z" fill="#7a7a7a"/>
<path d="M19.3 -0.3H39.5V20.4H19.3z" fill="#8d8d8d"/>
<path d="M38.9 -0.3H59.1V20.4H38.9z" fill="#898989"/>
<path d="M58.5 -0.3H78.8V20.4H58.5z" fill="#555555"/>
<path d="M78.2 -0.3H132.4V20.4H78.2z" fill="#434343"/>
<path d="M-132.4 19.8H-78.2V40.4H-132.4z" fill="#414141"/>
<path d="M-78.8 19.8H-58.5V40.4H-78.8z" fill="#494949"/>
<path d="M-59.1 19.8H-38.9V40.4H-59.1z" fill="#636363"/>
<path d="M-39.5 19.8H-19.3V40.4H-39.5z" fill="#6b6b6b"/>
<path d="M-19.9 19.8H0.3V40.4H-19.9z" fill="#6f6f6f"/>
<path d="M-0.3 19.8H19.9V40.4H-0.3z" fill="#7c7c7c"/>
<path d="M19.3 19.8H39.5V40.4H19.3z" fill="#8f8f8f"/>
<path d="M38.9 19.8H59.1V40.4H38.9z" fill="#929292"/>
<path d="M58.5 19.8H78.8V40.4H58.5z" fill="#6f6f6f"/>
<path d="M78.2 19.8H132.4V40.4H78.2z" fill="#616161"/>
<path d="M-132.4 39.8H-78.2V60.5H-132.4z" fill="#5a5a5a"/>
<path d="M-78.8 39.8H-58.5V60.5H-78.8z" fill="#636363"/>
<path d="M-59.1 39.8H-38.9V60.5H-59.1z" fill="#7a7a7a"/>
<path d="M-39.5 39.8H-19.3V60.5H-39.5z" fill="#7b7b7b"/>
<path d="M-19.9 39.8H0.3V60.5H-19.9z" fill="#767676"/>
<path d="M-0.3 39.8H19.9V60.5H-0.3z" fill="#797979"/>
<path d="M19.3 39.8H39.5V60.5H19.3z" fill="#858585"/>
<path d="M38.9 39.8H59.1V60.5H38.9z" fill="#8c8c8c"/>
<path d="M58.5 39.8H78.8V60.5H58.5z" fill="#7e7e7e"/>
<path d="M78.2 39.8H132.4V60.5H78.2z" fill="#777777"/>
<path d="M-132.4 59.9H-78.2V80.6H-132.4z" fill="#696969"/>
<path d="M-78.8 59.9H-58.5V80.6H-78.8z" fill="#717171"/>
<path d="M-59.1 59.9H-38.9V80.6H-59.1z" fill="#828282"/>
<path d="M-39.5 59.9H-19.3V80.6H-39.5z" fill="#7f7f7f"/>
<path d="M-19.9 59.9H0.3V80.6H-19.9z" fill="#757575"/>
<path d="M-0.3 59.9H19.9V80.6H-0.3z" fill="#737373"/>
<path d="M19.3 59.9H39.5V80.6H19.3z" fill="#7a7a7a"/>
<path d="M38.9 59.9H59.1V80.6H38.9z" fill="#818181"/>
<path d="M58.5 59.9H78.8V80.6H58.5z" fill="#7c7c7c"/>
<path d="M78.2 59.9H132.4V80.6H78.2z" fill="#787878"/>
<path d="M-132.4 80H-78.2V134.6H-132.4z" fill="#6a6a6a"/>
<path d="M-78.8 80H-58.5V134.6H-78.8z" fill="#717171"/>
<path d="M-59.1 80H-38.9V134.6H-59.1z" fill="#818181"/>
<path d="M-39.5 80H-19.3V134.6H-39.5z" fill="#7d7d7d"/>
<path d="M-19.9 80H0.3V134.6H-19.9z" fill="#737373"/>
<path d="M-0.3 80H19.9V134.6H-0.3z" fill="#717171"/>
<path d="M19.3 80H39.5V134.6H19.3z" fill="#787878"/>
<path d="M38.9 80H59.1V134.6H38.9z" fill="#7e7e7e"/>
<path d="M58.5 80H78.8V134.6H58.5z" fill="#797979"/>
<path d="M78.2 80H132.4V134.6H78.2z" fill="#757575"/>
</g>
<path class="ct r" d="M-94.4 -12.9l3-0.9 4.4-2.3 4.7-5.2 2.6-6.1 3.7-14 4.7-7.5 5.1-5 7-5 8.9-4.5 12.3-3.8 9.8-1.6 9.8-0.5 9.8 0.3 9.8 1.4 9.8 2.4 12.3 4.8 17.2 9 10.9 5 25.8 10.4 12.3 3.5M-94.4 14.8l7.4-1.1 7.3-2.2 5.4-2.7 6.5-5 5.3-6.2 4-6.4 3.5-7.5 6.3-17.6 2.4-5 3.3-5 5-5 4.9-3.1 7.4-2.8 7.7-1.6 9.4-0.5 7.4 0.6 9.8 2.2 9.8 3.7 34.5 16.5 7.9 5.1 14 11.2 7.3 5.2 7.4 3.5 4.9 1.2M-89.5 30l7.4-1.7 7.3-2.9 7.4-4.3 5.9-4.8 9.9-10 7.9-10.1 4.5-7.5 8.2-17.5 5.3-7.3 3-2.8 4.3-2.6 4.9-1.9 4.9-0.9 9.8 0.3 9.8 2.2 19.6 7.2 14.8 6.5 7.2 4.3 5 3.9 14.7 15.5 7.4 6.3 7.3 4 7.4 2.1M-84.6 44.2l9.8-3.8 7.4-4.4 31.4-24.7 5.3-5 4.2-5 10.6-17.6 4.9-6.4 4.9-3.8 7.3-2.5 9.8-0.2 9.8 1.7 12.3 3.3 12.3 5.3 4.9 3.1 5 4.5 14.6 18.3 7.3 7.3 7.4 4.5 8.8 2.5M-74.8 59.8l17.5-15.9 7-5.7 7.4-4.5 19.6-9.1 5.1-3.3 2.8-2.5 4.2-5 10-16.9 4.5-5.7 5.3-3.8 7.3-2.5 7.4-0.6 7.3 0.9 7.4 2.1 7.4 3.7 4.9 3.9 4.9 5.5 12.2 18.8 4.9 5.9 7.4 5.9 4.9 2.4 4.9 1.7M33.5 91.6l-1.6-7.6-3.1-7.5-5-7.5-12.3-15.1-2.8-5-1.6-5-0.6-5 0.1-7.5 2.4-12.6 3.9-10 3-4.3 2.5-2.4 5.8-3.4 6.4-0.9 7.4 1.4 4.9 2.4 2.9 2.2 4.5 4.8 2.4 3.6 12.3 25 12.7 19.2M-56.5 79l1.3-6.9 2.4-5.6 2.5-3.8 3.8-3.8 3.6-2.3 4.9-1.5 4.9-0.1 4.8 1.4 3.2 2.5 1.7 2.6 1.6 5 0.3 7.5-2 20.1"/>
</g>
<use href="#hR"/>
<use href="#nR"/>
</g>
<g transform="translate(1854.4,593.4)">
<g clip-path="url(#cR)">
<g filter="url(#fR)">
<path d="M-132.4 -134.6H-78.2V-80H-132.4z" fill="#0f0f0f"/>
<path d="M-78.8 -134.6H-58.5V-80H-78.8z" fill="#0f0f0f"/>
<path d="M-59.1 -134.6H-38.9V-80H-59.1z" fill="#0e0e0e"/>
<path d="M-39.5 -134.6H-19.3V-80H-39.5z" fill="#0c0c0c"/>
<path d="M-19.9 -134.6H0.3V-80H-19.9z" fill="#0b0b0b"/>
<path d="M-0.3 -134.6H19.9V-80H-0.3z" fill="#0a0a0a"/>
<path d="M19.3 -134.6H39.5V-80H19.3z" fill="#0a0a0a"/>
<path d="M38.9 -134.6H59.1V-80H38.9z" fill="#0b0b0b"/>
<path d="M58.5 -134.6H78.8V-80H58.5z" fill="#0c0c0c"/>
<path d="M78.2 -134.6H132.4V-80H78.2z" fill="#0d0d0d"/>
<path d="M-132.4 -80.6H-78.2V-59.9H-132.4z" fill="#121212"/>
<path d="M-78.8 -80.6H-58.5V-59.9H-78.8z" fill="#111111"/>
<path d="M-59.1 -80.6H-38.9V-59.9H-59.1z" fill="#111111"/>
<path d="M-39.5 -80.6H-19.3V-59.9H-39.5z" fill="#131313"/>
<path d="M-19.9 -80.6H0.3V-59.9H-19.9z" fill="#141414"/>
<path d="M-0.3 -80.6H19.9V-59.9H-0.3z" fill="#111111"/>
<path d="M19.3 -80.6H39.5V-59.9H19.3z" fill="#0b0b0b"/>
<path d="M38.9 -80.6H59.1V-59.9H38.9z" fill="#080808"/>
<path d="M58.5 -80.6H78.8V-59.9H58.5z" fill="#0c0c0c"/>
<path d="M78.2 -80.6H132.4V-59.9H78.2z" fill="#0e0e0e"/>
<path d="M-132.4 -60.5H-78.2V-39.8H-132.4z" fill="#161616"/>
<path d="M-78.8 -60.5H-58.5V-39.8H-78.8z" fill="#171717"/>
<path d="M-59.1 -60.5H-38.9V-39.8H-59.1z" fill="#202020"/>
<path d="M-39.5 -60.5H-19.3V-39.8H-39.5z" fill="#2e2e2e"/>
<path d="M-19.9 -60.5H0.3V-39.8H-19.9z" fill="#383838"/>
<path d="M-0.3 -60.5H19.9V-39.8H-0.3z" fill="#333333"/>
<path d="M19.3 -60.5H39.5V-39.8H19.3z" fill="#222222"/>
<path d="M38.9 -60.5H59.1V-39.8H38.9z" fill="#111111"/>
<path d="M58.5 -60.5H78.8V-39.8H58.5z" fill="#0f0f0f"/>
<path d="M78.2 -60.5H132.4V-39.8H78.2z" fill="#121212"/>
<path d="M-132.4 -40.4H-78.2V-19.8H-132.4z" fill="#141414"/>
<path d="M-78.8 -40.4H-58.5V-19.8H-78.8z" fill="#181818"/>
<path d="M-59.1 -40.4H-38.9V-19.8H-59.1z" fill="#2c2c2c"/>
<path d="M-39.5 -40.4H-19.3V-19.8H-39.5z" fill="#424242"/>
<path d="M-19.9 -40.4H0.3V-19.8H-19.9z" fill="#535353"/>
<path d="M-0.3 -40.4H19.9V-19.8H-0.3z" fill="#575757"/>
<path d="M19.3 -40.4H39.5V-19.8H19.3z" fill="#4c4c4c"/>
<path d="M38.9 -40.4H59.1V-19.8H38.9z" fill="#373737"/>
<path d="M58.5 -40.4H78.8V-19.8H58.5z" fill="#1b1b1b"/>
<path d="M78.2 -40.4H132.4V-19.8H78.2z" fill="#151515"/>
<path d="M-132.4 -20.4H-78.2V0.3H-132.4z" fill="#161616"/>
<path d="M-78.8 -20.4H-58.5V0.3H-78.8z" fill="#1d1d1d"/>
<path d="M-59.1 -20.4H-38.9V0.3H-59.1z" fill="#393939"/>
<path d="M-39.5 -20.4H-19.3V0.3H-39.5z" fill="#525252"/>
<path d="M-19.9 -20.4H0.3V0.3H-19.9z" fill="#656565"/>
<path d="M-0.3 -20.4H19.9V0.3H-0.3z" fill="#747474"/>
<path d="M19.3 -20.4H39.5V0.3H19.3z" fill="#777777"/>
<path d="M38.9 -20.4H59.1V0.3H38.9z" fill="#646464"/>
<path d="M58.5 -20.4H78.8V0.3H58.5z" fill="#2f2f2f"/>
<path d="M78.2 -20.4H132.4V0.3H78.2z" fill="#202020"/>
<path d="M-132.4 -0.3H-78.2V20.4H-132.4z" fill="#252525"/>
<path d="M-78.8 -0.3H-58.5V20.4H-78.8z" fill="#2d2d2d"/>
<path d="M-59.1 -0.3H-38.9V20.4H-59.1z" fill="#4a4a4a"/>
<path d="M-39.5 -0.3H-19.3V20.4H-39.5z" fill="#5f5f5f"/>
<path d="M-19.9 -0.3H0.3V20.4H-19.9z" fill="#707070"/>
<path d="M-0.3 -0.3H19.9V20.4H-0.3z" fill="#848484"/>
<path d="M19.3 -0.3H39.5V20.4H19.3z" fill="#929292"/>
<path d="M38.9 -0.3H59.1V20.4H38.9z" fill="#878787"/>
<path d="M58.5 -0.3H78.8V20.4H58.5z" fill="#4d4d4d"/>
<path d="M78.2 -0.3H132.4V20.4H78.2z" fill="#3a3a3a"/>
<path d="M-132.4 19.8H-78.2V40.4H-132.4z" fill="#404040"/>
<path d="M-78.8 19.8H-58.5V40.4H-78.8z" fill="#474747"/>
<path d="M-59.1 19.8H-38.9V40.4H-59.1z" fill="#5d5d5d"/>
<path d="M-39.5 19.8H-19.3V40.4H-39.5z" fill="#6a6a6a"/>
<path d="M-19.9 19.8H0.3V40.4H-19.9z" fill="#757575"/>
<path d="M-0.3 19.8H19.9V40.4H-0.3z" fill="#868686"/>
<path d="M19.3 19.8H39.5V40.4H19.3z" fill="#979797"/>
<path d="M38.9 19.8H59.1V40.4H38.9z" fill="#969696"/>
<path d="M58.5 19.8H78.8V40.4H58.5z" fill="#6d6d6d"/>
<path d="M78.2 19.8H132.4V40.4H78.2z" fill="#5e5e5e"/>
<path d="M-132.4 39.8H-78.2V60.5H-132.4z" fill="#5b5b5b"/>
<path d="M-78.8 39.8H-58.5V60.5H-78.8z" fill="#606060"/>
<path d="M-59.1 39.8H-38.9V60.5H-59.1z" fill="#6d6d6d"/>
<path d="M-39.5 39.8H-19.3V60.5H-39.5z" fill="#717171"/>
<path d="M-19.9 39.8H0.3V60.5H-19.9z" fill="#747474"/>
<path d="M-0.3 39.8H19.9V60.5H-0.3z" fill="#7f7f7f"/>
<path d="M19.3 39.8H39.5V60.5H19.3z" fill="#909090"/>
<path d="M38.9 39.8H59.1V60.5H38.9z" fill="#969696"/>
<path d="M58.5 39.8H78.8V60.5H58.5z" fill="#838383"/>
<path d="M78.2 39.8H132.4V60.5H78.2z" fill="#7a7a7a"/>
<path d="M-132.4 59.9H-78.2V80.6H-132.4z" fill="#6a6a6a"/>
<path d="M-78.8 59.9H-58.5V80.6H-78.8z" fill="#6d6d6d"/>
<path d="M-59.1 59.9H-38.9V80.6H-59.1z" fill="#727272"/>
<path d="M-39.5 59.9H-19.3V80.6H-39.5z" fill="#717171"/>
<path d="M-19.9 59.9H0.3V80.6H-19.9z" fill="#707070"/>
<path d="M-0.3 59.9H19.9V80.6H-0.3z" fill="#777777"/>
<path d="M19.3 59.9H39.5V80.6H19.3z" fill="#848484"/>
<path d="M38.9 59.9H59.1V80.6H38.9z" fill="#8b8b8b"/>
<path d="M58.5 59.9H78.8V80.6H58.5z" fill="#808080"/>
<path d="M78.2 59.9H132.4V80.6H78.2z" fill="#7a7a7a"/>
<path d="M-132.4 80H-78.2V134.6H-132.4z" fill="#6a6a6a"/>
<path d="M-78.8 80H-58.5V134.6H-78.8z" fill="#6d6d6d"/>
<path d="M-59.1 80H-38.9V134.6H-59.1z" fill="#727272"/>
<path d="M-39.5 80H-19.3V134.6H-39.5z" fill="#707070"/>
<path d="M-19.9 80H0.3V134.6H-19.9z" fill="#6e6e6e"/>
<path d="M-0.3 80H19.9V134.6H-0.3z" fill="#767676"/>
<path d="M19.3 80H39.5V134.6H19.3z" fill="#828282"/>
<path d="M38.9 80H59.1V134.6H38.9z" fill="#888888"/>
<path d="M58.5 80H78.8V134.6H58.5z" fill="#7b7b7b"/>
<path d="M78.2 80H132.4V134.6H78.2z" fill="#757575"/>
</g>
<path class="ct r" d="M-95.9 -1.3l6.4-1 4.9-1.6 4.9-2.6 4.9-4.3 5.2-8 9.8-22.6 4.6-6.6 4.9-4.6 7.4-4.7 7.4-3.2 9.8-2.8 9.8-1.4 9.8-0.1 9.8 1 9.8 2.2 9.8 3.6 33.4 16.6 7.5 5 17.9 14.4 5.6 3.2 6.7 2.3M-94.4 18.4l7.4-1 7.3-1.9 4.9-2.2 4.9-3.2 4.9-4.9 4.8-6.5 14.8-27.1 3.7-5.5 4.2-5 5.9-5 5.9-3.5 7.3-2.8 7.4-1.4 9.8-0.2 12.2 2.1 12.3 4.3 17.2 7.6 9.8 5.4 7.3 5.7 14.7 16.1 7.4 6.5 7.3 4.1 7.4 2M-89.5 32.9l7.4-1.2 7.3-2.3 4.9-2.4 4.9-3.4 5.3-4.8 6.3-7.5 6.9-10 12.5-20.1 8.3-10 4.9-4.1 4.9-2.9 4.9-2 7.3-1.4 9.8 0.2 9.8 1.9 14.7 4.8 12.3 5.8 7.4 4.8 4.9 4.4 14.7 18.4 7.3 7 7.4 4.2 9.8 2.6M-82.1 47.7l7.3-2 4.9-2 4.9-2.7 7.4-5.6 9.2-9.1 7.9-9 18.1-26.1 6.2-7.5 5.2-4.4 4.9-2.8 4.9-1.8 4.9-1 9.8 0 9.8 1.7 9.8 3 9.8 4.8 4.9 3.4 4.9 4.7 14.7 20.1 4.9 5.4 4.9 3.8 4.9 2.7 4.9 1.9 5.4 1.1M-65 69.7l14.5-13.3 15-12.4 5-5.1 7.2-10.4 13.1-24.7 5.5-7.6 3.5-3.3 4.9-3.4 7.3-2.7 7.4-0.8 9.8 1.1 7.3 2.4 7.4 4.2 4.9 4.1 4.9 5.7 11.6 17.8 5.6 6.8 7.3 6 4.9 2.7 4.9 1.7M25.3 94.1l-1.2-10.1-2.7-10-3.4-7.5-9.6-17.6-2.8-7.5-1.5-7.5 0-10.1 1.7-7.5 3.8-7.5 5-5 3.8-2.1 4.9-1.4 7.3 0.2 7.4 2.8 7.1 5.5 7.3 10 10.1 18.7 8.7 13.9 2.2 5 0.6 5.1"/>
</g>
<use href="#hR"/>
<use href="#nR"/>
</g>
<g transform="translate(2121.8,593.4)">
<g clip-path="url(#cR)">
<g filter="url(#fR)">
<path d="M-132.4 -134.6H-78.2V-80H-132.4z" fill="#151515"/>
<path d="M-78.8 -134.6H-58.5V-80H-78.8z" fill="#151515"/>
<path d="M-59.1 -134.6H-38.9V-80H-59.1z" fill="#131313"/>
<path d="M-39.5 -134.6H-19.3V-80H-39.5z" fill="#101010"/>
<path d="M-19.9 -134.6H0.3V-80H-19.9z" fill="#0e0e0e"/>
<path d="M-0.3 -134.6H19.9V-80H-0.3z" fill="#0c0c0c"/>
<path d="M19.3 -134.6H39.5V-80H19.3z" fill="#0c0c0c"/>
<path d="M38.9 -134.6H59.1V-80H38.9z" fill="#0d0d0d"/>
<path d="M58.5 -134.6H78.8V-80H58.5z" fill="#0f0f0f"/>
<path d="M78.2 -134.6H132.4V-80H78.2z" fill="#0f0f0f"/>
<path d="M-132.4 -80.6H-78.2V-59.9H-132.4z" fill="#161616"/>
<path d="M-78.8 -80.6H-58.5V-59.9H-78.8z" fill="#161616"/>
<path d="M-59.1 -80.6H-38.9V-59.9H-59.1z" fill="#181818"/>
<path d="M-39.5 -80.6H-19.3V-59.9H-39.5z" fill="#1a1a1a"/>
<path d="M-19.9 -80.6H0.3V-59.9H-19.9z" fill="#1a1a1a"/>
<path d="M-0.3 -80.6H19.9V-59.9H-0.3z" fill="#171717"/>
<path d="M19.3 -80.6H39.5V-59.9H19.3z" fill="#121212"/>
<path d="M38.9 -80.6H59.1V-59.9H38.9z" fill="#0e0e0e"/>
<path d="M58.5 -80.6H78.8V-59.9H58.5z" fill="#0e0e0e"/>
<path d="M78.2 -80.6H132.4V-59.9H78.2z" fill="#0f0f0f"/>
<path d="M-132.4 -60.5H-78.2V-39.8H-132.4z" fill="#1b1b1b"/>
<path d="M-78.8 -60.5H-58.5V-39.8H-78.8z" fill="#1d1d1d"/>
<path d="M-59.1 -60.5H-38.9V-39.8H-59.1z" fill="#2d2d2d"/>
<path d="M-39.5 -60.5H-19.3V-39.8H-39.5z" fill="#3e3e3e"/>
<path d="M-19.9 -60.5H0.3V-39.8H-19.9z" fill="#484848"/>
<path d="M-0.3 -60.5H19.9V-39.8H-0.3z" fill="#444444"/>
<path d="M19.3 -60.5H39.5V-39.8H19.3z" fill="#343434"/>
<path d="M38.9 -60.5H59.1V-39.8H38.9z" fill="#202020"/>
<path d="M58.5 -60.5H78.8V-39.8H58.5z" fill="#141414"/>
<path d="M78.2 -60.5H132.4V-39.8H78.2z" fill="#141414"/>
<path d="M-132.4 -40.4H-78.2V-19.8H-132.4z" fill="#232323"/>
<path d="M-78.8 -40.4H-58.5V-19.8H-78.8z" fill="#282828"/>
<path d="M-59.1 -40.4H-38.9V-19.8H-59.1z" fill="#3f3f3f"/>
<path d="M-39.5 -40.4H-19.3V-19.8H-39.5z" fill="#535353"/>
<path d="M-19.9 -40.4H0.3V-19.8H-19.9z" fill="#606060"/>
<path d="M-0.3 -40.4H19.9V-19.8H-0.3z" fill="#636363"/>
<path d="M19.3 -40.4H39.5V-19.8H19.3z" fill="#5b5b5b"/>
<path d="M38.9 -40.4H59.1V-19.8H38.9z" fill="#464646"/>
<path d="M58.5 -40.4H78.8V-19.8H58.5z" fill="#262626"/>
<path d="M78.2 -40.4H132.4V-19.8H78.2z" fill="#1e1e1e"/>
<path d="M-132.4 -20.4H-78.2V0.3H-132.4z" fill="#2e2e2e"/>
<path d="M-78.8 -20.4H-58.5V0.3H-78.8z" fill="#353535"/>
<path d="M-59.1 -20.4H-38.9V0.3H-59.1z" fill="#4f4f4f"/>
<path d="M-39.5 -20.4H-19.3V0.3H-39.5z" fill="#5f5f5f"/>
<path d="M-19.9 -20.4H0.3V0.3H-19.9z" fill="#6b6b6b"/>
<path d="M-0.3 -20.4H19.9V0.3H-0.3z" fill="#777777"/>
<path d="M19.3 -20.4H39.5V0.3H19.3z" fill="#7d7d7d"/>
<path d="M38.9 -20.4H59.1V0.3H38.9z" fill="#707070"/>
<path d="M58.5 -20.4H78.8V0.3H58.5z" fill="#3f3f3f"/>
<path d="M78.2 -20.4H132.4V0.3H78.2z" fill="#2f2f2f"/>
<path d="M-132.4 -0.3H-78.2V20.4H-132.4z" fill="#3d3d3d"/>
<path d="M-78.8 -0.3H-58.5V20.4H-78.8z" fill="#454545"/>
<path d="M-59.1 -0.3H-38.9V20.4H-59.1z" fill="#5d5d5d"/>
<path d="M-39.5 -0.3H-19.3V20.4H-39.5z" fill="#686868"/>
<path d="M-19.9 -0.3H0.3V20.4H-19.9z" fill="#717171"/>
<path d="M-0.3 -0.3H19.9V20.4H-0.3z" fill="#818181"/>
<path d="M19.3 -0.3H39.5V20.4H19.3z" fill="#929292"/>
<path d="M38.9 -0.3H59.1V20.4H38.9z" fill="#8d8d8d"/>
<path d="M58.5 -0.3H78.8V20.4H58.5z" fill="#5c5c5c"/>
<path d="M78.2 -0.3H132.4V20.4H78.2z" fill="#4a4a4a"/>
<path d="M-132.4 19.8H-78.2V40.4H-132.4z" fill="#4f4f4f"/>
<path d="M-78.8 19.8H-58.5V40.4H-78.8z" fill="#555555"/>
<path d="M-59.1 19.8H-38.9V40.4H-59.1z" fill="#696969"/>
<path d="M-39.5 19.8H-19.3V40.4H-39.5z" fill="#707070"/>
<path d="M-19.9 19.8H0.3V40.4H-19.9z" fill="#757575"/>
<path d="M-0.3 19.8H19.9V40.4H-0.3z" fill="#848484"/>
<path d="M19.3 19.8H39.5V40.4H19.3z" fill="#979797"/>
<path d="M38.9 19.8H59.1V40.4H38.9z" fill="#999999"/>
<path d="M58.5 19.8H78.8V40.4H58.5z" fill="#757575"/>
<path d="M78.2 19.8H132.4V40.4H78.2z" fill="#686868"/>
<path d="M-132.4 39.8H-78.2V60.5H-132.4z" fill="#5f5f5f"/>
<path d="M-78.8 39.8H-58.5V60.5H-78.8z" fill="#646464"/>
<path d="M-59.1 39.8H-38.9V60.5H-59.1z" fill="#717171"/>
<path d="M-39.5 39.8H-19.3V60.5H-39.5z" fill="#757575"/>
<path d="M-19.9 39.8H0.3V60.5H-19.9z" fill="#777777"/>
<path d="M-0.3 39.8H19.9V60.5H-0.3z" fill="#818181"/>
<path d="M19.3 39.8H39.5V60.5H19.3z" fill="#8f8f8f"/>
<path d="M38.9 39.8H59.1V60.5H38.9z" fill="#959595"/>
<path d="M58.5 39.8H78.8V60.5H58.5z" fill="#848484"/>
<path d="M78.2 39.8H132.4V60.5H78.2z" fill="#7c7c7c"/>
<path d="M-132.4 59.9H-78.2V80.6H-132.4z" fill="#696969"/>
<path d="M-78.8 59.9H-58.5V80.6H-78.8z" fill="#6c6c6c"/>
<path d="M-59.1 59.9H-38.9V80.6H-59.1z" fill="#747474"/>
<path d="M-39.5 59.9H-19.3V80.6H-39.5z" fill="#757575"/>
<path d="M-19.9 59.9H0.3V80.6H-19.9z" fill="#757575"/>
<path d="M-0.3 59.9H19.9V80.6H-0.3z" fill="#797979"/>
<path d="M19.3 59.9H39.5V80.6H19.3z" fill="#818181"/>
<path d="M38.9 59.9H59.1V80.6H38.9z" fill="#858585"/>
<path d="M58.5 59.9H78.8V80.6H58.5z" fill="#7d7d7d"/>
<path d="M78.2 59.9H132.4V80.6H78.2z" fill="#797979"/>
<path d="M-132.4 80H-78.2V134.6H-132.4z" fill="#6a6a6a"/>
<path d="M-78.8 80H-58.5V134.6H-78.8z" fill="#6d6d6d"/>
<path d="M-59.1 80H-38.9V134.6H-59.1z" fill="#747474"/>
<path d="M-39.5 80H-19.3V134.6H-39.5z" fill="#757575"/>
<path d="M-19.9 80H0.3V134.6H-19.9z" fill="#747474"/>
<path d="M-0.3 80H19.9V134.6H-0.3z" fill="#777777"/>
<path d="M19.3 80H39.5V134.6H19.3z" fill="#7e7e7e"/>
<path d="M38.9 80H59.1V134.6H38.9z" fill="#818181"/>
<path d="M58.5 80H78.8V134.6H58.5z" fill="#787878"/>
<path d="M78.2 80H132.4V134.6H78.2z" fill="#757575"/>
</g>
<path class="ct r" d="M-87 -37.8l9.8-4.3 4.9-3.4 14.7-11.9 4.9-2.9 7.3-3.2 7.4-2.3 9.8-2 9.8-1 12.3-0.1 9.8 0.8 9.8 1.6 7.3 1.8 12.3 4.1 9.8 4.5 9.8 5.3 24.5 16.3 7.4 3.5 7 2.2M-94.4 -3l9.8-2.3 4.9-2.3 5.5-3.7 6.8-6.8 15.8-20.8 5-5 6.5-5 7-3.8 7.4-2.6 7.3-1.6 9.8-1 12.3 0.6 9.8 1.8 9.8 3 12.2 5.3 9.9 5.3 8.5 5.5 18.4 16.7 7.4 5.7 7.3 3.8 7.4 2M-91.9 20.4l7.3-1.6 4.9-1.9 4.9-2.7 4.9-3.8 7.4-8.3 19.6-28.1 4.9-5.7 4.9-4.7 7.3-5 5.2-2.5 7.1-2.2 7.4-1 9.8 0.3 9.8 1.8 14.7 5.2 12.3 5.8 7.3 4.5 7 5.7 15.1 16.5 7.3 6.7 7.4 4.4 4.9 1.9 4.9 1.1M-84.6 42.5l9.8-4 4.9-3.3 4.9-4.5 7.4-8.8 26.6-35.7 9-10 6.1-4.8 4.9-2.6 4.9-1.6 4.9-0.9 9.8-0.1 12.2 2.5 12.3 4.2 9.8 5 4.9 3.3 5.6 5 14 17.6 7.4 7.8 7.3 5 4.9 2.1 4.9 1.4M-65 71.6l14.7-23.4 7.4-8.9 18.8-20.5 16.8-25.1 3.6-3.9 4.4-3.6 7.9-3.4 7.3-1.1 9.8 0.7 9.8 2.8 7.4 3.7 4.9 3.8 4.9 5 14.7 21.3 4.9 5.6 7.4 5.9 4.9 2.6 4.9 1.7M47.8 84.7l-2.4 0.7-2.5-0.1-2.4-0.9-5-3.3-4.9-4.4-9.8-9.9-6.6-7.9-4.5-7.5-1.9-5-1.7-7.5-0.4-7.5 0.7-7.6 1.7-7.5 1.9-5 3.5-5.7 4.4-4.3 5.4-2.7 4.9-0.8 7.3 1.1 7.4 3.7 4.9 4.3 4.9 6.6 4.4 7.8 11.3 22.6 2.8 7.5 0.2 5-0.6 2.5-2.6 5.1-5.7 7.1-7.3 7.8-4.9 4.3-2.5 1.5"/>
</g>
<use href="#hR"/>
<use href="#nR"/>
</g>
<g transform="translate(2386.5,593.4)">
<g clip-path="url(#cR)">
<g filter="url(#fR)">
<path d="M-132.4 -134.6H-78.2V-80H-132.4z" fill="#151515"/>
<path d="M-78.8 -134.6H-58.5V-80H-78.8z" fill="#141414"/>
<path d="M-59.1 -134.6H-38.9V-80H-59.1z" fill="#121212"/>
<path d="M-39.5 -134.6H-19.3V-80H-39.5z" fill="#111111"/>
<path d="M-19.9 -134.6H0.3V-80H-19.9z" fill="#111111"/>
<path d="M-0.3 -134.6H19.9V-80H-0.3z" fill="#111111"/>
<path d="M19.3 -134.6H39.5V-80H19.3z" fill="#111111"/>
<path d="M38.9 -134.6H59.1V-80H38.9z" fill="#121212"/>
<path d="M58.5 -134.6H78.8V-80H58.5z" fill="#141414"/>
<path d="M78.2 -134.6H132.4V-80H78.2z" fill="#151515"/>
<path d="M-132.4 -80.6H-78.2V-59.9H-132.4z" fill="#171717"/>
<path d="M-78.8 -80.6H-58.5V-59.9H-78.8z" fill="#161616"/>
<path d="M-59.1 -80.6H-38.9V-59.9H-59.1z" fill="#161616"/>
<path d="M-39.5 -80.6H-19.3V-59.9H-39.5z" fill="#161616"/>
<path d="M-19.9 -80.6H0.3V-59.9H-19.9z" fill="#151515"/>
<path d="M-0.3 -80.6H19.9V-59.9H-0.3z" fill="#131313"/>
<path d="M19.3 -80.6H39.5V-59.9H19.3z" fill="#101010"/>
<path d="M38.9 -80.6H59.1V-59.9H38.9z" fill="#0f0f0f"/>
<path d="M58.5 -80.6H78.8V-59.9H58.5z" fill="#131313"/>
<path d="M78.2 -80.6H132.4V-59.9H78.2z" fill="#151515"/>
<path d="M-132.4 -60.5H-78.2V-39.8H-132.4z" fill="#171717"/>
<path d="M-78.8 -60.5H-58.5V-39.8H-78.8z" fill="#181818"/>
<path d="M-59.1 -60.5H-38.9V-39.8H-59.1z" fill="#1d1d1d"/>
<path d="M-39.5 -60.5H-19.3V-39.8H-39.5z" fill="#262626"/>
<path d="M-19.9 -60.5H0.3V-39.8H-19.9z" fill="#2c2c2c"/>
<path d="M-0.3 -60.5H19.9V-39.8H-0.3z" fill="#292929"/>
<path d="M19.3 -60.5H39.5V-39.8H19.3z" fill="#1d1d1d"/>
<path d="M38.9 -60.5H59.1V-39.8H38.9z" fill="#131313"/>
<path d="M58.5 -60.5H78.8V-39.8H58.5z" fill="#121212"/>
<path d="M78.2 -60.5H132.4V-39.8H78.2z" fill="#141414"/>
<path d="M-132.4 -40.4H-78.2V-19.8H-132.4z" fill="#141414"/>
<path d="M-78.8 -40.4H-58.5V-19.8H-78.8z" fill="#121212"/>
<path d="M-59.1 -40.4H-38.9V-19.8H-59.1z" fill="#191919"/>
<path d="M-39.5 -40.4H-19.3V-19.8H-39.5z" fill="#303030"/>
<path d="M-19.9 -40.4H0.3V-19.8H-19.9z" fill="#464646"/>
<path d="M-0.3 -40.4H19.9V-19.8H-0.3z" fill="#4b4b4b"/>
<path d="M19.3 -40.4H39.5V-19.8H19.3z" fill="#3d3d3d"/>
<path d="M38.9 -40.4H59.1V-19.8H38.9z" fill="#292929"/>
<path d="M58.5 -40.4H78.8V-19.8H58.5z" fill="#181818"/>
<path d="M78.2 -40.4H132.4V-19.8H78.2z" fill="#171717"/>
<path d="M-132.4 -20.4H-78.2V0.3H-132.4z" fill="#161616"/>
<path d="M-78.8 -20.4H-58.5V0.3H-78.8z" fill="#131313"/>
<path d="M-59.1 -20.4H-38.9V0.3H-59.1z" fill="#1a1a1a"/>
<path d="M-39.5 -20.4H-19.3V0.3H-39.5z" fill="#3a3a3a"/>
<path d="M-19.9 -20.4H0.3V0.3H-19.9z" fill="#5e5e5e"/>
<path d="M-0.3 -20.4H19.9V0.3H-0.3z" fill="#6d6d6d"/>
<path d="M19.3 -20.4H39.5V0.3H19.3z" fill="#626262"/>
<path d="M38.9 -20.4H59.1V0.3H38.9z" fill="#474747"/>
<path d="M58.5 -20.4H78.8V0.3H58.5z" fill="#272727"/>
<path d="M78.2 -20.4H132.4V0.3H78.2z" fill="#212121"/>
<path d="M-132.4 -0.3H-78.2V20.4H-132.4z" fill="#252525"/>
<path d="M-78.8 -0.3H-58.5V20.4H-78.8z" fill="#232323"/>
<path d="M-59.1 -0.3H-38.9V20.4H-59.1z" fill="#2d2d2d"/>
<path d="M-39.5 -0.3H-19.3V20.4H-39.5z" fill="#4e4e4e"/>
<path d="M-19.9 -0.3H0.3V20.4H-19.9z" fill="#717171"/>
<path d="M-0.3 -0.3H19.9V20.4H-0.3z" fill="#848484"/>
<path d="M19.3 -0.3H39.5V20.4H19.3z" fill="#7e7e7e"/>
<path d="M38.9 -0.3H59.1V20.4H38.9z" fill="#666666"/>
<path d="M58.5 -0.3H78.8V20.4H58.5z" fill="#404040"/>
<path d="M78.2 -0.3H132.4V20.4H78.2z" fill="#373737"/>
<path d="M-132.4 19.8H-78.2V40.4H-132.4z" fill="#404040"/>
<path d="M-78.8 19.8H-58.5V40.4H-78.8z" fill="#424242"/>
<path d="M-59.1 19.8H-38.9V40.4H-59.1z" fill="#515151"/>
<path d="M-39.5 19.8H-19.3V40.4H-39.5z" fill="#686868"/>
<path d="M-19.9 19.8H0.3V40.4H-19.9z" fill="#7e7e7e"/>
<path d="M-0.3 19.8H19.9V40.4H-0.3z" fill="#8b8b8b"/>
<path d="M19.3 19.8H39.5V40.4H19.3z" fill="#8b8b8b"/>
<path d="M38.9 19.8H59.1V40.4H38.9z" fill="#7c7c7c"/>
<path d="M58.5 19.8H78.8V40.4H58.5z" fill="#5e5e5e"/>
<path d="M78.2 19.8H132.4V40.4H78.2z" fill="#555555"/>
<path d="M-132.4 39.8H-78.2V60.5H-132.4z" fill="#5d5d5d"/>
<path d="M-78.8 39.8H-58.5V60.5H-78.8z" fill="#626262"/>
<path d="M-59.1 39.8H-38.9V60.5H-59.1z" fill="#737373"/>
<path d="M-39.5 39.8H-19.3V60.5H-39.5z" fill="#7c7c7c"/>
<path d="M-19.9 39.8H0.3V60.5H-19.9z" fill="#818181"/>
<path d="M-0.3 39.8H19.9V60.5H-0.3z" fill="#868686"/>
<path d="M19.3 39.8H39.5V60.5H19.3z" fill="#8b8b8b"/>
<path d="M38.9 39.8H59.1V60.5H38.9z" fill="#888888"/>
<path d="M58.5 39.8H78.8V60.5H58.5z" fill="#757575"/>
<path d="M78.2 39.8H132.4V60.5H78.2z" fill="#6f6f6f"/>
<path d="M-132.4 59.9H-78.2V80.6H-132.4z" fill="#727272"/>
<path d="M-78.8 59.9H-58.5V80.6H-78.8z" fill="#767676"/>
<path d="M-59.1 59.9H-38.9V80.6H-59.1z" fill="#7f7f7f"/>
<path d="M-39.5 59.9H-19.3V80.6H-39.5z" fill="#7d7d7d"/>
<path d="M-19.9 59.9H0.3V80.6H-19.9z" fill="#787878"/>
<path d="M-0.3 59.9H19.9V80.6H-0.3z" fill="#7a7a7a"/>
<path d="M19.3 59.9H39.5V80.6H19.3z" fill="#818181"/>
<path d="M38.9 59.9H59.1V80.6H38.9z" fill="#848484"/>
<path d="M58.5 59.9H78.8V80.6H58.5z" fill="#7b7b7b"/>
<path d="M78.2 59.9H132.4V80.6H78.2z" fill="#777777"/>
<path d="M-132.4 80H-78.2V134.6H-132.4z" fill="#757575"/>
<path d="M-78.8 80H-58.5V134.6H-78.8z" fill="#787878"/>
<path d="M-59.1 80H-38.9V134.6H-59.1z" fill="#7d7d7d"/>
<path d="M-39.5 80H-19.3V134.6H-39.5z" fill="#7a7a7a"/>
<path d="M-19.9 80H0.3V134.6H-19.9z" fill="#757575"/>
<path d="M-0.3 80H19.9V134.6H-0.3z" fill="#777777"/>
<path d="M19.3 80H39.5V134.6H19.3z" fill="#7d7d7d"/>
<path d="M38.9 80H59.1V134.6H38.9z" fill="#818181"/>
<path d="M58.5 80H78.8V134.6H58.5z" fill="#797979"/>
<path d="M78.2 80H132.4V134.6H78.2z" fill="#757575"/>
</g>
<path class="ct r" d="M-94.4 4.6l17.2 0.8 7.3-0.6 7.4-2.2 6.4-3.9 5-5 4.1-7.5 2.3-7.5 3.2-17.6 1.6-5 1.9-3.5 3.7-4 6.1-3.5 7.4-2.4 7.3-1.1 9.8-0.1 9.8 1.3 7.4 1.8 9.8 3.6 12.2 5.9 14.8 8.6 7.3 5.3 12.3 10.2 7.3 4.8 7.4 2.9 9.8 1.8M-91.9 20.2l12.2-0.2 9.8-1.1 9.8-3.1 8.4-4.5 6.3-5.6 5.2-7 4.1-7.5 7.9-18.3 4.9-7.6 4.4-4.2 4.3-2.5 6-2 4.9-0.7 7.4 0.1 9.8 1.6 7.3 2.4 9.8 4.3 9.9 5.6 8.6 6.3 6.1 5.3 12.2 12.3 6.5 4.9 8.2 3.9 4.9 1.3 7.4 1M-89.5 32.6l12.3-0.9 9.8-2.1 9.8-3.8 9.8-5.5 7.3-6.1 5-5.8 4.9-7.4 9.8-17.7 5.2-7.1 4.6-4 4.9-2.6 4.9-1.4 4.9-0.6 4.9 0.1 7.3 1.4 7.4 2.5 9.5 4.6 7.7 5 6.2 5 18.3 19.1 7.3 6.1 4.9 2.6 4.9 1.8 12.3 2.2M-84.6 44.3l9.8-1.6 9.8-3 12.3-5.7 9.8-6 7.4-6.1 5.1-5.6 5.4-7.5 9.2-15.1 6.1-7.5 3.6-3 3.4-2 3.9-1.6 4.9-0.9 4.9 0 7.4 1.4 7.3 2.7 6.4 3.4 5.9 4.1 7.4 6.4 17.1 19.1 7.4 6.4 4.9 3 4.9 2.1 9.8 2.3M-77.2 56.9l7.3-2.4 7.4-3.5 19.6-10.9 7.4-5 4.9-4.2 6.5-7.1 13.1-19.4 4.9-6.1 7.3-5.7 7.4-2.4 4.9-0.1 7.3 1.6 4.9 2.1 7.4 4.4 9.8 8.6 17.2 19.9 7.3 7.3 7.4 4.8 9.8 3.7M-62.6 74l4.9-5 6.1-5 18.5-12 7.4-5.8 7.3-8 12.3-19.5 5.5-7.4 2.5-2.5 4.2-3 2.5-1.1 4.9-0.8 4.9 0.5 5.3 1.9 6.9 4.2 4.9 4.2 12.3 13.8 25 33M6.8 96.6l-1.9-5-3.7-4.6-2.4-1.4-4.9-0.9-4.8 1.8-2.6 2.5-2.4 4.3-1.1 3.3"/>
</g>
<use href="#hR"/>
<use href="#nR"/>
</g>
<g transform="translate(1589.7,965.5)">
<g clip-path="url(#cR)">
<g filter="url(#fR)">
<path d="M-132.4 -134.6H-78.2V-80H-132.4z" fill="#5b5b5b"/>
<path d="M-78.8 -134.6H-58.5V-80H-78.8z" fill="#5d5d5d"/>
<path d="M-59.1 -134.6H-38.9V-80H-59.1z" fill="#5a5a5a"/>
<path d="M-39.5 -134.6H-19.3V-80H-39.5z" fill="#4f4f4f"/>
<path d="M-19.9 -134.6H0.3V-80H-19.9z" fill="#444444"/>
<path d="M-0.3 -134.6H19.9V-80H-0.3z" fill="#434343"/>
<path d="M19.3 -134.6H39.5V-80H19.3z" fill="#4b4b4b"/>
<path d="M38.9 -134.6H59.1V-80H38.9z" fill="#545454"/>
<path d="M58.5 -134.6H78.8V-80H58.5z" fill="#535353"/>
<path d="M78.2 -134.6H132.4V-80H78.2z" fill="#515151"/>
<path d="M-132.4 -80.6H-78.2V-59.9H-132.4z" fill="#5e5e5e"/>
<path d="M-78.8 -80.6H-58.5V-59.9H-78.8z" fill="#606060"/>
<path d="M-59.1 -80.6H-38.9V-59.9H-59.1z" fill="#5e5e5e"/>
<path d="M-39.5 -80.6H-19.3V-59.9H-39.5z" fill="#525252"/>
<path d="M-19.9 -80.6H0.3V-59.9H-19.9z" fill="#454545"/>
<path d="M-0.3 -80.6H19.9V-59.9H-0.3z" fill="#424242"/>
<path d="M19.3 -80.6H39.5V-59.9H19.3z" fill="#4b4b4b"/>
<path d="M38.9 -80.6H59.1V-59.9H38.9z" fill="#545454"/>
<path d="M58.5 -80.6H78.8V-59.9H58.5z" fill="#525252"/>
<path d="M78.2 -80.6H132.4V-59.9H78.2z" fill="#505050"/>
<path d="M-132.4 -60.5H-78.2V-39.8H-132.4z" fill="#636363"/>
<path d="M-78.8 -60.5H-58.5V-39.8H-78.8z" fill="#666666"/>
<path d="M-59.1 -60.5H-38.9V-39.8H-59.1z" fill="#666666"/>
<path d="M-39.5 -60.5H-19.3V-39.8H-39.5z" fill="#585858"/>
<path d="M-19.9 -60.5H0.3V-39.8H-19.9z" fill="#494949"/>
<path d="M-0.3 -60.5H19.9V-39.8H-0.3z" fill="#444444"/>
<path d="M19.3 -60.5H39.5V-39.8H19.3z" fill="#4c4c4c"/>
<path d="M38.9 -60.5H59.1V-39.8H38.9z" fill="#555555"/>
<path d="M58.5 -60.5H78.8V-39.8H58.5z" fill="#535353"/>
<path d="M78.2 -60.5H132.4V-39.8H78.2z" fill="#505050"/>
<path d="M-132.4 -40.4H-78.2V-19.8H-132.4z" fill="#606060"/>
<path d="M-78.8 -40.4H-58.5V-19.8H-78.8z" fill="#616161"/>
<path d="M-59.1 -40.4H-38.9V-19.8H-59.1z" fill="#5e5e5e"/>
<path d="M-39.5 -40.4H-19.3V-19.8H-39.5z" fill="#555555"/>
<path d="M-19.9 -40.4H0.3V-19.8H-19.9z" fill="#4d4d4d"/>
<path d="M-0.3 -40.4H19.9V-19.8H-0.3z" fill="#4b4b4b"/>
<path d="M19.3 -40.4H39.5V-19.8H19.3z" fill="#4f4f4f"/>
<path d="M38.9 -40.4H59.1V-19.8H38.9z" fill="#555555"/>
<path d="M58.5 -40.4H78.8V-19.8H58.5z" fill="#565656"/>
<path d="M78.2 -40.4H132.4V-19.8H78.2z" fill="#555555"/>
<path d="M-132.4 -20.4H-78.2V0.3H-132.4z" fill="#5b5b5b"/>
<path d="M-78.8 -20.4H-58.5V0.3H-78.8z" fill="#595959"/>
<path d="M-59.1 -20.4H-38.9V0.3H-59.1z" fill="#505050"/>
<path d="M-39.5 -20.4H-19.3V0.3H-39.5z" fill="#4e4e4e"/>
<path d="M-19.9 -20.4H0.3V0.3H-19.9z" fill="#4f4f4f"/>
<path d="M-0.3 -20.4H19.9V0.3H-0.3z" fill="#505050"/>
<path d="M19.3 -20.4H39.5V0.3H19.3z" fill="#525252"/>
<path d="M38.9 -20.4H59.1V0.3H38.9z" fill="#555555"/>
<path d="M58.5 -20.4H78.8V0.3H58.5z" fill="#5b5b5b"/>
<path d="M78.2 -20.4H132.4V0.3H78.2z" fill="#5c5c5c"/>
<path d="M-132.4 -0.3H-78.2V20.4H-132.4z" fill="#585858"/>
<path d="M-78.8 -0.3H-58.5V20.4H-78.8z" fill="#545454"/>
<path d="M-59.1 -0.3H-38.9V20.4H-59.1z" fill="#494949"/>
<path d="M-39.5 -0.3H-19.3V20.4H-39.5z" fill="#494949"/>
<path d="M-19.9 -0.3H0.3V20.4H-19.9z" fill="#4e4e4e"/>
<path d="M-0.3 -0.3H19.9V20.4H-0.3z" fill="#515151"/>
<path d="M19.3 -0.3H39.5V20.4H19.3z" fill="#525252"/>
<path d="M38.9 -0.3H59.1V20.4H38.9z" fill="#555555"/>
<path d="M58.5 -0.3H78.8V20.4H58.5z" fill="#5f5f5f"/>
<path d="M78.2 -0.3H132.4V20.4H78.2z" fill="#626262"/>
<path d="M-132.4 19.8H-78.2V40.4H-132.4z" fill="#595959"/>
<path d="M-78.8 19.8H-58.5V40.4H-78.8z" fill="#555555"/>
<path d="M-59.1 19.8H-38.9V40.4H-59.1z" fill="#4a4a4a"/>
<path d="M-39.5 19.8H-19.3V40.4H-39.5z" fill="#474747"/>
<path d="M-19.9 19.8H0.3V40.4H-19.9z" fill="#494949"/>
<path d="M-0.3 19.8H19.9V40.4H-0.3z" fill="#4c4c4c"/>
<path d="M19.3 19.8H39.5V40.4H19.3z" fill="#505050"/>
<path d="M38.9 19.8H59.1V40.4H38.9z" fill="#565656"/>
<path d="M58.5 19.8H78.8V40.4H58.5z" fill="#626262"/>
<path d="M78.2 19.8H132.4V40.4H78.2z" fill="#666666"/>
<path d="M-132.4 39.8H-78.2V60.5H-132.4z" fill="#595959"/>
<path d="M-78.8 39.8H-58.5V60.5H-78.8z" fill="#585858"/>
<path d="M-59.1 39.8H-38.9V60.5H-59.1z" fill="#4f4f4f"/>
<path d="M-39.5 39.8H-19.3V60.5H-39.5z" fill="#484848"/>
<path d="M-19.9 39.8H0.3V60.5H-19.9z" fill="#444444"/>
<path d="M-0.3 39.8H19.9V60.5H-0.3z" fill="#454545"/>
<path d="M19.3 39.8H39.5V60.5H19.3z" fill="#4c4c4c"/>
<path d="M38.9 39.8H59.1V60.5H38.9z" fill="#565656"/>
<path d="M58.5 39.8H78.8V60.5H58.5z" fill="#636363"/>
<path d="M78.2 39.8H132.4V60.5H78.2z" fill="#656565"/>
<path d="M-132.4 59.9H-78.2V80.6H-132.4z" fill="#565656"/>
<path d="M-78.8 59.9H-58.5V80.6H-78.8z" fill="#565656"/>
<path d="M-59.1 59.9H-38.9V80.6H-59.1z" fill="#525252"/>
<path d="M-39.5 59.9H-19.3V80.6H-39.5z" fill="#494949"/>
<path d="M-19.9 59.9H0.3V80.6H-19.9z" fill="#414141"/>
<path d="M-0.3 59.9H19.9V80.6H-0.3z" fill="#414141"/>
<path d="M19.3 59.9H39.5V80.6H19.3z" fill="#484848"/>
<path d="M38.9 59.9H59.1V80.6H38.9z" fill="#535353"/>
<path d="M58.5 59.9H78.8V80.6H58.5z" fill="#5f5f5f"/>
<path d="M78.2 59.9H132.4V80.6H78.2z" fill="#616161"/>
<path d="M-132.4 80H-78.2V134.6H-132.4z" fill="#555555"/>
<path d="M-78.8 80H-58.5V134.6H-78.8z" fill="#555555"/>
<path d="M-59.1 80H-38.9V134.6H-59.1z" fill="#525252"/>
<path d="M-39.5 80H-19.3V134.6H-39.5z" fill="#494949"/>
<path d="M-19.9 80H0.3V134.6H-19.9z" fill="#414141"/>
<path d="M-0.3 80H19.9V134.6H-0.3z" fill="#404040"/>
<path d="M19.3 80H39.5V134.6H19.3z" fill="#474747"/>
<path d="M38.9 80H59.1V134.6H38.9z" fill="#525252"/>
<path d="M58.5 80H78.8V134.6H58.5z" fill="#5d5d5d"/>
<path d="M78.2 80H132.4V134.6H78.2z" fill="#606060"/>
</g>
<path class="ct r" d="M-11.2 -96.6l1.8 17.6 3.3 11.5 4.9 8.7 2.4 2.6 2.5 1.5 2.4 0.6 2.5-0.5 2.5-1.8 2.4-3.7 2-6.4 1.1-10-0.2-20.1M25.9 94.1l-0.6-10.1-1.5-10-2.5-7.5-4.2-7.6-6.1-6.5-4.9-3.4-7.3-3-7.4-1.1-4.9 0.9-2.4 1.5-2.5 3.1-1.3 3.5-1 5-0.6 7.6-0.2 27.6M-22.5 -94.1l1.6 12.6 2.3 10 5.1 15.7 4.9 12.8 2.5 4.3 4.7 4.8 2.6 1.5 4.9 0.9 4.9-0.9 2.5-1.2 3.7-2.8 4.3-5 3.7-7.5 2.2-7.5 1.5-10.1 0.6-10 0-15.1M36.5 89l-1.2-12.5-2.9-12.5-5.3-12.6-6.3-9.4-7.3-6.7-22.1-14-14.7-12.9-4.9-2.5-4.9-0.8-4.9 0.7-5.3 3-2.1 2.3-1.3 2.7-1 5 0.2 5 1.1 5 7.4 20.1 3.1 12.6 1.5 12.5 0.5 17.6M-31.4 -91.6l2.5 12.6 7.1 22.6 2.2 10 1.1 12.5-0.2 5.1-1 5-3 5-3 2.5-19.7 9.4-7.3 5.4-2.5 2.9-2.9 4.9-1.7 5-0.6 5 0.3 7.5 1.4 7.6 7.5 22.5 2.6 10.1 1.5 10 0.4 10M45.4 86.5l-1.3-12.5-2.1-10-5.1-17.6-3.8-10.5-3.4-7.1-4-6-13.4-14-1.6-2.5-1.5-5 0.2-2.6 0.9-2.5 1.9-2.5 11.1-9.7 4.9-5.7 2.9-4.6 3.4-7.6 3.1-10 2.4-12.5 1.8-15.1 0.5-15M-40.1 -89l2.7 10 8.8 25.1 1.1 7.5-0.5 7.5-2.4 7.5-3.5 5.1-5.9 5-13 7.5-7.3 5.4-6.5 7.1-3.2 5.1-2.2 5-1.2 5-0.1 7.5 1.8 10.1 5.2 20 0.9 10.1-0.5 7.5M53.5 79l-6.9-35.1-2-20.1 0.1-10 1.1-10 2-10.1 2.8-10 4.6-10.6 2.4-3.2 2.5-2 2.4-1.1 7.4-0.5 19.6 2.2M-48.7 -81.5l9 17.5 3.6 10.1 0.7 5-0.3 5-2.7 7.5-3.8 5-6.3 5.1-36.1 19.8-9.8 3.9M61.9 74l-5.2-22.6-1.2-12.5 0.2-10.1 0.9-7.5 3.6-15 2.3-5.8 2.5-4.3 2.4-3.2 4.9-4 4.9-2.2 4.9-1.3 12.3-1.1M-62.5 -72.1l4.9 2.2 4.9 3.6 2.4 2.6 3.4 4.8 2 5 0.6 5-1 5-1.4 2.5-1.9 2.5-4.1 3.6-4.9 2.7-7.4 2.9-12.2 2.6-14.7 0.6M70.9 64l-3.8-10.1-1.7-10 0.3-12.5 2.3-10.1 4.3-9.1 4.9-5.5 7.4-4.2 9.8-2.2"/>
</g>
<use href="#hR"/>
<use href="#nR"/>
</g>
<g transform="translate(1854.4,965.5)">
<g clip-path="url(#cR)">
<g filter="url(#fR)">
<path d="M-132.4 -134.6H-78.2V-80H-132.4z" fill="#646464"/>
<path d="M-78.8 -134.6H-58.5V-80H-78.8z" fill="#646464"/>
<path d="M-59.1 -134.6H-38.9V-80H-59.1z" fill="#606060"/>
<path d="M-39.5 -134.6H-19.3V-80H-39.5z" fill="#565656"/>
<path d="M-19.9 -134.6H0.3V-80H-19.9z" fill="#4f4f4f"/>
<path d="M-0.3 -134.6H19.9V-80H-0.3z" fill="#525252"/>
<path d="M19.3 -134.6H39.5V-80H19.3z" fill="#5f5f5f"/>
<path d="M38.9 -134.6H59.1V-80H38.9z" fill="#6b6b6b"/>
<path d="M58.5 -134.6H78.8V-80H58.5z" fill="#6b6b6b"/>
<path d="M78.2 -134.6H132.4V-80H78.2z" fill="#686868"/>
<path d="M-132.4 -80.6H-78.2V-59.9H-132.4z" fill="#646464"/>
<path d="M-78.8 -80.6H-58.5V-59.9H-78.8z" fill="#656565"/>
<path d="M-59.1 -80.6H-38.9V-59.9H-59.1z" fill="#626262"/>
<path d="M-39.5 -80.6H-19.3V-59.9H-39.5z" fill="#585858"/>
<path d="M-19.9 -80.6H0.3V-59.9H-19.9z" fill="#515151"/>
<path d="M-0.3 -80.6H19.9V-59.9H-0.3z" fill="#535353"/>
<path d="M19.3 -80.6H39.5V-59.9H19.3z" fill="#5e5e5e"/>
<path d="M38.9 -80.6H59.1V-59.9H38.9z" fill="#686868"/>
<path d="M58.5 -80.6H78.8V-59.9H58.5z" fill="#696969"/>
<path d="M78.2 -80.6H132.4V-59.9H78.2z" fill="#676767"/>
<path d="M-132.4 -60.5H-78.2V-39.8H-132.4z" fill="#666666"/>
<path d="M-78.8 -60.5H-58.5V-39.8H-78.8z" fill="#676767"/>
<path d="M-59.1 -60.5H-38.9V-39.8H-59.1z" fill="#676767"/>
<path d="M-39.5 -60.5H-19.3V-39.8H-39.5z" fill="#616161"/>
<path d="M-19.9 -60.5H0.3V-39.8H-19.9z" fill="#5a5a5a"/>
<path d="M-0.3 -60.5H19.9V-39.8H-0.3z" fill="#595959"/>
<path d="M19.3 -60.5H39.5V-39.8H19.3z" fill="#606060"/>
<path d="M38.9 -60.5H59.1V-39.8H38.9z" fill="#676767"/>
<path d="M58.5 -60.5H78.8V-39.8H58.5z" fill="#696969"/>
<path d="M78.2 -60.5H132.4V-39.8H78.2z" fill="#696969"/>
<path d="M-132.4 -40.4H-78.2V-19.8H-132.4z" fill="#696969"/>
<path d="M-78.8 -40.4H-58.5V-19.8H-78.8z" fill="#696969"/>
<path d="M-59.1 -40.4H-38.9V-19.8H-59.1z" fill="#666666"/>
<path d="M-39.5 -40.4H-19.3V-19.8H-39.5z" fill="#626262"/>
<path d="M-19.9 -40.4H0.3V-19.8H-19.9z" fill="#5f5f5f"/>
<path d="M-0.3 -40.4H19.9V-19.8H-0.3z" fill="#626262"/>
<path d="M19.3 -40.4H39.5V-19.8H19.3z" fill="#696969"/>
<path d="M38.9 -40.4H59.1V-19.8H38.9z" fill="#707070"/>
<path d="M58.5 -40.4H78.8V-19.8H58.5z" fill="#737373"/>
<path d="M78.2 -40.4H132.4V-19.8H78.2z" fill="#727272"/>
<path d="M-132.4 -20.4H-78.2V0.3H-132.4z" fill="#6c6c6c"/>
<path d="M-78.8 -20.4H-58.5V0.3H-78.8z" fill="#6a6a6a"/>
<path d="M-59.1 -20.4H-38.9V0.3H-59.1z" fill="#626262"/>
<path d="M-39.5 -20.4H-19.3V0.3H-39.5z" fill="#5f5f5f"/>
<path d="M-19.9 -20.4H0.3V0.3H-19.9z" fill="#616161"/>
<path d="M-0.3 -20.4H19.9V0.3H-0.3z" fill="#686868"/>
<path d="M19.3 -20.4H39.5V0.3H19.3z" fill="#727272"/>
<path d="M38.9 -20.4H59.1V0.3H38.9z" fill="#7b7b7b"/>
<path d="M58.5 -20.4H78.8V0.3H58.5z" fill="#7e7e7e"/>
<path d="M78.2 -20.4H132.4V0.3H78.2z" fill="#7d7d7d"/>
<path d="M-132.4 -0.3H-78.2V20.4H-132.4z" fill="#6c6c6c"/>
<path d="M-78.8 -0.3H-58.5V20.4H-78.8z" fill="#696969"/>
<path d="M-59.1 -0.3H-38.9V20.4H-59.1z" fill="#5e5e5e"/>
<path d="M-39.5 -0.3H-19.3V20.4H-39.5z" fill="#5c5c5c"/>
<path d="M-19.9 -0.3H0.3V20.4H-19.9z" fill="#5f5f5f"/>
<path d="M-0.3 -0.3H19.9V20.4H-0.3z" fill="#676767"/>
<path d="M19.3 -0.3H39.5V20.4H19.3z" fill="#727272"/>
<path d="M38.9 -0.3H59.1V20.4H38.9z" fill="#7c7c7c"/>
<path d="M58.5 -0.3H78.8V20.4H58.5z" fill="#838383"/>
<path d="M78.2 -0.3H132.4V20.4H78.2z" fill="#848484"/>
<path d="M-132.4 19.8H-78.2V40.4H-132.4z" fill="#696969"/>
<path d="M-78.8 19.8H-58.5V40.4H-78.8z" fill="#676767"/>
<path d="M-59.1 19.8H-38.9V40.4H-59.1z" fill="#5d5d5d"/>
<path d="M-39.5 19.8H-19.3V40.4H-39.5z" fill="#595959"/>
<path d="M-19.9 19.8H0.3V40.4H-19.9z" fill="#5a5a5a"/>
<path d="M-0.3 19.8H19.9V40.4H-0.3z" fill="#5f5f5f"/>
<path d="M19.3 19.8H39.5V40.4H19.3z" fill="#686868"/>
<path d="M38.9 19.8H59.1V40.4H38.9z" fill="#747474"/>
<path d="M58.5 19.8H78.8V40.4H58.5z" fill="#818181"/>
<path d="M78.2 19.8H132.4V40.4H78.2z" fill="#838383"/>
<path d="M-132.4 39.8H-78.2V60.5H-132.4z" fill="#666666"/>
<path d="M-78.8 39.8H-58.5V60.5H-78.8z" fill="#656565"/>
<path d="M-59.1 39.8H-38.9V60.5H-59.1z" fill="#5d5d5d"/>
<path d="M-39.5 39.8H-19.3V60.5H-39.5z" fill="#575757"/>
<path d="M-19.9 39.8H0.3V60.5H-19.9z" fill="#545454"/>
<path d="M-0.3 39.8H19.9V60.5H-0.3z" fill="#565656"/>
<path d="M19.3 39.8H39.5V60.5H19.3z" fill="#5d5d5d"/>
<path d="M38.9 39.8H59.1V60.5H38.9z" fill="#6a6a6a"/>
<path d="M58.5 39.8H78.8V60.5H58.5z" fill="#797979"/>
<path d="M78.2 39.8H132.4V60.5H78.2z" fill="#7d7d7d"/>
<path d="M-132.4 59.9H-78.2V80.6H-132.4z" fill="#646464"/>
<path d="M-78.8 59.9H-58.5V80.6H-78.8z" fill="#646464"/>
<path d="M-59.1 59.9H-38.9V80.6H-59.1z" fill="#5f5f5f"/>
<path d="M-39.5 59.9H-19.3V80.6H-39.5z" fill="#565656"/>
<path d="M-19.9 59.9H0.3V80.6H-19.9z" fill="#4e4e4e"/>
<path d="M-0.3 59.9H19.9V80.6H-0.3z" fill="#4f4f4f"/>
<path d="M19.3 59.9H39.5V80.6H19.3z" fill="#585858"/>
<path d="M38.9 59.9H59.1V80.6H38.9z" fill="#656565"/>
<path d="M58.5 59.9H78.8V80.6H58.5z" fill="#707070"/>
<path d="M78.2 59.9H132.4V80.6H78.2z" fill="#717171"/>
<path d="M-132.4 80H-78.2V134.6H-132.4z" fill="#646464"/>
<path d="M-78.8 80H-58.5V134.6H-78.8z" fill="#646464"/>
<path d="M-59.1 80H-38.9V134.6H-59.1z" fill="#606060"/>
<path d="M-39.5 80H-19.3V134.6H-39.5z" fill="#565656"/>
<path d="M-19.9 80H0.3V134.6H-19.9z" fill="#4d4d4d"/>
<path d="M-0.3 80H19.9V134.6H-0.3z" fill="#4f4f4f"/>
<path d="M19.3 80H39.5V134.6H19.3z" fill="#595959"/>
<path d="M38.9 80H59.1V134.6H38.9z" fill="#666666"/>
<path d="M58.5 80H78.8V134.6H58.5z" fill="#6e6e6e"/>
<path d="M78.2 80H132.4V134.6H78.2z" fill="#6f6f6f"/>
</g>
<path class="ct r" d="M-28.3 -91.6l1.6 7.6 1.8 5 2.6 5 3.7 5 2.7 2.7 4.9 3.3 4.9 1.7 4.9 0.3 4.9-1.2 2.4-1.3 2.5-2.1 2.5-3.4 1.9-5 1-5 0.7-17.6M23.6 94.1l-0.2-12.6-0.9-7.5-1.7-5.9-3.5-6.6-4.2-5.1-7-5.2-9.8-4.3-7.3-1.3-4.9 0.7-4.8 2.6-2.6 2.9-2.4 4.5-1.7 5.2-1.4 7.5-1 22.6M-44.6 -86.5l2.9 10 3.6 7.5 5 7.4 7.4 8.8 7.3 8.1 4.9 3.8 4.9 1.8 4.9 0.2 4.9-0.8 4.9-1.7 7.4-3.9 7-6.1 3.6-5 2.2-5.1 1.6-7.5 0.3-7.5-0.6-17.6M36.6 89l-0.3-12.5-1.1-7.5-3.6-10.1-4.6-7.5-8.6-9.1-19.3-16-17.5-16.7-4.9-3.4-4.9-1.4-4.9 1.1-2.4 1.4-4 4-4.3 7.5-3.1 10-1.5 10.1-0.4 10 2.1 35.1M49.2 84l-0.5-7.5-1.3-7.5-2.3-7.5-3.4-7.6-6.5-10-18.5-20.1-6-7.5-3-5-2.2-5-1.4-5-0.6-5.1 0.3-5 1.4-5 4.8-7.5 7.2-7.5 17.2-15.1 4.5-5 3.1-5 1.6-5 0.4-7.6-2.6-20M-69.9 -65.6l4.9 2 4.9 2.8 4.9 3.7 4.9 5.1 2.5 4.1 1.5 4 0.5 7.5-2 7.6-6.1 12.5-3.7 9.8-8.8 32.8-3.5 10.9-4.9 10.6-4.9 6.4M62.8 74l-7-15.1-6.8-12.5-6.1-8.6-13.3-16.5-5.1-7.5-2.3-5-1.4-5-0.5-5.1 0.5-5 2.7-7.5 5.7-7.5 8.8-8.1 9.8-6.8 7.4-3.8 9.8-3.1 9.8-1.1 10.7 0.3M73.8 61.5l-3.9-3.1-4.9-5.4-24.8-36.7-2.6-5-1.6-5-0.6-5 0.4-5.1 2.2-5.8 4.9-6.5 4.9-3.9 7.4-3.9 7.3-2.3 7.4-1.3 22-0.2M82.1 48.1l-4.9-2.4-4.9-3.7-4.9-5.3-4.9-7.1-6.1-10.8-3.2-7.5-0.9-5 0.5-5 2.4-5.1 2.2-2.5 3.5-2.5 4.1-1.8 9.8-2 19.6-0.2"/>
</g>
<use href="#hR"/>
<use href="#nR"/>
</g>
<g transform="translate(2120.8,965.5)">
<g clip-path="url(#cR)">
<g filter="url(#fR)">
<path d="M-132.4 -134.6H-78.2V-80H-132.4z" fill="#4f4f4f"/>
<path d="M-78.8 -134.6H-58.5V-80H-78.8z" fill="#505050"/>
<path d="M-59.1 -134.6H-38.9V-80H-59.1z" fill="#505050"/>
<path d="M-39.5 -134.6H-19.3V-80H-39.5z" fill="#474747"/>
<path d="M-19.9 -134.6H0.3V-80H-19.9z" fill="#3f3f3f"/>
<path d="M-0.3 -134.6H19.9V-80H-0.3z" fill="#404040"/>
<path d="M19.3 -134.6H39.5V-80H19.3z" fill="#4b4b4b"/>
<path d="M38.9 -134.6H59.1V-80H38.9z" fill="#545454"/>
<path d="M58.5 -134.6H78.8V-80H58.5z" fill="#525252"/>
<path d="M78.2 -134.6H132.4V-80H78.2z" fill="#4f4f4f"/>
<path d="M-132.4 -80.6H-78.2V-59.9H-132.4z" fill="#4e4e4e"/>
<path d="M-78.8 -80.6H-58.5V-59.9H-78.8z" fill="#505050"/>
<path d="M-59.1 -80.6H-38.9V-59.9H-59.1z" fill="#4f4f4f"/>
<path d="M-39.5 -80.6H-19.3V-59.9H-39.5z" fill="#454545"/>
<path d="M-19.9 -80.6H0.3V-59.9H-19.9z" fill="#3d3d3d"/>
<path d="M-0.3 -80.6H19.9V-59.9H-0.3z" fill="#3f3f3f"/>
<path d="M19.3 -80.6H39.5V-59.9H19.3z" fill="#4b4b4b"/>
<path d="M38.9 -80.6H59.1V-59.9H38.9z" fill="#555555"/>
<path d="M58.5 -80.6H78.8V-59.9H58.5z" fill="#505050"/>
<path d="M78.2 -80.6H132.4V-59.9H78.2z" fill="#4c4c4c"/>
<path d="M-132.4 -60.5H-78.2V-39.8H-132.4z" fill="#505050"/>
<path d="M-78.8 -60.5H-58.5V-39.8H-78.8z" fill="#515151"/>
<path d="M-59.1 -60.5H-38.9V-39.8H-59.1z" fill="#4e4e4e"/>
<path d="M-39.5 -60.5H-19.3V-39.8H-39.5z" fill="#444444"/>
<path d="M-19.9 -60.5H0.3V-39.8H-19.9z" fill="#3d3d3d"/>
<path d="M-0.3 -60.5H19.9V-39.8H-0.3z" fill="#424242"/>
<path d="M19.3 -60.5H39.5V-39.8H19.3z" fill="#515151"/>
<path d="M38.9 -60.5H59.1V-39.8H38.9z" fill="#5b5b5b"/>
<path d="M58.5 -60.5H78.8V-39.8H58.5z" fill="#505050"/>
<path d="M78.2 -60.5H132.4V-39.8H78.2z" fill="#4a4a4a"/>
<path d="M-132.4 -40.4H-78.2V-19.8H-132.4z" fill="#585858"/>
<path d="M-78.8 -40.4H-58.5V-19.8H-78.8z" fill="#575757"/>
<path d="M-59.1 -40.4H-38.9V-19.8H-59.1z" fill="#515151"/>
<path d="M-39.5 -40.4H-19.3V-19.8H-39.5z" fill="#4a4a4a"/>
<path d="M-19.9 -40.4H0.3V-19.8H-19.9z" fill="#474747"/>
<path d="M-0.3 -40.4H19.9V-19.8H-0.3z" fill="#4c4c4c"/>
<path d="M19.3 -40.4H39.5V-19.8H19.3z" fill="#575757"/>
<path d="M38.9 -40.4H59.1V-19.8H38.9z" fill="#5e5e5e"/>
<path d="M58.5 -40.4H78.8V-19.8H58.5z" fill="#575757"/>
<path d="M78.2 -40.4H132.4V-19.8H78.2z" fill="#525252"/>
<path d="M-132.4 -20.4H-78.2V0.3H-132.4z" fill="#616161"/>
<path d="M-78.8 -20.4H-58.5V0.3H-78.8z" fill="#5f5f5f"/>
<path d="M-59.1 -20.4H-38.9V0.3H-59.1z" fill="#565656"/>
<path d="M-39.5 -20.4H-19.3V0.3H-39.5z" fill="#515151"/>
<path d="M-19.9 -20.4H0.3V0.3H-19.9z" fill="#515151"/>
<path d="M-0.3 -20.4H19.9V0.3H-0.3z" fill="#555555"/>
<path d="M19.3 -20.4H39.5V0.3H19.3z" fill="#5b5b5b"/>
<path d="M38.9 -20.4H59.1V0.3H38.9z" fill="#606060"/>
<path d="M58.5 -20.4H78.8V0.3H58.5z" fill="#606060"/>
<path d="M78.2 -20.4H132.4V0.3H78.2z" fill="#5f5f5f"/>
<path d="M-132.4 -0.3H-78.2V20.4H-132.4z" fill="#656565"/>
<path d="M-78.8 -0.3H-58.5V20.4H-78.8z" fill="#636363"/>
<path d="M-59.1 -0.3H-38.9V20.4H-59.1z" fill="#5b5b5b"/>
<path d="M-39.5 -0.3H-19.3V20.4H-39.5z" fill="#565656"/>
<path d="M-19.9 -0.3H0.3V20.4H-19.9z" fill="#545454"/>
<path d="M-0.3 -0.3H19.9V20.4H-0.3z" fill="#565656"/>
<path d="M19.3 -0.3H39.5V20.4H19.3z" fill="#5a5a5a"/>
<path d="M38.9 -0.3H59.1V20.4H38.9z" fill="#606060"/>
<path d="M58.5 -0.3H78.8V20.4H58.5z" fill="#666666"/>
<path d="M78.2 -0.3H132.4V20.4H78.2z" fill="#686868"/>
<path d="M-132.4 19.8H-78.2V40.4H-132.4z" fill="#656565"/>
<path d="M-78.8 19.8H-58.5V40.4H-78.8z" fill="#646464"/>
<path d="M-59.1 19.8H-38.9V40.4H-59.1z" fill="#5f5f5f"/>
<path d="M-39.5 19.8H-19.3V40.4H-39.5z" fill="#565656"/>
<path d="M-19.9 19.8H0.3V40.4H-19.9z" fill="#4f4f4f"/>
<path d="M-0.3 19.8H19.9V40.4H-0.3z" fill="#4e4e4e"/>
<path d="M19.3 19.8H39.5V40.4H19.3z" fill="#545454"/>
<path d="M38.9 19.8H59.1V40.4H38.9z" fill="#5e5e5e"/>
<path d="M58.5 19.8H78.8V40.4H58.5z" fill="#686868"/>
<path d="M78.2 19.8H132.4V40.4H78.2z" fill="#6a6a6a"/>
<path d="M-132.4 39.8H-78.2V60.5H-132.4z" fill="#626262"/>
<path d="M-78.8 39.8H-58.5V60.5H-78.8z" fill="#636363"/>
<path d="M-59.1 39.8H-38.9V60.5H-59.1z" fill="#616161"/>
<path d="M-39.5 39.8H-19.3V60.5H-39.5z" fill="#545454"/>
<path d="M-19.9 39.8H0.3V60.5H-19.9z" fill="#474747"/>
<path d="M-0.3 39.8H19.9V60.5H-0.3z" fill="#444444"/>
<path d="M19.3 39.8H39.5V60.5H19.3z" fill="#4c4c4c"/>
<path d="M38.9 39.8H59.1V60.5H38.9z" fill="#5a5a5a"/>
<path d="M58.5 39.8H78.8V60.5H58.5z" fill="#676767"/>
<path d="M78.2 39.8H132.4V60.5H78.2z" fill="#696969"/>
<path d="M-132.4 59.9H-78.2V80.6H-132.4z" fill="#606060"/>
<path d="M-78.8 59.9H-58.5V80.6H-78.8z" fill="#626262"/>
<path d="M-59.1 59.9H-38.9V80.6H-59.1z" fill="#606060"/>
<path d="M-39.5 59.9H-19.3V80.6H-39.5z" fill="#4f4f4f"/>
<path d="M-19.9 59.9H0.3V80.6H-19.9z" fill="#3f3f3f"/>
<path d="M-0.3 59.9H19.9V80.6H-0.3z" fill="#3b3b3b"/>
<path d="M19.3 59.9H39.5V80.6H19.3z" fill="#464646"/>
<path d="M38.9 59.9H59.1V80.6H38.9z" fill="#565656"/>
<path d="M58.5 59.9H78.8V80.6H58.5z" fill="#636363"/>
<path d="M78.2 59.9H132.4V80.6H78.2z" fill="#656565"/>
<path d="M-132.4 80H-78.2V134.6H-132.4z" fill="#606060"/>
<path d="M-78.8 80H-58.5V134.6H-78.8z" fill="#626262"/>
<path d="M-59.1 80H-38.9V134.6H-59.1z" fill="#5f5f5f"/>
<path d="M-39.5 80H-19.3V134.6H-39.5z" fill="#4e4e4e"/>
<path d="M-19.9 80H0.3V134.6H-19.9z" fill="#3e3e3e"/>
<path d="M-0.3 80H19.9V134.6H-0.3z" fill="#3a3a3a"/>
<path d="M19.3 80H39.5V134.6H19.3z" fill="#454545"/>
<path d="M38.9 80H59.1V134.6H38.9z" fill="#555555"/>
<path d="M58.5 80H78.8V134.6H58.5z" fill="#636363"/>
<path d="M78.2 80H132.4V134.6H78.2z" fill="#646464"/>
</g>
<path class="ct r" d="M-19.1 -94.1l-3 25.1-0.2 7.5 0.5 5.1 1.7 5 1.7 2.6 2.5 2.3 2.4 1.3 4.9 0.8 4.9-1.1 4.9-3.1 4.7-5.3 2.8-5 2.6-7.6 1.3-7.5 0.1-22.6M24.5 94.1l-0.6-10.1-1.1-7.5-1.4-5-2.4-5-3.1-4-4.5-3.6-2.8-1.1-4.9-0.3-4.8 1.4-2.6 1.7-3.3 3.4-3.1 5-2.8 10-1.3 17.6M-34.8 -91.6l-2.7 30.1 0.3 7.6 1.8 7.5 4 7.5 5.7 5.8 7.3 3.8 7.4 0.8 7.3-1.6 7.4-4 7.3-6.8 4.9-7 5.1-11 3.2-10.1 1.7-10 0.7-15.1M33.8 91.6l-0.7-11.7-1.3-8.4-2.4-7.5-3.7-7.1-4.9-6.3-4.9-4.2-4.9-2.4-7.3-1.1-4.9 0.8-5.6 2.7-4.2 3.8-4.9 7.3-2.8 6.5-2.1 7.6-1.4 9.9-0.6 12.6M-59.8 -76.5l-0.7 5 0.4 5 1 5 2.7 7.6 7.4 15 8.2 12.6 5.3 5.5 7.3 5 4.9 1.9 4.9 1 7.4-0.1 7.3-2.2 9.8-5.9 7.4-6.7 6.5-8.6 7.3-12.5 8-17.6 3.1-10 1.7-12.5M73.3 -61.5l1.3 7.6 2.5 5 4.9 5 5 2.9M41.8 86.5l-1.1-12.5-2.1-10-3.8-10.1-4.2-7.7-7.3-8.7-7.4-5.5-7.3-3.1-7.4-0.9-7.3 1.4-4.9 2.7-4.9 4.9-4.9 7.9-4.6 11.5-2.7 10.1-1.5 10-0.9 15.1M49.9 81.5l-1.2-10-1.5-7.5-3-10.1-3.7-9.9-5-9.5-4.9-7-4.9-5.6-8.4-8.1-4.2-5-1.8-5 0-2.5 1.3-5.1 4-7.5 21.4-33.7 4.9-6.4 4.9-3.6 2.5-0.3 2.4 0.8 2.5 2.1 10 13.5 7.1 6.4 4.9 2.8 4.9 2 9.8 2M-87 -36.2l7.3 0.5 7.4 1.5 4.9 2.2 4.9 3.7 4.9 5.2 12.2 15.6 12.2 13.8 3.3 5 1 2.5 0.8 5-0.5 7.5-8 40.2-1.8 22.5M58.8 76.5l-2.3-12.5-6.2-22-4.9-14.3-6.9-16.4-2.5-7.5-0.7-5.1 0.2-5 2.1-7.5 2.6-5 2.7-3.8 2.5-2.4 2.4-1.3 2.5-0.3 2.4 0.5 12.3 6.4 7.3 2.7 9.8 2.1 12.3 1.2M-91.9 -20.1l7.3 0.8 7.4 1.9 4.9 2.3 4.9 3.7 4.9 5.6 4.7 7.1 5.7 10 3.6 7.5 3.1 10 1.3 12.6-0.5 10-2.4 20.1-0.9 12.5M-94.4 -0.2l4.9 0.9 4.9 1.6 3 1.5 4.4 3.2 5.3 6.8 2.3 5 2.2 6.8 1.4 10.8-0.4 5-1.3 5-2.2 3.1-2.4 1.3-4.9-0.3-5.1-1.6M69.9 67l-5.6-15.6-4.3-17.5-1.5-15.1 0.2-5 1.2-5 1.4-2.5 2.2-2.5 3.9-2.3 2.5-0.8 7.3-0.9 17.2-0.2"/>
</g>
<use href="#hR"/>
<use href="#nR"/>
</g>
<g transform="translate(2386.3,965.5)">
<g clip-path="url(#cR)">
<g filter="url(#fR)">
<path d="M-132.4 -134.6H-78.2V-80H-132.4z" fill="#626262"/>
<path d="M-78.8 -134.6H-58.5V-80H-78.8z" fill="#646464"/>
<path d="M-59.1 -134.6H-38.9V-80H-59.1z" fill="#646464"/>
<path d="M-39.5 -134.6H-19.3V-80H-39.5z" fill="#595959"/>
<path d="M-19.9 -134.6H0.3V-80H-19.9z" fill="#4e4e4e"/>
<path d="M-0.3 -134.6H19.9V-80H-0.3z" fill="#4e4e4e"/>
<path d="M19.3 -134.6H39.5V-80H19.3z" fill="#595959"/>
<path d="M38.9 -134.6H59.1V-80H38.9z" fill="#646464"/>
<path d="M58.5 -134.6H78.8V-80H58.5z" fill="#646464"/>
<path d="M78.2 -134.6H132.4V-80H78.2z" fill="#626262"/>
<path d="M-132.4 -80.6H-78.2V-59.9H-132.4z" fill="#636363"/>
<path d="M-78.8 -80.6H-58.5V-59.9H-78.8z" fill="#656565"/>
<path d="M-59.1 -80.6H-38.9V-59.9H-59.1z" fill="#666666"/>
<path d="M-39.5 -80.6H-19.3V-59.9H-39.5z" fill="#5a5a5a"/>
<path d="M-19.9 -80.6H0.3V-59.9H-19.9z" fill="#4e4e4e"/>
<path d="M-0.3 -80.6H19.9V-59.9H-0.3z" fill="#4e4e4e"/>
<path d="M19.3 -80.6H39.5V-59.9H19.3z" fill="#585858"/>
<path d="M38.9 -80.6H59.1V-59.9H38.9z" fill="#636363"/>
<path d="M58.5 -80.6H78.8V-59.9H58.5z" fill="#636363"/>
<path d="M78.2 -80.6H132.4V-59.9H78.2z" fill="#616161"/>
<path d="M-132.4 -60.5H-78.2V-39.8H-132.4z" fill="#686868"/>
<path d="M-78.8 -60.5H-58.5V-39.8H-78.8z" fill="#6b6b6b"/>
<path d="M-59.1 -60.5H-38.9V-39.8H-59.1z" fill="#696969"/>
<path d="M-39.5 -60.5H-19.3V-39.8H-39.5z" fill="#5d5d5d"/>
<path d="M-19.9 -60.5H0.3V-39.8H-19.9z" fill="#515151"/>
<path d="M-0.3 -60.5H19.9V-39.8H-0.3z" fill="#505050"/>
<path d="M19.3 -60.5H39.5V-39.8H19.3z" fill="#595959"/>
<path d="M38.9 -60.5H59.1V-39.8H38.9z" fill="#646464"/>
<path d="M58.5 -60.5H78.8V-39.8H58.5z" fill="#656565"/>
<path d="M78.2 -60.5H132.4V-39.8H78.2z" fill="#636363"/>
<path d="M-132.4 -40.4H-78.2V-19.8H-132.4z" fill="#6e6e6e"/>
<path d="M-78.8 -40.4H-58.5V-19.8H-78.8z" fill="#6e6e6e"/>
<path d="M-59.1 -40.4H-38.9V-19.8H-59.1z" fill="#686868"/>
<path d="M-39.5 -40.4H-19.3V-19.8H-39.5z" fill="#5e5e5e"/>
<path d="M-19.9 -40.4H0.3V-19.8H-19.9z" fill="#565656"/>
<path d="M-0.3 -40.4H19.9V-19.8H-0.3z" fill="#575757"/>
<path d="M19.3 -40.4H39.5V-19.8H19.3z" fill="#616161"/>
<path d="M38.9 -40.4H59.1V-19.8H38.9z" fill="#6a6a6a"/>
<path d="M58.5 -40.4H78.8V-19.8H58.5z" fill="#6d6d6d"/>
<path d="M78.2 -40.4H132.4V-19.8H78.2z" fill="#6b6b6b"/>
<path d="M-132.4 -20.4H-78.2V0.3H-132.4z" fill="#727272"/>
<path d="M-78.8 -20.4H-58.5V0.3H-78.8z" fill="#6f6f6f"/>
<path d="M-59.1 -20.4H-38.9V0.3H-59.1z" fill="#646464"/>
<path d="M-39.5 -20.4H-19.3V0.3H-39.5z" fill="#5c5c5c"/>
<path d="M-19.9 -20.4H0.3V0.3H-19.9z" fill="#5b5b5b"/>
<path d="M-0.3 -20.4H19.9V0.3H-0.3z" fill="#5f5f5f"/>
<path d="M19.3 -20.4H39.5V0.3H19.3z" fill="#686868"/>
<path d="M38.9 -20.4H59.1V0.3H38.9z" fill="#717171"/>
<path d="M58.5 -20.4H78.8V0.3H58.5z" fill="#747474"/>
<path d="M78.2 -20.4H132.4V0.3H78.2z" fill="#747474"/>
<path d="M-132.4 -0.3H-78.2V20.4H-132.4z" fill="#727272"/>
<path d="M-78.8 -0.3H-58.5V20.4H-78.8z" fill="#6e6e6e"/>
<path d="M-59.1 -0.3H-38.9V20.4H-59.1z" fill="#626262"/>
<path d="M-39.5 -0.3H-19.3V20.4H-39.5z" fill="#5c5c5c"/>
<path d="M-19.9 -0.3H0.3V20.4H-19.9z" fill="#5c5c5c"/>
<path d="M-0.3 -0.3H19.9V20.4H-0.3z" fill="#606060"/>
<path d="M19.3 -0.3H39.5V20.4H19.3z" fill="#686868"/>
<path d="M38.9 -0.3H59.1V20.4H38.9z" fill="#717171"/>
<path d="M58.5 -0.3H78.8V20.4H58.5z" fill="#777777"/>
<path d="M78.2 -0.3H132.4V20.4H78.2z" fill="#787878"/>
<path d="M-132.4 19.8H-78.2V40.4H-132.4z" fill="#6e6e6e"/>
<path d="M-78.8 19.8H-58.5V40.4H-78.8z" fill="#6c6c6c"/>
<path d="M-59.1 19.8H-38.9V40.4H-59.1z" fill="#626262"/>
<path d="M-39.5 19.8H-19.3V40.4H-39.5z" fill="#5b5b5b"/>
<path d="M-19.9 19.8H0.3V40.4H-19.9z" fill="#595959"/>
<path d="M-0.3 19.8H19.9V40.4H-0.3z" fill="#5b5b5b"/>
<path d="M19.3 19.8H39.5V40.4H19.3z" fill="#626262"/>
<path d="M38.9 19.8H59.1V40.4H38.9z" fill="#6b6b6b"/>
<path d="M58.5 19.8H78.8V40.4H58.5z" fill="#737373"/>
<path d="M78.2 19.8H132.4V40.4H78.2z" fill="#757575"/>
<path d="M-132.4 39.8H-78.2V60.5H-132.4z" fill="#6a6a6a"/>
<path d="M-78.8 39.8H-58.5V60.5H-78.8z" fill="#696969"/>
<path d="M-59.1 39.8H-38.9V60.5H-59.1z" fill="#636363"/>
<path d="M-39.5 39.8H-19.3V60.5H-39.5z" fill="#5b5b5b"/>
<path d="M-19.9 39.8H0.3V60.5H-19.9z" fill="#545454"/>
<path d="M-0.3 39.8H19.9V60.5H-0.3z" fill="#535353"/>
<path d="M19.3 39.8H39.5V60.5H19.3z" fill="#595959"/>
<path d="M38.9 39.8H59.1V60.5H38.9z" fill="#626262"/>
<path d="M58.5 39.8H78.8V60.5H58.5z" fill="#6d6d6d"/>
<path d="M78.2 39.8H132.4V60.5H78.2z" fill="#6f6f6f"/>
<path d="M-132.4 59.9H-78.2V80.6H-132.4z" fill="#686868"/>
<path d="M-78.8 59.9H-58.5V80.6H-78.8z" fill="#686868"/>
<path d="M-59.1 59.9H-38.9V80.6H-59.1z" fill="#646464"/>
<path d="M-39.5 59.9H-19.3V80.6H-39.5z" fill="#5a5a5a"/>
<path d="M-19.9 59.9H0.3V80.6H-19.9z" fill="#505050"/>
<path d="M-0.3 59.9H19.9V80.6H-0.3z" fill="#4d4d4d"/>
<path d="M19.3 59.9H39.5V80.6H19.3z" fill="#515151"/>
<path d="M38.9 59.9H59.1V80.6H38.9z" fill="#5b5b5b"/>
<path d="M58.5 59.9H78.8V80.6H58.5z" fill="#666666"/>
<path d="M78.2 59.9H132.4V80.6H78.2z" fill="#696969"/>
<path d="M-132.4 80H-78.2V134.6H-132.4z" fill="#686868"/>
<path d="M-78.8 80H-58.5V134.6H-78.8z" fill="#686868"/>
<path d="M-59.1 80H-38.9V134.6H-59.1z" fill="#646464"/>
<path d="M-39.5 80H-19.3V134.6H-39.5z" fill="#5a5a5a"/>
<path d="M-19.9 80H0.3V134.6H-19.9z" fill="#4f4f4f"/>
<path d="M-0.3 80H19.9V134.6H-0.3z" fill="#4c4c4c"/>
<path d="M19.3 80H39.5V134.6H19.3z" fill="#505050"/>
<path d="M38.9 80H59.1V134.6H38.9z" fill="#5a5a5a"/>
<path d="M58.5 80H78.8V134.6H58.5z" fill="#666666"/>
<path d="M78.2 80H132.4V134.6H78.2z" fill="#686868"/>
</g>
<path class="ct r" d="M-17.6 -96.6l1.3 22.6 1.3 7.5 2.2 7.6 3.4 7.5 3.3 4.1 2.4 1.7 4.9 1 4.9-1.2 4.3-3.1 3.1-3.8 2.9-6.2 1.3-5.1 0.8-7.5-0.7-25.1M34.9 91.6l-0.8-7.6-1.6-7.5-2.1-5-4.7-6.6-4.9-4.5-7.3-4.6-7.4-2.1-4.9 0.1-4.9 1.7-2.4 1.6-3.8 4.4-2.6 5-1.5 5-1.3 7.5-0.9 17.6M-29 -91.6l0.9 12.6 1.4 10 5 22.6 2.7 10 3.1 7.3 2.4 3.5 2.5 2.1 2.4 0.9 2.5 0.3 7.3-1.9 4.9-2.7 4.9-3.6 8.1-8.4 6.5-10 2.9-7.5 1.6-10.1 0.2-10-0.7-15.1M46.5 84l-2-10-3.1-7.5-5.1-7.6-5.7-6.2-9.8-8.2-9.8-6.4-12.2-5.4-7.4-1.1-4.9 1.4-2.4 1.8-3.2 4.1-3.3 7.5-2.7 10-1.7 10.1-1.5 25.1M-40.2 -89l1.6 12.5 5.2 25.1 1.3 17.5-1 15.1-4.5 25.1-1.2 10-1.2 72.7M56.7 79l-2.8-10-2.3-5-3.8-6.1-9.8-12.1-17.6-17-6.9-7.5-5.1-7.5-2.2-7.5 0.6-7.6 3.1-7.5 5-7.5 17-22.6 4.5-7.5 2.3-5 2.3-7.5 1-7.6 0.2-7.5-0.7-12.5M-59.2 -76.5l4 3.1 2.5 3.1 4.8 8.8 2.6 7.6 1.3 10-0.8 12.5-5.7 27.6-2.7 20.1-1.6 27.6-0.2 35.1M65.8 69l-4.1-7.5-6.8-10.1-21.3-25.1-7.3-10-3.1-7.5-0.7-5 0.3-5.1 2.1-7.5 5.4-10 12.6-17.4 9.8-10.8 7.4-5 4.9-1.2 7.3 0.5 9.8 2.5M-84.6 -43.4l12.3-1 4.9 1.3 2.4 1.7 3 5 1 5 0.3 5.1-2 25-2.3 15-2.4 10.1-2.8 7.6-4.6 7-4.9 4-4.9 2.1M77.2 58.4l-4.9-3.6-7.3-7.3-13.7-16.1-7.7-10.1-4.4-7.5-1.9-5-0.8-5 0.1-5.1 1.8-7.5 3.8-7.5 5.6-7.1 7.4-6 4.9-2.4 7.3-1.7 7.4-0.1 14.7 1.1M-94.4 -16.4l4.9 1.4 2.5 1.2 2.4 2.2 1.7 2.8 1 5-0.5 5.1-2.2 5.7-3.7 4.3-6.1 3.1M84.6 41.6l-7.4-2.7-4.9-2.9-5.5-4.6-6.4-7.6-4.9-7.5-2.3-5-1.5-7.5 0.4-5.1 1.7-5 3.6-5 3-2.5 4.6-2.4 4.9-1.4 4.9-0.6 19.6 0.2"/>
</g>
<use href="#hR"/>
<use href="#nR"/>
</g>
<g transform="translate(1588.3,1288.8)">
<g clip-path="url(#cR)">
<g filter="url(#fR)">
<path d="M-132.4 -134.6H-78.2V-80H-132.4z" fill="#404040"/>
<path d="M-78.8 -134.6H-58.5V-80H-78.8z" fill="#404040"/>
<path d="M-59.1 -134.6H-38.9V-80H-59.1z" fill="#404040"/>
<path d="M-39.5 -134.6H-19.3V-80H-39.5z" fill="#404040"/>
<path d="M-19.9 -134.6H0.3V-80H-19.9z" fill="#404040"/>
<path d="M-0.3 -134.6H19.9V-80H-0.3z" fill="#404040"/>
<path d="M19.3 -134.6H39.5V-80H19.3z" fill="#404040"/>
<path d="M38.9 -134.6H59.1V-80H38.9z" fill="#404040"/>
<path d="M58.5 -134.6H78.8V-80H58.5z" fill="#404040"/>
<path d="M78.2 -134.6H132.4V-80H78.2z" fill="#404040"/>
<path d="M-132.4 -80.6H-78.2V-59.9H-132.4z" fill="#3f3f3f"/>
<path d="M-78.8 -80.6H-58.5V-59.9H-78.8z" fill="#3f3f3f"/>
<path d="M-59.1 -80.6H-38.9V-59.9H-59.1z" fill="#414141"/>
<path d="M-39.5 -80.6H-19.3V-59.9H-39.5z" fill="#424242"/>
<path d="M-19.9 -80.6H0.3V-59.9H-19.9z" fill="#424242"/>
<path d="M-0.3 -80.6H19.9V-59.9H-0.3z" fill="#424242"/>
<path d="M19.3 -80.6H39.5V-59.9H19.3z" fill="#404040"/>
<path d="M38.9 -80.6H59.1V-59.9H38.9z" fill="#3e3e3e"/>
<path d="M58.5 -80.6H78.8V-59.9H58.5z" fill="#3d3d3d"/>
<path d="M78.2 -80.6H132.4V-59.9H78.2z" fill="#3d3d3d"/>
<path d="M-132.4 -60.5H-78.2V-39.8H-132.4z" fill="#3d3d3d"/>
<path d="M-78.8 -60.5H-58.5V-39.8H-78.8z" fill="#3e3e3e"/>
<path d="M-59.1 -60.5H-38.9V-39.8H-59.1z" fill="#444444"/>
<path d="M-39.5 -60.5H-19.3V-39.8H-39.5z" fill="#484848"/>
<path d="M-19.9 -60.5H0.3V-39.8H-19.9z" fill="#4b4b4b"/>
<path d="M-0.3 -60.5H19.9V-39.8H-0.3z" fill="#4b4b4b"/>
<path d="M19.3 -60.5H39.5V-39.8H19.3z" fill="#474747"/>
<path d="M38.9 -60.5H59.1V-39.8H38.9z" fill="#424242"/>
<path d="M58.5 -60.5H78.8V-39.8H58.5z" fill="#3b3b3b"/>
<path d="M78.2 -60.5H132.4V-39.8H78.2z" fill="#3a3a3a"/>
<path d="M-132.4 -40.4H-78.2V-19.8H-132.4z" fill="#424242"/>
<path d="M-78.8 -40.4H-58.5V-19.8H-78.8z" fill="#424242"/>
<path d="M-59.1 -40.4H-38.9V-19.8H-59.1z" fill="#464646"/>
<path d="M-39.5 -40.4H-19.3V-19.8H-39.5z" fill="#4a4a4a"/>
<path d="M-19.9 -40.4H0.3V-19.8H-19.9z" fill="#4e4e4e"/>
<path d="M-0.3 -40.4H19.9V-19.8H-0.3z" fill="#525252"/>
<path d="M19.3 -40.4H39.5V-19.8H19.3z" fill="#545454"/>
<path d="M38.9 -40.4H59.1V-19.8H38.9z" fill="#525252"/>
<path d="M58.5 -40.4H78.8V-19.8H58.5z" fill="#484848"/>
<path d="M78.2 -40.4H132.4V-19.8H78.2z" fill="#444444"/>
<path d="M-132.4 -20.4H-78.2V0.3H-132.4z" fill="#484848"/>
<path d="M-78.8 -20.4H-58.5V0.3H-78.8z" fill="#484848"/>
<path d="M-59.1 -20.4H-38.9V0.3H-59.1z" fill="#484848"/>
<path d="M-39.5 -20.4H-19.3V0.3H-39.5z" fill="#494949"/>
<path d="M-19.9 -20.4H0.3V0.3H-19.9z" fill="#4d4d4d"/>
<path d="M-0.3 -20.4H19.9V0.3H-0.3z" fill="#555555"/>
<path d="M19.3 -20.4H39.5V0.3H19.3z" fill="#5e5e5e"/>
<path d="M38.9 -20.4H59.1V0.3H38.9z" fill="#626262"/>
<path d="M58.5 -20.4H78.8V0.3H58.5z" fill="#585858"/>
<path d="M78.2 -20.4H132.4V0.3H78.2z" fill="#535353"/>
<path d="M-132.4 -0.3H-78.2V20.4H-132.4z" fill="#4c4c4c"/>
<path d="M-78.8 -0.3H-58.5V20.4H-78.8z" fill="#4c4c4c"/>
<path d="M-59.1 -0.3H-38.9V20.4H-59.1z" fill="#4a4a4a"/>
<path d="M-39.5 -0.3H-19.3V20.4H-39.5z" fill="#484848"/>
<path d="M-19.9 -0.3H0.3V20.4H-19.9z" fill="#494949"/>
<path d="M-0.3 -0.3H19.9V20.4H-0.3z" fill="#525252"/>
<path d="M19.3 -0.3H39.5V20.4H19.3z" fill="#5f5f5f"/>
<path d="M38.9 -0.3H59.1V20.4H38.9z" fill="#686868"/>
<path d="M58.5 -0.3H78.8V20.4H58.5z" fill="#616161"/>
<path d="M78.2 -0.3H132.4V20.4H78.2z" fill="#5d5d5d"/>
<path d="M-132.4 19.8H-78.2V40.4H-132.4z" fill="#4e4e4e"/>
<path d="M-78.8 19.8H-58.5V40.4H-78.8z" fill="#4f4f4f"/>
<path d="M-59.1 19.8H-38.9V40.4H-59.1z" fill="#4d4d4d"/>
<path d="M-39.5 19.8H-19.3V40.4H-39.5z" fill="#474747"/>
<path d="M-19.9 19.8H0.3V40.4H-19.9z" fill="#444444"/>
<path d="M-0.3 19.8H19.9V40.4H-0.3z" fill="#4a4a4a"/>
<path d="M19.3 19.8H39.5V40.4H19.3z" fill="#585858"/>
<path d="M38.9 19.8H59.1V40.4H38.9z" fill="#636363"/>
<path d="M58.5 19.8H78.8V40.4H58.5z" fill="#626262"/>
<path d="M78.2 19.8H132.4V40.4H78.2z" fill="#606060"/>
<path d="M-132.4 39.8H-78.2V60.5H-132.4z" fill="#505050"/>
<path d="M-78.8 39.8H-58.5V60.5H-78.8z" fill="#515151"/>
<path d="M-59.1 39.8H-38.9V60.5H-59.1z" fill="#515151"/>
<path d="M-39.5 39.8H-19.3V60.5H-39.5z" fill="#4a4a4a"/>
<path d="M-19.9 39.8H0.3V60.5H-19.9z" fill="#434343"/>
<path d="M-0.3 39.8H19.9V60.5H-0.3z" fill="#454545"/>
<path d="M19.3 39.8H39.5V60.5H19.3z" fill="#505050"/>
<path d="M38.9 39.8H59.1V60.5H38.9z" fill="#5c5c5c"/>
<path d="M58.5 39.8H78.8V60.5H58.5z" fill="#606060"/>
<path d="M78.2 39.8H132.4V60.5H78.2z" fill="#5f5f5f"/>
<path d="M-132.4 59.9H-78.2V80.6H-132.4z" fill="#545454"/>
<path d="M-78.8 59.9H-58.5V80.6H-78.8z" fill="#555555"/>
<path d="M-59.1 59.9H-38.9V80.6H-59.1z" fill="#565656"/>
<path d="M-39.5 59.9H-19.3V80.6H-39.5z" fill="#4f4f4f"/>
<path d="M-19.9 59.9H0.3V80.6H-19.9z" fill="#484848"/>
<path d="M-0.3 59.9H19.9V80.6H-0.3z" fill="#4a4a4a"/>
<path d="M19.3 59.9H39.5V80.6H19.3z" fill="#535353"/>
<path d="M38.9 59.9H59.1V80.6H38.9z" fill="#5d5d5d"/>
<path d="M58.5 59.9H78.8V80.6H58.5z" fill="#606060"/>
<path d="M78.2 59.9H132.4V80.6H78.2z" fill="#5f5f5f"/>
<path d="M-132.4 80H-78.2V134.6H-132.4z" fill="#555555"/>
<path d="M-78.8 80H-58.5V134.6H-78.8z" fill="#565656"/>
<path d="M-59.1 80H-38.9V134.6H-59.1z" fill="#575757"/>
<path d="M-39.5 80H-19.3V134.6H-39.5z" fill="#505050"/>
<path d="M-19.9 80H0.3V134.6H-19.9z" fill="#4b4b4b"/>
<path d="M-0.3 80H19.9V134.6H-0.3z" fill="#4d4d4d"/>
<path d="M19.3 80H39.5V134.6H19.3z" fill="#565656"/>
<path d="M38.9 80H59.1V134.6H38.9z" fill="#5f5f5f"/>
<path d="M58.5 80H78.8V134.6H58.5z" fill="#616161"/>
<path d="M78.2 80H132.4V134.6H78.2z" fill="#606060"/>
</g>
<path class="ct r" d="M-91.9 -28.2l14.7-1.7 4.9-1.5 4.9-2.5 3.3-2.5 4-4.3 8.6-13.2 3.7-4.7 4.9-4.5 4.9-3.1 4.9-2.3 7.4-2.2 7.3-1.3 7.4-0.6 7.3 0.1 9.8 1.2 7.4 1.5 9.8 3.1 14.7 6.6 21.5 13.7 8.9 5 8.8 3.4 12.3 2.5M-94.4 -7.8l34.3-1.2 7.4-1 4.9-1.6 2.4-1.6 2.7-3.1 2.2-4.8 5.6-15.3 2.8-5 3.9-4.8 4.9-3.8 4.9-2.4 4.9-1.5 7.4-1.2 7.3-0.2 7.4 0.5 7.3 1.3 9.8 2.4 9.8 3.2 12.3 4.9 24.5 12.2 9.8 3 9.8 1.5M-0.5 64l4.2-2.9 2.4-3.2 1.6-4 0.4-5-2-7.5-2.7-5-4.6-6.8-7.4-8.1-7.3-5.2-4.9-1.7-2.5 0.1-2.4 1.2-1.6 2.9-0.9 7.5 2.1 12.6 3.8 10 4.6 7.5 6.7 6.4 4.9 2 2.4 0.1 3.2-0.9M8.9 96.6l3-12.6 8-22.5 1-5.1 0.1-5-1.7-7.5-3.1-7.5-15.9-27.6-4.9-10.1-2.9-7.5-1.7-7.5-0.3-5 0.9-6.2 2.5-4.9 4.9-4.3 7.3-2.9 9.8-1 12.3 0.9 9.8 1.9 9.8 3.1 19.6 9.6 9.8 3.9 7.4 1.9 9.8 1.4M-92.5 23.8l15.3-1.5 7.3 0.4 4.9 1.3 4.9 2.3 7.4 5.5 7.3 8.8 17.6 28.4 5.6 12.5 3.1 12.6M24 94.1l1.7-10.1 5.2-22.5 0.4-5.1-0.3-5-1.1-5-2-5-14-27.6-4.7-12.5-1.5-7.6-0.2-5 0.8-5 2.4-5 2.2-2.5 3-2.3 4.9-2.2 7.4-1.4 9.8 0.4 7.4 1.5 4.9 1.7 19.6 9.8 7.3 3 9.8 2.8 7.4 1.1M-74.8 61.5l7.4-1.7 4.9-0.3 7.3 1.8 4.2 2.7 4.7 5 2.9 5 2.8 7.5 1.5 7.5M36.8 89l4.8-25 0.1-10.1-1-5-1.9-5-13.5-25.1-4.1-10-1.5-7.5-0.3-5.1 0.8-5 2.5-5 3-3 4.9-2.4 7.4-1.2 7.4 0.6 4.9 1.4 4.9 2.1 14.7 8.6 9.8 4.8 7.3 2.4 7.4 1.4M54.7 79l2.2-7.5 1.3-7.5 0.1-5.1-0.8-5-3.6-7.5-11-14.8-4.9-7.6-5.2-10.2-1.5-5-0.6-5 0.6-5.1 1.8-3.8 2.4-2.6 5-2.2 4.9-0.4 4.9 1.1 7.3 3.9 24.5 17.7 4.9 2.8 7.4 2.7"/>
</g>
<use href="#hR"/>
<use href="#nR"/>
</g>
<g transform="translate(1854.4,1288.8)">
<g clip-path="url(#cR)">
<g filter="url(#fR)">
<path d="M-132.4 -134.6H-78.2V-80H-132.4z" fill="#3e3e3e"/>
<path d="M-78.8 -134.6H-58.5V-80H-78.8z" fill="#3e3e3e"/>
<path d="M-59.1 -134.6H-38.9V-80H-59.1z" fill="#3e3e3e"/>
<path d="M-39.5 -134.6H-19.3V-80H-39.5z" fill="#3d3d3d"/>
<path d="M-19.9 -134.6H0.3V-80H-19.9z" fill="#3c3c3c"/>
<path d="M-0.3 -134.6H19.9V-80H-0.3z" fill="#3c3c3c"/>
<path d="M19.3 -134.6H39.5V-80H19.3z" fill="#3d3d3d"/>
<path d="M38.9 -134.6H59.1V-80H38.9z" fill="#3e3e3e"/>
<path d="M58.5 -134.6H78.8V-80H58.5z" fill="#3e3e3e"/>
<path d="M78.2 -134.6H132.4V-80H78.2z" fill="#3e3e3e"/>
<path d="M-132.4 -80.6H-78.2V-59.9H-132.4z" fill="#3d3d3d"/>
<path d="M-78.8 -80.6H-58.5V-59.9H-78.8z" fill="#3f3f3f"/>
<path d="M-59.1 -80.6H-38.9V-59.9H-59.1z" fill="#414141"/>
<path d="M-39.5 -80.6H-19.3V-59.9H-39.5z" fill="#414141"/>
<path d="M-19.9 -80.6H0.3V-59.9H-19.9z" fill="#3f3f3f"/>
<path d="M-0.3 -80.6H19.9V-59.9H-0.3z" fill="#3e3e3e"/>
<path d="M19.3 -80.6H39.5V-59.9H19.3z" fill="#3f3f3f"/>
<path d="M38.9 -80.6H59.1V-59.9H38.9z" fill="#3f3f3f"/>
<path d="M58.5 -80.6H78.8V-59.9H58.5z" fill="#3e3e3e"/>
<path d="M78.2 -80.6H132.4V-59.9H78.2z" fill="#3d3d3d"/>
<path d="M-132.4 -60.5H-78.2V-39.8H-132.4z" fill="#424242"/>
<path d="M-78.8 -60.5H-58.5V-39.8H-78.8z" fill="#454545"/>
<path d="M-59.1 -60.5H-38.9V-39.8H-59.1z" fill="#4c4c4c"/>
<path d="M-39.5 -60.5H-19.3V-39.8H-39.5z" fill="#4d4d4d"/>
<path d="M-19.9 -60.5H0.3V-39.8H-19.9z" fill="#4c4c4c"/>
<path d="M-0.3 -60.5H19.9V-39.8H-0.3z" fill="#4b4b4b"/>
<path d="M19.3 -60.5H39.5V-39.8H19.3z" fill="#4a4a4a"/>
<path d="M38.9 -60.5H59.1V-39.8H38.9z" fill="#484848"/>
<path d="M58.5 -60.5H78.8V-39.8H58.5z" fill="#434343"/>
<path d="M78.2 -60.5H132.4V-39.8H78.2z" fill="#424242"/>
<path d="M-132.4 -40.4H-78.2V-19.8H-132.4z" fill="#4c4c4c"/>
<path d="M-78.8 -40.4H-58.5V-19.8H-78.8z" fill="#4d4d4d"/>
<path d="M-59.1 -40.4H-38.9V-19.8H-59.1z" fill="#505050"/>
<path d="M-39.5 -40.4H-19.3V-19.8H-39.5z" fill="#535353"/>
<path d="M-19.9 -40.4H0.3V-19.8H-19.9z" fill="#555555"/>
<path d="M-0.3 -40.4H19.9V-19.8H-0.3z" fill="#585858"/>
<path d="M19.3 -40.4H39.5V-19.8H19.3z" fill="#585858"/>
<path d="M38.9 -40.4H59.1V-19.8H38.9z" fill="#565656"/>
<path d="M58.5 -40.4H78.8V-19.8H58.5z" fill="#4f4f4f"/>
<path d="M78.2 -40.4H132.4V-19.8H78.2z" fill="#4c4c4c"/>
<path d="M-132.4 -20.4H-78.2V0.3H-132.4z" fill="#565656"/>
<path d="M-78.8 -20.4H-58.5V0.3H-78.8z" fill="#545454"/>
<path d="M-59.1 -20.4H-38.9V0.3H-59.1z" fill="#505050"/>
<path d="M-39.5 -20.4H-19.3V0.3H-39.5z" fill="#535353"/>
<path d="M-19.9 -20.4H0.3V0.3H-19.9z" fill="#5a5a5a"/>
<path d="M-0.3 -20.4H19.9V0.3H-0.3z" fill="#606060"/>
<path d="M19.3 -20.4H39.5V0.3H19.3z" fill="#646464"/>
<path d="M38.9 -20.4H59.1V0.3H38.9z" fill="#636363"/>
<path d="M58.5 -20.4H78.8V0.3H58.5z" fill="#5b5b5b"/>
<path d="M78.2 -20.4H132.4V0.3H78.2z" fill="#595959"/>
<path d="M-132.4 -0.3H-78.2V20.4H-132.4z" fill="#5b5b5b"/>
<path d="M-78.8 -0.3H-58.5V20.4H-78.8z" fill="#585858"/>
<path d="M-59.1 -0.3H-38.9V20.4H-59.1z" fill="#505050"/>
<path d="M-39.5 -0.3H-19.3V20.4H-39.5z" fill="#515151"/>
<path d="M-19.9 -0.3H0.3V20.4H-19.9z" fill="#575757"/>
<path d="M-0.3 -0.3H19.9V20.4H-0.3z" fill="#606060"/>
<path d="M19.3 -0.3H39.5V20.4H19.3z" fill="#686868"/>
<path d="M38.9 -0.3H59.1V20.4H38.9z" fill="#6b6b6b"/>
<path d="M58.5 -0.3H78.8V20.4H58.5z" fill="#646464"/>
<path d="M78.2 -0.3H132.4V20.4H78.2z" fill="#616161"/>
<path d="M-132.4 19.8H-78.2V40.4H-132.4z" fill="#5a5a5a"/>
<path d="M-78.8 19.8H-58.5V40.4H-78.8z" fill="#585858"/>
<path d="M-59.1 19.8H-38.9V40.4H-59.1z" fill="#505050"/>
<path d="M-39.5 19.8H-19.3V40.4H-39.5z" fill="#4d4d4d"/>
<path d="M-19.9 19.8H0.3V40.4H-19.9z" fill="#505050"/>
<path d="M-0.3 19.8H19.9V40.4H-0.3z" fill="#595959"/>
<path d="M19.3 19.8H39.5V40.4H19.3z" fill="#646464"/>
<path d="M38.9 19.8H59.1V40.4H38.9z" fill="#6c6c6c"/>
<path d="M58.5 19.8H78.8V40.4H58.5z" fill="#676767"/>
<path d="M78.2 19.8H132.4V40.4H78.2z" fill="#646464"/>
<path d="M-132.4 39.8H-78.2V60.5H-132.4z" fill="#575757"/>
<path d="M-78.8 39.8H-58.5V60.5H-78.8z" fill="#555555"/>
<path d="M-59.1 39.8H-38.9V60.5H-59.1z" fill="#4e4e4e"/>
<path d="M-39.5 39.8H-19.3V60.5H-39.5z" fill="#4a4a4a"/>
<path d="M-19.9 39.8H0.3V60.5H-19.9z" fill="#4a4a4a"/>
<path d="M-0.3 39.8H19.9V60.5H-0.3z" fill="#525252"/>
<path d="M19.3 39.8H39.5V60.5H19.3z" fill="#5e5e5e"/>
<path d="M38.9 39.8H59.1V60.5H38.9z" fill="#676767"/>
<path d="M58.5 39.8H78.8V60.5H58.5z" fill="#656565"/>
<path d="M78.2 39.8H132.4V60.5H78.2z" fill="#636363"/>
<path d="M-132.4 59.9H-78.2V80.6H-132.4z" fill="#535353"/>
<path d="M-78.8 59.9H-58.5V80.6H-78.8z" fill="#515151"/>
<path d="M-59.1 59.9H-38.9V80.6H-59.1z" fill="#4a4a4a"/>
<path d="M-39.5 59.9H-19.3V80.6H-39.5z" fill="#494949"/>
<path d="M-19.9 59.9H0.3V80.6H-19.9z" fill="#4c4c4c"/>
<path d="M-0.3 59.9H19.9V80.6H-0.3z" fill="#525252"/>
<path d="M19.3 59.9H39.5V80.6H19.3z" fill="#585858"/>
<path d="M38.9 59.9H59.1V80.6H38.9z" fill="#5e5e5e"/>
<path d="M58.5 59.9H78.8V80.6H58.5z" fill="#5f5f5f"/>
<path d="M78.2 59.9H132.4V80.6H78.2z" fill="#5f5f5f"/>
<path d="M-132.4 80H-78.2V134.6H-132.4z" fill="#535353"/>
<path d="M-78.8 80H-58.5V134.6H-78.8z" fill="#505050"/>
<path d="M-59.1 80H-38.9V134.6H-59.1z" fill="#494949"/>
<path d="M-39.5 80H-19.3V134.6H-39.5z" fill="#494949"/>
<path d="M-19.9 80H0.3V134.6H-19.9z" fill="#4e4e4e"/>
<path d="M-0.3 80H19.9V134.6H-0.3z" fill="#535353"/>
<path d="M19.3 80H39.5V134.6H19.3z" fill="#585858"/>
<path d="M38.9 80H59.1V134.6H38.9z" fill="#5b5b5b"/>
<path d="M58.5 80H78.8V134.6H58.5z" fill="#5d5d5d"/>
<path d="M78.2 80H132.4V134.6H78.2z" fill="#5d5d5d"/>
</g>
<path class="ct r" d="M-79.7 -54.8l7.4-3 14.7-7.9 4.9-2 4.9-1.3 7.3-0.6 9.9 0.7 31.8 4.1 12.3 0.5 22-0.2 9.9 0.8 7.3 1.5 17.2 6.2 9.8 2.9M-87 -37l9.8-1.3 7.3-2.1 4.9-2.3 12.3-7.9 7.3-3.1 7.4-1.4 7.4-0.4 31.8 2.1 27 0.8 12.3 1.2 12.2 3.1 19.6 7.5 14.7 3M-91.9 -23l22 0.3 9.8-0.7 7.4-2.5 14.3-10.5 7.8-3.1 12.2-2 29.4-1.1 17.2 0.2 14.7 1.9 9.8 2.9 14.7 6.3 7.4 2.6 7.3 1.6 9.8 1.2M-4.3 96.6l1.3-10.1 4.1-20 0.2-7.6-1.5-7.5-3.7-7.5-7.1-8.3-9.8-7.8-7.4-4.1-4.9-1.3-2.4 0.1-2.5 0.9-2.5 2.1-3.4 5.9-9 20-10.9 20.1M20.3 94.1l0.3-12.6-0.3-7.5-1.8-10-2.9-10.1-3.1-7.5-4.3-7.5-7-10.1-11.6-15-5.8-10-2.6-7.6-0.6-5 0.4-5 2-5 1.9-2.5 4.1-3.5 4.9-2.6 4.9-1.8 14.7-2.8 14.7-0.6 9.8 1 7.4 1.6 7.3 2.6 14.7 6.8 7.4 2.7 9.8 2.3 9.8 1.1M-94.4 -7.4l9.8 1.4 4.9 1.5 4.9 2.4 4.1 3.4 2 2.5 1.4 2.5 1.7 5 0.7 5 0 7.5-0.7 5-1.8 6.5-2.5 5.1-2.4 3.6-4.9 4.8-4.1 2.6M50.3 82.8l-12.3-15.3-6.2-8.6-27.6-47.6-2.7-7.5-0.8-5.1 0.3-5 2-5 2.1-2.5 3.1-2.5 7.7-3.4 9.8-1.9 9.8 0.1 7.4 1.2 7.4 2.3 19.6 10 7.3 3.1 9.8 2.6 8.5 1M79.8 53.9l-7.1 2.5-5.3 1.2-9.8 0.4-7.3-1.9-7-4.7-5.3-5.9-4.9-7-9.5-17.2-3.1-7.5-1.2-5-0.1-5 0.5-2.5 1.1-2.6 1.8-2.5 3.1-2.4 2.5-1.1 7.3-1.4 5 0.3 4.9 1 4.9 1.8 4.9 2.6 22 15.5 7.4 4.5 7.3 3.3"/>
</g>
<use href="#hR"/>
<use href="#nR"/>
</g>
<g transform="translate(2120.8,1288.8)">
<g clip-path="url(#cR)">
<g filter="url(#fR)">
<path d="M-132.4 -134.6H-78.2V-80H-132.4z" fill="#484848"/>
<path d="M-78.8 -134.6H-58.5V-80H-78.8z" fill="#494949"/>
<path d="M-59.1 -134.6H-38.9V-80H-59.1z" fill="#4a4a4a"/>
<path d="M-39.5 -134.6H-19.3V-80H-39.5z" fill="#474747"/>
<path d="M-19.9 -134.6H0.3V-80H-19.9z" fill="#434343"/>
<path d="M-0.3 -134.6H19.9V-80H-0.3z" fill="#414141"/>
<path d="M19.3 -134.6H39.5V-80H19.3z" fill="#414141"/>
<path d="M38.9 -134.6H59.1V-80H38.9z" fill="#434343"/>
<path d="M58.5 -134.6H78.8V-80H58.5z" fill="#444444"/>
<path d="M78.2 -134.6H132.4V-80H78.2z" fill="#444444"/>
<path d="M-132.4 -80.6H-78.2V-59.9H-132.4z" fill="#474747"/>
<path d="M-78.8 -80.6H-58.5V-59.9H-78.8z" fill="#484848"/>
<path d="M-59.1 -80.6H-38.9V-59.9H-59.1z" fill="#494949"/>
<path d="M-39.5 -80.6H-19.3V-59.9H-39.5z" fill="#484848"/>
<path d="M-19.9 -80.6H0.3V-59.9H-19.9z" fill="#464646"/>
<path d="M-0.3 -80.6H19.9V-59.9H-0.3z" fill="#454545"/>
<path d="M19.3 -80.6H39.5V-59.9H19.3z" fill="#464646"/>
<path d="M38.9 -80.6H59.1V-59.9H38.9z" fill="#454545"/>
<path d="M58.5 -80.6H78.8V-59.9H58.5z" fill="#434343"/>
<path d="M78.2 -80.6H132.4V-59.9H78.2z" fill="#424242"/>
<path d="M-132.4 -60.5H-78.2V-39.8H-132.4z" fill="#464646"/>
<path d="M-78.8 -60.5H-58.5V-39.8H-78.8z" fill="#464646"/>
<path d="M-59.1 -60.5H-38.9V-39.8H-59.1z" fill="#484848"/>
<path d="M-39.5 -60.5H-19.3V-39.8H-39.5z" fill="#4c4c4c"/>
<path d="M-19.9 -60.5H0.3V-39.8H-19.9z" fill="#515151"/>
<path d="M-0.3 -60.5H19.9V-39.8H-0.3z" fill="#565656"/>
<path d="M19.3 -60.5H39.5V-39.8H19.3z" fill="#575757"/>
<path d="M38.9 -60.5H59.1V-39.8H38.9z" fill="#525252"/>
<path d="M58.5 -60.5H78.8V-39.8H58.5z" fill="#464646"/>
<path d="M78.2 -60.5H132.4V-39.8H78.2z" fill="#434343"/>
<path d="M-132.4 -40.4H-78.2V-19.8H-132.4z" fill="#4a4a4a"/>
<path d="M-78.8 -40.4H-58.5V-19.8H-78.8z" fill="#494949"/>
<path d="M-59.1 -40.4H-38.9V-19.8H-59.1z" fill="#4a4a4a"/>
<path d="M-39.5 -40.4H-19.3V-19.8H-39.5z" fill="#505050"/>
<path d="M-19.9 -40.4H0.3V-19.8H-19.9z" fill="#575757"/>
<path d="M-0.3 -40.4H19.9V-19.8H-0.3z" fill="#5e5e5e"/>
<path d="M19.3 -40.4H39.5V-19.8H19.3z" fill="#616161"/>
<path d="M38.9 -40.4H59.1V-19.8H38.9z" fill="#5e5e5e"/>
<path d="M58.5 -40.4H78.8V-19.8H58.5z" fill="#505050"/>
<path d="M78.2 -40.4H132.4V-19.8H78.2z" fill="#4c4c4c"/>
<path d="M-132.4 -20.4H-78.2V0.3H-132.4z" fill="#4f4f4f"/>
<path d="M-78.8 -20.4H-58.5V0.3H-78.8z" fill="#4e4e4e"/>
<path d="M-59.1 -20.4H-38.9V0.3H-59.1z" fill="#4e4e4e"/>
<path d="M-39.5 -20.4H-19.3V0.3H-39.5z" fill="#525252"/>
<path d="M-19.9 -20.4H0.3V0.3H-19.9z" fill="#585858"/>
<path d="M-0.3 -20.4H19.9V0.3H-0.3z" fill="#5f5f5f"/>
<path d="M19.3 -20.4H39.5V0.3H19.3z" fill="#666666"/>
<path d="M38.9 -20.4H59.1V0.3H38.9z" fill="#666666"/>
<path d="M58.5 -20.4H78.8V0.3H58.5z" fill="#5c5c5c"/>
<path d="M78.2 -20.4H132.4V0.3H78.2z" fill="#585858"/>
<path d="M-132.4 -0.3H-78.2V20.4H-132.4z" fill="#525252"/>
<path d="M-78.8 -0.3H-58.5V20.4H-78.8z" fill="#525252"/>
<path d="M-59.1 -0.3H-38.9V20.4H-59.1z" fill="#525252"/>
<path d="M-39.5 -0.3H-19.3V20.4H-39.5z" fill="#515151"/>
<path d="M-19.9 -0.3H0.3V20.4H-19.9z" fill="#535353"/>
<path d="M-0.3 -0.3H19.9V20.4H-0.3z" fill="#5a5a5a"/>
<path d="M19.3 -0.3H39.5V20.4H19.3z" fill="#656565"/>
<path d="M38.9 -0.3H59.1V20.4H38.9z" fill="#6b6b6b"/>
<path d="M58.5 -0.3H78.8V20.4H58.5z" fill="#656565"/>
<path d="M78.2 -0.3H132.4V20.4H78.2z" fill="#616161"/>
<path d="M-132.4 19.8H-78.2V40.4H-132.4z" fill="#535353"/>
<path d="M-78.8 19.8H-58.5V40.4H-78.8z" fill="#555555"/>
<path d="M-59.1 19.8H-38.9V40.4H-59.1z" fill="#555555"/>
<path d="M-39.5 19.8H-19.3V40.4H-39.5z" fill="#4e4e4e"/>
<path d="M-19.9 19.8H0.3V40.4H-19.9z" fill="#4a4a4a"/>
<path d="M-0.3 19.8H19.9V40.4H-0.3z" fill="#515151"/>
<path d="M19.3 19.8H39.5V40.4H19.3z" fill="#606060"/>
<path d="M38.9 19.8H59.1V40.4H38.9z" fill="#6c6c6c"/>
<path d="M58.5 19.8H78.8V40.4H58.5z" fill="#686868"/>
<path d="M78.2 19.8H132.4V40.4H78.2z" fill="#646464"/>
<path d="M-132.4 39.8H-78.2V60.5H-132.4z" fill="#535353"/>
<path d="M-78.8 39.8H-58.5V60.5H-78.8z" fill="#555555"/>
<path d="M-59.1 39.8H-38.9V60.5H-59.1z" fill="#575757"/>
<path d="M-39.5 39.8H-19.3V60.5H-39.5z" fill="#4c4c4c"/>
<path d="M-19.9 39.8H0.3V60.5H-19.9z" fill="#434343"/>
<path d="M-0.3 39.8H19.9V60.5H-0.3z" fill="#484848"/>
<path d="M19.3 39.8H39.5V60.5H19.3z" fill="#5a5a5a"/>
<path d="M38.9 39.8H59.1V60.5H38.9z" fill="#696969"/>
<path d="M58.5 39.8H78.8V60.5H58.5z" fill="#676767"/>
<path d="M78.2 39.8H132.4V60.5H78.2z" fill="#636363"/>
<path d="M-132.4 59.9H-78.2V80.6H-132.4z" fill="#535353"/>
<path d="M-78.8 59.9H-58.5V80.6H-78.8z" fill="#555555"/>
<path d="M-59.1 59.9H-38.9V80.6H-59.1z" fill="#575757"/>
<path d="M-39.5 59.9H-19.3V80.6H-39.5z" fill="#4d4d4d"/>
<path d="M-19.9 59.9H0.3V80.6H-19.9z" fill="#434343"/>
<path d="M-0.3 59.9H19.9V80.6H-0.3z" fill="#464646"/>
<path d="M19.3 59.9H39.5V80.6H19.3z" fill="#555555"/>
<path d="M38.9 59.9H59.1V80.6H38.9z" fill="#626262"/>
<path d="M58.5 59.9H78.8V80.6H58.5z" fill="#626262"/>
<path d="M78.2 59.9H132.4V80.6H78.2z" fill="#5e5e5e"/>
<path d="M-132.4 80H-78.2V134.6H-132.4z" fill="#535353"/>
<path d="M-78.8 80H-58.5V134.6H-78.8z" fill="#555555"/>
<path d="M-59.1 80H-38.9V134.6H-59.1z" fill="#565656"/>
<path d="M-39.5 80H-19.3V134.6H-39.5z" fill="#4d4d4d"/>
<path d="M-19.9 80H0.3V134.6H-19.9z" fill="#454545"/>
<path d="M-0.3 80H19.9V134.6H-0.3z" fill="#474747"/>
<path d="M19.3 80H39.5V134.6H19.3z" fill="#545454"/>
<path d="M38.9 80H59.1V134.6H38.9z" fill="#616161"/>
<path d="M58.5 80H78.8V134.6H58.5z" fill="#606060"/>
<path d="M78.2 80H132.4V134.6H78.2z" fill="#5d5d5d"/>
</g>
<path class="ct r" d="M-34.5 -91.6l1.4 7.6 2.4 5 2.5 2.7 4.9 2.8 7.3 2 7.4 0.9 41.7 0.2 7.4 0.6 7.3 1.5 4.9 1.8 4.9 2.7 4.9 3.9 11.8 11 5.4 3.4 4.9 2.1M-84.6 -43.5l12.4-0.4 4.8-1.6 4.3-3.4 1.3-2.5 0.6-2.5-1-5-2.8-4-4.9-4.4M5.7 96.6l1-22.6-0.6-7.2-1.2-5.3-3-7.6-3.1-4.2-4.9-3.1-2.5-0.3-2.4 0.6-2.6 2-2.3 4.4-1.2 5.6-0.1 12.6 2.1 25.1M-94.4 -15.4l29.4 1.5 7.4-0.6 4.9-1.4 4.9-2.9 4.8-5 12.4-20.1 4.4-5 3-2.5 4.8-2.8 7.4-2.7 9.8-2.2 12.2-1.5 9.8-0.5 9.8 0.2 7.4 0.9 7.4 1.9 4.9 2.3 4.9 3.3 12.2 11.5 6.2 4.6 8.5 4.2 7.4 1.9M18.3 94.1l-0.2-17.6-1.1-10-2.3-10.1-3.7-9.7-4.9-7.7-7.3-7.2-7.4-4-4.9-0.9-4.9 0.9-2.4 1.3-2.5 2.2-3.2 5.1-2.5 7.5-1.2 7.5-0.5 7.5 0.9 32.7M27.4 94.1l-0.6-15.1-1.8-12.5-4-15.1-5.2-12.5-4.8-8.1-4.9-6.2-7.3-7.2-17.2-13.6-2.4-3-2.3-4.6-1.1-7.5 0.8-7.5 1.9-7.5 3.4-7.6 3.4-5 3.7-3.6 5.6-3.9 5.4-2.5 6.1-1.9 7.4-1.4 9.8-0.8 7.3 0.3 9.9 2.1 7.3 3.5 7.4 5.6 12.2 11.6 7.4 4.9 7.3 3.1 9.8 2.1M-89.5 26.7l3.7-2.9 6.1-3.5 4.9-1.9 7.4-1.4 7.3 0 4.9 0.9 4.9 2.6 2.5 2.8 2.4 6.1 1.3 9.5 0.6 47.6M36.2 89l-1.3-12.5-2.1-10-4.7-15.1-4.8-12.9-7.4-14.8-16.1-22.4-3.1-5.1-2.1-5-1.2-5-0.1-5 0.8-5 2.2-5.5 3.3-4.6 2.6-2.5 3.9-2.7 4.9-2.3 4.9-1.4 7.4-1 9.8 0.6 7.4 2.2 7.3 4.1 4.9 4 12.3 11.5 7.3 5.2 9.8 4.5 4.9 1.3 7.4 1.2M46.6 84l-4.2-15-13.4-35.1-18.3-40.2-1.2-5-0.1-5 1.2-5 1.3-2.5 1.9-2.5 3-2.5 6.5-2.9 7.3-0.6 7.4 1.6 4.9 2.2 4.9 3.2 17.2 15.2 7.3 5.4 9.8 4.9 7.4 2.2 4.9 0.8M67.4 61.8l-4.9 1.7-2.4 0.3-4.9-1.1-4.9-3.6-4.9-6.9-7.4-17.6-9.1-28.3-1.5-10.1 0.7-5 1.4-2.5 3.6-2.7 4.9-0.6 4.9 1.1 4.9 2.5 4.9 3.7 29 26.1 10 10M83.3 48.9l-7.8 7.5-8.1 5.4"/>
</g>
<use href="#hR"/>
<use href="#nR"/>
</g>
<g transform="translate(2386.1,1288.8)">
<g clip-path="url(#cR)">
<g filter="url(#fR)">
<path d="M-132.4 -134.6H-78.2V-80H-132.4z" fill="#3c3c3c"/>
<path d="M-78.8 -134.6H-58.5V-80H-78.8z" fill="#3c3c3c"/>
<path d="M-59.1 -134.6H-38.9V-80H-59.1z" fill="#3c3c3c"/>
<path d="M-39.5 -134.6H-19.3V-80H-39.5z" fill="#3b3b3b"/>
<path d="M-19.9 -134.6H0.3V-80H-19.9z" fill="#3b3b3b"/>
<path d="M-0.3 -134.6H19.9V-80H-0.3z" fill="#3d3d3d"/>
<path d="M19.3 -134.6H39.5V-80H19.3z" fill="#404040"/>
<path d="M38.9 -134.6H59.1V-80H38.9z" fill="#444444"/>
<path d="M58.5 -134.6H78.8V-80H58.5z" fill="#464646"/>
<path d="M78.2 -134.6H132.4V-80H78.2z" fill="#464646"/>
<path d="M-132.4 -80.6H-78.2V-59.9H-132.4z" fill="#3b3b3b"/>
<path d="M-78.8 -80.6H-58.5V-59.9H-78.8z" fill="#3c3c3c"/>
<path d="M-59.1 -80.6H-38.9V-59.9H-59.1z" fill="#3e3e3e"/>
<path d="M-39.5 -80.6H-19.3V-59.9H-39.5z" fill="#3d3d3d"/>
<path d="M-19.9 -80.6H0.3V-59.9H-19.9z" fill="#3c3c3c"/>
<path d="M-0.3 -80.6H19.9V-59.9H-0.3z" fill="#3e3e3e"/>
<path d="M19.3 -80.6H39.5V-59.9H19.3z" fill="#414141"/>
<path d="M38.9 -80.6H59.1V-59.9H38.9z" fill="#454545"/>
<path d="M58.5 -80.6H78.8V-59.9H58.5z" fill="#454545"/>
<path d="M78.2 -80.6H132.4V-59.9H78.2z" fill="#454545"/>
<path d="M-132.4 -60.5H-78.2V-39.8H-132.4z" fill="#3c3c3c"/>
<path d="M-78.8 -60.5H-58.5V-39.8H-78.8z" fill="#3d3d3d"/>
<path d="M-59.1 -60.5H-38.9V-39.8H-59.1z" fill="#424242"/>
<path d="M-39.5 -60.5H-19.3V-39.8H-39.5z" fill="#454545"/>
<path d="M-19.9 -60.5H0.3V-39.8H-19.9z" fill="#474747"/>
<path d="M-0.3 -60.5H19.9V-39.8H-0.3z" fill="#484848"/>
<path d="M19.3 -60.5H39.5V-39.8H19.3z" fill="#484848"/>
<path d="M38.9 -60.5H59.1V-39.8H38.9z" fill="#474747"/>
<path d="M58.5 -60.5H78.8V-39.8H58.5z" fill="#454545"/>
<path d="M78.2 -60.5H132.4V-39.8H78.2z" fill="#444444"/>
<path d="M-132.4 -40.4H-78.2V-19.8H-132.4z" fill="#3f3f3f"/>
<path d="M-78.8 -40.4H-58.5V-19.8H-78.8z" fill="#3e3e3e"/>
<path d="M-59.1 -40.4H-38.9V-19.8H-59.1z" fill="#414141"/>
<path d="M-39.5 -40.4H-19.3V-19.8H-39.5z" fill="#4a4a4a"/>
<path d="M-19.9 -40.4H0.3V-19.8H-19.9z" fill="#535353"/>
<path d="M-0.3 -40.4H19.9V-19.8H-0.3z" fill="#565656"/>
<path d="M19.3 -40.4H39.5V-19.8H19.3z" fill="#515151"/>
<path d="M38.9 -40.4H59.1V-19.8H38.9z" fill="#4b4b4b"/>
<path d="M58.5 -40.4H78.8V-19.8H58.5z" fill="#484848"/>
<path d="M78.2 -40.4H132.4V-19.8H78.2z" fill="#484848"/>
<path d="M-132.4 -20.4H-78.2V0.3H-132.4z" fill="#444444"/>
<path d="M-78.8 -20.4H-58.5V0.3H-78.8z" fill="#404040"/>
<path d="M-59.1 -20.4H-38.9V0.3H-59.1z" fill="#3e3e3e"/>
<path d="M-39.5 -20.4H-19.3V0.3H-39.5z" fill="#4c4c4c"/>
<path d="M-19.9 -20.4H0.3V0.3H-19.9z" fill="#5c5c5c"/>
<path d="M-0.3 -20.4H19.9V0.3H-0.3z" fill="#616161"/>
<path d="M19.3 -20.4H39.5V0.3H19.3z" fill="#595959"/>
<path d="M38.9 -20.4H59.1V0.3H38.9z" fill="#4f4f4f"/>
<path d="M58.5 -20.4H78.8V0.3H58.5z" fill="#4c4c4c"/>
<path d="M78.2 -20.4H132.4V0.3H78.2z" fill="#4e4e4e"/>
<path d="M-132.4 -0.3H-78.2V20.4H-132.4z" fill="#484848"/>
<path d="M-78.8 -0.3H-58.5V20.4H-78.8z" fill="#444444"/>
<path d="M-59.1 -0.3H-38.9V20.4H-59.1z" fill="#3f3f3f"/>
<path d="M-39.5 -0.3H-19.3V20.4H-39.5z" fill="#4b4b4b"/>
<path d="M-19.9 -0.3H0.3V20.4H-19.9z" fill="#5b5b5b"/>
<path d="M-0.3 -0.3H19.9V20.4H-0.3z" fill="#616161"/>
<path d="M19.3 -0.3H39.5V20.4H19.3z" fill="#5b5b5b"/>
<path d="M38.9 -0.3H59.1V20.4H38.9z" fill="#535353"/>
<path d="M58.5 -0.3H78.8V20.4H58.5z" fill="#525252"/>
<path d="M78.2 -0.3H132.4V20.4H78.2z" fill="#535353"/>
<path d="M-132.4 19.8H-78.2V40.4H-132.4z" fill="#4c4c4c"/>
<path d="M-78.8 19.8H-58.5V40.4H-78.8z" fill="#494949"/>
<path d="M-59.1 19.8H-38.9V40.4H-59.1z" fill="#434343"/>
<path d="M-39.5 19.8H-19.3V40.4H-39.5z" fill="#494949"/>
<path d="M-19.9 19.8H0.3V40.4H-19.9z" fill="#525252"/>
<path d="M-0.3 19.8H19.9V40.4H-0.3z" fill="#585858"/>
<path d="M19.3 19.8H39.5V40.4H19.3z" fill="#585858"/>
<path d="M38.9 19.8H59.1V40.4H38.9z" fill="#575757"/>
<path d="M58.5 19.8H78.8V40.4H58.5z" fill="#565656"/>
<path d="M78.2 19.8H132.4V40.4H78.2z" fill="#565656"/>
<path d="M-132.4 39.8H-78.2V60.5H-132.4z" fill="#4d4d4d"/>
<path d="M-78.8 39.8H-58.5V60.5H-78.8z" fill="#4c4c4c"/>
<path d="M-59.1 39.8H-38.9V60.5H-59.1z" fill="#484848"/>
<path d="M-39.5 39.8H-19.3V60.5H-39.5z" fill="#464646"/>
<path d="M-19.9 39.8H0.3V60.5H-19.9z" fill="#474747"/>
<path d="M-0.3 39.8H19.9V60.5H-0.3z" fill="#4b4b4b"/>
<path d="M19.3 39.8H39.5V60.5H19.3z" fill="#525252"/>
<path d="M38.9 39.8H59.1V60.5H38.9z" fill="#585858"/>
<path d="M58.5 39.8H78.8V60.5H58.5z" fill="#595959"/>
<path d="M78.2 39.8H132.4V60.5H78.2z" fill="#585858"/>
<path d="M-132.4 59.9H-78.2V80.6H-132.4z" fill="#4d4d4d"/>
<path d="M-78.8 59.9H-58.5V80.6H-78.8z" fill="#4d4d4d"/>
<path d="M-59.1 59.9H-38.9V80.6H-59.1z" fill="#494949"/>
<path d="M-39.5 59.9H-19.3V80.6H-39.5z" fill="#444444"/>
<path d="M-19.9 59.9H0.3V80.6H-19.9z" fill="#414141"/>
<path d="M-0.3 59.9H19.9V80.6H-0.3z" fill="#444444"/>
<path d="M19.3 59.9H39.5V80.6H19.3z" fill="#4b4b4b"/>
<path d="M38.9 59.9H59.1V80.6H38.9z" fill="#535353"/>
<path d="M58.5 59.9H78.8V80.6H58.5z" fill="#575757"/>
<path d="M78.2 59.9H132.4V80.6H78.2z" fill="#575757"/>
<path d="M-132.4 80H-78.2V134.6H-132.4z" fill="#4d4d4d"/>
<path d="M-78.8 80H-58.5V134.6H-78.8z" fill="#4c4c4c"/>
<path d="M-59.1 80H-38.9V134.6H-59.1z" fill="#494949"/>
<path d="M-39.5 80H-19.3V134.6H-39.5z" fill="#454545"/>
<path d="M-19.9 80H0.3V134.6H-19.9z" fill="#424242"/>
<path d="M-0.3 80H19.9V134.6H-0.3z" fill="#444444"/>
<path d="M19.3 80H39.5V134.6H19.3z" fill="#4a4a4a"/>
<path d="M38.9 80H59.1V134.6H38.9z" fill="#515151"/>
<path d="M58.5 80H78.8V134.6H58.5z" fill="#575757"/>
<path d="M78.2 80H132.4V134.6H78.2z" fill="#575757"/>
</g>
<path class="ct r" d="M-91.9 -24l7.3 1.5 4.9 1.9 7.4 3.8 9.8 6.2 2.4 1 2.5-0.4 1.8-3.8 0.4-2.5-0.1-17.6 1-10 2.8-7.5 3.9-4.8 4.9-3.1 7.4-2.3 34.3-3.8 7.3-1.5 7.4-2.4 4.9-2.8 4.9-4.7 3.5-7.2 1.5-7.6M-94.4 -1.8l7.4 2.5 4.9 3 5.9 5.1 16.1 15.6 4.9 3.7 4.9 1.9 2.5-0.2 2.4-1.6 1.2-1.9 1.3-2.7 1.4-7.3 1-12.5 0.6-27.6 1.3-10.1 3.1-7.5 2.4-3 4.9-3.7 4.9-2.2 7.4-2 45.5-6.6 11.3-2.6 14.3-4 7.3-1.4 2.5 0.5 5.2 10 2.1 2.8 4.9 3.8 4.9 1.9M13.9 96.6l-0.4-7.6-1.2-7.5-1.6-5-2.9-5-4.1-4.3-4.9-3.4-7.4-3.3-7.3-1.5-4.9 0.2-2.5 0.6-2.7 1.7-2.2 2.6-1.9 4.9-0.9 5-0.7 17.6M29.4 91.6l-1-7.6-1.9-7.5-3.5-7.5-3.8-5-5.1-5.1-7-5-20.6-10.6-4.9-3.1-4.9-4.6-4.1-6.8-1.9-5-1.6-7.5-1.1-10-0.2-10.1 1-15 1.8-7.5 2.1-5.1 3.7-5 2.8-2.5 4.9-2.9 4.9-1.9 7.3-1.7 7.4-1 17.1-0.2 9.8 1.3 4.9 1.4 5 2.2 4.9 3.1 14.7 12.5 7.3 3.5 7.4 1.2 17.1-0.8M-91.9 24.6l4.9 2.3 7.3 5.4 9.7 9.1 6.2 7.5 3.7 6.5 2.5 6.6 1.4 7 0.3 10M42.4 86.5l-1.6-7.5-2.8-7.5-4.4-7.5-5.4-6.4-6.8-6.2-5.5-3.7-19.6-10-6.2-3.8-5.5-5.1-3.6-5-2.5-5-1.6-5-1.8-12.5-0.1-7.6 0.9-7.5 1.3-5 2-5 4.9-6.6 2.4-2 4.9-2.8 4.9-1.6 7.4-1.3 7.3-0.3 4.9 0.5 9.8 2.5 7.5 4 7.3 6.7 12.2 15 4.1 3.4 3.3 2 4.9 1.8 7.3 0.6 22.1-2.5M56.9 79l-2.9-7.5-4.4-7.5-7.7-10.1-7.2-7.5-9-5.7-24.5-10.2-7.3-4.9-4.9-4.9-2.9-4.4-2-4.8-2-10.2 0.5-10.1 1.2-5 2.3-5 2.9-3.8 2.4-2.2 7.4-3.7 4.9-1.1 4.9-0.2 4.9 0.5 4.9 1.4 7.6 4.1 7.1 6.8 3.9 5.7 10.8 19.7 2.5 3.1 4.9 4.2 7.3 2.9 7.4 0.9 24.5-2.3M23.3 24.3l-7.4 0.4-4.9-0.8-4.9-1.7-7.3-4.6-5.4-6.3-2.6-7.5-0.5-5.1 0.6-5 0.6-2.5 2.4-4.4 4.9-4.4 2.4-1.2 4.9-1.1 7.4 0.8 4.9 2.4 2.4 1.9 5.2 6 2.7 5 2.5 7.6 0.9 5 0.1 5-1.3 5-1.7 2.5-3.5 2.2-2.4 0.8"/>
</g>
<use href="#hR"/>
<use href="#nR"/>
</g>
<text class="s" x="41" y="50" font-size="39.3" textLength="235.5" lengthAdjust="spacingAndGlyphs">Theta Power</text>
<text class="s" x="38.8" y="686" font-size="39.3" textLength="275.5" lengthAdjust="spacingAndGlyphs">Alpha-1-Power</text>
<text class="s" x="38" y="1234.7" font-size="39.3" textLength="274.6" lengthAdjust="spacingAndGlyphs">Alpha-2-Power</text>
<text class="s" x="1291.2" y="89.3" font-size="39.3" textLength="214.4" lengthAdjust="spacingAndGlyphs">Beta Power</text>
<text class="s" x="1290.8" y="768.5" font-size="39.3" textLength="273.4" lengthAdjust="spacingAndGlyphs">Gamma Power</text>
<text class="s" x="40.4" y="245" font-size="28" textLength="130" lengthAdjust="spacingAndGlyphs">Eyes-Open</text>
<text class="s" x="38" y="814.5" font-size="28" textLength="130" lengthAdjust="spacingAndGlyphs">Eyes-Open</text>
<text class="s" x="42.6" y="1362.4" font-size="28" textLength="130" lengthAdjust="spacingAndGlyphs">Eyes-Open</text>
<text class="s" x="1297" y="288.5" font-size="28" textLength="130" lengthAdjust="spacingAndGlyphs">Eyes-Open</text>
<text class="s" x="1299.4" y="980.3" font-size="28" textLength="130" lengthAdjust="spacingAndGlyphs">Eyes-Open</text>
<text class="s" x="40.4" y="521.3" font-size="28" textLength="148.5" lengthAdjust="spacingAndGlyphs">Eyes-Closed</text>
<text class="s" x="38" y="1091" font-size="28" textLength="148.5" lengthAdjust="spacingAndGlyphs">Eyes-Closed</text>
<text class="s" x="42.6" y="1639.3" font-size="28" textLength="148.5" lengthAdjust="spacingAndGlyphs">Eyes-Closed</text>
<text class="s" x="1292.5" y="600" font-size="28" textLength="148.5" lengthAdjust="spacingAndGlyphs">Eyes-Closed</text>
<text class="s" x="1295" y="1292.2" font-size="28" textLength="148.5" lengthAdjust="spacingAndGlyphs">Eyes-Closed</text>
<text class="s" x="268" y="94.7" font-size="28" textLength="108" lengthAdjust="spacingAndGlyphs">Baseline</text>
<text class="s" x="457" y="94.7" font-size="28" textLength="170" lengthAdjust="spacingAndGlyphs">Video Control</text>
<text class="s" x="754.5" y="91.3" font-size="28" textLength="90" lengthAdjust="spacingAndGlyphs">Qigong</text>
<text class="s" x="706.6" y="126" font-size="28" textLength="194" lengthAdjust="spacingAndGlyphs">Mental Practice</text>
<text class="s" x="979.3" y="89.7" font-size="28" textLength="90" lengthAdjust="spacingAndGlyphs">Qigong</text>
<text class="s" x="923.9" y="123.2" font-size="28" textLength="221.8" lengthAdjust="spacingAndGlyphs">Physical Training</text>
<text class="s" x="1533.6" y="129" font-size="28" textLength="107" lengthAdjust="spacingAndGlyphs">Baseline</text>
<text class="s" x="1770.3" y="129" font-size="28" textLength="169.5" lengthAdjust="spacingAndGlyphs">Video Control</text>
<text class="s" x="2066.7" y="126.9" font-size="28" textLength="90" lengthAdjust="spacingAndGlyphs">Qigong</text>
<text class="s" x="2018" y="159.7" font-size="28" textLength="195" lengthAdjust="spacingAndGlyphs">Mental Practice</text>
<text class="s" x="2327.2" y="124.2" font-size="28" textLength="90" lengthAdjust="spacingAndGlyphs">Qigong</text>
<text class="s" x="2272" y="157" font-size="28" textLength="222" lengthAdjust="spacingAndGlyphs">Physical Training</text>
<rect x="2592.4" y="1103.8" width="19.7" height="384.2" fill="url(#jet)" stroke="#0a0a14" stroke-width="2.2"/>
<path d="M2592.4 1198.5h4.5m10.7 0h4.5M2592.4 1294.6h4.5m10.7 0h4.5M2592.4 1390.7h4.5m10.7 0h4.5" stroke="#0a0a14" stroke-width="1.6"/>
<text class="a" x="2618" y="1113.7" textLength="29.5" lengthAdjust="spacingAndGlyphs">50</text>
<text class="a" x="2618" y="1208.2" textLength="29.5" lengthAdjust="spacingAndGlyphs">47</text>
<text class="a" x="2618" y="1304.8" textLength="29.5" lengthAdjust="spacingAndGlyphs">44</text>
<text class="a" x="2618" y="1401" textLength="29.5" lengthAdjust="spacingAndGlyphs">41</text>
<text class="a" x="2618" y="1497.8" textLength="29.5" lengthAdjust="spacingAndGlyphs">38</text>
</svg></body></html>
